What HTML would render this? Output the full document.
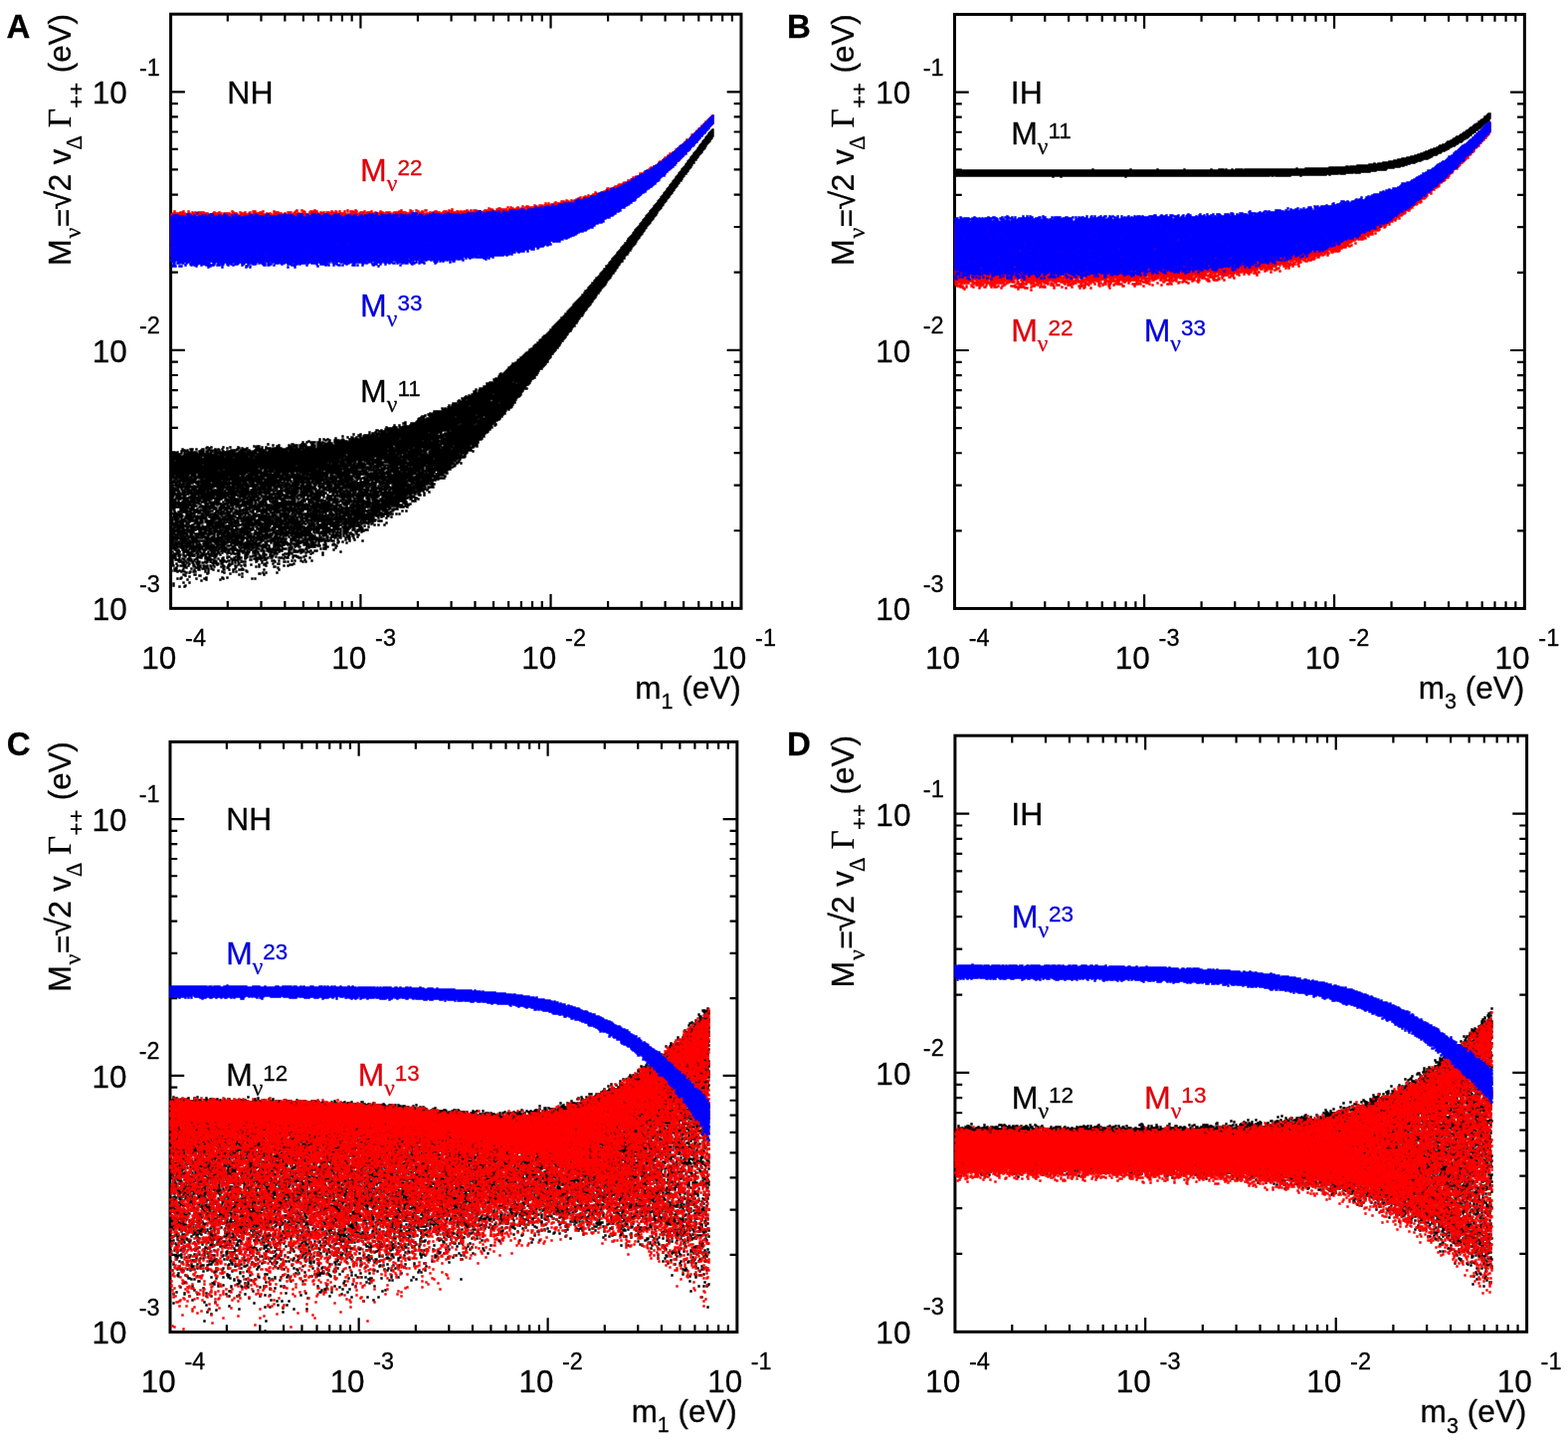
<!DOCTYPE html>
<html lang="en"><head><meta charset="utf-8"><title>Neutrino mass matrix elements versus lightest neutrino mass</title>
<style>html,body{margin:0;padding:0;background:#fff}svg{display:block}text{font-family:"Liberation Sans",sans-serif}.s{font-family:"Liberation Serif",serif}</style></head>
<body><svg width="1576" height="1449" viewBox="0 0 1576 1449">
<rect width="1576" height="1449" fill="#fff"/>
<g id="panel-A">
<rect x="171.6" y="14.2" width="573.35" height="597.15" fill="none" stroke="#000" stroke-width="3"/>
<path d="M228.83 611.35v-7.3M228.83 14.2v7.3M262.49 611.35v-7.3M262.49 14.2v7.3M286.36 611.35v-7.3M286.36 14.2v7.3M304.88 611.35v-7.3M304.88 14.2v7.3M320.02 611.35v-7.3M320.02 14.2v7.3M332.81 611.35v-7.3M332.81 14.2v7.3M343.9 611.35v-7.3M343.9 14.2v7.3M353.67 611.35v-7.3M353.67 14.2v7.3M362.42 611.35v-14.31M362.42 14.2v14.31M419.95 611.35v-7.3M419.95 14.2v7.3M453.6 611.35v-7.3M453.6 14.2v7.3M477.48 611.35v-7.3M477.48 14.2v7.3M496 611.35v-7.3M496 14.2v7.3M511.13 611.35v-7.3M511.13 14.2v7.3M523.93 611.35v-7.3M523.93 14.2v7.3M535.01 611.35v-7.3M535.01 14.2v7.3M544.79 611.35v-7.3M544.79 14.2v7.3M553.53 611.35v-14.31M553.53 14.2v14.31M611.07 611.35v-7.3M611.07 14.2v7.3M644.72 611.35v-7.3M644.72 14.2v7.3M668.6 611.35v-7.3M668.6 14.2v7.3M687.12 611.35v-7.3M687.12 14.2v7.3M702.25 611.35v-7.3M702.25 14.2v7.3M715.05 611.35v-7.3M715.05 14.2v7.3M726.13 611.35v-7.3M726.13 14.2v7.3M735.9 611.35v-7.3M735.9 14.2v7.3M171.6 533.23h7.3M744.95 533.23h-7.3M171.6 487.53h7.3M744.95 487.53h-7.3M171.6 455.11h7.3M744.95 455.11h-7.3M171.6 429.96h7.3M744.95 429.96h-7.3M171.6 409.41h7.3M744.95 409.41h-7.3M171.6 392.04h7.3M744.95 392.04h-7.3M171.6 376.99h7.3M744.95 376.99h-7.3M171.6 363.71h7.3M744.95 363.71h-7.3M171.6 351.84h14.31M744.95 351.84h-14.31M171.6 273.71h7.3M744.95 273.71h-7.3M171.6 228.02h7.3M744.95 228.02h-7.3M171.6 195.59h7.3M744.95 195.59h-7.3M171.6 170.44h7.3M744.95 170.44h-7.3M171.6 149.89h7.3M744.95 149.89h-7.3M171.6 132.52h7.3M744.95 132.52h-7.3M171.6 117.47h7.3M744.95 117.47h-7.3M171.6 104.2h7.3M744.95 104.2h-7.3M171.6 92.32h14.31M744.95 92.32h-14.31" fill="none" stroke="#000" stroke-width="2.2"/>
<g transform="translate(1 1)" fill="none" stroke-width="1.4" stroke-linecap="square">
<path stroke="#000" d="M715 129h1m-2 1h2m-3 1h3m-4 1h4m-5 1h5m-5 1h5m-6 1h6m-7 1h7m-8 1h7m-7 1h7m-8 1h7m-8 1h7m-8 1h8m-8 1h7m-8 1h7m-8 1h7m-8 1h7m-7 1h7m-8 1h7m-8 1h8m-8 1h7m-8 1h7m-8 1h7m-8 1h8m-9 1h8m-8 1h7m-8 1h7m-8 1h7m-8 1h8m-8 1h7m-8 1h7m-8 1h8m-9 1h7m-7 1h7m-8 1h8m-9 1h7m-7 1h7m-8 1h7m-8 1h8m-9 1h8m-9 1h8m-8 1h7m-8 1h8m-9 1h8m-9 1h8m-8 1h8m-9 1h7m-8 1h8m-9 1h8m-8 1h7m-8 1h8m-9 1h8m-9 1h9m-9 1h7m-8 1h8m-9 1h8m-9 1h8m-8 1h8m-9 1h8m-9 1h8m-9 1h8m-8 1h8m-9 1h8m-9 1h8m-9 1h9m-9 1h8m-9 1h8m-9 1h8m-9 1h9m-9 1h8m-9 1h8m-9 1h8m-9 1h9m-9 1h8m-9 1h8m-9 1h8m-9 1h9m-10 1h9m-9 1h8m-9 1h9m-10 1h9m-10 1h9m-10 1h9m-9 1h8m-9 1h9m-10 1h9m-10 1h10m-11 1h10m-10 1h9m-10 1h9m-10 1h10m-11 1h10m-10 1h9m-10 1h9m-10 1h10m-11 1h10m-10 1h9m-10 1h9m-10 1h9m-10 1h10m-11 1h10m-11 1h10m-10 1h10m-11 1h10m-11 1h10m-10 1h10m-11 1h10m-11 1h10m-11 1h10m-11 1h11m-12 1h11m-11 1h10m-11 1h10m-10 1h10m-12 1h11m-11 1h11m-12 1h11m-12 1h11m-12 1h11m-12 1h11m-11 1h11m-12 1h11m-12 1h12m-13 1h11m-12 1h12m-12 1h11m-12 1h12m-13 1h11m-12 1h11m-12 1h12m-13 1h13m-13 1h11m-12 1h12m-13 1h13m-14 1h12m-12 1h11m-12 1h12m-14 1h13m-13 1h12m-12 1h12m-14 1h13m-13 1h12m-13 1h13m-14 1h13m-14 1h13m-14 1h14m-14 1h12m-13 1h13m-14 1h13m-15 1h15m-15 1h14m-15 1h14m-15 1h14m-14 1h13m-15 1h15m-15 1h14m-15 1h15m-16 1h15m-16 1h15m-16 1h15m-15 1h14m-15 1h14m-16 1h16m-16 1h15m-16 1h15m-15 1h15m-17 1h15m-15 1h15m-16 1h15m-16 1h16m-17 1h16m-17 1h16m-17 1h16m-17 1h17m-18 1h17m-18 1h17m-18 1h18m-18 1h17m-18 1h17m-18 1h17m-18 1h17m-18 1h18m-19 1h18m-19 1h18m-18 1h17m-19 1h19m-19 1h18m-19 1h19m-20 1h19m-21 1h19m-19 1h19m-20 1h19m-20 1h19m-20 1h20m-21 1h20m-21 1h21m-22 1h20m-21 1h21m-22 1h22m-23 1h21m-21 1h20m-22 1h22m-22 1h21m-22 1h22m-23 1h21m-22 1h21m-22 1h22m-24 1h23m-24 1h23m-24 1h24m-24 1h23m-25 1h24m-25 1h24m-24 1h24m-26 1h24m-24 1h24m-26 1h25m-26 1h26m-27 1h26m-26 1h25m-27 1h27m-29 1h27m-27 1h27m-28 1h27m-29 1h28m-29 1h28m-29 1h29m-30 1h28m-29 1h29m-31 1h31m-31 1h30m-32 1h31m-32 1h31m-31 1h31m-33 1h33m-36 1h34m-34 1h34m-35 1h34m-35 1h34m-36 1h35m-35 1h34m-35 1h35m-36 1h33m-34 1h34m-35 1h34m-38 1h1m2 0h35m-39 1h38m-38 1h38m-39 1h37m-37 1h37m-40 1h40m-42 1h40m-40 1h38m-37 1h37m-42 1h23m2 0h16m-44 1h29m2 0h13m-44 1h43m-43 1h42m-45 1h43m-43 1h42m-46 1h48m-52 1h1m3 0h48m-52 1h1m2 0h45m-50 1h3m2 0h45m-50 1h3m2 0h44m-49 1h48m-50 1h21m2 0h27m-53 1h1m2 0h50m-56 1h1m2 0h52m-56 1h55m-58 1h56m-56 1h55m-58 1h1m3 0h3m2 0h23m2 0h24m-59 1h33m2 0h23m-58 1h58m-63 1h4m2 0h40m2 0h15m-63 1h61m-65 1h1m2 0h62m-65 1h1m2 0h17m2 0h42m-65 1h65m-71 1h1m2 0h1m2 0h64m-70 1h68m-67 1h64m2 0h1m-76 1h73m-73 1h72m-76 1h1m2 0h73m-78 1h78m-81 1h1m2 0h48m2 0h26m-82 1h4m3 0h74m-82 1h4m5 0h25m2 0h26m3 0h17m-84 1h5m3 0h74m-83 1h60m2 0h21m-83 1h82m-83 1h81m-93 1h1m10 0h80m-93 1h3m5 0h85m-93 1h3m5 0h49m2 0h14m2 0h16m2 0h1m-103 1h1m4 0h1m5 0h1m4 0h48m2 0h14m2 0h17m2 0h2m-103 1h1m4 0h1m3 0h89m3 0h1m-110 1h1m6 0h4m2 0h94m-107 1h11m3 0h93m-108 1h106m-115 1h2m3 0h1m3 0h106m-115 1h74m2 0h37m-120 1h1m5 0h1m3 0h7m2 0h54m6 0h41m-120 1h1m2 0h7m2 0h47m2 0h12m3 0h43m-135 1h1m6 0h1m8 0h1m2 0h2m2 0h62m3 0h1m2 0h42m-133 1h1m4 0h3m3 0h5m2 0h67m2 0h45m-143 1h1m15 0h3m2 0h15m2 0h105m-143 1h1m4 0h1m3 0h2m3 0h1m2 0h2m2 0h81m2 0h36m2 0h1m-150 1h1m11 0h1m3 0h2m2 0h2m3 0h123m-164 1h1m3 0h1m3 0h1m7 0h1m6 0h1m6 0h50m2 0h38m2 0h42m-164 1h1m3 0h7m4 0h5m2 0h3m5 0h90m2 0h41m-174 1h1m10 0h1m5 0h1m3 0h1m4 0h13m2 0h73m2 0h7m2 0h46m-177 1h1m3 0h9m2 0h3m2 0h1m5 0h2m4 0h145m-177 1h1m3 0h1m3 0h5m2 0h8m2 0h5m2 0h105m2 0h38m-212 1h1m23 0h2m8 0h4m6 0h2m4 0h5m2 0h8m3 0h143m-211 1h1m4 0h1m5 0h1m9 0h1m2 0h6m2 0h7m5 0h4m2 0h125m2 0h34m-225 1h1m2 0h3m13 0h1m3 0h3m9 0h3m2 0h4m2 0h7m5 0h4m2 0h76m2 0h46m3 0h9m2 0h15m3 0h5m-272 1h1m3 0h1m11 0h1m6 0h1m7 0h1m15 0h6m2 0h1m3 0h1m10 0h3m9 0h9m2 0h16m2 0h76m2 0h80m2 0h1m-273 1h6m11 0h1m3 0h1m2 0h1m7 0h2m2 0h1m4 0h1m8 0h4m2 0h1m3 0h5m2 0h9m5 0h7m2 0h2m2 0h4m2 0h10m2 0h77m2 0h17m2 0h25m2 0h32m-293 1h1m7 0h3m3 0h1m5 0h2m2 0h1m2 0h1m5 0h1m2 0h1m3 0h1m4 0h1m9 0h3m2 0h6m8 0h7m3 0h122m2 0h32m3 0h27m2 0h19m-291 1h3m2 0h1m2 0h3m3 0h1m4 0h3m4 0h4m2 0h6m2 0h1m8 0h7m3 0h6m2 0h1m5 0h12m2 0h32m2 0h106m2 0h19m2 0h41m-292 1h7m3 0h1m7 0h5m2 0h11m2 0h1m3 0h1m3 0h10m2 0h12m2 0h13m3 0h19m2 0h138m3 0h44m-303 1h3m2 0h1m3 0h1m2 0h13m2 0h5m2 0h2m3 0h2m2 0h20m4 0h6m2 0h10m2 0h168m3 0h39m5 0h1m-303 1h3m2 0h1m3 0h1m2 0h1m2 0h10m2 0h5m2 0h6m2 0h43m2 0h129m2 0h6m2 0h9m2 0h14m2 0h3m2 0h39m-297 1h10m2 0h28m2 0h214m2 0h30m2 0h6m-295 1h7m4 0h34m2 0h35m2 0h89m3 0h53m3 0h58m3 0h1m-296 1h228m2 0h66m-296 1h31m2 0h20m2 0h22m2 0h169m2 0h46m-295 1h30m2 0h29m2 0h18m2 0h89m2 0h29m3 0h88m-295 1h204m2 0h25m2 0h30m2 0h26m-291 1h169m2 0h41m2 0h22m2 0h50m2 0h1m-291 1h3m2 0h181m2 0h23m4 0h22m2 0h47m3 0h1m-290 1h174m2 0h10m2 0h3m4 0h5m2 0h35m2 0h44m2 0h5m-290 1h157m2 0h16m2 0h5m2 0h2m2 0h6m3 0h87m3 0h2m2 0h1m-291 1h159m2 0h6m2 0h11m2 0h2m2 0h17m2 0h7m6 0h69m3 0h1m-291 1h30m2 0h163m2 0h6m2 0h12m2 0h15m2 0h19m2 0h25m2 0h1m-285 1h124m2 0h68m5 0h2m2 0h24m2 0h51m3 0h2m-286 1h178m2 0h31m3 0h1m3 0h10m2 0h8m2 0h1m2 0h11m2 0h7m2 0h20m-285 1h171m2 0h5m2 0h29m2 0h43m2 0h27m-283 1h87m3 0h56m2 0h46m2 0h5m2 0h1m2 0h3m2 0h8m2 0h33m2 0h25m-281 1h52m2 0h37m3 0h2m2 0h89m5 0h23m3 0h10m3 0h23m2 0h25m-281 1h47m2 0h42m2 0h10m2 0h48m2 0h16m3 0h22m3 0h15m3 0h33m2 0h26m-278 1h91m2 0h60m2 0h43m6 0h3m2 0h5m2 0h15m2 0h3m2 0h27m3 0h9m-277 1h77m2 0h18m2 0h2m2 0h15m2 0h3m3 0h1m2 0h9m2 0h51m2 0h5m2 0h21m2 0h23m2 0h6m2 0h1m2 0h6m3 0h10m-278 1h25m2 0h48m2 0h24m2 0h6m3 0h6m2 0h4m2 0h3m2 0h27m2 0h20m2 0h39m3 0h40m2 0h8m2 0h2m-278 1h18m2 0h5m2 0h48m2 0h10m3 0h29m2 0h9m2 0h26m2 0h2m4 0h13m4 0h25m2 0h5m2 0h27m2 0h18m2 0h8m-274 1h3m2 0h13m2 0h5m2 0h41m3 0h2m3 0h58m2 0h21m3 0h5m2 0h17m2 0h4m6 0h19m2 0h25m4 0h30m-276 1h17m2 0h38m2 0h23m2 0h29m2 0h22m2 0h19m2 0h30m4 0h1m2 0h72m6 0h1m-276 1h21m2 0h70m4 0h56m2 0h17m2 0h8m3 0h5m2 0h70m2 0h11m-275 1h2m2 0h2m2 0h18m2 0h4m2 0h72m3 0h11m3 0h34m2 0h8m2 0h14m2 0h13m2 0h16m2 0h44m2 0h11m-272 1h4m2 0h16m5 0h90m3 0h43m3 0h14m4 0h1m2 0h1m3 0h15m2 0h25m2 0h12m2 0h17m-268 1h3m2 0h19m2 0h23m2 0h7m2 0h30m3 0h17m2 0h8m2 0h11m2 0h3m3 0h12m2 0h3m2 0h21m2 0h3m3 0h1m3 0h9m2 0h5m2 0h54m-265 1h55m2 0h1m2 0h15m2 0h33m2 0h1m3 0h1m2 0h1m2 0h20m2 0h6m2 0h26m2 0h6m3 0h9m3 0h1m2 0h9m2 0h28m2 0h17m-262 1h8m3 0h2m2 0h23m3 0h28m2 0h4m2 0h5m3 0h32m2 0h31m2 0h13m2 0h31m2 0h6m2 0h28m4 0h18m2 0h2m-262 1h1m2 0h2m2 0h14m3 0h3m2 0h47m2 0h5m2 0h23m2 0h1m2 0h5m3 0h7m2 0h3m2 0h5m2 0h18m2 0h11m2 0h30m3 0h30m2 0h24m-260 1h8m2 0h4m7 0h33m2 0h17m2 0h25m2 0h22m2 0h2m3 0h5m2 0h3m2 0h2m2 0h2m2 0h6m2 0h42m4 0h3m2 0h4m4 0h20m2 0h13m2 0h5m-260 1h15m2 0h2m2 0h28m2 0h3m2 0h26m3 0h38m2 0h11m3 0h2m2 0h6m3 0h5m2 0h6m2 0h25m2 0h7m2 0h3m2 0h6m3 0h19m2 0h12m7 0h1m-263 1h2m3 0h59m2 0h7m2 0h26m2 0h8m2 0h4m2 0h9m2 0h15m3 0h6m2 0h6m2 0h6m2 0h28m2 0h4m2 0h1m2 0h9m2 0h34m2 0h6m-264 1h4m2 0h37m3 0h32m4 0h3m2 0h8m2 0h4m2 0h4m2 0h12m2 0h22m4 0h12m2 0h30m3 0h3m2 0h11m2 0h21m2 0h16m2 0h1m2 0h6m-264 1h7m3 0h1m3 0h4m3 0h4m3 0h13m6 0h6m2 0h23m4 0h19m2 0h4m3 0h2m3 0h31m3 0h1m2 0h4m2 0h18m2 0h15m2 0h4m2 0h17m2 0h36m2 0h1m-259 1h8m2 0h43m2 0h9m2 0h2m2 0h8m2 0h23m2 0h1m4 0h1m2 0h6m2 0h7m2 0h1m2 0h8m2 0h3m2 0h2m3 0h13m3 0h3m4 0h1m3 0h19m2 0h6m2 0h36m2 0h11m-258 1h8m3 0h3m2 0h22m2 0h12m2 0h1m2 0h21m2 0h11m2 0h35m2 0h12m3 0h4m2 0h3m2 0h30m2 0h4m2 0h13m2 0h3m2 0h2m3 0h1m3 0h31m3 0h1m-258 1h4m2 0h3m2 0h10m2 0h11m2 0h19m2 0h29m2 0h12m2 0h2m2 0h6m2 0h14m2 0h13m2 0h9m5 0h12m2 0h13m3 0h9m2 0h12m2 0h37m2 0h1m5 0h1m-260 1h4m3 0h2m2 0h88m4 0h1m2 0h6m3 0h13m2 0h13m2 0h11m3 0h1m2 0h13m2 0h3m3 0h3m2 0h10m2 0h1m2 0h44m2 0h1m4 0h1m4 0h1m-260 1h14m2 0h50m2 0h23m2 0h19m4 0h11m3 0h7m3 0h11m2 0h3m6 0h2m2 0h1m3 0h15m2 0h21m3 0h35m2 0h2m4 0h1m-254 1h17m2 0h47m2 0h17m2 0h3m4 0h1m2 0h20m2 0h6m2 0h26m3 0h1m4 0h2m2 0h75m4 0h1m2 0h3m3 0h1m-254 1h2m2 0h5m2 0h3m5 0h5m2 0h1m2 0h28m2 0h16m2 0h1m2 0h7m2 0h6m2 0h4m2 0h1m2 0h11m2 0h5m2 0h15m2 0h10m3 0h53m2 0h11m2 0h12m3 0h4m5 0h2m3 0h1m-254 1h2m2 0h5m2 0h2m4 0h7m2 0h16m3 0h18m3 0h8m2 0h11m3 0h11m2 0h7m2 0h15m2 0h4m3 0h13m3 0h1m3 0h5m2 0h20m2 0h8m2 0h13m3 0h24m2 0h7m-244 1h1m3 0h50m3 0h6m5 0h1m2 0h18m2 0h19m2 0h11m2 0h1m3 0h4m3 0h1m3 0h9m3 0h1m2 0h5m3 0h1m5 0h11m2 0h1m2 0h7m3 0h3m2 0h7m4 0h35m-246 1h1m2 0h48m2 0h3m2 0h11m2 0h5m2 0h5m3 0h3m2 0h33m2 0h2m4 0h1m2 0h2m2 0h9m7 0h12m4 0h2m3 0h4m2 0h10m3 0h4m2 0h4m4 0h3m2 0h23m2 0h2m3 0h4m-249 1h5m2 0h3m2 0h5m3 0h10m2 0h9m3 0h7m3 0h14m2 0h4m2 0h13m3 0h11m2 0h2m2 0h5m7 0h4m2 0h2m2 0h22m3 0h12m2 0h6m2 0h3m3 0h1m2 0h6m4 0h3m2 0h6m2 0h26m4 0h2m3 0h1m2 0h1m-249 1h5m2 0h1m4 0h12m2 0h4m2 0h7m5 0h5m5 0h20m2 0h12m3 0h5m3 0h1m2 0h5m4 0h5m2 0h1m2 0h4m6 0h4m3 0h4m2 0h11m3 0h10m2 0h1m2 0h22m2 0h3m2 0h34m6 0h4m-246 1h5m2 0h1m3 0h25m2 0h3m2 0h5m4 0h1m2 0h27m2 0h1m3 0h7m4 0h8m4 0h14m2 0h8m3 0h5m3 0h6m2 0h5m4 0h10m2 0h25m3 0h34m5 0h4m-245 1h27m3 0h5m2 0h11m3 0h1m2 0h14m3 0h10m2 0h2m2 0h8m4 0h25m2 0h6m5 0h10m3 0h9m2 0h7m3 0h9m2 0h26m3 0h17m4 0h4m-237 1h20m2 0h8m4 0h17m2 0h15m3 0h11m2 0h2m2 0h5m2 0h1m6 0h31m2 0h1m2 0h22m2 0h1m2 0h2m5 0h7m3 0h2m2 0h3m2 0h38m4 0h5m2 0h1m-241 1h24m4 0h2m4 0h3m3 0h17m3 0h22m2 0h1m2 0h14m2 0h36m3 0h20m4 0h5m2 0h5m2 0h52m3 0h6m-241 1h5m2 0h19m4 0h2m2 0h9m3 0h1m3 0h4m2 0h7m2 0h11m2 0h93m3 0h3m3 0h14m2 0h4m2 0h31m2 0h4m-239 1h18m2 0h6m2 0h16m5 0h5m2 0h3m2 0h1m3 0h6m2 0h3m2 0h14m2 0h22m3 0h2m3 0h43m2 0h3m4 0h1m3 0h40m2 0h16m-238 1h18m2 0h3m5 0h18m2 0h11m2 0h2m2 0h1m2 0h2m5 0h15m2 0h1m3 0h29m2 0h2m2 0h7m2 0h21m2 0h4m2 0h52m6 0h1m2 0h4m3 0h1m-238 1h4m5 0h14m3 0h1m5 0h14m2 0h15m5 0h1m4 0h8m2 0h6m3 0h17m3 0h35m2 0h20m2 0h13m2 0h9m6 0h15m3 0h2m2 0h5m-226 1h1m6 0h7m3 0h8m2 0h7m2 0h1m4 0h3m2 0h3m2 0h4m2 0h3m2 0h2m3 0h10m3 0h26m2 0h31m2 0h36m2 0h14m3 0h22m2 0h6m-226 1h2m5 0h29m2 0h2m3 0h6m2 0h4m3 0h2m2 0h13m2 0h4m3 0h15m2 0h24m2 0h4m4 0h13m2 0h21m2 0h35m2 0h6m4 0h2m8 0h1m3 0h1m-234 1h1m3 0h13m3 0h7m2 0h10m3 0h3m2 0h3m3 0h5m3 0h9m2 0h2m2 0h4m3 0h10m3 0h2m2 0h7m2 0h3m2 0h16m4 0h3m2 0h16m2 0h1m3 0h35m2 0h9m3 0h5m2 0h3m9 0h1m3 0h1m-237 1h1m2 0h2m2 0h2m2 0h6m2 0h11m2 0h7m5 0h16m2 0h8m2 0h6m2 0h3m3 0h1m3 0h7m3 0h10m2 0h4m2 0h1m3 0h2m2 0h5m6 0h1m2 0h16m3 0h3m3 0h2m2 0h10m2 0h13m3 0h15m3 0h6m-221 1h11m4 0h9m3 0h5m2 0h4m2 0h5m2 0h12m3 0h16m4 0h3m6 0h2m2 0h4m2 0h3m2 0h1m2 0h10m2 0h26m2 0h1m2 0h1m2 0h1m3 0h4m2 0h30m2 0h10m2 0h14m3 0h1m2 0h1m-228 1h9m4 0h9m7 0h16m2 0h5m2 0h4m2 0h1m2 0h7m2 0h1m2 0h3m2 0h11m2 0h4m2 0h4m4 0h9m3 0h1m2 0h2m2 0h25m2 0h1m2 0h12m3 0h45m2 0h3m3 0h1m2 0h1m-228 1h10m3 0h6m2 0h1m2 0h1m2 0h4m2 0h5m2 0h6m2 0h1m4 0h9m4 0h4m2 0h1m3 0h2m2 0h14m2 0h1m2 0h6m2 0h11m2 0h4m2 0h1m2 0h33m2 0h1m2 0h45m3 0h2m-217 1h10m2 0h22m2 0h10m2 0h15m3 0h2m3 0h1m2 0h2m2 0h27m2 0h17m2 0h4m3 0h24m2 0h14m2 0h4m3 0h20m2 0h3m2 0h3m3 0h2m2 0h1m-222 1h7m2 0h2m3 0h21m3 0h11m3 0h3m2 0h5m2 0h21m3 0h15m2 0h6m2 0h5m2 0h42m2 0h11m3 0h26m4 0h1m2 0h1m4 0h1m4 0h1m-222 1h1m2 0h5m2 0h1m2 0h9m3 0h11m4 0h23m3 0h18m4 0h12m2 0h9m2 0h11m2 0h1m3 0h7m4 0h63m4 0h1m7 0h1m-216 1h7m2 0h4m2 0h11m2 0h3m2 0h2m4 0h24m2 0h2m2 0h15m2 0h15m2 0h7m2 0h15m2 0h3m2 0h54m2 0h15m-206 1h2m2 0h3m2 0h6m2 0h10m2 0h3m2 0h10m4 0h13m2 0h5m2 0h46m2 0h10m2 0h3m2 0h28m2 0h23m2 0h6m2 0h8m2 0h4m-212 1h2m2 0h12m2 0h9m2 0h3m2 0h9m2 0h6m2 0h1m2 0h1m2 0h9m2 0h11m3 0h5m4 0h10m2 0h33m2 0h2m2 0h1m2 0h16m2 0h7m2 0h14m2 0h1m2 0h3m2 0h7m3 0h4m-211 1h1m2 0h9m2 0h4m5 0h8m2 0h34m4 0h1m2 0h16m3 0h19m2 0h15m2 0h2m3 0h2m2 0h3m2 0h2m4 0h3m2 0h43m2 0h1m13 0h1m-217 1h7m2 0h3m3 0h3m5 0h9m4 0h19m3 0h10m3 0h36m2 0h27m2 0h6m2 0h2m3 0h18m3 0h17m2 0h8m2 0h2m13 0h1m-217 1h13m2 0h3m3 0h3m2 0h3m7 0h6m2 0h9m5 0h4m2 0h1m2 0h52m2 0h11m2 0h2m2 0h7m2 0h38m2 0h5m6 0h1m2 0h1m2 0h1m3 0h1m5 0h1m-215 1h16m2 0h4m4 0h3m2 0h1m4 0h49m2 0h5m2 0h6m3 0h8m3 0h4m2 0h1m2 0h9m6 0h7m2 0h10m3 0h11m3 0h2m3 0h11m4 0h1m9 0h1m3 0h1m5 0h1m-215 1h1m2 0h26m2 0h37m5 0h6m2 0h2m2 0h2m2 0h11m3 0h31m3 0h7m2 0h11m3 0h9m3 0h20m2 0h1m3 0h1m-197 1h11m2 0h24m2 0h18m2 0h1m3 0h1m5 0h8m2 0h2m2 0h2m2 0h10m3 0h39m2 0h16m4 0h5m4 0h12m5 0h3m6 0h1m-199 1h4m2 0h7m3 0h1m3 0h4m2 0h10m2 0h12m2 0h10m3 0h3m2 0h13m3 0h13m2 0h4m3 0h52m3 0h8m2 0h7m3 0h2m4 0h4m-193 1h3m2 0h4m2 0h30m2 0h3m3 0h3m2 0h29m3 0h19m3 0h8m2 0h13m2 0h16m3 0h19m2 0h6m3 0h3m2 0h6m2 0h3m-196 1h23m3 0h3m2 0h7m2 0h16m2 0h7m2 0h8m2 0h3m2 0h1m3 0h16m2 0h10m2 0h6m2 0h15m2 0h6m4 0h12m2 0h1m2 0h1m2 0h5m4 0h3m2 0h11m-196 1h12m2 0h7m5 0h3m2 0h18m2 0h5m2 0h6m2 0h12m4 0h2m2 0h12m2 0h11m2 0h4m2 0h7m2 0h10m3 0h1m2 0h3m2 0h14m2 0h1m2 0h1m2 0h5m7 0h4m2 0h3m-194 1h4m2 0h17m5 0h7m3 0h3m2 0h16m2 0h3m2 0h13m5 0h13m5 0h5m2 0h31m3 0h17m2 0h9m2 0h5m2 0h1m4 0h2m4 0h1m-192 1h4m2 0h10m3 0h25m3 0h20m2 0h12m2 0h8m4 0h2m2 0h42m3 0h1m2 0h10m2 0h1m2 0h1m3 0h1m2 0h2m2 0h4m2 0h3m4 0h1m-187 1h17m2 0h2m3 0h20m2 0h8m2 0h15m2 0h5m2 0h1m2 0h19m3 0h13m2 0h22m7 0h1m2 0h4m3 0h1m2 0h6m2 0h1m2 0h1m2 0h1m2 0h5m2 0h3m-189 1h2m2 0h9m2 0h2m2 0h3m2 0h9m4 0h2m4 0h1m2 0h2m3 0h23m2 0h5m2 0h1m2 0h3m2 0h11m2 0h3m2 0h2m2 0h5m2 0h2m2 0h21m4 0h1m2 0h5m4 0h10m2 0h1m2 0h3m3 0h2m4 0h1m-189 1h7m2 0h14m2 0h3m2 0h8m3 0h3m3 0h1m2 0h23m3 0h8m2 0h15m3 0h3m2 0h1m2 0h4m2 0h1m2 0h11m2 0h2m2 0h7m4 0h1m2 0h2m2 0h2m3 0h10m2 0h1m3 0h3m2 0h1m4 0h1m-188 1h15m2 0h21m2 0h4m2 0h29m2 0h24m2 0h7m2 0h1m5 0h1m3 0h10m2 0h2m3 0h8m2 0h2m5 0h2m2 0h6m3 0h2m4 0h5m3 0h1m3 0h1m-188 1h18m2 0h12m2 0h18m2 0h8m2 0h28m2 0h5m2 0h15m4 0h6m2 0h1m2 0h1m2 0h1m2 0h17m2 0h2m2 0h1m3 0h1m2 0h1m2 0h1m4 0h1m2 0h2m3 0h1m-184 1h7m2 0h9m2 0h6m8 0h34m2 0h3m3 0h1m3 0h1m2 0h1m2 0h10m4 0h16m4 0h6m2 0h1m4 0h22m2 0h1m2 0h1m6 0h1m7 0h1m2 0h2m4 0h1m-184 1h2m2 0h1m3 0h7m2 0h1m2 0h12m2 0h19m2 0h3m2 0h7m2 0h3m3 0h17m4 0h8m2 0h1m2 0h2m2 0h1m5 0h9m2 0h12m2 0h19m3 0h1m7 0h1m3 0h1m4 0h1m7 0h1m-193 1h5m2 0h1m2 0h62m4 0h7m2 0h1m4 0h2m2 0h22m4 0h2m2 0h9m2 0h2m3 0h3m2 0h1m2 0h4m2 0h5m2 0h3m4 0h1m3 0h1m6 0h1m12 0h1m-193 1h2m2 0h24m5 0h8m2 0h29m2 0h6m2 0h4m2 0h3m3 0h3m3 0h1m2 0h14m3 0h1m5 0h12m2 0h6m2 0h1m5 0h1m12 0h2m3 0h1m3 0h1m-177 1h23m2 0h1m2 0h1m3 0h8m4 0h4m2 0h7m3 0h30m5 0h1m4 0h1m2 0h6m2 0h8m2 0h10m2 0h5m2 0h4m4 0h1m6 0h1m7 0h1m3 0h1m8 0h1m-177 1h12m2 0h6m2 0h1m2 0h5m2 0h6m2 0h2m2 0h11m5 0h1m2 0h26m3 0h5m6 0h7m2 0h17m4 0h6m2 0h5m2 0h1m4 0h3m6 0h3m-164 1h6m2 0h14m2 0h5m2 0h11m3 0h8m2 0h5m2 0h4m2 0h30m4 0h11m3 0h3m4 0h4m5 0h17m3 0h3m6 0h5m-165 1h46m2 0h4m2 0h3m2 0h3m4 0h3m2 0h10m2 0h11m2 0h1m4 0h9m8 0h2m2 0h6m6 0h9m2 0h3m5 0h3m8 0h1m-166 1h16m2 0h13m2 0h21m6 0h4m3 0h1m2 0h16m4 0h5m2 0h1m4 0h2m2 0h2m2 0h1m6 0h4m2 0h1m3 0h2m6 0h9m8 0h5m7 0h1m-165 1h5m4 0h3m2 0h1m2 0h14m2 0h12m2 0h9m2 0h6m4 0h10m2 0h3m2 0h3m2 0h2m2 0h5m2 0h1m2 0h4m3 0h4m2 0h4m13 0h1m2 0h1m11 0h1m2 0h3m9 0h1m-164 1h3m2 0h1m3 0h5m2 0h7m2 0h22m2 0h16m2 0h1m4 0h1m2 0h5m3 0h4m2 0h1m4 0h20m2 0h3m2 0h1m5 0h4m2 0h2m13 0h1m2 0h3m7 0h1m-160 1h4m3 0h7m3 0h8m3 0h3m4 0h9m2 0h9m2 0h13m2 0h1m2 0h2m2 0h3m4 0h4m2 0h16m6 0h3m2 0h3m2 0h6m2 0h1m3 0h1m3 0h3m16 0h1m-163 1h1m3 0h4m3 0h6m2 0h4m2 0h4m3 0h1m3 0h1m2 0h8m2 0h5m2 0h2m2 0h2m3 0h8m2 0h3m3 0h6m2 0h4m2 0h6m2 0h2m2 0h4m6 0h1m4 0h11m3 0h4m3 0h3m23 0h1m-170 1h1m4 0h3m3 0h11m2 0h2m2 0h1m2 0h2m3 0h1m2 0h4m3 0h2m2 0h1m2 0h5m3 0h1m4 0h2m2 0h8m3 0h6m5 0h1m4 0h8m2 0h1m9 0h3m2 0h5m2 0h3m2 0h4m3 0h1m9 0h1m17 0h1m-168 1h5m4 0h1m3 0h5m4 0h3m2 0h4m2 0h2m2 0h9m2 0h1m4 0h13m3 0h1m2 0h3m4 0h3m2 0h1m4 0h2m6 0h1m2 0h4m7 0h8m8 0h1m4 0h1m4 0h3m9 0h1m-153 1h10m2 0h1m3 0h8m2 0h2m2 0h11m2 0h4m2 0h1m6 0h1m3 0h1m2 0h6m5 0h4m6 0h2m2 0h1m3 0h4m3 0h2m2 0h4m5 0h7m2 0h1m18 0h1m11 0h1m-153 1h5m2 0h3m2 0h12m2 0h1m2 0h6m3 0h8m3 0h1m17 0h2m5 0h3m5 0h4m2 0h2m2 0h4m3 0h4m9 0h1m5 0h1m4 0h3m9 0h1m16 0h1m-153 1h5m2 0h2m3 0h3m3 0h6m2 0h6m2 0h2m2 0h8m10 0h3m6 0h4m5 0h3m2 0h6m4 0h2m2 0h1m5 0h4m2 0h1m8 0h1m2 0h1m4 0h6m5 0h3m-135 1h4m3 0h1m5 0h1m3 0h1m7 0h5m3 0h5m4 0h2m7 0h1m3 0h3m4 0h8m3 0h3m2 0h2m4 0h10m2 0h1m2 0h2m3 0h1m2 0h4m2 0h4m4 0h1m3 0h5m2 0h1m5 0h1m-139 1h4m3 0h1m2 0h2m4 0h3m5 0h2m2 0h2m3 0h6m4 0h1m2 0h1m3 0h2m3 0h1m3 0h1m2 0h1m3 0h4m3 0h2m7 0h9m2 0h4m2 0h2m6 0h6m2 0h2m4 0h1m5 0h3m8 0h1m-139 1h1m2 0h5m2 0h3m2 0h5m2 0h4m7 0h9m4 0h1m3 0h2m7 0h9m5 0h1m4 0h2m2 0h8m2 0h3m17 0h1m20 0h1m-134 1h1m2 0h6m3 0h1m2 0h5m2 0h1m2 0h1m9 0h9m4 0h5m3 0h2m2 0h7m2 0h1m8 0h2m4 0h2m3 0h1m2 0h3m5 0h3m4 0h1m12 0h1m2 0h1m5 0h1m3 0h1m6 0h1m-142 1h2m5 0h5m2 0h1m3 0h6m2 0h3m5 0h3m2 0h1m3 0h3m3 0h10m2 0h1m2 0h1m2 0h1m2 0h5m10 0h2m4 0h1m9 0h4m3 0h1m4 0h2m2 0h1m3 0h1m2 0h1m5 0h3m2 0h1m5 0h1m-142 1h2m6 0h9m4 0h1m3 0h4m2 0h6m2 0h7m4 0h3m2 0h1m5 0h1m2 0h1m2 0h1m2 0h5m10 0h1m5 0h1m4 0h1m7 0h1m8 0h2m2 0h1m14 0h1m2 0h1m-135 1h1m3 0h1m5 0h2m3 0h3m2 0h2m2 0h4m2 0h2m2 0h1m5 0h7m2 0h2m6 0h1m2 0h1m2 0h1m3 0h1m22 0h1m2 0h3m5 0h1m4 0h2m14 0h1m-124 1h2m3 0h1m6 0h3m3 0h1m3 0h1m3 0h2m14 0h1m2 0h3m2 0h2m6 0h4m5 0h2m4 0h2m5 0h1m7 0h1m4 0h2m7 0h1m4 0h2m10 0h5m-124 1h3m3 0h1m2 0h6m2 0h1m4 0h2m2 0h4m2 0h2m2 0h1m2 0h1m2 0h1m3 0h1m5 0h1m4 0h3m4 0h1m2 0h1m2 0h1m2 0h2m5 0h1m7 0h1m4 0h3m17 0h1m3 0h5m-120 1h1m3 0h1m2 0h6m2 0h1m4 0h2m3 0h3m2 0h5m2 0h2m2 0h1m6 0h4m3 0h2m5 0h2m4 0h1m3 0h1m10 0h1m2 0h1m6 0h1m7 0h2m8 0h1m3 0h1m-113 1h1m7 0h3m7 0h7m3 0h4m3 0h1m2 0h1m6 0h1m2 0h1m2 0h2m7 0h1m19 0h1m2 0h1m14 0h2m2 0h1m-105 1h3m6 0h1m2 0h1m4 0h1m4 0h4m2 0h2m2 0h3m2 0h1m11 0h1m3 0h2m6 0h1m6 0h1m35 0h1m-105 1h3m6 0h1m7 0h1m2 0h1m3 0h2m2 0h4m2 0h1m2 0h3m9 0h2m4 0h1m3 0h3m3 0h5m20 0h1m14 0h1m-109 1h1m2 0h3m2 0h1m2 0h1m11 0h1m3 0h2m5 0h1m2 0h1m4 0h1m4 0h1m5 0h1m4 0h1m3 0h1m5 0h5m2 0h1m17 0h1m14 0h1m-109 1h1m2 0h11m5 0h1m2 0h3m9 0h1m2 0h1m9 0h1m3 0h1m10 0h1m2 0h1m9 0h2m-71 1h1m3 0h1m2 0h3m2 0h2m2 0h3m9 0h1m2 0h1m13 0h3m8 0h1m2 0h1m10 0h1m15 0h1m2 0h1m10 0h1m-92 1h1m2 0h1m17 0h2m15 0h1m5 0h1m11 0h1m16 0h2m2 0h1m2 0h1m10 0h1m-95 1h2m9 0h2m11 0h1m22 0h1m8 0h1m2 0h1m16 0h2m3 0h1m-82 1h3m8 0h2m3 0h2m38 0h1m24 0h1m-80 1h1m3 0h1m9 0h2m41 0h1m-62 1h1m7 0h1m16 0h1m15 0h1m4 0h1m14 0h1m-66 1h1m2 0h2m14 0h1m7 0h3m15 0h2m3 0h1m24 0h1m2 0h1m-79 1h1m2 0h1m6 0h1m8 0h1m7 0h3m13 0h1m2 0h1m28 0h1m2 0h1m-69 1h1m13 0h1m4 0h1m13 0h1m-20 1h1m-19 1h1m5 0h1m-17 1h1m9 0h1m5 0h1m-17 1h1m-1 1h1m11 0h1m-13 1h1m5 0h1m4 0h2m-7 1h1m4 0h1"/>
<path stroke="#ff0000" d="M715 115h1m-2 1h2m-3 1h3m-4 1h4m-5 1h5m-6 1h6m-8 1h8m-8 1h8m-9 1h9m-10 1h9m-11 1h10m-10 1h9m-10 1h9m-11 1h10m-10 1h9m-11 1h10m-10 1h9m-10 1h10m-11 1h9m-12 1h12m-12 1h11m-11 1h10m-11 1h10m-10 1h9m-13 1h12m-12 1h11m-12 1h12m-13 1h12m-13 1h12m-13 1h12m-13 1h11m-13 1h12m-13 1h13m-14 1h13m-15 1h14m-14 1h13m-14 1h13m-14 1h13m-17 1h15m-15 1h15m-17 1h17m-17 1h16m-19 1h17m-17 1h16m-17 1h16m-17 1h17m-20 1h19m-20 1h18m-18 1h18m-19 1h17m-18 1h18m-21 1h19m-22 1h21m-22 1h22m-23 1h21m-22 1h21m-23 1h22m-24 1h22m-26 1h26m-26 1h25m-25 1h25m-29 1h26m-29 1h28m-28 1h27m-29 1h28m-31 1h30m-30 1h30m-34 1h31m-32 1h31m-35 1h35m-36 1h33m-36 1h36m-37 1h37m-44 1h2m2 0h37m-41 1h40m-41 1h1m2 0h37m-42 1h42m-51 1h1m5 0h43m-49 1h2m3 0h41m-48 1h48m-53 1h1m3 0h49m-56 1h1m2 0h50m-58 1h1m2 0h53m-58 1h3m2 0h53m-60 1h58m-68 1h1m4 0h1m2 0h59m-72 1h3m2 0h3m2 0h62m-78 1h1m5 0h68m-84 1h1m2 0h1m5 0h75m-84 1h1m2 0h1m2 0h75m-92 1h1m4 0h3m2 0h81m-103 1h1m3 0h2m6 0h3m2 0h84m-116 1h1m2 0h1m6 0h1m4 0h1m2 0h98m-135 1h1m9 0h2m7 0h1m2 0h3m3 0h3m2 0h1m2 0h98m-171 1h1m36 0h4m4 0h10m3 0h1m2 0h13m2 0h93m-325 1h1m4 0h1m12 0h1m32 0h1m7 0h1m45 0h1m8 0h1m5 0h1m8 0h2m22 0h1m2 0h1m14 0h1m3 0h1m2 0h3m8 0h3m2 0h4m3 0h123m-447 1h1m8 0h1m4 0h1m43 0h1m20 0h3m7 0h1m10 0h1m21 0h2m4 0h3m6 0h7m14 0h1m3 0h1m3 0h1m4 0h1m2 0h1m2 0h3m2 0h2m7 0h1m6 0h1m8 0h1m18 0h3m8 0h3m3 0h3m3 0h1m2 0h2m8 0h2m7 0h3m2 0h4m4 0h2m2 0h1m2 0h5m2 0h1m2 0h7m3 0h133m-444 1h1m5 0h4m4 0h1m3 0h1m2 0h1m2 0h6m10 0h1m4 0h1m12 0h2m6 0h1m4 0h1m4 0h1m2 0h3m4 0h4m10 0h5m9 0h4m3 0h3m6 0h2m4 0h8m3 0h1m2 0h1m2 0h3m2 0h2m2 0h2m2 0h1m4 0h1m2 0h1m2 0h7m3 0h5m2 0h5m3 0h1m4 0h3m3 0h4m4 0h12m4 0h3m5 0h1m2 0h3m6 0h1m2 0h7m3 0h173m-444 1h12m3 0h2m2 0h16m5 0h9m2 0h6m3 0h4m3 0h6m3 0h2m2 0h10m4 0h1m2 0h1m3 0h8m3 0h1m2 0h4m2 0h2m3 0h1m2 0h4m4 0h9m2 0h4m2 0h11m2 0h6m5 0h7m2 0h5m2 0h5m2 0h18m2 0h20m3 0h1m2 0h5m2 0h189m-445 1h16m2 0h30m2 0h1m2 0h14m3 0h9m3 0h19m2 0h12m2 0h18m5 0h21m2 0h279m2 0h1m-445 1h442m-442 1h149m2 0h291m-442 1h437m2 0h1m-440 1h437m-437 1h435m-435 1h432m-432 1h431m-430 1h428m-429 1h428m-428 1h426m-426 1h420m4 0h1m-425 1h420m-420 1h419m-419 1h384m2 0h31m-417 1h415m-415 1h415m-415 1h411m-411 1h404m2 0h2m-408 1h404m2 0h2m-408 1h400m-400 1h296m2 0h101m3 0h1m-403 1h399m3 0h1m-403 1h396m-396 1h394m-394 1h181m2 0h206m-389 1h388m-388 1h217m2 0h158m3 0h2m2 0h1m-385 1h378m6 0h1m-385 1h378m-378 1h369m3 0h2m-373 1h161m2 0h201m2 0h2m-368 1h357m3 0h4m-365 1h31m2 0h323m6 0h2m-364 1h260m2 0h87m2 0h4m-355 1h8m2 0h13m2 0h306m2 0h7m3 0h6m2 0h1m-352 1h8m2 0h29m2 0h301m3 0h1m-346 1h52m2 0h288m-342 1h51m2 0h272m2 0h5m3 0h2m-337 1h321m6 0h4m5 0h1m-337 1h303m2 0h12m3 0h1m-321 1h138m2 0h88m2 0h5m2 0h35m2 0h23m2 0h2m4 0h2m5 0h1m2 0h3m-318 1h209m2 0h17m2 0h42m2 0h10m8 0h5m8 0h2m10 0h1m-316 1h6m3 0h27m2 0h170m2 0h43m3 0h8m5 0h1m2 0h1m3 0h1m3 0h1m12 0h1m-294 1h40m2 0h28m2 0h47m2 0h64m3 0h3m2 0h9m4 0h2m3 0h11m3 0h6m2 0h3m2 0h8m9 0h3m4 0h2m4 0h1m-269 1h16m2 0h1m2 0h19m2 0h18m2 0h2m3 0h44m2 0h6m2 0h8m2 0h18m2 0h5m4 0h16m4 0h16m2 0h3m4 0h3m2 0h1m5 0h3m5 0h4m2 0h1m8 0h7m9 0h1m7 0h1m4 0h1m-271 1h1m2 0h1m2 0h20m2 0h7m3 0h6m2 0h5m2 0h6m3 0h1m2 0h19m2 0h4m2 0h1m2 0h4m4 0h9m8 0h1m4 0h5m3 0h11m2 0h1m4 0h8m6 0h8m2 0h3m2 0h1m4 0h16m5 0h4m2 0h2m6 0h1m5 0h1m5 0h1m14 0h1m17 0h1m-266 1h3m4 0h15m5 0h4m4 0h1m2 0h6m2 0h1m3 0h1m4 0h4m3 0h11m4 0h5m3 0h4m3 0h1m2 0h1m2 0h1m4 0h1m5 0h3m4 0h1m3 0h2m3 0h5m8 0h1m4 0h1m2 0h2m3 0h8m3 0h1m4 0h1m7 0h2m3 0h1m4 0h1m4 0h2m2 0h1m4 0h2m5 0h3m4 0h1m6 0h1m-219 1h1m12 0h1m5 0h1m5 0h1m2 0h1m4 0h1m20 0h2m6 0h1m2 0h3m15 0h3m2 0h1m12 0h1m12 0h1m2 0h3m5 0h1m10 0h1m7 0h2m6 0h1m7 0h1m28 0h1m8 0h1m-180 1h1m6 0h1m6 0h1m11 0h1m9 0h1m6 0h1m25 0h1m25 0h1m2 0h1m-92 1h1m18 0h1m9 0h1"/>
<path stroke="#0000ff" d="M715 115h1m-2 1h2m-3 1h3m-4 1h4m-5 1h5m-6 1h6m-6 1h6m-8 1h8m-9 1h9m-10 1h9m-9 1h8m-10 1h9m-9 1h8m-10 1h10m-11 1h10m-10 1h9m-11 1h10m-11 1h10m-11 1h11m-12 1h10m-11 1h10m-11 1h11m-12 1h10m-11 1h11m-11 1h10m-13 1h12m-12 1h11m-13 1h13m-13 1h11m-13 1h12m-14 1h14m-15 1h14m-14 1h12m-14 1h13m-14 1h14m-14 1h13m-15 1h14m-16 1h14m-14 1h14m-15 1h15m-17 1h14m-16 1h16m-16 1h15m-16 1h15m-18 1h17m-18 1h17m-17 1h16m-19 1h17m-18 1h18m-19 1h18m-20 1h20m-22 1h20m-20 1h20m-22 1h20m-21 1h20m-24 1h1m2 0h20m-25 1h23m-23 1h23m-23 1h21m-24 1h24m-26 1h25m-27 1h27m-29 1h26m-26 1h25m-29 1h28m-28 1h28m-29 1h28m-31 1h29m-31 1h30m-32 1h32m-33 1h31m-33 1h32m-34 1h33m-39 1h1m3 0h33m-39 1h38m-42 1h1m3 0h36m-40 1h1m2 0h36m-44 1h1m2 0h41m-47 1h45m-47 1h45m-45 1h44m-50 1h49m-49 1h48m-55 1h1m2 0h50m-59 1h1m5 0h1m2 0h49m-59 1h59m-61 1h60m-60 1h57m-68 1h2m2 0h1m2 0h61m-73 1h71m-78 1h1m5 0h71m-82 1h1m4 0h1m2 0h72m-92 1h1m5 0h1m2 0h81m-90 1h7m2 0h81m-104 1h2m5 0h1m2 0h9m2 0h79m-111 1h5m3 0h1m2 0h3m3 0h94m-143 1h2m12 0h1m5 0h1m4 0h1m5 0h112m-145 1h5m5 0h4m2 0h4m2 0h1m4 0h3m2 0h111m-424 1h1m179 0h1m35 0h5m16 0h1m14 0h1m19 0h2m2 0h3m2 0h5m2 0h1m2 0h14m2 0h114m-431 1h2m8 0h1m13 0h2m11 0h1m10 0h1m14 0h1m5 0h1m11 0h1m16 0h1m12 0h1m2 0h2m4 0h2m4 0h3m2 0h1m6 0h3m8 0h1m2 0h1m30 0h4m3 0h1m4 0h1m7 0h1m6 0h1m3 0h1m11 0h5m3 0h1m9 0h1m2 0h7m5 0h1m2 0h4m2 0h1m2 0h2m4 0h19m2 0h5m2 0h10m2 0h114m-445 1h5m9 0h4m3 0h1m7 0h1m2 0h1m3 0h4m6 0h1m4 0h3m5 0h1m2 0h2m13 0h3m2 0h3m8 0h3m10 0h1m2 0h1m2 0h8m5 0h1m2 0h2m4 0h2m3 0h4m2 0h3m3 0h6m4 0h3m2 0h1m8 0h3m4 0h2m4 0h2m3 0h12m4 0h10m2 0h5m2 0h6m2 0h8m3 0h4m3 0h1m2 0h43m2 0h141m-444 1h13m3 0h7m4 0h4m2 0h5m3 0h3m2 0h10m4 0h1m2 0h2m2 0h1m5 0h8m2 0h9m2 0h1m3 0h25m3 0h5m7 0h8m2 0h22m4 0h11m3 0h20m2 0h17m2 0h6m2 0h15m2 0h14m2 0h79m2 0h92m-444 1h4m2 0h10m2 0h22m2 0h17m3 0h35m2 0h18m2 0h48m2 0h29m2 0h28m3 0h210m-441 1h4m2 0h45m2 0h192m2 0h194m-441 1h163m2 0h272m-437 1h435m-435 1h435m-435 1h348m2 0h85m-435 1h433m-433 1h429m-429 1h426m-426 1h426m-426 1h424m-424 1h424m-424 1h420m-420 1h418m-418 1h417m-417 1h182m2 0h230m-414 1h410m-410 1h408m-408 1h407m-407 1h405m-405 1h402m-402 1h400m-400 1h394m2 0h2m-398 1h394m-394 1h391m-391 1h381m3 0h7m-391 1h259m2 0h120m-381 1h167m2 0h8m2 0h203m-382 1h382m-382 1h375m3 0h1m-379 1h3m2 0h369m-374 1h365m3 0h2m-370 1h365m3 0h1m-369 1h359m3 0h3m-365 1h345m2 0h8m3 0h1m-359 1h293m2 0h51m2 0h7m3 0h1m-359 1h94m2 0h245m2 0h3m3 0h1m-350 1h343m-343 1h340m2 0h1m-343 1h95m2 0h39m2 0h170m2 0h24m3 0h1m-338 1h35m2 0h41m2 0h42m2 0h118m2 0h1m2 0h71m2 0h4m-324 1h36m2 0h179m2 0h40m2 0h32m3 0h1m2 0h5m2 0h14m3 0h1m-324 1h23m2 0h119m2 0h45m2 0h45m2 0h54m2 0h1m3 0h1m13 0h3m2 0h1m-320 1h167m2 0h41m2 0h37m2 0h35m2 0h2m2 0h2m22 0h1m-317 1h69m2 0h173m2 0h1m2 0h4m2 0h2m4 0h1m2 0h4m2 0h5m2 0h1m2 0h1m2 0h2m8 0h1m-294 1h4m3 0h29m2 0h56m2 0h31m2 0h31m2 0h34m2 0h4m2 0h18m4 0h15m2 0h1m2 0h1m2 0h5m10 0h4m2 0h1m2 0h1m6 0h1m2 0h2m-283 1h2m2 0h7m2 0h3m2 0h19m3 0h3m2 0h16m2 0h21m2 0h7m2 0h2m2 0h56m2 0h1m2 0h1m2 0h2m3 0h29m2 0h1m2 0h8m2 0h11m2 0h11m2 0h7m2 0h6m10 0h2m13 0h1m-279 1h2m2 0h3m2 0h2m2 0h1m3 0h20m3 0h2m3 0h1m2 0h3m3 0h5m3 0h4m3 0h3m3 0h9m2 0h1m2 0h4m2 0h4m4 0h3m2 0h4m3 0h5m2 0h11m2 0h1m3 0h6m3 0h8m5 0h4m7 0h5m4 0h2m7 0h2m2 0h1m5 0h5m3 0h1m4 0h1m3 0h1m3 0h2m2 0h1m4 0h1m2 0h3m3 0h4m4 0h1m4 0h1m10 0h1m-264 1h2m10 0h1m4 0h8m3 0h14m2 0h7m3 0h2m2 0h7m4 0h2m4 0h1m4 0h3m7 0h3m2 0h4m2 0h1m7 0h1m5 0h10m2 0h1m6 0h1m9 0h1m3 0h9m4 0h1m2 0h4m2 0h1m3 0h1m5 0h3m2 0h1m4 0h1m9 0h5m3 0h1m4 0h1m14 0h1m11 0h1m-242 1h4m3 0h3m3 0h1m5 0h1m2 0h3m4 0h1m4 0h8m3 0h3m2 0h1m5 0h1m4 0h1m8 0h1m3 0h2m2 0h1m13 0h2m2 0h2m4 0h1m17 0h4m11 0h1m10 0h1m7 0h1m2 0h1m4 0h1m4 0h2m2 0h1m9 0h3m2 0h1m4 0h1m10 0h1m4 0h1m21 0h1m-230 1h4m3 0h3m14 0h1m11 0h3m11 0h1m23 0h2m2 0h1m37 0h1m6 0h1m22 0h1m60 0h1m-172 1h1m13 0h1m23 0h1m3 0h1m37 0h1m6 0h1"/>
</g>
<g stroke="#000" stroke-width="0.3" stroke-linejoin="round">
<text x="142.28" y="672.24" font-size="31.52">10<tspan x="186.07" y="648.52" font-size="23.51">-4</tspan></text>
<text x="333.28" y="672.24" font-size="31.52">10<tspan x="377.07" y="648.52" font-size="23.51">-3</tspan></text>
<text x="524.28" y="672.24" font-size="31.52">10<tspan x="568.07" y="648.52" font-size="23.51">-2</tspan></text>
<text x="715.28" y="672.24" font-size="31.52">10<tspan x="759.07" y="648.52" font-size="23.51">-1</tspan></text>
<text x="92.65" y="623.21" font-size="31.52">10<tspan x="140.05" y="594.59" font-size="23.51">-3</tspan></text>
<text x="92.65" y="363.71" font-size="31.52">10<tspan x="140.05" y="335.1" font-size="23.51">-2</tspan></text>
<text x="92.65" y="104.22" font-size="31.52">10<tspan x="140.05" y="75.6" font-size="23.51">-1</tspan></text>
<text x="744.85" y="702.36" font-size="31.52" text-anchor="end">m<tspan font-size="21.51" dy="10.01">1</tspan><tspan dy="-10.01"> (eV)</tspan></text>
<text transform="translate(70.74 266.95) rotate(-90) scale(1.0006)" font-size="32"><tspan x="0" y="0" font-size="32">M</tspan><tspan x="27.4" y="10.4" font-size="24" class="s">ν</tspan><tspan x="38.6" y="2.8" font-size="32">=</tspan><tspan x="56.29" y="0.6" font-size="34.5">√</tspan><tspan x="74.46" y="0" font-size="32">2 </tspan><tspan x="101.6" y="0" font-size="31">v</tspan><tspan x="116.3" y="10.8" font-size="22.5" class="s">Δ </tspan><tspan x="138.6" y="0" font-size="33.5" class="s">Γ</tspan><tspan x="158.2" y="13" font-size="22">++ </tspan><tspan x="193.6" y="0" font-size="31.3">(eV)</tspan></text>
<text x="228.37" y="103.5" font-size="32.02">NH</text>
<text x="362.07" y="181.8" font-size="32.02" fill="#e0000c" stroke="#e0000c">M<tspan class="s" font-size="23.51" dy="10.01">ν</tspan><tspan font-size="22.51" dy="-15.61">22</tspan></text>
<text x="362.07" y="318" font-size="32.02" fill="#0000de" stroke="#0000de">M<tspan class="s" font-size="23.51" dy="10.01">ν</tspan><tspan font-size="22.51" dy="-15.61">33</tspan></text>
<text x="362.07" y="403.6" font-size="32.02">M<tspan class="s" font-size="23.51" dy="10.01">ν</tspan><tspan font-size="22.51" dy="-15.61">11</tspan></text>
<text x="6.58" y="37.7" font-size="33" font-weight="bold">A</text>
</g>
</g>
<g id="panel-B">
<rect x="959.45" y="14.45" width="572.9" height="597" fill="none" stroke="#000" stroke-width="3"/>
<path d="M1016.64 611.45v-7.3M1016.64 14.45v7.3M1050.26 611.45v-7.3M1050.26 14.45v7.3M1074.12 611.45v-7.3M1074.12 14.45v7.3M1092.63 611.45v-7.3M1092.63 14.45v7.3M1107.75 611.45v-7.3M1107.75 14.45v7.3M1120.54 611.45v-7.3M1120.54 14.45v7.3M1131.61 611.45v-7.3M1131.61 14.45v7.3M1141.38 611.45v-7.3M1141.38 14.45v7.3M1150.12 611.45v-14.3M1150.12 14.45v14.3M1207.6 611.45v-7.3M1207.6 14.45v7.3M1241.23 611.45v-7.3M1241.23 14.45v7.3M1265.09 611.45v-7.3M1265.09 14.45v7.3M1283.6 611.45v-7.3M1283.6 14.45v7.3M1298.72 611.45v-7.3M1298.72 14.45v7.3M1311.5 611.45v-7.3M1311.5 14.45v7.3M1322.58 611.45v-7.3M1322.58 14.45v7.3M1332.35 611.45v-7.3M1332.35 14.45v7.3M1341.08 611.45v-14.3M1341.08 14.45v14.3M1398.57 611.45v-7.3M1398.57 14.45v7.3M1432.2 611.45v-7.3M1432.2 14.45v7.3M1456.06 611.45v-7.3M1456.06 14.45v7.3M1474.56 611.45v-7.3M1474.56 14.45v7.3M1489.68 611.45v-7.3M1489.68 14.45v7.3M1502.47 611.45v-7.3M1502.47 14.45v7.3M1513.54 611.45v-7.3M1513.54 14.45v7.3M1523.31 611.45v-7.3M1523.31 14.45v7.3M959.45 533.35h7.3M1532.35 533.35h-7.3M959.45 487.66h7.3M1532.35 487.66h-7.3M959.45 455.25h7.3M1532.35 455.25h-7.3M959.45 430.1h7.3M1532.35 430.1h-7.3M959.45 409.56h7.3M1532.35 409.56h-7.3M959.45 392.19h7.3M1532.35 392.19h-7.3M959.45 377.14h7.3M1532.35 377.14h-7.3M959.45 363.87h7.3M1532.35 363.87h-7.3M959.45 352h14.3M1532.35 352h-14.3M959.45 273.9h7.3M1532.35 273.9h-7.3M959.45 228.21h7.3M1532.35 228.21h-7.3M959.45 195.8h7.3M1532.35 195.8h-7.3M959.45 170.65h7.3M1532.35 170.65h-7.3M959.45 150.11h7.3M1532.35 150.11h-7.3M959.45 132.74h7.3M1532.35 132.74h-7.3M959.45 117.7h7.3M1532.35 117.7h-7.3M959.45 104.42h7.3M1532.35 104.42h-7.3M959.45 92.55h14.3M1532.35 92.55h-14.3" fill="none" stroke="#000" stroke-width="2.2"/>
<g transform="translate(1 1)" fill="none" stroke-width="1.4" stroke-linecap="square">
<path stroke="#000" d="M1495 113h2m-3 1h3m-4 1h4m-6 1h6m-6 1h6m-7 1h7m-9 1h8m-9 1h9m-11 1h11m-11 1h9m-11 1h10m-12 1h10m-11 1h10m-11 1h10m-12 1h11m-12 1h11m-12 1h10m-12 1h11m-12 1h10m-12 1h12m-13 1h11m-13 1h11m-12 1h12m-15 1h13m-14 1h13m-15 1h14m-15 1h13m-15 1h13m-16 1h15m-16 1h15m-16 1h13m-16 1h15m-18 1h16m-17 1h16m-18 1h15m-18 1h16m-19 1h18m-20 1h18m-21 1h19m-21 1h18m-21 1h20m-23 1h20m-23 1h22m-26 1h22m-26 1h25m-30 1h28m-32 1h30m-34 1h29m-34 1h32m-38 1h34m-43 1h1m3 0h37m-46 1h41m-53 1h50m-61 1h2m2 0h54m-75 1h71m-104 1h1m8 0h89m-303 1h1m37 0h1m26 0h1m26 0h1m26 0h1m7 0h5m2 0h1m5 0h1m3 0h7m2 0h143m-434 1h433m-433 1h423m-423 1h417m-417 1h400m2 0h5m-407 1h385m2 0h5m-392 1h373m3 0h1m-377 1h316m2 0h2m2 0h15m10 0h1m-250 1h1m7 0h1m64 0h1"/>
<path stroke="#ff0000" d="M1495 123h2m-3 1h3m-4 1h4m-6 1h6m-7 1h7m-7 1h7m-8 1h8m-9 1h9m-10 1h10m-12 1h12m-13 1h12m-12 1h12m-14 1h13m-13 1h12m-13 1h12m-14 1h14m-14 1h12m-14 1h14m-15 1h13m-14 1h13m-13 1h13m-15 1h13m-15 1h15m-15 1h15m-17 1h15m-16 1h15m-16 1h14m-16 1h16m-16 1h16m-18 1h17m-18 1h16m-18 1h18m-18 1h17m-18 1h16m-19 1h19m-19 1h19m-21 1h19m-20 1h19m-20 1h19m-21 1h20m-22 1h21m-21 1h19m-20 1h20m-22 1h21m-22 1h21m-23 1h22m-24 1h24m-26 1h22m-23 1h23m-26 1h1m2 0h22m-25 1h25m-25 1h23m-25 1h24m-27 1h27m-29 1h28m-28 1h28m-31 1h28m-29 1h29m-32 1h31m-32 1h30m-30 1h29m-34 1h32m-34 1h34m-37 1h37m-40 1h1m2 0h36m-39 1h37m-39 1h37m-41 1h41m-43 1h40m-43 1h4m2 0h37m-43 1h43m-47 1h1m2 0h40m3 0h1m-49 1h3m2 0h40m-48 1h48m-53 1h3m2 0h47m-58 1h1m2 0h54m-57 1h56m-57 1h53m-60 1h1m3 0h1m2 0h54m-64 1h64m-66 1h62m2 0h1m-72 1h1m6 0h62m-71 1h3m2 0h2m2 0h61m-76 1h1m3 0h69m-81 1h1m6 0h2m2 0h69m-85 1h1m3 0h3m5 0h73m-85 1h8m2 0h73m-93 1h6m2 0h84m-99 1h4m3 0h88m2 0h2m-111 1h1m3 0h1m7 0h5m2 0h88m-112 1h1m4 0h1m3 0h5m3 0h95m-122 1h1m3 0h9m4 0h1m3 0h27m2 0h71m-126 1h1m4 0h2m2 0h115m-140 1h1m3 0h3m2 0h5m2 0h1m2 0h11m2 0h107m-161 1h1m9 0h1m4 0h1m6 0h1m3 0h28m2 0h102m-174 1h1m12 0h1m2 0h1m3 0h4m2 0h14m3 0h129m2 0h1m-188 1h1m12 0h1m6 0h7m2 0h156m2 0h1m-231 1h1m15 0h1m2 0h2m13 0h3m4 0h4m2 0h2m4 0h1m3 0h2m4 0h15m2 0h147m-345 1h1m7 0h1m46 0h1m8 0h1m23 0h1m2 0h2m11 0h5m6 0h1m2 0h3m3 0h1m2 0h1m4 0h3m2 0h4m3 0h28m2 0h168m2 0h1m-438 1h2m2 0h1m5 0h2m57 0h1m6 0h1m6 0h2m4 0h1m3 0h1m4 0h1m2 0h1m8 0h1m4 0h1m15 0h1m3 0h1m3 0h1m4 0h1m3 0h1m6 0h3m6 0h2m4 0h8m2 0h2m2 0h3m3 0h1m4 0h7m3 0h1m2 0h6m3 0h5m2 0h2m2 0h3m2 0h2m2 0h198m-435 1h2m2 0h1m3 0h5m3 0h1m2 0h1m6 0h1m2 0h2m3 0h2m5 0h1m6 0h1m4 0h6m8 0h5m2 0h3m4 0h4m3 0h2m3 0h2m3 0h1m2 0h2m2 0h1m3 0h4m2 0h10m6 0h5m3 0h1m2 0h9m4 0h3m2 0h6m3 0h9m2 0h3m3 0h246m-436 1h6m5 0h6m3 0h4m2 0h1m2 0h11m2 0h26m3 0h68m4 0h14m2 0h11m2 0h21m2 0h238m2 0h1m-437 1h15m2 0h92m2 0h2m2 0h1m3 0h74m3 0h238m2 0h1m-437 1h2m2 0h11m2 0h34m2 0h2m2 0h376m-433 1h10m2 0h2m2 0h413m2 0h2m-433 1h10m2 0h415m4 0h1m-432 1h427m-427 1h427m-427 1h81m2 0h343m-426 1h252m2 0h166m-420 1h420m2 0h1m-423 1h420m2 0h1m-423 1h420m-420 1h412m2 0h2m-416 1h412m3 0h1m-416 1h1m3 0h409m-413 1h168m2 0h243m-413 1h112m2 0h289m2 0h5m-410 1h260m3 0h139m-402 1h35m2 0h170m2 0h190m-399 1h28m2 0h158m2 0h35m4 0h169m4 0h1m-403 1h396m6 0h1m-403 1h14m2 0h142m2 0h228m2 0h5m3 0h1m-399 1h200m2 0h125m2 0h70m-399 1h47m2 0h83m2 0h105m2 0h86m2 0h64m3 0h1m-397 1h252m2 0h139m-393 1h208m3 0h7m2 0h42m2 0h125m-389 1h118m3 0h87m2 0h177m-387 1h375m2 0h10m-387 1h9m2 0h32m2 0h61m2 0h267m3 0h8m-386 1h43m3 0h269m2 0h59m2 0h2m-380 1h101m2 0h266m2 0h1m2 0h2m-376 1h158m2 0h212m2 0h1m-375 1h58m2 0h307m2 0h1m4 0h1m-375 1h167m2 0h91m2 0h96m2 0h2m2 0h2m-366 1h86m2 0h79m2 0h186m2 0h5m2 0h2m-366 1h54m2 0h255m2 0h24m2 0h10m2 0h5m2 0h4m-362 1h148m2 0h30m2 0h170m3 0h6m-361 1h258m2 0h80m2 0h5m3 0h8m-358 1h60m2 0h186m2 0h75m2 0h7m3 0h3m2 0h6m4 0h2m-354 1h24m2 0h14m2 0h17m2 0h140m2 0h29m2 0h103m3 0h2m3 0h3m-347 1h116m2 0h58m2 0h32m2 0h3m3 0h123m2 0h2m-346 1h177m2 0h32m2 0h4m2 0h108m2 0h4m2 0h7m2 0h1m-345 1h45m2 0h54m2 0h2m2 0h205m2 0h9m3 0h1m3 0h7m2 0h1m5 0h1m-346 1h25m2 0h74m2 0h36m2 0h182m7 0h1m2 0h3m3 0h1m5 0h1m-345 1h26m2 0h9m2 0h58m2 0h33m2 0h25m2 0h2m2 0h153m3 0h1m2 0h1m6 0h1m2 0h1m-336 1h31m2 0h236m2 0h33m2 0h3m2 0h8m4 0h3m6 0h1m2 0h1m-336 1h36m2 0h17m2 0h85m2 0h71m2 0h30m2 0h36m2 0h17m3 0h2m2 0h3m2 0h3m2 0h3m-324 1h36m2 0h93m2 0h33m2 0h40m2 0h94m7 0h3m7 0h1m4 0h1m-327 1h7m2 0h27m2 0h93m2 0h165m3 0h1m3 0h1m5 0h1m5 0h1m8 0h1m-327 1h76m2 0h176m2 0h32m2 0h8m2 0h6m11 0h1m-318 1h12m2 0h29m2 0h30m2 0h50m2 0h123m4 0h6m3 0h16m2 0h2m5 0h1m3 0h2m4 0h4m-304 1h121m2 0h42m2 0h86m2 0h3m3 0h1m2 0h11m2 0h3m3 0h3m4 0h1m4 0h1m7 0h1m-304 1h107m2 0h38m2 0h90m2 0h24m3 0h6m3 0h3m5 0h1m17 0h1m-304 1h21m2 0h59m2 0h23m2 0h41m2 0h39m4 0h10m2 0h32m2 0h2m2 0h6m3 0h10m4 0h2m5 0h2m2 0h1m-280 1h14m3 0h65m2 0h29m2 0h9m2 0h3m2 0h64m2 0h16m2 0h23m2 0h2m2 0h7m5 0h5m4 0h1m2 0h1m6 0h2m3 0h1m-281 1h15m2 0h33m2 0h12m2 0h47m2 0h4m2 0h3m4 0h1m2 0h22m2 0h5m2 0h15m2 0h6m2 0h17m2 0h6m3 0h3m3 0h2m3 0h15m3 0h1m3 0h7m4 0h2m3 0h2m2 0h1m11 0h1m-281 1h25m2 0h33m2 0h1m3 0h39m2 0h2m2 0h7m3 0h3m3 0h25m3 0h5m2 0h23m2 0h1m2 0h3m2 0h1m2 0h4m4 0h2m2 0h13m6 0h3m2 0h7m3 0h2m6 0h3m4 0h7m4 0h1m-271 1h1m2 0h15m3 0h2m2 0h8m3 0h15m2 0h6m3 0h1m3 0h64m2 0h15m3 0h16m2 0h20m3 0h5m2 0h2m6 0h2m2 0h13m6 0h2m7 0h3m2 0h3m7 0h3m4 0h4m6 0h1m-271 1h19m2 0h39m3 0h1m3 0h2m2 0h23m4 0h34m2 0h6m2 0h3m5 0h15m3 0h4m2 0h2m6 0h2m2 0h10m13 0h2m4 0h1m2 0h1m3 0h1m2 0h1m2 0h5m5 0h1m4 0h2m9 0h2m-256 1h14m3 0h10m2 0h20m3 0h3m2 0h3m2 0h2m3 0h2m2 0h8m3 0h5m2 0h5m2 0h1m3 0h2m4 0h10m2 0h4m2 0h8m2 0h3m2 0h1m4 0h3m3 0h2m2 0h3m5 0h3m5 0h1m3 0h1m7 0h1m2 0h1m3 0h5m9 0h1m5 0h1m6 0h1m7 0h2m2 0h1m3 0h3m9 0h1m-245 1h3m2 0h9m4 0h11m2 0h22m9 0h10m4 0h4m2 0h5m2 0h5m2 0h3m2 0h1m7 0h2m2 0h9m4 0h1m4 0h3m2 0h1m3 0h1m3 0h3m2 0h3m2 0h3m3 0h8m6 0h1m3 0h9m5 0h4m7 0h1m9 0h5m6 0h1m9 0h1m-235 1h3m2 0h1m10 0h3m2 0h8m2 0h1m3 0h6m8 0h2m9 0h1m2 0h9m4 0h1m2 0h5m2 0h1m6 0h1m2 0h3m3 0h3m5 0h1m2 0h6m7 0h9m5 0h1m3 0h1m3 0h4m2 0h2m3 0h2m2 0h5m10 0h6m2 0h1m8 0h1m2 0h1m8 0h1m5 0h2m2 0h1m-217 1h7m3 0h1m4 0h1m4 0h2m2 0h3m3 0h1m3 0h5m3 0h1m3 0h3m6 0h5m4 0h3m10 0h3m2 0h1m2 0h1m2 0h1m6 0h4m2 0h3m8 0h4m7 0h7m3 0h1m9 0h2m2 0h1m5 0h2m3 0h1m8 0h2m10 0h1m8 0h1m8 0h1m8 0h1m-206 1h6m3 0h1m4 0h3m5 0h2m3 0h2m5 0h1m2 0h5m3 0h1m8 0h14m6 0h4m5 0h6m8 0h1m7 0h1m9 0h1m6 0h4m2 0h1m14 0h1m8 0h1m13 0h2m10 0h1m8 0h1m-185 1h4m2 0h1m6 0h1m5 0h1m4 0h2m5 0h1m2 0h3m4 0h1m13 0h13m3 0h1m8 0h1m2 0h3m8 0h1m7 0h1m3 0h1m5 0h1m7 0h1m3 0h2m5 0h1m18 0h1m-148 1h2m14 0h1m21 0h1m16 0h1m6 0h3m26 0h1m11 0h1m13 0h1m3 0h1m6 0h1m18 0h1m-147 1h1m53 0h1m12 0h1m-1 1h1"/>
<path stroke="#0000ff" d="M1495 122h2m-3 1h3m-5 1h5m-6 1h6m-6 1h6m-7 1h7m-8 1h8m-9 1h9m-10 1h10m-12 1h12m-12 1h11m-13 1h12m-12 1h12m-14 1h12m-12 1h12m-14 1h12m-12 1h12m-14 1h13m-14 1h13m-14 1h14m-15 1h13m-14 1h14m-16 1h14m-16 1h16m-17 1h16m-17 1h16m-17 1h15m-16 1h16m-17 1h15m-17 1h17m-18 1h18m-19 1h17m-17 1h16m-18 1h17m-20 1h18m-18 1h17m-18 1h17m-18 1h18m-19 1h19m-22 1h21m-22 1h19m-21 1h21m-23 1h21m-22 1h22m-23 1h22m-23 1h23m-25 1h24m-25 1h23m-27 1h25m-25 1h25m-27 1h27m-30 1h28m-28 1h26m-28 1h27m-29 1h29m-31 1h30m-31 1h29m-31 1h30m-32 1h32m-33 1h32m-36 1h34m-39 1h37m-37 1h36m-37 1h37m-38 1h37m-39 1h37m-42 1h40m-44 1h1m3 0h40m-47 1h46m-49 1h1m2 0h44m-50 1h50m-50 1h47m-53 1h52m-54 1h54m-58 1h1m2 0h52m2 0h1m-65 1h1m4 0h56m-61 1h1m4 0h56m-66 1h1m2 0h3m3 0h56m-66 1h64m-78 1h3m3 0h1m4 0h65m-76 1h8m2 0h65m-83 1h1m6 0h1m2 0h72m-83 1h2m3 0h78m-89 1h1m5 0h82m-100 1h1m2 0h1m3 0h90m-103 1h3m3 0h4m2 0h91m-124 1h1m9 0h1m5 0h1m4 0h3m4 0h94m-122 1h1m2 0h1m4 0h3m2 0h1m2 0h1m2 0h6m2 0h94m-133 1h5m5 0h1m4 0h8m2 0h12m2 0h1m2 0h86m2 0h1m-157 1h1m14 0h2m2 0h1m6 0h8m2 0h118m-155 1h2m9 0h1m3 0h140m-173 1h2m7 0h3m6 0h7m2 0h7m2 0h133m-212 1h1m11 0h1m6 0h1m5 0h1m3 0h3m5 0h4m2 0h3m3 0h1m2 0h7m3 0h150m-246 1h2m5 0h1m4 0h1m3 0h3m5 0h1m4 0h1m3 0h4m8 0h2m3 0h1m2 0h1m3 0h3m3 0h4m4 0h5m2 0h2m3 0h16m2 0h143m-392 1h1m15 0h1m3 0h1m2 0h1m12 0h1m43 0h1m4 0h1m2 0h1m5 0h1m3 0h2m3 0h1m2 0h1m4 0h1m3 0h1m6 0h1m5 0h1m2 0h3m2 0h1m6 0h7m4 0h7m3 0h9m3 0h2m2 0h5m5 0h1m2 0h6m2 0h5m2 0h2m2 0h180m-439 1h1m13 0h1m13 0h1m4 0h2m7 0h1m2 0h4m3 0h1m2 0h1m7 0h1m3 0h1m2 0h3m6 0h2m2 0h3m6 0h1m2 0h6m5 0h2m5 0h1m2 0h1m2 0h1m2 0h2m3 0h1m3 0h2m2 0h1m3 0h3m2 0h3m3 0h6m2 0h1m3 0h1m2 0h1m2 0h2m2 0h1m2 0h38m2 0h5m2 0h3m2 0h209m-441 1h3m2 0h2m2 0h5m3 0h5m2 0h1m2 0h1m2 0h12m3 0h3m2 0h8m2 0h1m3 0h14m3 0h5m2 0h3m6 0h9m2 0h11m2 0h1m2 0h9m3 0h14m4 0h3m3 0h4m3 0h28m2 0h21m3 0h219m-440 1h3m2 0h33m2 0h3m2 0h4m3 0h1m2 0h6m2 0h23m2 0h5m2 0h2m2 0h18m4 0h37m2 0h279m-439 1h36m3 0h4m3 0h8m3 0h61m3 0h318m-439 1h14m3 0h27m2 0h72m2 0h317m-437 1h435m-435 1h435m-435 1h427m2 0h2m-431 1h426m-426 1h206m2 0h215m4 0h1m-428 1h422m5 0h1m-428 1h423m-423 1h419m2 0h2m-423 1h138m2 0h277m-417 1h33m2 0h379m2 0h1m-417 1h413m-413 1h409m2 0h1m-412 1h407m-407 1h407m-407 1h134m2 0h100m2 0h166m2 0h1m-407 1h401m2 0h2m-405 1h51m2 0h347m4 0h1m-405 1h7m2 0h25m2 0h129m2 0h206m2 0h19m2 0h4m-400 1h127m2 0h94m3 0h168m-394 1h390m-390 1h349m2 0h31m2 0h2m2 0h1m-389 1h382m2 0h3m-387 1h69m2 0h147m2 0h158m3 0h1m2 0h3m-387 1h369m2 0h11m3 0h1m-386 1h273m2 0h107m-382 1h376m2 0h1m-379 1h355m2 0h18m-375 1h123m2 0h39m2 0h34m2 0h172m-374 1h200m2 0h170m-372 1h64m3 0h8m2 0h57m2 0h222m3 0h1m4 0h1m2 0h1m-370 1h103m2 0h253m3 0h1m4 0h1m-367 1h349m2 0h5m-356 1h106m2 0h241m2 0h4m-355 1h340m2 0h5m5 0h1m-353 1h144m2 0h193m3 0h3m4 0h1m3 0h1m-354 1h43m2 0h121m2 0h151m2 0h9m2 0h5m5 0h1m4 0h3m3 0h1m-354 1h261m2 0h13m2 0h39m2 0h6m4 0h1m3 0h1m2 0h2m9 0h1m-348 1h113m2 0h95m2 0h24m3 0h22m2 0h13m2 0h30m2 0h11m2 0h3m6 0h3m2 0h1m-338 1h329m2 0h4m-335 1h18m2 0h296m2 0h4m4 0h3m2 0h1m-332 1h13m2 0h207m2 0h78m4 0h10m2 0h2m-320 1h207m2 0h79m3 0h2m2 0h4m2 0h2m3 0h9m4 0h3m-322 1h144m2 0h53m2 0h86m2 0h11m2 0h1m3 0h1m7 0h1m6 0h1m-322 1h254m2 0h16m2 0h6m2 0h5m2 0h11m5 0h1m-306 1h81m2 0h1m2 0h6m2 0h24m2 0h72m2 0h33m2 0h25m2 0h11m2 0h7m2 0h2m2 0h5m6 0h4m5 0h1m2 0h1m-306 1h58m3 0h70m2 0h90m2 0h3m4 0h4m2 0h3m2 0h11m2 0h7m2 0h11m2 0h7m6 0h1m3 0h2m5 0h1m-303 1h25m2 0h32m2 0h160m2 0h12m2 0h1m2 0h15m2 0h7m2 0h3m9 0h1m2 0h4m6 0h1m3 0h2m-297 1h25m2 0h12m2 0h76m2 0h74m3 0h12m2 0h38m2 0h5m3 0h6m14 0h1m2 0h1m-282 1h108m2 0h41m2 0h40m4 0h4m2 0h5m2 0h1m2 0h26m2 0h1m2 0h5m4 0h1m4 0h5m15 0h4m-281 1h1m2 0h161m2 0h9m2 0h2m2 0h11m2 0h6m2 0h1m2 0h2m2 0h1m2 0h1m2 0h10m2 0h4m3 0h1m3 0h1m7 0h2m11 0h3m7 0h1m8 0h1m-276 1h22m2 0h9m2 0h27m2 0h13m2 0h41m2 0h5m2 0h43m3 0h1m2 0h6m2 0h3m2 0h1m2 0h4m5 0h5m5 0h1m2 0h5m3 0h3m2 0h3m3 0h1m4 0h1m25 0h1m-270 1h3m5 0h16m2 0h7m2 0h23m2 0h5m2 0h26m2 0h16m2 0h15m2 0h24m2 0h6m2 0h1m2 0h18m4 0h3m5 0h1m2 0h3m5 0h3m8 0h2m2 0h1m6 0h3m10 0h1m-244 1h4m2 0h21m2 0h4m2 0h23m2 0h1m3 0h1m3 0h2m2 0h13m3 0h4m3 0h13m5 0h4m2 0h6m2 0h1m2 0h12m4 0h1m2 0h4m2 0h10m2 0h18m4 0h1m7 0h1m4 0h1m7 0h1m19 0h1m-231 1h4m2 0h7m3 0h5m2 0h4m4 0h2m3 0h9m6 0h2m2 0h3m2 0h3m3 0h4m2 0h4m3 0h2m2 0h2m3 0h2m5 0h2m5 0h6m2 0h1m5 0h3m3 0h12m6 0h1m8 0h1m5 0h3m2 0h3m5 0h4m2 0h5m3 0h4m3 0h2m-191 1h1m5 0h7m10 0h1m12 0h3m5 0h1m2 0h1m3 0h1m3 0h1m4 0h3m3 0h1m6 0h1m6 0h4m4 0h1m6 0h1m2 0h1m3 0h1m7 0h1m7 0h2m5 0h6m8 0h1m2 0h1m6 0h2m5 0h1m12 0h1m6 0h3m6 0h1m4 0h1m-192 1h1m3 0h1m2 0h1m5 0h1m3 0h2m2 0h1m6 0h1m8 0h1m7 0h1m2 0h1m3 0h1m2 0h2m4 0h4m2 0h3m4 0h1m7 0h2m10 0h7m2 0h1m8 0h2m6 0h2m5 0h1m3 0h1m8 0h1m2 0h1m6 0h2m25 0h1m-178 1h1m3 0h1m2 0h1m4 0h1m4 0h2m2 0h1m2 0h1m3 0h1m3 0h1m12 0h1m6 0h5m6 0h2m2 0h3m12 0h1m3 0h1m2 0h1m4 0h2m2 0h3m11 0h2m2 0h1m4 0h1m4 0h2m22 0h1m-151 1h2m10 0h3m9 0h1m7 0h1m3 0h1m15 0h2m2 0h1m6 0h1m5 0h1m16 0h1m2 0h1m26 0h1m9 0h1m-126 1h1m12 0h1m21 0h1m19 0h1m12 0h1"/>
</g>
<g stroke="#000" stroke-width="0.3" stroke-linejoin="round">
<text x="929.96" y="672.29" font-size="31.49">10<tspan x="973.71" y="648.59" font-size="23.5">-4</tspan></text>
<text x="1120.84" y="672.29" font-size="31.49">10<tspan x="1164.6" y="648.59" font-size="23.5">-3</tspan></text>
<text x="1311.72" y="672.29" font-size="31.49">10<tspan x="1355.48" y="648.59" font-size="23.5">-2</tspan></text>
<text x="1502.61" y="672.29" font-size="31.49">10<tspan x="1546.36" y="648.59" font-size="23.5">-1</tspan></text>
<text x="880.36" y="623.3" font-size="31.49">10<tspan x="927.72" y="594.7" font-size="23.5">-3</tspan></text>
<text x="880.36" y="363.85" font-size="31.49">10<tspan x="927.72" y="335.25" font-size="23.5">-2</tspan></text>
<text x="880.36" y="104.4" font-size="31.49">10<tspan x="927.72" y="75.8" font-size="23.5">-1</tspan></text>
<text x="1532.15" y="702.38" font-size="31.49" text-anchor="end">m<tspan font-size="21.5" dy="10">3</tspan><tspan dy="-10"> (eV)</tspan></text>
<text transform="translate(858.47 266.96) rotate(-90) scale(0.9998)" font-size="32"><tspan x="0" y="0" font-size="32">M</tspan><tspan x="27.4" y="10.4" font-size="24" class="s">ν</tspan><tspan x="38.6" y="2.8" font-size="32">=</tspan><tspan x="56.29" y="0.6" font-size="34.5">√</tspan><tspan x="74.46" y="0" font-size="32">2 </tspan><tspan x="101.6" y="0" font-size="31">v</tspan><tspan x="116.3" y="10.8" font-size="22.5" class="s">Δ </tspan><tspan x="138.6" y="0" font-size="33.5" class="s">Γ</tspan><tspan x="158.2" y="13" font-size="22">++ </tspan><tspan x="193.6" y="0" font-size="31.3">(eV)</tspan></text>
<text x="1015.86" y="103.9" font-size="31.99">IH</text>
<text x="1016.18" y="144.5" font-size="31.99">M<tspan class="s" font-size="23.5" dy="10">ν</tspan><tspan font-size="22.5" dy="-15.6">11</tspan></text>
<text x="1016.18" y="342.8" font-size="31.99" fill="#e0000c" stroke="#e0000c">M<tspan class="s" font-size="23.5" dy="10">ν</tspan><tspan font-size="22.5" dy="-15.6">22</tspan></text>
<text x="1149.68" y="342.8" font-size="31.99" fill="#0000de" stroke="#0000de">M<tspan class="s" font-size="23.5" dy="10">ν</tspan><tspan font-size="22.5" dy="-15.6">33</tspan></text>
<text x="791.09" y="37.7" font-size="33" font-weight="bold">B</text>
</g>
</g>
<g id="panel-C">
<rect x="171" y="745.5" width="569.85" height="593" fill="none" stroke="#000" stroke-width="3"/>
<path d="M227.88 1338.5v-7.26M227.88 745.5v7.26M261.33 1338.5v-7.26M261.33 745.5v7.26M285.06 1338.5v-7.26M285.06 745.5v7.26M303.47 1338.5v-7.26M303.47 745.5v7.26M318.51 1338.5v-7.26M318.51 745.5v7.26M331.23 1338.5v-7.26M331.23 745.5v7.26M342.24 1338.5v-7.26M342.24 745.5v7.26M351.96 1338.5v-7.26M351.96 745.5v7.26M360.65 1338.5v-14.22M360.65 745.5v14.22M417.83 1338.5v-7.26M417.83 745.5v7.26M451.28 1338.5v-7.26M451.28 745.5v7.26M475.01 1338.5v-7.26M475.01 745.5v7.26M493.42 1338.5v-7.26M493.42 745.5v7.26M508.46 1338.5v-7.26M508.46 745.5v7.26M521.18 1338.5v-7.26M521.18 745.5v7.26M532.19 1338.5v-7.26M532.19 745.5v7.26M541.91 1338.5v-7.26M541.91 745.5v7.26M550.6 1338.5v-14.22M550.6 745.5v14.22M607.78 1338.5v-7.26M607.78 745.5v7.26M641.23 1338.5v-7.26M641.23 745.5v7.26M664.96 1338.5v-7.26M664.96 745.5v7.26M683.37 1338.5v-7.26M683.37 745.5v7.26M698.41 1338.5v-7.26M698.41 745.5v7.26M711.13 1338.5v-7.26M711.13 745.5v7.26M722.14 1338.5v-7.26M722.14 745.5v7.26M731.86 1338.5v-7.26M731.86 745.5v7.26M171 1260.92h7.26M740.85 1260.92h-7.26M171 1215.54h7.26M740.85 1215.54h-7.26M171 1183.34h7.26M740.85 1183.34h-7.26M171 1158.37h7.26M740.85 1158.37h-7.26M171 1137.96h7.26M740.85 1137.96h-7.26M171 1120.71h7.26M740.85 1120.71h-7.26M171 1105.76h7.26M740.85 1105.76h-7.26M171 1092.58h7.26M740.85 1092.58h-7.26M171 1080.79h14.22M740.85 1080.79h-14.22M171 1003.21h7.26M740.85 1003.21h-7.26M171 957.83h7.26M740.85 957.83h-7.26M171 925.63h7.26M740.85 925.63h-7.26M171 900.66h7.26M740.85 900.66h-7.26M171 880.25h7.26M740.85 880.25h-7.26M171 863h7.26M740.85 863h-7.26M171 848.05h7.26M740.85 848.05h-7.26M171 834.87h7.26M740.85 834.87h-7.26M171 823.08h14.22M740.85 823.08h-14.22" fill="none" stroke="#000" stroke-width="2.2"/>
<g transform="translate(1 1)" fill="none" stroke-width="1.4" stroke-linecap="square">
<path stroke="#000" d="M710 1012h1m-1 1h1m-6 1h3m2 0h1m-6 1h7m-6 1h6m-5 1h1m2 0h2m-11 1h1m5 0h5m-11 1h1m5 0h4m-9 1h2m3 0h4m-9 1h2m3 0h4m-9 1h1m2 0h6m-9 1h10m-14 1h1m4 0h1m3 0h5m-14 1h1m2 0h11m-18 1h1m3 0h1m2 0h1m2 0h8m-20 1h4m2 0h2m2 0h9m-19 1h1m2 0h15m-19 1h1m5 0h13m-19 1h1m5 0h13m-14 1h16m-19 1h1m2 0h16m-20 1h20m-25 1h1m3 0h16m2 0h1m-23 1h1m3 0h21m-25 1h25m-23 1h8m2 0h13m-23 1h22m-25 1h2m3 0h21m-26 1h26m-32 1h1m4 0h26m-31 1h1m4 0h3m3 0h20m-31 1h1m5 0h12m2 0h10m-30 1h1m2 0h27m-27 1h10m3 0h16m-27 1h16m2 0h9m-39 1h1m5 0h4m3 0h6m2 0h14m2 0h1m-38 1h2m3 0h30m2 0h1m-38 1h2m3 0h30m2 0h2m-44 1h1m3 0h5m3 0h28m2 0h2m-44 1h1m3 0h5m3 0h23m3 0h2m-37 1h32m2 0h4m-38 1h41m-41 1h25m3 0h13m-42 1h32m2 0h5m-39 1h41m-50 1h1m6 0h32m2 0h3m3 0h3m-50 1h1m5 0h44m-45 1h27m2 0h7m2 0h7m-52 1h8m2 0h34m2 0h1m2 0h3m-54 1h9m2 0h2m2 0h2m2 0h30m-52 1h1m2 0h1m2 0h1m4 0h9m2 0h31m2 0h1m-56 1h1m3 0h3m4 0h34m2 0h2m2 0h6m-60 1h1m5 0h2m2 0h1m3 0h26m2 0h1m3 0h6m3 0h5m-60 1h2m3 0h56m-61 1h2m2 0h30m2 0h19m2 0h4m-61 1h9m2 0h1m2 0h2m2 0h27m2 0h7m2 0h3m-57 1h6m3 0h2m2 0h46m-64 1h2m4 0h6m2 0h47m2 0h1m-69 1h1m4 0h61m2 0h1m-69 1h5m3 0h2m2 0h49m5 0h3m-68 1h50m2 0h11m2 0h2m-67 1h2m3 0h3m2 0h28m2 0h4m2 0h18m2 0h1m-71 1h2m2 0h44m2 0h6m2 0h5m4 0h4m-71 1h2m4 0h41m2 0h7m2 0h4m3 0h1m2 0h4m-72 1h1m4 0h3m2 0h56m2 0h4m-70 1h1m2 0h2m4 0h9m2 0h39m2 0h4m2 0h3m-73 1h1m2 0h7m2 0h43m4 0h14m-80 1h1m2 0h1m3 0h7m2 0h33m3 0h1m2 0h17m2 0h6m-80 1h1m2 0h1m3 0h8m2 0h41m2 0h15m2 0h2m-80 1h11m4 0h22m2 0h20m3 0h14m2 0h3m-81 1h56m2 0h12m4 0h1m3 0h3m-87 1h1m2 0h1m2 0h56m2 0h6m2 0h3m3 0h5m-83 1h1m2 0h1m2 0h50m2 0h1m2 0h3m3 0h16m-86 1h1m8 0h49m3 0h6m3 0h5m3 0h3m2 0h1m2 0h3m-89 1h1m6 0h1m6 0h8m3 0h32m3 0h3m4 0h5m4 0h5m2 0h6m-89 1h2m5 0h1m3 0h8m2 0h1m2 0h1m2 0h16m2 0h8m2 0h2m3 0h4m3 0h4m5 0h5m2 0h6m-98 1h1m8 0h3m3 0h16m2 0h35m2 0h3m3 0h3m4 0h12m-95 1h1m4 0h1m3 0h13m2 0h33m2 0h14m3 0h13m2 0h3m4 0h1m-102 1h1m2 0h1m4 0h1m3 0h8m2 0h22m2 0h28m2 0h10m3 0h3m4 0h3m2 0h1m-102 1h1m9 0h31m2 0h31m2 0h7m4 0h3m4 0h7m-96 1h1m4 0h14m2 0h50m2 0h5m4 0h3m3 0h8m-105 1h1m4 0h23m2 0h36m2 0h13m3 0h1m3 0h2m5 0h10m-105 1h1m4 0h3m2 0h3m5 0h10m2 0h55m3 0h5m2 0h4m3 0h3m-106 1h2m2 0h8m2 0h15m2 0h49m2 0h2m5 0h8m2 0h1m2 0h2m-106 1h78m2 0h2m2 0h2m5 0h15m-106 1h2m2 0h1m3 0h75m2 0h5m3 0h13m-118 1h3m4 0h7m5 0h43m3 0h3m2 0h4m2 0h9m2 0h8m2 0h12m2 0h7m-118 1h3m4 0h9m3 0h53m2 0h1m2 0h6m3 0h13m3 0h16m-112 1h1m3 0h10m2 0h1m2 0h57m3 0h14m3 0h5m2 0h7m-534 1h1m23 0h1m50 0h1m334 0h1m4 0h1m2 0h1m4 0h2m3 0h11m4 0h52m2 0h4m2 0h4m9 0h1m4 0h4m2 0h7m-534 1h1m2 0h1m11 0h1m5 0h1m2 0h1m8 0h1m41 0h1m9 0h1m321 0h1m2 0h1m4 0h1m2 0h7m3 0h33m2 0h32m2 0h16m3 0h1m2 0h6m2 0h1m2 0h6m-536 1h4m4 0h3m3 0h2m5 0h1m11 0h1m3 0h3m4 0h1m6 0h1m3 0h2m25 0h1m2 0h1m10 0h1m3 0h1m305 0h2m3 0h1m4 0h97m3 0h1m2 0h6m2 0h1m2 0h3m2 0h2m-538 1h17m6 0h6m3 0h4m2 0h3m2 0h3m2 0h1m3 0h1m3 0h2m5 0h1m2 0h4m2 0h2m8 0h2m2 0h1m5 0h1m4 0h1m3 0h1m11 0h1m11 0h1m281 0h1m3 0h4m2 0h4m2 0h44m3 0h15m2 0h5m3 0h3m2 0h2m2 0h6m2 0h1m2 0h1m4 0h3m5 0h1m2 0h3m3 0h1m-539 1h9m3 0h18m3 0h4m2 0h11m2 0h13m2 0h9m6 0h8m3 0h1m5 0h4m2 0h1m2 0h2m4 0h7m5 0h4m3 0h2m6 0h4m2 0h1m16 0h1m237 0h1m9 0h4m3 0h6m5 0h34m2 0h4m2 0h19m2 0h5m3 0h1m3 0h8m3 0h1m2 0h1m2 0h1m3 0h10m-536 1h9m2 0h39m2 0h13m2 0h24m3 0h8m3 0h34m2 0h8m3 0h1m8 0h1m2 0h1m9 0h1m6 0h1m9 0h2m209 0h1m11 0h1m3 0h6m2 0h41m2 0h28m2 0h9m2 0h5m4 0h1m2 0h1m3 0h10m-536 1h28m2 0h10m2 0h56m2 0h4m2 0h11m4 0h32m3 0h1m4 0h1m2 0h3m5 0h3m2 0h5m9 0h2m10 0h1m187 0h1m6 0h1m3 0h4m2 0h1m2 0h3m3 0h6m2 0h51m2 0h19m2 0h16m2 0h1m4 0h1m2 0h5m2 0h1m3 0h1m3 0h1m-541 1h86m2 0h71m2 0h12m2 0h5m3 0h3m2 0h1m5 0h1m3 0h1m4 0h1m9 0h1m177 0h1m6 0h16m2 0h57m2 0h2m2 0h23m3 0h7m2 0h4m4 0h16m2 0h1m-542 1h135m2 0h43m4 0h17m2 0h13m4 0h3m3 0h1m2 0h1m17 0h1m147 0h1m3 0h4m4 0h7m2 0h56m5 0h1m2 0h19m2 0h1m2 0h3m3 0h3m2 0h5m2 0h4m4 0h2m2 0h5m-539 1h165m2 0h50m2 0h8m2 0h3m2 0h2m8 0h1m2 0h1m123 0h1m21 0h3m5 0h2m4 0h67m2 0h3m2 0h3m3 0h12m3 0h3m4 0h4m6 0h1m2 0h8m3 0h1m2 0h3m2 0h1m-542 1h104m2 0h121m2 0h11m4 0h1m6 0h1m2 0h1m116 0h1m21 0h6m2 0h78m2 0h17m4 0h1m6 0h4m5 0h1m5 0h10m2 0h6m-542 1h230m2 0h2m3 0h3m2 0h5m3 0h6m10 0h1m109 0h2m2 0h1m9 0h9m4 0h9m5 0h8m2 0h48m3 0h1m2 0h7m2 0h1m2 0h5m4 0h8m2 0h2m4 0h1m3 0h1m5 0h5m4 0h5m-542 1h115m2 0h120m2 0h8m3 0h8m6 0h3m104 0h1m4 0h2m2 0h7m3 0h9m4 0h1m2 0h1m2 0h4m3 0h69m2 0h4m5 0h3m3 0h12m2 0h1m4 0h2m5 0h5m5 0h2m-540 1h247m2 0h3m2 0h4m5 0h3m9 0h2m8 0h2m2 0h1m63 0h1m13 0h2m2 0h1m4 0h2m4 0h101m2 0h42m2 0h2m7 0h1m-539 1h258m2 0h6m2 0h10m5 0h4m2 0h2m13 0h1m3 0h1m5 0h1m38 0h1m4 0h1m3 0h1m3 0h5m3 0h5m5 0h88m2 0h24m2 0h2m3 0h4m5 0h6m2 0h8m2 0h3m-535 1h266m2 0h10m2 0h5m3 0h8m2 0h1m5 0h5m5 0h1m21 0h1m8 0h1m4 0h2m6 0h10m2 0h1m3 0h93m2 0h5m2 0h15m3 0h1m2 0h12m2 0h7m2 0h1m6 0h10m-537 1h277m2 0h10m3 0h7m3 0h5m10 0h3m2 0h1m8 0h1m2 0h3m2 0h4m2 0h7m4 0h1m3 0h2m2 0h8m2 0h49m2 0h24m3 0h8m2 0h5m2 0h11m2 0h9m3 0h3m2 0h1m2 0h7m2 0h4m4 0h2m2 0h1m3 0h5m4 0h1m-537 1h284m2 0h2m4 0h1m2 0h4m3 0h6m3 0h15m5 0h1m2 0h1m4 0h4m4 0h10m4 0h1m2 0h1m2 0h5m2 0h24m3 0h30m2 0h16m3 0h25m2 0h6m4 0h1m3 0h4m2 0h10m4 0h8m2 0h1m2 0h1m2 0h6m-534 1h63m2 0h243m2 0h8m2 0h7m3 0h1m2 0h1m3 0h3m2 0h1m4 0h9m4 0h20m2 0h1m3 0h59m2 0h15m3 0h5m3 0h17m2 0h1m4 0h6m2 0h3m4 0h8m3 0h4m2 0h10m-540 1h63m3 0h235m2 0h7m3 0h19m2 0h1m3 0h43m2 0h1m3 0h65m3 0h38m3 0h8m3 0h3m3 0h1m2 0h4m2 0h6m2 0h10m-540 1h37m2 0h24m2 0h272m2 0h8m2 0h1m2 0h28m3 0h1m2 0h96m2 0h10m2 0h8m5 0h2m3 0h13m3 0h5m2 0h1m2 0h1m-540 1h59m2 0h50m2 0h39m2 0h171m2 0h9m2 0h117m2 0h1m2 0h7m4 0h22m3 0h9m2 0h3m3 0h2m2 0h3m3 0h4m6 0h1m5 0h2m-540 1h6m2 0h157m2 0h287m2 0h13m2 0h25m2 0h11m4 0h5m2 0h6m13 0h1m-541 1h166m2 0h277m2 0h7m3 0h17m2 0h1m3 0h2m5 0h3m3 0h26m2 0h2m4 0h1m2 0h5m2 0h3m-540 1h47m2 0h15m2 0h5m2 0h360m2 0h14m2 0h4m2 0h1m3 0h12m3 0h7m2 0h8m2 0h8m2 0h1m3 0h8m7 0h1m2 0h13m-540 1h23m2 0h22m2 0h89m2 0h11m4 0h300m2 0h22m2 0h22m2 0h1m3 0h2m3 0h3m3 0h1m3 0h8m3 0h4m-539 1h87m2 0h14m2 0h5m2 0h2m2 0h37m2 0h19m2 0h314m2 0h9m9 0h1m3 0h3m3 0h2m2 0h2m2 0h6m4 0h1m-539 1h67m2 0h79m2 0h55m2 0h223m2 0h7m2 0h20m4 0h1m2 0h7m3 0h13m2 0h1m3 0h5m12 0h8m3 0h4m4 0h1m4 0h1m-540 1h27m2 0h38m3 0h38m3 0h2m2 0h44m2 0h15m3 0h38m2 0h167m2 0h43m2 0h1m2 0h4m3 0h13m2 0h8m2 0h5m2 0h1m3 0h13m2 0h1m7 0h3m3 0h4m3 0h6m5 0h4m2 0h1m-533 1h50m2 0h28m2 0h1m4 0h27m2 0h17m2 0h15m2 0h66m2 0h217m5 0h10m4 0h16m2 0h2m3 0h8m3 0h6m3 0h13m3 0h1m5 0h1m6 0h5m6 0h2m-541 1h48m4 0h32m3 0h10m2 0h16m2 0h3m2 0h11m2 0h14m2 0h29m2 0h18m2 0h16m2 0h216m2 0h16m2 0h20m6 0h4m5 0h6m2 0h10m5 0h3m3 0h7m2 0h4m2 0h1m3 0h3m-540 1h46m3 0h10m2 0h9m6 0h60m2 0h57m2 0h23m2 0h212m2 0h7m2 0h2m3 0h4m3 0h12m2 0h3m2 0h1m3 0h6m5 0h4m5 0h7m3 0h15m2 0h1m5 0h4m2 0h1m-541 1h25m2 0h12m2 0h3m2 0h16m2 0h18m2 0h3m2 0h9m2 0h1m2 0h5m2 0h1m2 0h45m2 0h9m2 0h27m2 0h58m2 0h175m2 0h15m2 0h2m2 0h9m3 0h8m2 0h1m2 0h4m4 0h6m4 0h2m2 0h14m9 0h1m6 0h3m-539 1h11m2 0h5m2 0h1m2 0h18m2 0h37m2 0h16m3 0h9m3 0h2m3 0h2m2 0h6m2 0h3m2 0h6m2 0h1m2 0h10m2 0h1m2 0h50m2 0h22m3 0h198m3 0h14m2 0h2m2 0h3m3 0h3m2 0h9m2 0h6m5 0h9m2 0h1m2 0h10m3 0h3m6 0h2m4 0h1m-535 1h5m2 0h15m2 0h5m2 0h10m2 0h3m2 0h7m2 0h20m2 0h18m5 0h12m4 0h15m2 0h4m2 0h3m2 0h49m3 0h22m2 0h26m2 0h3m2 0h21m2 0h164m2 0h9m3 0h25m2 0h3m6 0h9m3 0h12m5 0h1m2 0h1m3 0h7m4 0h1m-540 1h5m2 0h7m2 0h24m4 0h11m2 0h20m2 0h8m2 0h3m4 0h1m2 0h4m2 0h25m4 0h5m2 0h41m2 0h37m2 0h2m2 0h1m2 0h1m3 0h64m2 0h143m2 0h4m2 0h1m4 0h20m4 0h1m2 0h4m2 0h1m2 0h9m3 0h9m4 0h1m3 0h4m2 0h7m5 0h2m-541 1h14m3 0h9m2 0h13m2 0h11m3 0h15m2 0h20m2 0h22m2 0h12m2 0h16m2 0h4m3 0h27m3 0h2m3 0h23m2 0h12m5 0h14m2 0h18m2 0h26m2 0h129m4 0h23m2 0h7m2 0h8m3 0h1m2 0h6m2 0h9m2 0h1m3 0h3m5 0h1m2 0h6m2 0h1m3 0h1m5 0h2m5 0h2m-542 1h16m2 0h16m2 0h16m5 0h37m2 0h5m2 0h8m2 0h6m3 0h1m3 0h17m2 0h10m2 0h17m2 0h11m3 0h2m3 0h3m3 0h31m3 0h6m2 0h6m6 0h7m3 0h12m2 0h137m2 0h12m2 0h33m2 0h15m2 0h2m2 0h14m4 0h1m2 0h1m5 0h6m4 0h1m8 0h1m3 0h1m2 0h1m-542 1h34m2 0h8m3 0h2m2 0h1m3 0h3m2 0h17m2 0h15m2 0h27m2 0h2m2 0h18m2 0h49m4 0h7m2 0h16m2 0h12m2 0h9m2 0h9m2 0h12m2 0h122m2 0h14m3 0h33m2 0h3m3 0h6m4 0h15m2 0h8m2 0h6m5 0h1m3 0h5m3 0h1m2 0h2m4 0h1m3 0h2m2 0h2m-540 1h9m2 0h23m2 0h2m2 0h1m2 0h22m3 0h10m2 0h13m5 0h19m3 0h3m2 0h1m3 0h1m2 0h68m2 0h22m5 0h38m2 0h150m2 0h23m3 0h9m3 0h10m2 0h3m2 0h1m4 0h10m4 0h1m2 0h3m2 0h1m9 0h2m6 0h1m2 0h1m5 0h1m4 0h5m-540 1h4m3 0h8m2 0h5m2 0h3m2 0h9m2 0h25m2 0h1m4 0h2m2 0h3m2 0h3m3 0h6m4 0h20m4 0h4m2 0h9m2 0h13m2 0h2m2 0h19m2 0h5m2 0h18m3 0h25m2 0h3m2 0h4m3 0h5m2 0h16m2 0h174m4 0h1m3 0h5m2 0h10m2 0h4m2 0h2m4 0h6m7 0h5m7 0h1m5 0h1m6 0h1m3 0h6m5 0h3m-539 1h4m3 0h1m2 0h12m2 0h3m2 0h4m2 0h1m4 0h25m2 0h2m2 0h12m3 0h4m2 0h3m2 0h17m2 0h1m4 0h4m2 0h6m2 0h1m2 0h7m2 0h7m3 0h8m3 0h4m3 0h1m2 0h11m2 0h12m2 0h4m2 0h30m2 0h7m3 0h6m2 0h15m5 0h7m2 0h16m2 0h123m2 0h5m2 0h4m4 0h9m3 0h7m4 0h10m2 0h3m4 0h1m5 0h5m3 0h1m3 0h1m8 0h1m3 0h12m3 0h1m3 0h1m-541 1h5m2 0h2m2 0h7m2 0h5m3 0h2m2 0h3m3 0h3m2 0h2m2 0h5m2 0h1m2 0h1m2 0h9m2 0h19m3 0h2m2 0h17m6 0h16m3 0h17m2 0h11m4 0h14m4 0h10m2 0h6m2 0h17m2 0h22m2 0h33m2 0h5m2 0h114m3 0h1m2 0h45m2 0h18m2 0h3m2 0h5m4 0h8m2 0h2m2 0h1m2 0h5m3 0h5m3 0h3m3 0h1m3 0h1m-539 1h7m2 0h5m6 0h14m2 0h1m2 0h1m3 0h7m2 0h10m2 0h8m2 0h2m2 0h1m2 0h7m3 0h2m3 0h1m4 0h9m2 0h23m2 0h18m2 0h1m2 0h1m2 0h5m3 0h1m2 0h10m2 0h12m3 0h6m2 0h41m2 0h1m2 0h6m2 0h1m2 0h15m3 0h8m2 0h5m2 0h14m3 0h3m2 0h91m2 0h17m2 0h18m2 0h22m2 0h2m5 0h7m2 0h6m4 0h2m2 0h1m2 0h5m6 0h3m8 0h3m-539 1h39m2 0h1m3 0h7m4 0h4m2 0h16m6 0h1m2 0h3m3 0h2m5 0h1m2 0h1m3 0h38m2 0h16m2 0h5m2 0h2m2 0h1m2 0h12m4 0h6m2 0h6m2 0h1m2 0h44m2 0h1m3 0h14m2 0h11m2 0h7m3 0h6m2 0h6m2 0h4m2 0h3m2 0h68m2 0h49m3 0h1m2 0h5m2 0h1m2 0h12m4 0h3m5 0h3m2 0h1m3 0h3m6 0h4m2 0h1m7 0h3m3 0h1m9 0h2m-539 1h4m2 0h16m6 0h1m3 0h12m2 0h8m2 0h4m2 0h1m2 0h3m5 0h2m2 0h1m4 0h1m4 0h9m4 0h1m2 0h2m4 0h12m4 0h7m2 0h1m2 0h5m2 0h20m2 0h8m4 0h3m2 0h6m2 0h3m2 0h5m2 0h6m2 0h47m2 0h8m2 0h8m2 0h8m3 0h1m2 0h4m2 0h1m2 0h5m2 0h6m2 0h5m2 0h3m2 0h92m3 0h18m2 0h6m3 0h6m5 0h13m3 0h3m6 0h1m7 0h4m2 0h1m2 0h7m7 0h3m3 0h2m6 0h1m-533 1h1m4 0h1m2 0h5m3 0h3m2 0h3m5 0h13m3 0h8m2 0h1m3 0h1m4 0h1m4 0h2m3 0h1m2 0h5m2 0h9m6 0h3m2 0h5m2 0h1m3 0h14m5 0h11m3 0h3m2 0h17m5 0h3m2 0h1m5 0h5m2 0h5m2 0h6m2 0h10m2 0h22m2 0h6m4 0h2m2 0h13m2 0h3m2 0h11m2 0h3m2 0h9m2 0h6m2 0h2m2 0h1m2 0h119m2 0h17m2 0h1m4 0h8m3 0h4m2 0h1m2 0h5m3 0h14m2 0h1m4 0h2m6 0h2m6 0h1m4 0h1m-538 1h13m4 0h2m2 0h4m3 0h1m2 0h11m3 0h3m2 0h6m2 0h1m3 0h9m3 0h19m3 0h11m2 0h1m4 0h1m3 0h9m3 0h10m2 0h14m2 0h1m2 0h3m3 0h3m2 0h1m2 0h2m3 0h3m3 0h1m2 0h29m2 0h13m3 0h2m2 0h2m2 0h3m2 0h1m2 0h11m2 0h2m2 0h2m4 0h31m2 0h1m2 0h2m2 0h5m2 0h15m2 0h3m2 0h70m2 0h38m2 0h9m2 0h1m2 0h15m4 0h3m2 0h3m3 0h4m3 0h1m2 0h2m4 0h3m5 0h1m4 0h1m3 0h1m3 0h1m-539 1h17m4 0h1m3 0h5m2 0h2m3 0h6m3 0h3m2 0h5m3 0h1m2 0h3m2 0h5m3 0h2m3 0h15m2 0h15m3 0h13m3 0h18m2 0h7m4 0h4m2 0h6m2 0h3m2 0h3m3 0h27m2 0h18m3 0h5m2 0h3m6 0h2m2 0h15m4 0h3m2 0h5m4 0h19m3 0h7m2 0h95m4 0h25m2 0h3m2 0h2m3 0h2m2 0h13m3 0h8m5 0h1m2 0h5m8 0h7m2 0h1m3 0h1m5 0h1m2 0h3m3 0h1m3 0h1m-540 1h20m2 0h3m3 0h5m2 0h1m3 0h4m2 0h5m2 0h1m2 0h11m2 0h4m11 0h9m2 0h7m4 0h24m2 0h17m4 0h4m2 0h3m5 0h1m2 0h5m2 0h10m2 0h3m3 0h7m2 0h10m4 0h2m2 0h22m2 0h1m6 0h4m2 0h2m4 0h2m3 0h17m6 0h7m2 0h10m3 0h103m4 0h1m3 0h6m2 0h32m2 0h8m5 0h5m6 0h1m2 0h2m9 0h12m5 0h1m2 0h2m2 0h1m6 0h1m2 0h1m-540 1h1m2 0h4m2 0h2m2 0h12m2 0h6m2 0h1m4 0h2m3 0h4m3 0h1m2 0h7m2 0h2m2 0h8m3 0h16m2 0h2m5 0h16m3 0h15m3 0h7m5 0h10m4 0h1m2 0h16m2 0h3m2 0h3m2 0h2m2 0h18m3 0h10m3 0h25m3 0h2m2 0h27m2 0h2m2 0h10m7 0h109m3 0h1m3 0h43m3 0h1m2 0h4m3 0h2m2 0h1m4 0h4m2 0h12m3 0h7m2 0h1m6 0h1m-535 1h5m3 0h1m2 0h2m2 0h7m3 0h2m3 0h4m4 0h2m5 0h6m2 0h7m4 0h10m3 0h6m3 0h11m5 0h3m2 0h4m2 0h6m2 0h11m3 0h1m3 0h4m2 0h4m3 0h17m4 0h2m2 0h8m2 0h7m2 0h6m3 0h13m3 0h8m5 0h16m2 0h20m3 0h3m2 0h1m2 0h14m4 0h12m3 0h5m2 0h5m2 0h17m2 0h26m2 0h48m2 0h12m2 0h13m2 0h19m3 0h7m3 0h2m2 0h9m2 0h19m5 0h1m6 0h2m-537 1h5m3 0h17m2 0h1m4 0h2m4 0h3m5 0h7m7 0h1m2 0h12m3 0h6m3 0h16m2 0h1m2 0h15m2 0h18m2 0h1m2 0h2m2 0h1m2 0h5m2 0h8m4 0h1m2 0h5m2 0h2m2 0h10m2 0h2m4 0h18m2 0h3m6 0h6m4 0h3m5 0h16m3 0h3m2 0h13m3 0h26m3 0h8m3 0h2m2 0h20m2 0h10m2 0h69m2 0h25m2 0h1m2 0h5m2 0h3m3 0h6m3 0h3m3 0h1m5 0h1m2 0h2m2 0h1m3 0h1m4 0h3m10 0h2m2 0h1m-540 1h6m2 0h17m2 0h4m2 0h1m2 0h4m6 0h9m5 0h5m2 0h15m5 0h9m3 0h7m3 0h2m2 0h19m2 0h12m6 0h1m2 0h1m3 0h11m2 0h3m2 0h7m3 0h6m2 0h6m2 0h1m2 0h2m2 0h4m2 0h2m2 0h12m2 0h8m2 0h6m2 0h12m4 0h7m2 0h1m2 0h8m5 0h1m2 0h23m2 0h2m2 0h32m2 0h72m2 0h10m4 0h12m2 0h3m2 0h6m3 0h2m4 0h2m4 0h3m4 0h7m2 0h1m2 0h5m2 0h1m8 0h3m2 0h1m11 0h1m-540 1h1m2 0h19m2 0h1m3 0h6m2 0h1m2 0h2m4 0h13m2 0h2m3 0h5m3 0h5m9 0h6m3 0h1m3 0h12m2 0h1m2 0h1m3 0h6m2 0h5m2 0h12m4 0h14m2 0h7m2 0h7m3 0h1m3 0h2m3 0h5m2 0h1m2 0h1m3 0h3m3 0h2m2 0h6m2 0h4m2 0h1m4 0h3m2 0h3m2 0h26m3 0h1m3 0h3m2 0h1m3 0h1m2 0h21m2 0h1m3 0h8m2 0h3m2 0h14m5 0h58m2 0h3m2 0h11m2 0h2m2 0h13m2 0h12m2 0h2m2 0h2m2 0h3m5 0h1m2 0h5m5 0h6m2 0h1m3 0h1m2 0h1m2 0h1m13 0h1m4 0h3m-535 1h3m2 0h8m5 0h6m2 0h12m2 0h2m3 0h1m2 0h11m2 0h5m6 0h13m2 0h2m2 0h1m3 0h2m3 0h3m2 0h3m3 0h1m5 0h1m2 0h8m2 0h4m2 0h1m4 0h7m4 0h23m2 0h3m2 0h1m5 0h19m3 0h2m4 0h2m2 0h4m2 0h6m4 0h1m2 0h8m4 0h1m2 0h3m2 0h8m2 0h6m3 0h2m3 0h3m3 0h3m2 0h4m2 0h28m3 0h7m4 0h1m4 0h6m2 0h11m2 0h20m2 0h23m5 0h5m2 0h7m3 0h12m2 0h18m3 0h7m3 0h1m4 0h6m2 0h8m6 0h3m3 0h2m8 0h5m2 0h5m-535 1h3m2 0h8m2 0h9m2 0h5m2 0h6m2 0h1m5 0h19m3 0h6m2 0h8m2 0h13m2 0h4m4 0h1m4 0h9m2 0h2m2 0h4m2 0h3m2 0h2m3 0h2m4 0h1m2 0h3m2 0h14m6 0h1m3 0h8m2 0h5m2 0h7m2 0h7m4 0h3m2 0h1m2 0h3m2 0h3m4 0h5m5 0h2m2 0h2m2 0h5m2 0h2m3 0h4m3 0h2m2 0h4m2 0h19m5 0h8m2 0h6m2 0h9m8 0h12m2 0h54m3 0h4m3 0h3m2 0h2m2 0h4m3 0h1m3 0h1m2 0h6m3 0h3m3 0h13m4 0h1m4 0h11m3 0h2m8 0h2m3 0h2m7 0h5m2 0h1m2 0h1m-534 1h3m2 0h3m3 0h2m2 0h9m3 0h7m2 0h3m2 0h1m4 0h2m2 0h13m2 0h1m3 0h3m4 0h2m2 0h2m5 0h13m4 0h3m2 0h2m2 0h11m2 0h13m2 0h1m4 0h7m2 0h2m4 0h15m3 0h2m3 0h8m2 0h23m5 0h4m4 0h2m2 0h3m3 0h1m2 0h1m6 0h4m2 0h1m2 0h3m3 0h3m4 0h7m3 0h26m4 0h6m4 0h6m2 0h1m3 0h5m2 0h1m5 0h1m3 0h8m2 0h9m2 0h56m2 0h9m2 0h10m3 0h10m3 0h2m6 0h5m2 0h1m2 0h1m4 0h5m13 0h3m2 0h3m9 0h1m11 0h1m-538 1h2m5 0h5m7 0h5m3 0h5m6 0h1m2 0h3m2 0h2m2 0h4m4 0h2m3 0h1m5 0h1m3 0h9m3 0h7m3 0h1m2 0h2m5 0h5m2 0h4m2 0h3m2 0h13m8 0h7m4 0h2m5 0h2m3 0h2m2 0h5m3 0h3m2 0h1m6 0h1m2 0h1m3 0h3m3 0h1m2 0h3m2 0h6m2 0h1m2 0h3m3 0h2m4 0h8m4 0h7m2 0h14m2 0h2m2 0h4m3 0h10m3 0h7m4 0h1m4 0h17m5 0h5m2 0h2m3 0h1m4 0h1m2 0h4m2 0h2m2 0h7m3 0h4m3 0h47m2 0h21m3 0h10m3 0h1m2 0h14m6 0h2m2 0h1m3 0h1m9 0h3m2 0h1m2 0h1m5 0h2m13 0h3m-539 1h1m3 0h1m2 0h6m4 0h4m3 0h4m5 0h3m2 0h10m2 0h2m5 0h12m3 0h3m2 0h19m2 0h1m3 0h7m2 0h5m3 0h1m4 0h4m2 0h8m3 0h11m2 0h2m4 0h1m2 0h1m2 0h1m4 0h2m4 0h1m2 0h1m2 0h1m6 0h4m9 0h11m2 0h6m5 0h4m2 0h5m2 0h4m2 0h2m2 0h10m2 0h9m4 0h1m2 0h13m2 0h1m2 0h6m4 0h23m3 0h4m2 0h8m5 0h3m2 0h4m2 0h1m3 0h5m4 0h2m4 0h44m2 0h3m2 0h7m3 0h6m2 0h1m3 0h3m2 0h1m2 0h11m2 0h8m2 0h5m3 0h1m3 0h1m3 0h1m2 0h1m8 0h5m3 0h2m3 0h1m4 0h1m6 0h1m-538 1h1m2 0h1m2 0h7m3 0h1m5 0h6m4 0h15m2 0h3m4 0h1m2 0h11m7 0h8m2 0h8m2 0h7m2 0h4m4 0h4m3 0h6m2 0h3m3 0h6m3 0h3m2 0h11m2 0h1m4 0h1m2 0h2m2 0h3m2 0h3m7 0h6m2 0h15m3 0h2m2 0h2m3 0h6m2 0h5m2 0h9m4 0h15m2 0h1m4 0h13m2 0h6m3 0h27m2 0h1m3 0h3m3 0h1m3 0h7m2 0h8m3 0h1m3 0h6m2 0h23m2 0h30m3 0h7m4 0h13m2 0h2m2 0h9m3 0h7m4 0h6m4 0h1m5 0h4m8 0h5m8 0h1m4 0h2m5 0h1m-542 1h1m3 0h1m7 0h1m2 0h4m7 0h7m4 0h11m2 0h1m2 0h4m3 0h7m4 0h3m2 0h13m2 0h1m2 0h4m3 0h15m2 0h10m3 0h5m4 0h3m5 0h1m4 0h12m3 0h4m2 0h1m3 0h1m4 0h3m2 0h1m2 0h2m2 0h12m4 0h1m3 0h1m4 0h3m5 0h1m4 0h3m2 0h3m4 0h9m2 0h3m2 0h3m3 0h4m2 0h1m3 0h3m5 0h45m5 0h3m3 0h1m5 0h8m2 0h5m4 0h4m2 0h3m2 0h21m2 0h33m2 0h8m2 0h4m2 0h5m2 0h8m4 0h10m2 0h3m3 0h3m2 0h2m3 0h1m2 0h3m2 0h1m6 0h1m3 0h2m7 0h3m4 0h3m5 0h1m-542 1h1m3 0h1m6 0h8m6 0h5m2 0h2m3 0h20m2 0h1m2 0h1m3 0h2m3 0h3m2 0h8m3 0h1m3 0h1m2 0h1m6 0h1m5 0h14m2 0h3m5 0h1m2 0h4m2 0h1m4 0h4m6 0h6m3 0h2m2 0h6m2 0h3m5 0h1m3 0h7m4 0h2m2 0h1m2 0h3m2 0h6m3 0h8m5 0h3m2 0h4m3 0h1m2 0h7m2 0h8m3 0h6m3 0h6m2 0h12m3 0h1m2 0h6m2 0h9m2 0h8m2 0h4m5 0h1m5 0h8m11 0h6m2 0h9m3 0h12m2 0h33m2 0h8m2 0h5m2 0h9m2 0h3m4 0h10m4 0h1m2 0h1m5 0h2m6 0h3m9 0h1m3 0h2m2 0h3m2 0h3m4 0h2m-535 1h8m3 0h3m11 0h1m2 0h1m2 0h11m3 0h1m2 0h6m2 0h1m2 0h1m6 0h9m3 0h4m4 0h1m2 0h1m9 0h6m2 0h3m3 0h4m3 0h1m2 0h5m4 0h1m3 0h2m2 0h1m2 0h6m9 0h5m2 0h1m2 0h2m3 0h6m5 0h3m2 0h11m3 0h1m3 0h10m2 0h10m2 0h1m2 0h5m2 0h7m2 0h1m2 0h3m3 0h1m2 0h3m3 0h7m2 0h1m2 0h6m2 0h1m2 0h6m3 0h1m2 0h3m4 0h5m4 0h2m3 0h2m3 0h1m2 0h4m5 0h1m4 0h1m2 0h7m4 0h5m3 0h15m3 0h3m2 0h1m2 0h4m4 0h25m2 0h4m2 0h11m3 0h1m2 0h6m2 0h1m5 0h1m3 0h4m3 0h5m2 0h5m4 0h1m7 0h3m12 0h3m2 0h6m2 0h1m3 0h1m5 0h1m-539 1h7m6 0h3m4 0h1m3 0h4m2 0h6m2 0h6m3 0h6m2 0h1m3 0h1m4 0h7m2 0h1m3 0h4m4 0h5m8 0h6m4 0h1m3 0h1m3 0h2m3 0h8m2 0h3m3 0h6m6 0h3m5 0h1m3 0h1m5 0h1m2 0h1m2 0h5m5 0h3m2 0h1m2 0h12m3 0h1m2 0h5m4 0h1m2 0h7m2 0h1m4 0h3m2 0h7m2 0h13m3 0h1m2 0h3m2 0h12m2 0h9m3 0h1m2 0h1m6 0h4m2 0h1m3 0h2m2 0h6m2 0h1m2 0h7m3 0h2m2 0h7m3 0h6m2 0h12m2 0h8m2 0h8m3 0h1m2 0h17m2 0h8m4 0h10m4 0h8m2 0h1m5 0h1m4 0h3m4 0h1m2 0h8m14 0h2m4 0h1m3 0h1m2 0h2m3 0h1m3 0h1m3 0h2m2 0h1m5 0h2m-540 1h1m5 0h1m2 0h2m2 0h3m2 0h9m4 0h5m2 0h1m2 0h12m2 0h1m3 0h1m3 0h2m3 0h5m5 0h4m5 0h6m3 0h1m2 0h3m3 0h1m2 0h1m2 0h2m3 0h3m2 0h1m2 0h6m3 0h11m5 0h14m3 0h5m2 0h5m4 0h4m2 0h1m3 0h15m5 0h1m5 0h9m3 0h1m6 0h4m3 0h2m5 0h2m2 0h6m3 0h2m2 0h3m2 0h17m3 0h2m3 0h8m3 0h1m5 0h1m2 0h6m2 0h2m3 0h3m2 0h3m5 0h5m2 0h13m2 0h5m3 0h4m3 0h7m4 0h6m3 0h30m4 0h10m4 0h2m5 0h1m4 0h1m2 0h2m3 0h3m5 0h2m2 0h6m7 0h3m5 0h2m4 0h1m3 0h1m3 0h1m3 0h1m8 0h3m2 0h1m4 0h2m-541 1h3m2 0h2m2 0h3m6 0h2m2 0h5m3 0h4m2 0h3m5 0h5m12 0h6m5 0h1m4 0h6m5 0h9m3 0h2m2 0h15m5 0h1m3 0h4m3 0h3m2 0h7m2 0h2m2 0h4m2 0h5m2 0h4m2 0h7m3 0h3m2 0h20m4 0h2m6 0h12m4 0h11m5 0h2m2 0h4m2 0h1m2 0h1m10 0h14m4 0h15m6 0h12m4 0h1m2 0h3m2 0h4m2 0h5m2 0h2m2 0h9m3 0h1m2 0h8m2 0h7m2 0h10m3 0h1m2 0h31m2 0h6m2 0h5m5 0h2m2 0h2m2 0h7m6 0h6m11 0h3m7 0h1m2 0h1m5 0h9m3 0h10m5 0h1m-539 1h4m2 0h1m2 0h1m2 0h18m2 0h9m3 0h3m4 0h1m2 0h1m4 0h6m10 0h6m8 0h6m3 0h16m5 0h1m2 0h1m3 0h4m3 0h3m5 0h4m3 0h7m3 0h4m2 0h4m2 0h2m3 0h2m3 0h3m2 0h1m2 0h23m6 0h4m3 0h5m2 0h16m2 0h8m2 0h3m2 0h2m2 0h3m3 0h1m2 0h1m2 0h12m2 0h12m2 0h8m2 0h1m4 0h1m2 0h3m2 0h10m5 0h1m3 0h1m2 0h1m2 0h6m5 0h1m2 0h1m2 0h3m2 0h1m3 0h2m3 0h20m2 0h3m3 0h27m2 0h4m2 0h1m3 0h9m2 0h1m2 0h1m6 0h8m4 0h8m7 0h1m2 0h2m4 0h10m2 0h5m3 0h2m4 0h2m-541 1h9m5 0h15m5 0h1m2 0h10m6 0h4m2 0h3m2 0h1m2 0h5m4 0h8m4 0h1m2 0h3m2 0h1m4 0h12m3 0h1m3 0h2m3 0h1m3 0h5m2 0h1m6 0h2m5 0h5m6 0h1m8 0h4m2 0h2m6 0h3m3 0h5m2 0h1m3 0h12m2 0h2m2 0h8m2 0h5m3 0h5m3 0h4m2 0h8m3 0h17m2 0h4m2 0h1m2 0h4m2 0h1m2 0h4m4 0h9m4 0h1m4 0h5m2 0h1m2 0h5m2 0h1m2 0h1m2 0h1m2 0h12m4 0h9m3 0h2m4 0h3m2 0h19m4 0h31m2 0h7m4 0h6m2 0h1m3 0h3m5 0h2m5 0h1m2 0h8m11 0h3m6 0h5m2 0h1m3 0h2m6 0h3m2 0h1m-540 1h2m3 0h11m12 0h4m3 0h12m6 0h3m2 0h4m3 0h7m4 0h1m2 0h5m4 0h1m4 0h4m2 0h1m2 0h15m3 0h2m3 0h3m3 0h3m2 0h4m3 0h3m4 0h2m5 0h1m4 0h3m4 0h8m3 0h1m5 0h5m2 0h9m3 0h12m2 0h6m5 0h3m3 0h5m7 0h1m2 0h1m3 0h3m4 0h10m2 0h13m6 0h3m3 0h1m4 0h12m3 0h3m2 0h9m2 0h7m3 0h1m2 0h10m2 0h3m4 0h1m2 0h6m3 0h2m6 0h2m4 0h18m3 0h21m3 0h13m3 0h1m2 0h9m3 0h3m2 0h3m8 0h3m2 0h2m2 0h1m4 0h2m2 0h6m10 0h1m7 0h2m3 0h1m3 0h2m-539 1h3m3 0h1m2 0h6m5 0h1m2 0h10m2 0h8m3 0h3m2 0h6m2 0h4m3 0h1m10 0h9m2 0h2m2 0h6m2 0h1m4 0h13m3 0h2m2 0h4m8 0h4m2 0h4m3 0h5m3 0h1m2 0h5m4 0h8m3 0h9m4 0h3m3 0h6m2 0h2m2 0h1m2 0h2m3 0h1m7 0h1m2 0h3m3 0h2m3 0h2m2 0h6m4 0h5m2 0h3m3 0h5m2 0h1m2 0h9m2 0h11m4 0h4m4 0h4m3 0h13m3 0h7m3 0h1m3 0h14m5 0h7m3 0h2m6 0h9m2 0h1m2 0h1m3 0h4m2 0h1m3 0h2m3 0h16m2 0h10m2 0h10m3 0h3m2 0h3m3 0h4m3 0h1m3 0h4m4 0h3m4 0h10m11 0h1m2 0h1m4 0h1m3 0h1m4 0h1m-539 1h1m3 0h1m2 0h1m4 0h3m2 0h1m2 0h9m2 0h1m2 0h9m2 0h4m2 0h4m3 0h2m2 0h1m2 0h1m8 0h7m3 0h10m3 0h2m4 0h2m4 0h2m2 0h2m8 0h3m4 0h4m3 0h1m2 0h1m2 0h1m2 0h1m2 0h7m2 0h6m7 0h3m2 0h2m3 0h9m3 0h1m7 0h5m3 0h4m2 0h2m8 0h1m2 0h1m2 0h7m4 0h10m3 0h11m2 0h2m2 0h5m2 0h1m3 0h2m5 0h5m2 0h2m2 0h2m3 0h3m4 0h16m4 0h3m3 0h3m3 0h2m2 0h4m4 0h8m2 0h13m2 0h1m4 0h6m2 0h1m2 0h10m3 0h1m2 0h2m3 0h8m4 0h4m3 0h10m4 0h2m3 0h3m3 0h14m2 0h4m2 0h4m4 0h2m4 0h12m3 0h1m6 0h1m2 0h1m9 0h1m-533 1h3m2 0h8m2 0h1m3 0h3m3 0h2m5 0h1m2 0h18m3 0h1m3 0h5m3 0h1m2 0h6m2 0h6m3 0h5m2 0h2m2 0h10m2 0h4m5 0h4m4 0h6m3 0h4m3 0h1m2 0h15m6 0h1m2 0h3m4 0h2m2 0h1m4 0h5m2 0h2m2 0h2m2 0h9m2 0h3m5 0h3m3 0h9m3 0h1m2 0h22m2 0h8m3 0h1m2 0h1m3 0h1m3 0h6m4 0h3m2 0h6m2 0h1m2 0h10m2 0h1m2 0h5m2 0h12m3 0h1m3 0h11m3 0h15m2 0h1m4 0h1m4 0h11m2 0h24m2 0h1m2 0h8m2 0h4m5 0h1m2 0h7m2 0h3m2 0h1m2 0h4m2 0h4m5 0h1m2 0h6m2 0h1m4 0h1m2 0h2m15 0h2m2 0h1m6 0h1m-540 1h13m8 0h10m5 0h7m3 0h7m3 0h1m2 0h6m3 0h1m2 0h6m2 0h2m7 0h8m3 0h3m2 0h4m3 0h4m3 0h3m10 0h3m2 0h10m2 0h1m4 0h2m2 0h7m2 0h14m7 0h4m3 0h2m2 0h3m3 0h7m4 0h4m2 0h1m5 0h10m2 0h1m2 0h1m3 0h2m2 0h13m4 0h2m2 0h7m2 0h1m2 0h2m2 0h2m2 0h3m4 0h3m2 0h1m2 0h3m2 0h1m2 0h5m3 0h2m2 0h1m2 0h2m2 0h4m3 0h2m3 0h1m2 0h1m2 0h1m3 0h1m4 0h1m2 0h1m2 0h1m4 0h1m4 0h11m4 0h3m2 0h2m3 0h1m2 0h3m3 0h8m3 0h7m2 0h7m2 0h7m2 0h3m4 0h7m4 0h1m2 0h6m3 0h3m4 0h1m2 0h5m2 0h1m5 0h1m9 0h2m6 0h2m7 0h2m5 0h1m3 0h1m-541 1h12m7 0h1m3 0h9m5 0h8m4 0h5m2 0h9m4 0h1m2 0h4m4 0h1m2 0h1m4 0h2m2 0h1m2 0h3m2 0h3m2 0h2m5 0h3m3 0h4m11 0h14m2 0h1m3 0h3m3 0h2m2 0h2m2 0h6m2 0h7m5 0h1m2 0h5m5 0h2m3 0h1m2 0h1m3 0h1m5 0h3m4 0h13m5 0h3m2 0h1m2 0h1m2 0h9m6 0h4m2 0h4m4 0h3m2 0h3m3 0h3m2 0h7m2 0h2m2 0h1m2 0h5m3 0h5m3 0h1m4 0h1m2 0h6m4 0h3m5 0h5m2 0h1m2 0h1m2 0h1m7 0h3m2 0h1m2 0h1m4 0h4m2 0h1m2 0h3m2 0h9m2 0h3m2 0h17m2 0h7m4 0h1m2 0h11m2 0h1m2 0h1m3 0h3m2 0h1m2 0h1m3 0h7m9 0h1m10 0h3m4 0h2m9 0h1m4 0h1m-537 1h3m2 0h6m8 0h1m4 0h1m2 0h2m2 0h1m5 0h8m2 0h7m2 0h1m2 0h6m5 0h6m3 0h2m2 0h2m2 0h3m2 0h1m2 0h3m3 0h2m3 0h9m3 0h7m4 0h2m2 0h9m4 0h8m2 0h6m5 0h5m5 0h1m2 0h8m2 0h5m2 0h3m5 0h2m5 0h2m4 0h4m3 0h3m2 0h3m2 0h1m2 0h1m2 0h5m9 0h4m2 0h2m6 0h10m2 0h5m2 0h3m4 0h2m3 0h3m2 0h1m2 0h2m2 0h2m2 0h4m4 0h3m3 0h2m7 0h21m2 0h9m4 0h4m4 0h1m2 0h1m2 0h5m5 0h2m2 0h1m2 0h12m2 0h31m3 0h7m2 0h4m5 0h6m4 0h3m3 0h5m3 0h1m3 0h3m2 0h1m3 0h7m4 0h1m10 0h3m3 0h2m-538 1h2m2 0h2m3 0h1m2 0h6m2 0h1m2 0h1m3 0h4m2 0h1m2 0h6m2 0h7m3 0h3m3 0h1m2 0h1m5 0h2m2 0h3m2 0h9m4 0h1m6 0h4m4 0h4m9 0h11m2 0h7m6 0h13m2 0h3m3 0h1m3 0h1m4 0h1m3 0h9m4 0h2m2 0h3m3 0h1m2 0h10m2 0h13m2 0h3m2 0h5m5 0h1m4 0h3m2 0h1m4 0h2m7 0h11m2 0h1m2 0h1m6 0h4m4 0h3m3 0h5m2 0h1m2 0h1m2 0h6m2 0h2m7 0h3m3 0h4m4 0h10m3 0h4m5 0h4m4 0h1m2 0h5m7 0h20m2 0h7m2 0h23m2 0h7m2 0h4m5 0h3m2 0h1m4 0h3m5 0h3m3 0h1m3 0h7m2 0h5m6 0h3m4 0h1m4 0h2m3 0h2m-538 1h1m4 0h13m2 0h1m2 0h7m3 0h1m7 0h8m4 0h8m2 0h2m4 0h2m2 0h3m3 0h3m2 0h1m3 0h4m4 0h7m2 0h2m2 0h3m7 0h8m4 0h6m2 0h2m5 0h3m2 0h4m2 0h1m2 0h3m3 0h2m5 0h9m4 0h7m3 0h2m3 0h2m4 0h3m2 0h11m5 0h1m3 0h3m2 0h5m3 0h12m3 0h4m7 0h3m2 0h6m8 0h5m2 0h9m2 0h5m2 0h4m2 0h6m3 0h2m3 0h1m2 0h10m5 0h13m4 0h1m4 0h2m4 0h1m4 0h6m5 0h1m2 0h1m3 0h7m3 0h1m5 0h3m2 0h3m2 0h30m3 0h2m6 0h6m3 0h3m2 0h1m3 0h3m7 0h4m2 0h3m8 0h1m4 0h2m3 0h1m10 0h1m-538 1h2m2 0h4m2 0h1m2 0h4m3 0h1m2 0h7m6 0h3m2 0h3m2 0h3m4 0h8m2 0h3m4 0h2m2 0h7m3 0h1m3 0h18m3 0h6m2 0h3m3 0h1m5 0h7m3 0h2m5 0h3m2 0h5m3 0h2m2 0h7m3 0h11m3 0h5m4 0h2m2 0h6m4 0h7m2 0h2m4 0h2m5 0h3m2 0h1m2 0h1m3 0h3m2 0h2m2 0h5m2 0h5m6 0h6m2 0h1m7 0h9m2 0h4m2 0h2m2 0h5m2 0h8m2 0h4m2 0h1m2 0h10m2 0h7m2 0h1m2 0h8m4 0h1m4 0h18m4 0h7m3 0h5m2 0h3m2 0h1m7 0h1m2 0h3m2 0h4m2 0h4m2 0h2m2 0h2m4 0h8m6 0h16m2 0h1m3 0h1m4 0h5m4 0h1m2 0h1m5 0h1m5 0h1m2 0h1m-527 1h3m2 0h3m2 0h3m3 0h2m6 0h1m3 0h1m3 0h3m2 0h13m2 0h5m3 0h3m3 0h1m3 0h16m3 0h2m2 0h13m8 0h2m2 0h5m7 0h8m3 0h1m6 0h1m3 0h1m3 0h1m3 0h1m3 0h7m2 0h1m3 0h1m2 0h13m5 0h5m2 0h2m3 0h4m4 0h5m3 0h2m3 0h2m2 0h1m5 0h2m2 0h7m3 0h12m3 0h9m4 0h2m3 0h4m3 0h4m7 0h1m3 0h29m2 0h3m3 0h7m3 0h11m3 0h3m2 0h6m2 0h5m4 0h12m4 0h12m2 0h1m2 0h8m2 0h10m2 0h8m5 0h3m3 0h2m3 0h2m2 0h12m3 0h1m2 0h2m3 0h1m2 0h4m5 0h1m11 0h4m12 0h1m-540 1h2m3 0h3m2 0h5m4 0h2m2 0h1m4 0h1m2 0h4m6 0h2m3 0h4m2 0h5m4 0h3m6 0h1m2 0h1m3 0h1m2 0h1m2 0h3m3 0h7m7 0h1m8 0h3m3 0h5m2 0h1m4 0h2m5 0h2m2 0h3m5 0h2m2 0h1m2 0h1m7 0h1m2 0h1m3 0h3m4 0h5m2 0h2m3 0h1m7 0h10m2 0h1m2 0h1m4 0h5m4 0h8m6 0h2m2 0h5m3 0h11m2 0h2m2 0h3m3 0h4m3 0h8m7 0h1m3 0h2m2 0h23m2 0h3m2 0h1m3 0h14m3 0h3m2 0h8m2 0h7m2 0h1m2 0h18m7 0h1m2 0h5m2 0h2m2 0h4m2 0h5m2 0h11m2 0h3m2 0h15m3 0h6m2 0h6m2 0h4m3 0h1m3 0h1m2 0h1m2 0h1m5 0h1m2 0h1m5 0h1m3 0h5m10 0h1m-540 1h1m3 0h5m2 0h1m2 0h2m3 0h5m2 0h1m2 0h3m4 0h6m2 0h1m4 0h2m3 0h1m3 0h1m2 0h7m3 0h3m2 0h1m3 0h2m7 0h11m4 0h1m7 0h7m3 0h1m2 0h2m9 0h4m3 0h8m2 0h2m3 0h1m2 0h1m5 0h1m3 0h2m2 0h7m2 0h1m3 0h2m3 0h12m2 0h9m3 0h3m3 0h12m4 0h5m2 0h7m2 0h7m2 0h2m2 0h1m6 0h14m2 0h2m5 0h12m5 0h11m2 0h1m5 0h1m3 0h7m2 0h5m3 0h13m2 0h15m2 0h6m3 0h1m6 0h1m2 0h2m6 0h1m2 0h9m4 0h1m4 0h2m2 0h1m3 0h3m2 0h13m2 0h3m5 0h2m2 0h1m2 0h1m2 0h3m2 0h5m6 0h1m7 0h1m6 0h1m5 0h1m5 0h3m5 0h2m2 0h1m-539 1h1m2 0h2m2 0h2m6 0h3m4 0h1m3 0h6m4 0h15m3 0h1m3 0h1m2 0h7m3 0h3m2 0h6m2 0h3m2 0h12m3 0h2m3 0h8m2 0h1m2 0h9m2 0h7m4 0h7m3 0h5m2 0h1m5 0h3m2 0h1m2 0h3m3 0h1m2 0h1m2 0h3m2 0h8m2 0h3m3 0h8m5 0h1m3 0h1m3 0h24m2 0h8m3 0h2m2 0h4m2 0h3m2 0h9m2 0h11m2 0h2m2 0h3m5 0h14m2 0h3m4 0h6m7 0h9m4 0h3m4 0h10m3 0h1m2 0h6m2 0h3m2 0h1m2 0h4m5 0h3m2 0h1m2 0h1m2 0h8m4 0h3m3 0h15m4 0h1m2 0h5m3 0h5m4 0h4m5 0h2m13 0h7m4 0h1m16 0h5m-537 1h2m2 0h4m3 0h1m3 0h3m4 0h1m2 0h3m4 0h3m2 0h10m2 0h1m3 0h1m2 0h1m4 0h4m4 0h11m2 0h3m4 0h1m2 0h12m3 0h3m2 0h6m3 0h8m2 0h2m9 0h5m2 0h2m2 0h4m4 0h1m3 0h4m4 0h3m4 0h1m2 0h11m3 0h1m5 0h1m2 0h1m6 0h2m3 0h3m2 0h1m4 0h20m5 0h7m4 0h19m2 0h3m2 0h12m2 0h1m3 0h1m2 0h5m2 0h9m3 0h11m2 0h1m3 0h1m5 0h1m5 0h1m3 0h3m2 0h1m2 0h4m4 0h3m7 0h4m2 0h3m2 0h2m2 0h3m2 0h1m2 0h3m2 0h3m3 0h8m4 0h8m2 0h6m2 0h3m3 0h9m5 0h1m6 0h7m2 0h2m2 0h1m3 0h3m4 0h1m2 0h4m2 0h3m4 0h1m3 0h1m9 0h4m-538 1h2m2 0h4m3 0h1m3 0h5m2 0h1m2 0h10m2 0h3m2 0h2m2 0h1m2 0h1m3 0h4m4 0h1m2 0h3m3 0h8m4 0h3m2 0h1m4 0h9m2 0h1m3 0h1m3 0h2m2 0h1m3 0h2m2 0h7m4 0h2m4 0h1m6 0h7m2 0h6m4 0h7m4 0h4m2 0h1m4 0h4m3 0h3m2 0h4m3 0h1m5 0h2m2 0h4m3 0h1m3 0h8m4 0h2m2 0h3m3 0h6m9 0h11m2 0h1m2 0h1m4 0h1m3 0h4m3 0h12m2 0h5m3 0h13m2 0h11m2 0h1m3 0h2m5 0h2m3 0h3m2 0h2m3 0h11m2 0h6m4 0h2m2 0h13m4 0h15m2 0h12m2 0h3m2 0h3m2 0h10m3 0h1m2 0h5m2 0h1m3 0h6m2 0h1m3 0h3m13 0h1m6 0h1m3 0h1m7 0h1m2 0h3m-538 1h2m4 0h3m4 0h1m2 0h7m2 0h10m7 0h2m2 0h1m7 0h3m3 0h12m2 0h1m3 0h10m2 0h1m2 0h1m3 0h5m4 0h2m3 0h2m4 0h13m3 0h5m2 0h8m2 0h4m2 0h6m2 0h1m2 0h1m2 0h12m3 0h5m4 0h10m3 0h2m4 0h1m2 0h2m4 0h6m7 0h1m5 0h2m3 0h1m3 0h3m2 0h4m6 0h6m2 0h1m4 0h1m2 0h14m3 0h12m3 0h8m2 0h9m2 0h11m4 0h4m5 0h1m4 0h1m2 0h4m3 0h5m4 0h10m4 0h8m2 0h5m3 0h8m2 0h13m2 0h25m2 0h1m4 0h1m2 0h5m7 0h4m3 0h1m6 0h5m12 0h2m5 0h1m7 0h1m5 0h1m-539 1h3m5 0h1m4 0h2m2 0h4m4 0h10m2 0h1m4 0h1m3 0h1m2 0h2m3 0h4m2 0h12m2 0h2m2 0h3m3 0h8m2 0h1m3 0h10m3 0h3m2 0h2m3 0h3m5 0h1m2 0h2m2 0h4m2 0h5m3 0h2m4 0h3m2 0h1m2 0h4m5 0h9m3 0h5m2 0h5m2 0h2m2 0h1m2 0h3m4 0h1m2 0h4m2 0h6m2 0h2m2 0h2m2 0h1m3 0h1m4 0h2m7 0h7m2 0h3m2 0h20m3 0h2m3 0h1m2 0h9m3 0h10m2 0h2m2 0h3m4 0h5m2 0h1m4 0h5m2 0h1m5 0h3m2 0h4m2 0h4m2 0h4m2 0h2m2 0h1m2 0h9m2 0h2m3 0h3m4 0h2m2 0h13m2 0h1m2 0h21m2 0h3m4 0h1m2 0h5m3 0h2m4 0h1m2 0h1m2 0h1m3 0h4m2 0h6m12 0h2m3 0h5m5 0h1m2 0h4m-539 1h3m3 0h2m3 0h9m4 0h2m2 0h7m2 0h1m2 0h3m3 0h1m2 0h4m3 0h2m2 0h2m2 0h8m3 0h1m2 0h4m2 0h11m3 0h1m2 0h5m5 0h3m2 0h1m12 0h5m2 0h4m7 0h6m3 0h3m4 0h4m4 0h1m4 0h7m3 0h1m5 0h4m2 0h9m2 0h14m3 0h6m2 0h5m3 0h1m2 0h6m8 0h8m2 0h15m2 0h5m2 0h2m7 0h16m4 0h2m5 0h3m5 0h8m3 0h3m3 0h11m3 0h1m2 0h18m2 0h7m4 0h2m4 0h4m3 0h3m3 0h3m2 0h2m2 0h1m4 0h16m5 0h1m2 0h4m3 0h1m2 0h9m3 0h3m2 0h1m2 0h1m5 0h2m2 0h1m2 0h2m3 0h1m2 0h1m5 0h3m3 0h5m2 0h1m5 0h3m-538 1h1m2 0h1m2 0h3m2 0h2m2 0h2m6 0h3m2 0h1m2 0h4m5 0h3m3 0h1m4 0h2m8 0h2m3 0h1m4 0h4m3 0h4m3 0h8m3 0h3m4 0h1m2 0h2m2 0h4m3 0h1m5 0h1m3 0h11m2 0h4m3 0h6m9 0h5m2 0h3m4 0h1m2 0h4m10 0h3m2 0h4m2 0h1m4 0h3m3 0h4m2 0h2m3 0h5m5 0h5m2 0h3m4 0h3m2 0h12m2 0h1m2 0h3m3 0h13m2 0h6m4 0h21m6 0h3m4 0h3m2 0h4m2 0h12m2 0h4m2 0h9m2 0h1m2 0h6m2 0h10m2 0h1m2 0h4m2 0h1m2 0h5m2 0h3m2 0h1m3 0h2m2 0h9m2 0h4m2 0h13m2 0h11m4 0h1m4 0h1m4 0h2m9 0h6m2 0h1m5 0h3m3 0h4m3 0h2m2 0h3m2 0h1m-538 1h3m4 0h5m3 0h3m4 0h8m2 0h3m9 0h1m3 0h1m12 0h3m7 0h3m4 0h1m5 0h1m2 0h1m3 0h2m2 0h3m4 0h1m2 0h2m2 0h4m2 0h2m2 0h1m2 0h8m4 0h9m8 0h2m5 0h7m3 0h3m2 0h3m2 0h2m2 0h5m5 0h3m2 0h4m2 0h1m3 0h3m2 0h7m7 0h1m3 0h3m4 0h9m5 0h7m4 0h7m3 0h2m5 0h1m3 0h4m7 0h6m2 0h5m2 0h3m3 0h1m2 0h14m4 0h3m5 0h3m2 0h6m4 0h3m2 0h1m4 0h6m7 0h1m3 0h1m2 0h3m4 0h3m5 0h2m4 0h1m2 0h5m2 0h2m3 0h1m4 0h6m2 0h9m3 0h4m2 0h3m2 0h8m3 0h3m11 0h1m3 0h2m5 0h1m3 0h5m2 0h2m6 0h2m4 0h1m2 0h1m3 0h1m2 0h3m2 0h1m-540 1h5m5 0h15m2 0h1m3 0h6m3 0h1m5 0h2m2 0h1m5 0h5m2 0h3m6 0h1m5 0h3m5 0h1m2 0h2m2 0h7m2 0h1m4 0h3m4 0h1m2 0h1m3 0h1m4 0h3m2 0h1m2 0h2m3 0h6m5 0h5m5 0h3m3 0h2m7 0h2m3 0h2m2 0h6m3 0h4m2 0h4m6 0h6m5 0h4m4 0h7m4 0h1m2 0h3m2 0h2m6 0h6m4 0h4m2 0h1m3 0h3m2 0h2m3 0h3m2 0h1m5 0h1m2 0h19m2 0h2m2 0h8m3 0h5m7 0h2m5 0h5m2 0h3m4 0h6m2 0h1m4 0h4m2 0h2m7 0h1m3 0h10m6 0h1m8 0h1m2 0h1m2 0h4m2 0h1m2 0h2m3 0h5m2 0h3m4 0h2m3 0h6m4 0h3m8 0h1m2 0h5m6 0h1m7 0h5m6 0h2m7 0h1m6 0h3m-537 1h4m4 0h1m3 0h11m2 0h1m6 0h1m7 0h1m5 0h2m6 0h7m2 0h4m5 0h7m5 0h3m2 0h2m4 0h3m2 0h4m5 0h1m2 0h6m3 0h1m4 0h3m2 0h5m4 0h1m3 0h9m2 0h1m2 0h1m2 0h2m3 0h4m4 0h3m2 0h11m3 0h1m2 0h1m2 0h4m6 0h5m2 0h2m2 0h4m4 0h6m2 0h1m2 0h1m8 0h4m3 0h12m3 0h13m2 0h8m6 0h8m2 0h2m3 0h3m3 0h1m3 0h5m2 0h12m2 0h20m3 0h6m7 0h3m3 0h3m6 0h2m2 0h12m2 0h5m3 0h1m2 0h1m2 0h7m2 0h5m4 0h4m3 0h2m2 0h5m2 0h8m6 0h1m6 0h7m5 0h1m2 0h2m3 0h7m6 0h1m2 0h1m2 0h1m12 0h2m-540 1h6m3 0h1m2 0h8m2 0h1m2 0h2m2 0h3m2 0h1m6 0h4m2 0h1m4 0h1m2 0h7m2 0h6m3 0h8m4 0h3m2 0h1m4 0h2m3 0h2m2 0h2m2 0h9m5 0h1m3 0h8m2 0h1m4 0h1m3 0h5m2 0h1m3 0h8m4 0h4m3 0h3m2 0h1m2 0h1m2 0h1m7 0h1m2 0h8m4 0h5m3 0h2m2 0h4m8 0h12m2 0h1m3 0h3m3 0h3m2 0h6m3 0h1m2 0h6m3 0h1m2 0h5m2 0h1m6 0h3m8 0h1m2 0h4m3 0h1m2 0h4m2 0h1m2 0h2m2 0h29m5 0h5m2 0h1m2 0h1m6 0h4m5 0h2m2 0h7m2 0h10m3 0h1m4 0h1m2 0h5m2 0h7m4 0h1m4 0h9m2 0h4m3 0h3m4 0h1m3 0h3m2 0h1m2 0h4m3 0h9m5 0h3m7 0h1m2 0h1m4 0h1m7 0h2m-540 1h3m2 0h4m3 0h5m2 0h4m2 0h1m2 0h7m3 0h1m3 0h5m2 0h1m2 0h1m3 0h6m4 0h4m3 0h2m3 0h3m2 0h3m3 0h2m4 0h2m2 0h2m2 0h3m2 0h6m2 0h1m7 0h10m2 0h1m4 0h1m3 0h5m3 0h2m2 0h11m3 0h4m2 0h1m3 0h2m2 0h2m2 0h1m4 0h1m2 0h5m2 0h1m2 0h7m7 0h3m4 0h1m3 0h16m5 0h10m2 0h2m4 0h1m2 0h5m3 0h1m3 0h1m3 0h1m2 0h1m2 0h3m2 0h3m4 0h4m2 0h1m2 0h1m3 0h10m2 0h1m4 0h3m2 0h2m2 0h4m3 0h10m5 0h7m2 0h1m2 0h3m2 0h1m2 0h3m2 0h1m2 0h1m3 0h7m2 0h6m8 0h1m3 0h1m2 0h1m3 0h10m2 0h3m3 0h5m2 0h3m3 0h3m5 0h1m3 0h8m2 0h9m2 0h8m3 0h5m15 0h1m7 0h1m-539 1h1m5 0h3m3 0h6m2 0h3m2 0h1m2 0h8m2 0h1m3 0h8m2 0h2m3 0h6m3 0h1m2 0h1m4 0h1m3 0h1m4 0h3m3 0h2m5 0h4m3 0h3m7 0h1m2 0h1m6 0h12m8 0h1m2 0h4m3 0h4m3 0h1m2 0h13m3 0h4m2 0h2m2 0h1m4 0h4m3 0h1m4 0h3m2 0h4m6 0h2m5 0h2m2 0h4m2 0h6m2 0h1m4 0h2m2 0h8m2 0h2m2 0h3m3 0h3m4 0h1m3 0h1m3 0h9m2 0h5m2 0h3m3 0h1m2 0h3m2 0h9m3 0h1m2 0h7m4 0h7m2 0h7m5 0h3m2 0h6m3 0h1m2 0h1m2 0h3m2 0h3m5 0h3m2 0h9m3 0h1m4 0h1m2 0h1m3 0h1m4 0h6m2 0h5m4 0h10m2 0h5m3 0h10m2 0h1m2 0h6m2 0h6m4 0h1m3 0h1m13 0h1m13 0h1m-539 1h2m4 0h3m2 0h12m2 0h1m2 0h3m4 0h1m3 0h1m4 0h7m2 0h1m3 0h1m3 0h2m3 0h1m2 0h1m4 0h1m3 0h1m2 0h1m3 0h1m5 0h8m4 0h1m9 0h3m7 0h7m3 0h2m2 0h1m4 0h2m2 0h4m4 0h3m3 0h3m2 0h5m2 0h1m2 0h1m3 0h3m3 0h1m4 0h1m4 0h7m2 0h3m4 0h6m4 0h2m2 0h1m3 0h6m3 0h3m2 0h4m4 0h2m2 0h5m6 0h8m2 0h2m3 0h1m8 0h16m4 0h4m4 0h2m2 0h2m2 0h14m2 0h4m2 0h6m3 0h1m4 0h1m2 0h2m3 0h17m2 0h2m5 0h3m4 0h6m4 0h4m2 0h1m3 0h1m3 0h5m3 0h11m2 0h2m3 0h1m4 0h12m3 0h4m3 0h5m3 0h6m3 0h4m11 0h3m4 0h1m4 0h6m-531 1h4m4 0h7m2 0h4m2 0h1m5 0h3m2 0h7m4 0h7m12 0h1m2 0h6m2 0h5m2 0h1m3 0h1m4 0h8m4 0h5m3 0h1m2 0h6m7 0h1m2 0h3m5 0h10m4 0h1m2 0h4m2 0h3m3 0h2m2 0h3m3 0h5m2 0h3m3 0h5m2 0h6m2 0h8m2 0h3m4 0h14m2 0h2m3 0h3m3 0h3m3 0h8m2 0h1m2 0h2m2 0h3m2 0h6m4 0h1m2 0h2m5 0h1m3 0h7m2 0h5m4 0h7m4 0h4m3 0h1m2 0h13m3 0h3m3 0h2m2 0h10m2 0h10m2 0h3m3 0h4m2 0h3m2 0h2m3 0h3m2 0h3m4 0h1m4 0h5m2 0h11m3 0h18m8 0h1m3 0h1m3 0h4m2 0h1m4 0h1m4 0h1m10 0h7m2 0h1m5 0h5m-531 1h1m2 0h2m3 0h3m2 0h7m4 0h1m2 0h4m3 0h11m2 0h5m4 0h1m4 0h1m2 0h9m2 0h3m4 0h1m3 0h2m3 0h9m3 0h5m3 0h3m2 0h8m3 0h9m2 0h11m3 0h1m3 0h3m4 0h2m2 0h15m2 0h4m2 0h5m2 0h3m2 0h1m2 0h8m2 0h2m3 0h19m2 0h3m3 0h5m3 0h4m3 0h7m5 0h1m2 0h5m3 0h3m2 0h1m2 0h1m2 0h2m4 0h1m3 0h2m2 0h5m2 0h1m2 0h8m2 0h5m2 0h6m2 0h3m3 0h8m3 0h1m3 0h1m2 0h2m2 0h3m2 0h1m2 0h1m2 0h3m3 0h10m2 0h3m2 0h2m3 0h4m2 0h3m4 0h1m3 0h7m5 0h5m2 0h2m2 0h11m2 0h3m2 0h1m4 0h6m3 0h7m4 0h1m2 0h5m8 0h1m5 0h1m2 0h1m6 0h3m-526 1h1m3 0h2m3 0h6m3 0h3m2 0h6m2 0h2m5 0h3m4 0h1m6 0h6m3 0h4m2 0h1m5 0h2m2 0h2m4 0h1m3 0h15m3 0h1m3 0h11m3 0h9m2 0h1m2 0h1m2 0h11m5 0h5m3 0h15m2 0h3m3 0h4m2 0h3m2 0h5m3 0h1m7 0h6m3 0h10m4 0h7m3 0h1m4 0h3m5 0h1m2 0h6m6 0h4m2 0h3m2 0h14m2 0h2m2 0h1m3 0h1m2 0h1m4 0h6m6 0h1m2 0h7m3 0h11m4 0h5m2 0h1m3 0h2m2 0h4m5 0h12m5 0h1m4 0h4m2 0h2m2 0h5m2 0h1m3 0h3m3 0h15m2 0h11m2 0h6m4 0h1m2 0h1m2 0h10m4 0h1m2 0h7m7 0h1m4 0h1m2 0h3m2 0h6m5 0h3m2 0h1m-534 1h2m3 0h5m3 0h2m5 0h1m2 0h5m2 0h3m3 0h1m5 0h1m6 0h5m4 0h1m5 0h1m4 0h8m2 0h5m6 0h26m4 0h4m3 0h1m2 0h1m4 0h1m2 0h1m3 0h7m3 0h5m3 0h10m2 0h17m2 0h1m3 0h1m7 0h4m3 0h1m2 0h2m4 0h10m6 0h5m3 0h8m5 0h9m2 0h8m2 0h1m5 0h2m2 0h9m2 0h6m2 0h1m6 0h5m2 0h1m2 0h4m2 0h1m4 0h2m5 0h1m4 0h12m3 0h6m2 0h7m3 0h12m4 0h1m6 0h2m2 0h9m4 0h1m2 0h1m2 0h1m2 0h4m4 0h3m2 0h1m2 0h3m3 0h1m2 0h2m4 0h2m2 0h1m2 0h3m2 0h5m2 0h4m5 0h1m7 0h2m7 0h1m7 0h6m4 0h1m5 0h3m2 0h1m-538 1h1m3 0h1m2 0h6m2 0h3m6 0h6m4 0h3m2 0h2m5 0h1m4 0h8m3 0h2m4 0h5m3 0h6m2 0h2m3 0h3m4 0h4m3 0h7m4 0h1m2 0h3m4 0h3m10 0h7m2 0h3m3 0h5m2 0h2m3 0h3m4 0h2m5 0h3m3 0h3m2 0h4m2 0h1m3 0h1m7 0h4m6 0h11m3 0h5m3 0h7m3 0h7m4 0h19m7 0h1m6 0h6m3 0h10m3 0h7m2 0h1m2 0h4m6 0h1m4 0h1m5 0h9m3 0h3m2 0h7m2 0h6m3 0h8m2 0h2m3 0h3m2 0h1m9 0h3m5 0h3m2 0h8m5 0h1m5 0h1m2 0h3m3 0h1m2 0h1m3 0h1m2 0h4m2 0h10m2 0h10m6 0h5m17 0h1m5 0h1m-529 1h5m2 0h4m3 0h1m2 0h1m2 0h1m5 0h5m2 0h1m7 0h2m10 0h10m2 0h1m6 0h3m3 0h11m2 0h5m4 0h2m10 0h2m2 0h8m2 0h1m6 0h1m2 0h1m2 0h13m4 0h7m3 0h2m6 0h3m3 0h1m3 0h3m3 0h4m3 0h1m2 0h2m3 0h1m2 0h1m2 0h1m2 0h2m3 0h1m2 0h8m2 0h1m2 0h3m2 0h8m2 0h10m3 0h5m3 0h2m2 0h10m2 0h5m2 0h2m2 0h1m5 0h10m3 0h9m3 0h1m2 0h1m2 0h1m3 0h1m4 0h2m4 0h2m3 0h7m2 0h1m2 0h7m5 0h2m2 0h1m3 0h6m2 0h8m2 0h4m3 0h1m5 0h1m4 0h1m2 0h10m4 0h2m5 0h1m3 0h4m4 0h1m3 0h1m2 0h3m6 0h4m2 0h13m5 0h6m6 0h1m2 0h1m3 0h1m3 0h1m14 0h2m-539 1h1m3 0h1m2 0h1m5 0h1m2 0h2m2 0h1m2 0h4m2 0h2m2 0h1m3 0h1m2 0h1m5 0h1m3 0h3m4 0h7m5 0h5m3 0h4m3 0h1m3 0h1m3 0h1m2 0h1m5 0h2m2 0h1m6 0h2m2 0h3m2 0h6m5 0h2m2 0h1m4 0h1m2 0h5m2 0h1m5 0h1m2 0h3m4 0h4m3 0h3m3 0h1m2 0h5m2 0h1m2 0h2m2 0h4m2 0h6m2 0h5m8 0h1m4 0h1m2 0h4m2 0h8m4 0h1m3 0h6m3 0h3m5 0h24m2 0h1m7 0h7m7 0h8m5 0h6m4 0h1m2 0h1m2 0h4m2 0h3m2 0h3m4 0h4m13 0h1m5 0h3m4 0h7m2 0h4m3 0h3m3 0h1m2 0h1m4 0h1m4 0h10m3 0h4m2 0h6m5 0h1m4 0h1m10 0h9m2 0h2m4 0h1m4 0h1m3 0h1m7 0h5m2 0h1m4 0h3m7 0h1m3 0h2m-540 1h4m4 0h3m3 0h1m2 0h3m2 0h4m4 0h2m2 0h8m5 0h2m2 0h3m2 0h19m3 0h8m6 0h5m2 0h1m3 0h4m4 0h3m8 0h1m2 0h4m4 0h3m3 0h2m8 0h1m2 0h8m3 0h1m4 0h14m2 0h5m3 0h1m2 0h1m2 0h3m2 0h7m2 0h5m2 0h1m8 0h3m2 0h4m2 0h14m3 0h11m7 0h2m2 0h1m2 0h18m3 0h1m2 0h8m7 0h9m2 0h8m4 0h1m4 0h4m3 0h8m2 0h5m12 0h3m7 0h1m4 0h1m2 0h1m2 0h1m4 0h8m2 0h8m6 0h9m4 0h3m2 0h2m2 0h3m2 0h6m4 0h3m2 0h1m3 0h7m4 0h2m4 0h2m13 0h1m3 0h3m2 0h2m3 0h3m7 0h3m2 0h1m-540 1h5m4 0h4m3 0h4m2 0h2m7 0h1m3 0h7m2 0h1m3 0h1m2 0h3m2 0h1m4 0h8m3 0h3m4 0h7m2 0h7m4 0h3m2 0h1m2 0h1m3 0h1m2 0h1m2 0h2m3 0h7m4 0h3m3 0h3m4 0h1m2 0h1m2 0h8m3 0h1m4 0h2m2 0h2m2 0h4m5 0h8m2 0h1m2 0h1m2 0h3m2 0h3m5 0h3m2 0h6m3 0h17m2 0h6m2 0h2m4 0h11m2 0h3m4 0h1m2 0h10m2 0h4m2 0h1m2 0h10m5 0h3m3 0h3m2 0h5m2 0h1m9 0h2m6 0h5m3 0h2m2 0h1m2 0h3m4 0h5m3 0h2m4 0h2m3 0h4m7 0h6m4 0h10m2 0h5m3 0h1m4 0h1m6 0h2m3 0h1m3 0h6m4 0h7m2 0h7m2 0h5m2 0h3m13 0h1m2 0h1m5 0h3m8 0h1m5 0h1m-535 1h3m4 0h4m3 0h8m10 0h2m5 0h6m4 0h3m3 0h1m6 0h11m4 0h6m3 0h5m4 0h5m4 0h4m4 0h5m3 0h8m5 0h2m2 0h3m4 0h1m5 0h4m4 0h6m3 0h8m3 0h1m4 0h6m2 0h16m4 0h1m2 0h3m2 0h4m2 0h3m2 0h3m2 0h7m5 0h2m4 0h1m2 0h6m2 0h7m3 0h1m4 0h3m4 0h1m2 0h3m2 0h5m4 0h10m3 0h5m3 0h2m2 0h1m2 0h2m3 0h1m4 0h3m3 0h1m6 0h3m5 0h1m3 0h6m3 0h5m2 0h4m2 0h1m2 0h3m3 0h6m3 0h6m3 0h5m3 0h3m2 0h1m3 0h2m7 0h1m7 0h1m3 0h1m6 0h3m5 0h1m2 0h3m4 0h1m3 0h1m2 0h2m2 0h4m4 0h1m9 0h5m4 0h1m2 0h3m5 0h2m2 0h1m4 0h1m-536 1h1m3 0h4m7 0h5m11 0h2m5 0h2m3 0h1m5 0h1m2 0h4m5 0h4m2 0h8m2 0h1m2 0h2m2 0h8m2 0h4m5 0h7m2 0h1m2 0h1m3 0h8m3 0h1m2 0h1m2 0h8m5 0h6m2 0h2m3 0h3m3 0h4m5 0h1m2 0h5m2 0h20m3 0h1m3 0h2m4 0h2m2 0h5m5 0h2m4 0h3m4 0h1m6 0h6m5 0h8m7 0h1m3 0h2m5 0h3m2 0h3m2 0h2m5 0h1m5 0h3m2 0h1m2 0h3m2 0h1m2 0h6m4 0h3m8 0h1m3 0h1m5 0h1m3 0h3m6 0h4m3 0h4m2 0h1m4 0h2m2 0h6m4 0h3m5 0h2m8 0h1m7 0h1m3 0h2m2 0h3m5 0h2m2 0h3m6 0h1m5 0h5m6 0h1m3 0h4m2 0h3m5 0h5m4 0h6m4 0h3m2 0h1m5 0h1m3 0h1m4 0h1m-537 1h2m3 0h2m9 0h1m2 0h1m2 0h1m2 0h2m3 0h1m6 0h6m6 0h1m3 0h5m3 0h4m4 0h2m2 0h4m2 0h4m2 0h2m2 0h9m7 0h6m2 0h1m3 0h1m2 0h1m2 0h5m3 0h1m4 0h7m4 0h1m7 0h1m8 0h2m3 0h2m4 0h4m2 0h5m2 0h5m2 0h1m2 0h11m2 0h1m3 0h2m4 0h2m2 0h1m2 0h2m2 0h8m3 0h3m2 0h3m3 0h3m8 0h4m2 0h3m4 0h1m4 0h5m3 0h4m3 0h2m2 0h2m2 0h1m6 0h5m2 0h4m10 0h3m6 0h1m6 0h4m2 0h1m9 0h1m4 0h1m4 0h3m2 0h5m2 0h1m3 0h6m3 0h1m7 0h2m4 0h2m8 0h2m10 0h14m2 0h7m5 0h1m3 0h3m2 0h1m4 0h1m3 0h1m5 0h4m6 0h3m4 0h1m4 0h1m4 0h3m5 0h1m8 0h1m-534 1h1m6 0h2m2 0h1m4 0h1m2 0h4m2 0h2m2 0h2m2 0h1m3 0h6m2 0h1m3 0h1m2 0h1m2 0h3m3 0h3m5 0h5m2 0h1m2 0h4m2 0h1m6 0h5m6 0h5m2 0h5m2 0h1m3 0h1m3 0h2m3 0h10m4 0h1m2 0h3m2 0h1m9 0h4m2 0h3m4 0h4m2 0h2m2 0h1m3 0h10m9 0h1m2 0h6m3 0h1m2 0h4m5 0h9m3 0h2m2 0h3m3 0h3m4 0h1m3 0h5m6 0h3m4 0h9m5 0h1m2 0h3m3 0h1m3 0h1m2 0h1m6 0h5m6 0h1m2 0h1m7 0h1m2 0h2m2 0h5m6 0h1m5 0h3m2 0h1m4 0h1m3 0h4m2 0h1m5 0h6m3 0h2m7 0h1m4 0h3m7 0h8m3 0h1m2 0h4m2 0h3m4 0h1m2 0h13m6 0h1m7 0h1m9 0h1m3 0h1m2 0h1m7 0h1m2 0h1m2 0h1m2 0h3m3 0h3m5 0h1m2 0h1m-536 1h1m2 0h4m2 0h7m2 0h1m3 0h1m4 0h2m2 0h7m3 0h1m4 0h2m2 0h1m3 0h6m4 0h3m2 0h1m3 0h3m2 0h1m3 0h1m10 0h6m2 0h5m4 0h7m2 0h1m3 0h1m7 0h13m2 0h6m2 0h1m4 0h3m2 0h8m3 0h3m2 0h1m2 0h6m2 0h9m3 0h4m3 0h1m2 0h3m2 0h1m3 0h1m2 0h6m3 0h5m2 0h2m3 0h2m2 0h4m2 0h1m2 0h1m3 0h1m4 0h5m5 0h1m2 0h7m3 0h5m3 0h6m2 0h2m3 0h2m11 0h2m3 0h1m2 0h2m6 0h4m2 0h2m2 0h1m2 0h1m3 0h2m2 0h1m4 0h1m2 0h3m2 0h1m6 0h1m2 0h1m2 0h2m4 0h4m5 0h2m3 0h5m3 0h4m2 0h13m3 0h5m11 0h7m2 0h9m2 0h3m2 0h2m3 0h6m4 0h5m2 0h9m2 0h1m2 0h1m2 0h3m3 0h1m7 0h1m5 0h1m-539 1h1m2 0h6m3 0h6m4 0h1m5 0h11m7 0h5m2 0h1m2 0h4m3 0h4m2 0h3m3 0h1m2 0h4m2 0h1m5 0h5m2 0h1m3 0h4m5 0h2m3 0h3m3 0h2m5 0h9m2 0h1m2 0h3m3 0h4m2 0h2m2 0h8m2 0h4m3 0h2m2 0h1m3 0h6m2 0h1m3 0h3m5 0h5m2 0h7m11 0h3m3 0h1m3 0h1m5 0h10m2 0h1m2 0h2m9 0h3m5 0h1m2 0h7m3 0h2m2 0h1m5 0h7m5 0h2m3 0h1m7 0h1m2 0h6m6 0h8m3 0h2m4 0h5m4 0h1m2 0h3m2 0h3m2 0h1m4 0h1m2 0h2m7 0h1m8 0h7m3 0h3m3 0h7m4 0h1m6 0h1m7 0h2m5 0h1m2 0h18m3 0h2m4 0h6m4 0h2m3 0h10m2 0h2m4 0h2m6 0h3m9 0h1m-538 1h1m5 0h2m7 0h2m4 0h1m6 0h3m3 0h5m6 0h5m2 0h1m2 0h8m2 0h1m3 0h2m6 0h7m4 0h4m3 0h17m2 0h3m2 0h3m5 0h12m2 0h3m3 0h1m2 0h1m2 0h2m2 0h2m3 0h4m3 0h2m4 0h1m2 0h1m8 0h1m3 0h1m3 0h2m4 0h2m2 0h2m2 0h3m2 0h2m6 0h2m3 0h3m3 0h1m3 0h1m3 0h3m4 0h2m2 0h4m3 0h1m9 0h3m3 0h2m7 0h3m2 0h3m2 0h1m2 0h1m2 0h8m4 0h2m3 0h1m10 0h9m6 0h5m3 0h3m5 0h1m9 0h1m5 0h5m5 0h4m2 0h1m2 0h3m7 0h4m2 0h1m7 0h1m7 0h2m3 0h2m6 0h1m7 0h2m2 0h1m7 0h3m3 0h8m4 0h1m4 0h4m2 0h4m2 0h10m2 0h8m4 0h1m6 0h5m3 0h2m-537 1h5m18 0h5m4 0h1m4 0h7m7 0h8m2 0h3m2 0h1m4 0h1m4 0h10m2 0h3m5 0h18m7 0h1m11 0h2m2 0h2m4 0h3m5 0h9m2 0h1m2 0h4m2 0h3m3 0h1m2 0h3m3 0h1m4 0h3m3 0h1m5 0h6m4 0h1m2 0h3m4 0h3m3 0h2m3 0h3m2 0h13m2 0h3m3 0h1m3 0h4m4 0h7m7 0h3m2 0h2m2 0h1m3 0h1m2 0h3m2 0h4m3 0h1m3 0h4m7 0h3m2 0h5m3 0h8m5 0h1m5 0h3m4 0h1m7 0h5m6 0h1m2 0h1m2 0h6m4 0h1m2 0h4m3 0h1m6 0h2m3 0h1m2 0h2m3 0h1m5 0h1m2 0h1m3 0h3m4 0h1m7 0h2m4 0h1m8 0h1m2 0h3m2 0h1m2 0h4m2 0h12m7 0h1m2 0h1m4 0h1m2 0h1m6 0h2m3 0h2m-537 1h2m2 0h1m5 0h1m3 0h1m3 0h1m2 0h1m3 0h3m4 0h2m3 0h7m3 0h1m2 0h12m3 0h3m3 0h1m3 0h5m3 0h3m2 0h6m2 0h1m6 0h6m6 0h1m4 0h5m7 0h3m2 0h1m2 0h1m2 0h4m4 0h12m2 0h18m3 0h1m4 0h1m2 0h5m5 0h3m3 0h1m2 0h1m4 0h1m3 0h2m5 0h2m3 0h3m3 0h11m4 0h1m4 0h10m3 0h5m5 0h3m2 0h1m3 0h6m6 0h3m3 0h1m7 0h1m2 0h2m6 0h1m5 0h2m4 0h8m2 0h3m9 0h1m3 0h2m2 0h1m3 0h2m2 0h2m5 0h9m3 0h6m4 0h1m4 0h1m5 0h3m3 0h1m2 0h2m2 0h2m5 0h1m2 0h1m2 0h4m4 0h1m2 0h1m4 0h3m3 0h1m8 0h2m3 0h1m5 0h4m2 0h4m4 0h1m3 0h1m9 0h1m3 0h5m7 0h1m2 0h2m5 0h1m-541 1h1m2 0h1m2 0h4m3 0h1m3 0h1m2 0h1m5 0h1m5 0h1m3 0h3m6 0h2m2 0h1m2 0h3m3 0h3m3 0h11m2 0h2m3 0h3m5 0h3m3 0h1m3 0h1m3 0h5m5 0h1m3 0h6m2 0h1m4 0h1m2 0h7m3 0h2m4 0h7m2 0h3m2 0h6m4 0h7m4 0h3m5 0h5m11 0h4m2 0h1m5 0h1m3 0h5m3 0h1m10 0h5m5 0h8m2 0h2m2 0h1m3 0h2m4 0h2m2 0h3m2 0h2m4 0h6m2 0h5m3 0h1m4 0h2m4 0h2m2 0h1m9 0h1m5 0h3m2 0h3m2 0h3m8 0h6m3 0h1m2 0h2m7 0h1m2 0h9m2 0h1m2 0h4m3 0h2m6 0h1m2 0h4m3 0h4m3 0h2m11 0h1m5 0h7m3 0h3m11 0h3m2 0h1m4 0h3m5 0h2m6 0h1m3 0h1m4 0h1m5 0h1m2 0h4m3 0h1m2 0h3m2 0h4m3 0h1m-541 1h8m4 0h1m3 0h1m3 0h1m12 0h2m4 0h1m2 0h4m2 0h1m3 0h2m9 0h10m3 0h9m11 0h1m3 0h1m3 0h1m3 0h1m5 0h2m2 0h1m2 0h1m4 0h1m6 0h8m9 0h7m3 0h2m5 0h3m2 0h1m2 0h2m2 0h2m2 0h2m2 0h2m10 0h3m7 0h4m2 0h1m4 0h2m3 0h2m2 0h1m7 0h1m8 0h1m5 0h9m3 0h2m2 0h1m6 0h1m2 0h5m2 0h1m2 0h1m2 0h1m5 0h2m2 0h4m2 0h3m4 0h2m5 0h1m2 0h1m2 0h1m13 0h1m5 0h1m4 0h14m7 0h1m2 0h3m2 0h2m2 0h4m4 0h8m4 0h3m6 0h1m2 0h1m2 0h1m4 0h2m18 0h1m2 0h3m2 0h5m9 0h2m2 0h4m2 0h9m3 0h1m2 0h2m2 0h7m4 0h3m5 0h1m3 0h1m2 0h1m2 0h1m2 0h1m4 0h1m2 0h2m-537 1h9m2 0h2m2 0h1m7 0h2m7 0h2m3 0h2m2 0h3m3 0h1m4 0h7m3 0h5m2 0h3m3 0h9m2 0h3m8 0h3m2 0h1m3 0h3m4 0h2m6 0h6m5 0h7m7 0h6m7 0h2m6 0h5m2 0h2m2 0h1m2 0h3m3 0h1m8 0h5m8 0h8m2 0h2m4 0h1m2 0h3m3 0h3m2 0h1m3 0h5m3 0h7m5 0h1m2 0h1m3 0h1m2 0h2m2 0h5m2 0h3m3 0h3m8 0h1m4 0h2m5 0h1m8 0h2m2 0h1m3 0h1m9 0h2m4 0h1m4 0h8m3 0h3m10 0h3m2 0h1m3 0h14m4 0h4m9 0h1m4 0h3m3 0h1m2 0h1m2 0h1m11 0h4m4 0h2m2 0h2m8 0h2m2 0h3m3 0h2m2 0h5m3 0h5m2 0h7m4 0h3m12 0h1m5 0h6m2 0h2m-535 1h7m2 0h2m2 0h3m4 0h8m5 0h3m2 0h1m7 0h1m4 0h9m14 0h4m4 0h9m4 0h3m2 0h1m3 0h3m9 0h1m2 0h6m2 0h1m3 0h6m4 0h1m2 0h10m3 0h1m6 0h4m5 0h1m5 0h8m7 0h1m4 0h1m2 0h1m2 0h11m2 0h3m2 0h3m2 0h1m3 0h3m2 0h2m2 0h5m3 0h1m2 0h1m2 0h1m5 0h1m2 0h2m2 0h1m2 0h3m10 0h4m2 0h3m7 0h1m2 0h4m8 0h1m4 0h1m7 0h2m8 0h7m3 0h9m3 0h3m18 0h13m3 0h1m2 0h1m7 0h1m4 0h1m4 0h3m2 0h5m2 0h2m10 0h5m3 0h2m3 0h1m3 0h1m4 0h2m2 0h3m2 0h3m2 0h1m3 0h7m11 0h1m4 0h2m10 0h1m5 0h7m-529 1h10m2 0h3m4 0h8m5 0h3m2 0h1m2 0h1m4 0h4m3 0h1m3 0h5m5 0h2m4 0h1m8 0h4m2 0h3m3 0h2m2 0h1m5 0h1m11 0h1m5 0h1m2 0h3m3 0h1m2 0h1m4 0h5m3 0h1m2 0h4m7 0h1m2 0h1m2 0h1m2 0h1m2 0h1m5 0h11m5 0h1m2 0h2m2 0h1m2 0h4m6 0h6m3 0h2m3 0h1m2 0h9m7 0h1m6 0h1m8 0h3m3 0h1m2 0h1m2 0h1m8 0h5m2 0h1m3 0h1m2 0h2m2 0h1m2 0h1m7 0h2m7 0h1m4 0h2m2 0h1m6 0h6m2 0h10m3 0h1m3 0h3m2 0h1m11 0h2m2 0h1m3 0h3m3 0h3m9 0h2m8 0h4m2 0h3m5 0h1m13 0h3m2 0h2m7 0h1m8 0h1m4 0h1m8 0h6m4 0h3m3 0h3m2 0h3m8 0h1m2 0h1m5 0h1m3 0h1m6 0h1m-538 1h1m8 0h2m2 0h3m9 0h7m3 0h1m5 0h1m2 0h14m2 0h5m5 0h4m2 0h1m2 0h5m2 0h2m9 0h2m2 0h1m6 0h1m5 0h4m2 0h1m7 0h1m5 0h1m7 0h1m3 0h4m3 0h1m6 0h1m3 0h3m4 0h5m3 0h1m2 0h6m2 0h3m5 0h1m2 0h1m4 0h1m4 0h1m6 0h2m4 0h5m3 0h1m2 0h6m2 0h3m5 0h4m3 0h1m4 0h4m2 0h2m2 0h2m3 0h2m5 0h1m3 0h5m2 0h1m2 0h1m2 0h1m4 0h1m4 0h1m4 0h1m6 0h3m4 0h2m2 0h1m2 0h2m2 0h5m3 0h9m8 0h3m2 0h1m7 0h2m10 0h1m5 0h1m8 0h1m2 0h3m2 0h1m4 0h4m6 0h1m3 0h1m7 0h1m5 0h3m2 0h4m8 0h3m4 0h1m4 0h1m3 0h1m3 0h6m4 0h3m3 0h2m3 0h1m9 0h2m2 0h1m5 0h1m3 0h1m6 0h1m-538 1h2m7 0h3m3 0h1m11 0h1m3 0h1m3 0h3m3 0h1m4 0h4m2 0h6m2 0h5m4 0h7m3 0h11m9 0h1m5 0h1m2 0h1m5 0h9m3 0h1m3 0h1m3 0h2m7 0h1m2 0h4m6 0h1m3 0h2m2 0h3m4 0h5m2 0h3m4 0h2m2 0h3m6 0h1m3 0h1m3 0h4m5 0h1m3 0h1m4 0h5m3 0h1m2 0h2m5 0h5m6 0h3m2 0h1m4 0h8m3 0h1m3 0h1m4 0h4m3 0h4m2 0h1m9 0h2m4 0h1m4 0h1m6 0h1m2 0h2m2 0h1m2 0h1m3 0h2m4 0h3m3 0h4m18 0h1m4 0h6m9 0h1m14 0h1m4 0h1m2 0h1m3 0h1m4 0h1m5 0h1m3 0h1m7 0h1m6 0h1m2 0h1m3 0h1m5 0h1m2 0h3m4 0h3m2 0h1m3 0h1m4 0h2m2 0h1m5 0h1m10 0h2m7 0h1m3 0h1m5 0h1m7 0h1m-535 1h3m6 0h6m8 0h1m4 0h4m4 0h2m9 0h2m2 0h6m5 0h4m3 0h1m2 0h4m2 0h1m2 0h1m2 0h2m2 0h2m4 0h3m2 0h1m5 0h1m5 0h1m2 0h9m3 0h1m3 0h1m4 0h2m6 0h1m5 0h1m6 0h1m4 0h4m2 0h2m4 0h8m2 0h4m2 0h1m4 0h1m2 0h7m2 0h4m4 0h4m5 0h5m2 0h3m2 0h2m5 0h1m3 0h1m6 0h3m2 0h1m3 0h2m4 0h5m8 0h6m5 0h1m6 0h5m2 0h1m4 0h1m5 0h3m5 0h4m2 0h1m2 0h1m4 0h1m11 0h1m13 0h1m6 0h1m4 0h2m3 0h1m7 0h3m2 0h3m6 0h3m2 0h5m2 0h4m4 0h1m5 0h1m3 0h1m7 0h1m9 0h2m5 0h1m2 0h5m3 0h1m3 0h1m10 0h1m4 0h7m5 0h1m2 0h4m5 0h1m7 0h1m3 0h1m7 0h1m-535 1h11m2 0h3m6 0h2m2 0h5m5 0h2m3 0h5m5 0h1m2 0h1m5 0h1m4 0h1m6 0h4m2 0h7m5 0h1m3 0h3m3 0h6m5 0h1m2 0h8m7 0h1m2 0h1m3 0h1m2 0h2m2 0h1m5 0h3m4 0h2m3 0h4m2 0h2m2 0h1m3 0h3m2 0h4m2 0h1m2 0h1m4 0h1m2 0h7m10 0h4m5 0h5m2 0h1m4 0h5m2 0h2m2 0h1m3 0h5m2 0h2m3 0h1m5 0h2m2 0h1m4 0h1m3 0h2m2 0h1m5 0h1m2 0h1m4 0h5m5 0h3m2 0h3m2 0h3m2 0h2m5 0h1m2 0h1m2 0h1m5 0h1m7 0h3m4 0h1m3 0h4m6 0h1m2 0h1m8 0h1m5 0h1m3 0h4m6 0h3m2 0h5m2 0h3m7 0h1m15 0h1m5 0h1m4 0h1m3 0h3m2 0h3m5 0h1m4 0h3m7 0h1m4 0h7m4 0h2m2 0h4m2 0h1m2 0h1m6 0h2m3 0h3m8 0h3m-540 1h10m2 0h1m2 0h1m5 0h2m3 0h1m2 0h1m6 0h3m2 0h5m4 0h2m2 0h3m3 0h1m3 0h1m7 0h1m2 0h1m4 0h3m2 0h1m4 0h1m3 0h1m3 0h6m4 0h4m5 0h5m4 0h1m2 0h1m2 0h3m4 0h2m10 0h1m4 0h2m3 0h11m5 0h1m2 0h2m4 0h1m2 0h1m4 0h1m3 0h1m2 0h3m4 0h2m6 0h2m5 0h1m3 0h1m8 0h8m6 0h3m4 0h5m3 0h1m2 0h2m7 0h1m3 0h2m2 0h1m5 0h1m2 0h1m4 0h4m3 0h1m2 0h8m2 0h3m2 0h1m5 0h9m4 0h1m8 0h7m3 0h2m11 0h4m5 0h1m2 0h1m6 0h1m10 0h1m5 0h1m5 0h1m8 0h2m2 0h1m11 0h1m4 0h2m6 0h10m10 0h12m5 0h5m2 0h4m2 0h1m4 0h5m2 0h1m3 0h2m3 0h3m4 0h1m3 0h3m-540 1h7m3 0h3m2 0h1m2 0h1m2 0h1m5 0h3m8 0h1m3 0h1m2 0h1m2 0h3m4 0h2m2 0h1m4 0h1m4 0h1m3 0h1m4 0h5m2 0h1m8 0h10m4 0h3m8 0h3m4 0h1m3 0h1m2 0h2m5 0h1m3 0h1m5 0h1m3 0h2m9 0h5m4 0h1m8 0h1m2 0h1m2 0h1m3 0h3m2 0h1m3 0h2m4 0h2m2 0h1m3 0h4m2 0h5m6 0h4m4 0h1m3 0h4m2 0h4m2 0h6m2 0h3m7 0h2m3 0h1m7 0h1m3 0h3m4 0h3m3 0h2m2 0h7m3 0h2m3 0h1m5 0h9m5 0h1m10 0h4m4 0h1m12 0h3m8 0h1m6 0h1m9 0h3m10 0h1m9 0h1m2 0h1m7 0h1m3 0h1m4 0h4m4 0h1m2 0h4m17 0h9m2 0h1m2 0h4m2 0h1m4 0h3m3 0h5m2 0h1m4 0h1m10 0h1m3 0h1m-538 1h2m4 0h1m3 0h3m5 0h1m2 0h2m2 0h7m7 0h4m2 0h4m6 0h1m3 0h2m3 0h1m4 0h1m2 0h2m4 0h5m8 0h1m2 0h12m4 0h1m3 0h1m3 0h1m2 0h5m3 0h7m2 0h4m2 0h1m5 0h6m5 0h2m2 0h6m3 0h1m3 0h1m4 0h3m7 0h3m6 0h1m4 0h1m3 0h2m4 0h3m2 0h9m2 0h4m8 0h5m2 0h3m2 0h1m4 0h3m2 0h1m7 0h2m3 0h1m7 0h1m3 0h5m8 0h1m3 0h1m10 0h1m12 0h1m4 0h1m5 0h1m5 0h1m8 0h1m7 0h1m3 0h2m16 0h1m11 0h6m3 0h1m2 0h1m4 0h1m10 0h1m8 0h1m4 0h1m6 0h6m2 0h1m13 0h1m4 0h1m9 0h4m6 0h5m2 0h3m4 0h5m6 0h1m3 0h1m9 0h1m-537 1h2m5 0h5m6 0h5m2 0h2m2 0h3m7 0h5m2 0h5m3 0h9m2 0h1m3 0h7m2 0h5m6 0h3m2 0h7m2 0h4m4 0h1m2 0h1m2 0h4m2 0h16m2 0h2m9 0h3m3 0h1m2 0h3m6 0h1m2 0h3m2 0h1m3 0h4m7 0h1m5 0h1m5 0h3m3 0h4m8 0h1m2 0h5m11 0h8m2 0h1m7 0h1m3 0h1m11 0h1m5 0h3m2 0h12m4 0h3m10 0h1m14 0h1m6 0h1m11 0h1m3 0h1m4 0h1m7 0h1m3 0h2m16 0h1m4 0h1m6 0h7m2 0h1m2 0h1m4 0h3m7 0h6m9 0h2m5 0h4m3 0h1m14 0h1m3 0h2m8 0h1m2 0h1m2 0h1m4 0h2m2 0h1m3 0h2m3 0h6m4 0h3m3 0h2m8 0h2m-534 1h1m2 0h6m7 0h2m4 0h1m2 0h1m2 0h1m2 0h1m7 0h1m6 0h10m2 0h1m2 0h3m3 0h1m3 0h10m2 0h5m2 0h3m2 0h2m2 0h1m2 0h1m3 0h3m4 0h1m2 0h4m3 0h2m7 0h1m2 0h4m11 0h1m3 0h6m5 0h2m2 0h4m5 0h5m6 0h4m2 0h1m5 0h1m2 0h1m2 0h4m6 0h5m2 0h3m9 0h6m6 0h1m4 0h1m2 0h2m4 0h1m9 0h1m5 0h3m2 0h8m2 0h2m4 0h3m10 0h1m9 0h1m3 0h2m4 0h3m5 0h1m5 0h5m17 0h1m18 0h1m2 0h1m12 0h1m12 0h2m5 0h2m2 0h3m6 0h1m2 0h2m3 0h1m7 0h2m6 0h1m11 0h1m9 0h1m5 0h1m4 0h4m4 0h6m7 0h3m6 0h1m3 0h1m4 0h4m-536 1h6m2 0h3m4 0h4m5 0h1m3 0h4m5 0h8m2 0h2m3 0h2m4 0h1m2 0h3m2 0h2m4 0h1m5 0h3m2 0h1m3 0h1m2 0h4m8 0h1m3 0h3m2 0h1m6 0h2m6 0h1m4 0h7m9 0h1m2 0h3m3 0h4m2 0h1m2 0h1m6 0h3m2 0h6m8 0h2m5 0h1m4 0h2m4 0h1m3 0h1m3 0h5m3 0h2m5 0h1m2 0h3m6 0h1m8 0h1m2 0h9m5 0h1m7 0h1m5 0h2m2 0h10m10 0h1m7 0h1m4 0h2m3 0h1m5 0h3m5 0h1m7 0h1m2 0h1m2 0h1m4 0h1m8 0h1m3 0h1m13 0h2m5 0h1m7 0h1m5 0h1m6 0h1m2 0h1m5 0h5m6 0h3m2 0h2m3 0h2m6 0h3m5 0h1m16 0h2m9 0h1m4 0h6m3 0h4m2 0h1m5 0h3m6 0h1m3 0h3m3 0h3m-539 1h3m2 0h10m2 0h2m2 0h1m2 0h1m2 0h1m3 0h2m7 0h1m2 0h5m6 0h5m4 0h2m4 0h5m2 0h2m3 0h6m3 0h1m3 0h3m7 0h2m2 0h3m3 0h6m5 0h1m3 0h1m4 0h3m2 0h1m10 0h1m2 0h3m2 0h1m3 0h4m11 0h4m2 0h3m14 0h2m4 0h1m5 0h1m3 0h1m4 0h1m2 0h2m2 0h3m4 0h1m2 0h3m2 0h1m3 0h3m6 0h1m2 0h1m2 0h2m3 0h1m4 0h3m11 0h2m6 0h7m6 0h9m3 0h1m4 0h1m17 0h2m5 0h1m4 0h1m2 0h1m4 0h1m12 0h1m13 0h1m6 0h1m7 0h1m5 0h1m6 0h1m10 0h3m6 0h1m10 0h1m2 0h2m2 0h3m10 0h1m11 0h2m8 0h2m5 0h1m2 0h2m3 0h1m5 0h3m3 0h4m4 0h2m4 0h2m3 0h1m-538 1h5m5 0h2m2 0h6m5 0h3m4 0h1m8 0h3m11 0h5m4 0h1m2 0h3m2 0h3m2 0h2m3 0h1m2 0h4m4 0h4m7 0h2m3 0h1m4 0h7m4 0h2m6 0h1m10 0h1m2 0h1m4 0h1m6 0h2m3 0h8m6 0h5m3 0h1m9 0h1m4 0h3m8 0h1m3 0h1m4 0h2m2 0h3m2 0h2m7 0h1m4 0h1m3 0h10m6 0h1m3 0h1m2 0h5m11 0h2m7 0h1m2 0h2m2 0h1m4 0h3m3 0h3m6 0h1m17 0h4m5 0h1m14 0h1m30 0h3m26 0h3m6 0h1m17 0h5m5 0h2m5 0h1m11 0h2m8 0h1m14 0h1m7 0h2m2 0h5m3 0h1m5 0h2m3 0h1m-538 1h2m2 0h1m3 0h4m2 0h1m2 0h3m2 0h1m2 0h3m12 0h1m2 0h1m6 0h1m6 0h3m6 0h6m4 0h7m2 0h1m2 0h1m2 0h6m4 0h1m2 0h1m4 0h1m4 0h3m5 0h1m2 0h1m6 0h2m3 0h1m6 0h1m2 0h1m3 0h2m7 0h1m5 0h6m2 0h1m5 0h4m3 0h3m6 0h1m6 0h1m8 0h1m3 0h1m3 0h3m3 0h2m2 0h2m5 0h1m3 0h3m2 0h3m2 0h5m4 0h1m3 0h2m2 0h4m16 0h1m7 0h4m3 0h1m11 0h2m2 0h1m3 0h1m8 0h1m4 0h1m3 0h3m12 0h1m8 0h3m28 0h3m13 0h2m11 0h3m6 0h1m8 0h1m10 0h1m7 0h2m7 0h2m3 0h1m4 0h2m4 0h2m25 0h2m3 0h1m2 0h1m3 0h1m3 0h4m-533 1h1m2 0h1m3 0h1m5 0h1m2 0h1m4 0h1m2 0h1m3 0h3m7 0h2m2 0h1m6 0h1m3 0h1m2 0h3m4 0h3m2 0h5m2 0h1m3 0h2m2 0h3m4 0h1m4 0h3m2 0h1m7 0h1m4 0h5m3 0h1m2 0h1m6 0h1m4 0h1m4 0h1m7 0h2m6 0h1m2 0h1m12 0h1m5 0h10m7 0h1m6 0h2m14 0h3m2 0h2m3 0h1m3 0h1m2 0h1m3 0h3m2 0h3m11 0h1m4 0h1m2 0h3m2 0h1m9 0h1m13 0h1m13 0h1m3 0h1m3 0h1m2 0h3m7 0h1m4 0h1m5 0h3m7 0h1m2 0h1m10 0h1m10 0h1m28 0h1m3 0h3m9 0h1m17 0h3m8 0h1m9 0h1m8 0h2m3 0h4m2 0h1m4 0h2m22 0h2m6 0h1m2 0h1m3 0h1m3 0h4m5 0h1m-538 1h1m5 0h1m3 0h3m4 0h1m9 0h5m2 0h1m2 0h1m3 0h1m10 0h1m2 0h3m4 0h1m4 0h6m6 0h6m8 0h1m2 0h1m3 0h1m6 0h1m4 0h1m3 0h1m5 0h2m11 0h1m4 0h1m2 0h1m4 0h3m5 0h1m2 0h1m7 0h1m2 0h4m5 0h1m2 0h4m8 0h2m6 0h3m2 0h1m14 0h2m8 0h1m4 0h5m4 0h1m7 0h1m3 0h1m5 0h3m4 0h4m2 0h1m3 0h1m8 0h1m10 0h3m5 0h1m3 0h1m6 0h3m20 0h1m7 0h1m21 0h1m2 0h1m19 0h1m8 0h5m8 0h1m2 0h1m17 0h3m8 0h1m2 0h1m3 0h1m10 0h1m6 0h3m6 0h1m9 0h1m6 0h1m2 0h1m2 0h4m2 0h1m3 0h1m4 0h3m4 0h2m3 0h1m2 0h1m-541 1h1m2 0h1m5 0h1m3 0h3m3 0h2m3 0h1m2 0h5m2 0h1m2 0h1m6 0h1m20 0h1m7 0h3m5 0h1m2 0h1m11 0h1m6 0h1m21 0h2m3 0h1m2 0h1m12 0h1m5 0h2m5 0h3m7 0h8m5 0h2m2 0h1m9 0h2m6 0h1m2 0h1m2 0h1m9 0h2m3 0h1m4 0h3m7 0h6m3 0h9m2 0h1m6 0h1m2 0h1m4 0h3m2 0h1m8 0h1m3 0h1m10 0h3m16 0h1m10 0h1m38 0h1m2 0h1m20 0h3m10 0h1m3 0h1m6 0h1m5 0h1m23 0h1m3 0h3m2 0h1m7 0h1m2 0h4m3 0h1m8 0h1m9 0h1m2 0h2m2 0h1m2 0h4m2 0h4m2 0h1m2 0h1m2 0h1m6 0h2m3 0h1m2 0h2m-542 1h1m10 0h1m3 0h1m3 0h1m3 0h12m2 0h1m3 0h1m2 0h1m3 0h1m6 0h1m2 0h1m6 0h1m7 0h1m7 0h1m2 0h1m5 0h2m21 0h1m3 0h3m2 0h9m2 0h1m3 0h3m5 0h1m10 0h1m2 0h3m7 0h6m7 0h2m2 0h1m8 0h2m6 0h2m9 0h1m3 0h4m7 0h4m4 0h4m4 0h1m5 0h5m4 0h1m3 0h3m3 0h1m6 0h2m10 0h1m19 0h1m22 0h3m14 0h1m19 0h2m2 0h1m6 0h2m15 0h1m12 0h1m3 0h1m12 0h1m8 0h1m14 0h1m3 0h3m10 0h1m3 0h3m21 0h6m2 0h1m2 0h3m3 0h4m2 0h1m2 0h1m3 0h1m4 0h2m2 0h1m2 0h1m2 0h1m-536 1h1m4 0h1m6 0h2m3 0h6m2 0h2m2 0h1m3 0h3m6 0h1m6 0h1m2 0h2m6 0h2m2 0h2m2 0h1m8 0h1m2 0h1m3 0h2m13 0h1m7 0h2m2 0h3m2 0h3m3 0h1m3 0h1m4 0h3m2 0h6m6 0h3m3 0h3m2 0h1m4 0h5m9 0h5m4 0h3m2 0h1m4 0h1m3 0h2m5 0h1m2 0h4m8 0h4m4 0h4m11 0h1m11 0h3m2 0h1m7 0h2m4 0h1m5 0h1m14 0h1m4 0h1m22 0h2m15 0h1m19 0h2m9 0h2m4 0h1m10 0h1m38 0h1m16 0h1m18 0h1m11 0h1m9 0h9m3 0h1m2 0h1m2 0h1m3 0h2m8 0h1m4 0h2m2 0h4m-533 1h1m11 0h1m5 0h3m2 0h1m5 0h1m3 0h3m6 0h1m6 0h2m2 0h1m2 0h1m3 0h2m2 0h7m2 0h1m3 0h1m2 0h3m6 0h1m3 0h1m5 0h1m8 0h2m2 0h2m7 0h2m3 0h1m6 0h1m2 0h2m3 0h3m4 0h4m2 0h3m2 0h1m2 0h1m3 0h2m10 0h1m2 0h4m2 0h1m4 0h1m4 0h2m2 0h4m6 0h1m3 0h1m3 0h1m4 0h1m3 0h1m17 0h1m16 0h1m4 0h1m2 0h3m3 0h3m3 0h1m6 0h1m3 0h5m3 0h3m3 0h1m17 0h2m51 0h2m4 0h1m61 0h2m8 0h1m6 0h1m13 0h1m9 0h1m5 0h3m3 0h8m2 0h2m18 0h1m-531 1h1m5 0h3m8 0h2m2 0h5m8 0h2m3 0h1m9 0h5m2 0h2m3 0h1m4 0h1m2 0h2m2 0h1m5 0h1m2 0h1m6 0h1m3 0h1m4 0h2m5 0h1m3 0h4m8 0h2m8 0h1m3 0h1m4 0h1m2 0h1m5 0h3m2 0h1m3 0h1m3 0h3m2 0h3m3 0h1m3 0h1m6 0h6m7 0h2m2 0h1m2 0h1m4 0h3m2 0h2m3 0h1m4 0h2m2 0h1m3 0h1m5 0h1m7 0h1m3 0h2m10 0h1m5 0h2m2 0h2m3 0h3m2 0h1m7 0h1m2 0h4m5 0h3m3 0h1m14 0h1m3 0h1m11 0h1m8 0h1m30 0h1m5 0h1m23 0h1m30 0h1m6 0h2m8 0h1m6 0h1m17 0h1m7 0h1m4 0h1m6 0h6m2 0h1m2 0h1m2 0h1m2 0h1m10 0h1m-532 1h4m3 0h3m8 0h1m2 0h2m3 0h1m8 0h6m11 0h2m4 0h1m3 0h1m4 0h1m8 0h5m4 0h1m6 0h4m3 0h2m5 0h2m3 0h4m2 0h1m5 0h1m2 0h1m2 0h1m2 0h1m3 0h2m3 0h2m2 0h1m4 0h3m6 0h1m3 0h8m3 0h1m2 0h2m7 0h7m2 0h1m3 0h1m5 0h1m4 0h6m10 0h2m5 0h3m3 0h1m3 0h1m5 0h5m9 0h1m6 0h1m2 0h1m9 0h1m3 0h1m6 0h2m7 0h1m13 0h1m6 0h1m3 0h1m11 0h1m7 0h2m11 0h1m48 0h1m21 0h1m6 0h3m5 0h2m9 0h1m4 0h1m2 0h1m16 0h1m7 0h1m2 0h3m2 0h1m4 0h2m2 0h3m3 0h1m2 0h1m2 0h1m3 0h6m3 0h1m-538 1h5m2 0h1m12 0h1m4 0h2m12 0h6m8 0h5m5 0h1m4 0h1m3 0h1m7 0h3m3 0h1m2 0h1m2 0h8m2 0h1m6 0h3m5 0h2m2 0h1m5 0h1m2 0h1m2 0h3m4 0h2m4 0h1m2 0h1m9 0h2m8 0h2m2 0h4m3 0h2m2 0h1m2 0h1m4 0h5m2 0h1m3 0h1m4 0h4m3 0h4m5 0h1m4 0h3m7 0h2m2 0h1m3 0h1m4 0h2m3 0h1m19 0h4m7 0h1m2 0h1m7 0h1m7 0h1m5 0h1m7 0h1m30 0h1m12 0h1m30 0h1m39 0h1m3 0h1m2 0h1m7 0h1m3 0h3m4 0h1m4 0h1m2 0h1m12 0h1m14 0h2m3 0h1m4 0h2m2 0h3m7 0h1m5 0h6m3 0h1m2 0h1m-541 1h3m3 0h1m13 0h1m4 0h2m11 0h1m3 0h3m3 0h2m3 0h3m3 0h6m3 0h1m2 0h2m9 0h1m3 0h1m5 0h3m2 0h2m3 0h1m5 0h4m3 0h1m4 0h1m5 0h1m3 0h3m2 0h1m4 0h1m13 0h1m4 0h2m8 0h2m2 0h1m2 0h1m3 0h1m3 0h1m2 0h1m2 0h5m5 0h1m3 0h1m3 0h4m8 0h1m2 0h3m3 0h1m3 0h3m4 0h1m2 0h1m7 0h2m21 0h1m3 0h3m7 0h2m3 0h2m18 0h1m82 0h1m37 0h1m5 0h1m14 0h3m4 0h1m9 0h1m10 0h1m6 0h1m8 0h1m8 0h1m10 0h1m2 0h1m3 0h3m11 0h1m-541 1h1m5 0h1m3 0h2m3 0h1m9 0h1m2 0h1m9 0h2m2 0h2m3 0h4m8 0h3m2 0h1m6 0h2m5 0h1m6 0h2m6 0h3m2 0h1m9 0h1m2 0h5m4 0h1m5 0h2m4 0h2m13 0h1m6 0h3m13 0h1m7 0h1m11 0h4m2 0h5m3 0h1m6 0h1m8 0h1m2 0h3m7 0h3m2 0h1m12 0h1m16 0h1m5 0h1m11 0h4m2 0h3m7 0h1m4 0h1m93 0h1m32 0h1m27 0h1m9 0h1m5 0h2m5 0h1m4 0h1m3 0h1m4 0h1m3 0h1m4 0h1m3 0h1m6 0h2m3 0h4m9 0h1m-532 1h1m3 0h3m2 0h2m11 0h1m10 0h5m2 0h5m12 0h3m6 0h1m4 0h2m6 0h2m4 0h1m2 0h2m5 0h3m7 0h3m6 0h1m6 0h1m5 0h3m2 0h1m8 0h1m4 0h1m3 0h1m6 0h1m2 0h8m4 0h1m2 0h1m13 0h4m12 0h1m12 0h2m12 0h1m11 0h1m17 0h1m2 0h1m4 0h1m4 0h1m4 0h2m4 0h1m9 0h1m4 0h1m55 0h1m37 0h1m76 0h2m5 0h1m2 0h1m5 0h1m8 0h1m8 0h1m6 0h2m2 0h2m2 0h1m8 0h2m-536 1h1m3 0h1m3 0h3m2 0h5m6 0h1m8 0h1m3 0h5m2 0h2m10 0h1m4 0h3m2 0h2m7 0h1m5 0h6m2 0h1m2 0h1m2 0h1m3 0h3m5 0h3m8 0h1m14 0h1m2 0h1m13 0h1m10 0h1m2 0h8m4 0h5m5 0h1m6 0h1m20 0h1m13 0h1m19 0h1m4 0h1m13 0h3m4 0h1m4 0h1m30 0h1m16 0h1m20 0h1m12 0h1m6 0h1m105 0h3m9 0h1m9 0h3m7 0h1m5 0h1m4 0h1m3 0h1m12 0h3m-539 1h3m5 0h2m2 0h1m4 0h3m6 0h1m6 0h3m5 0h1m6 0h1m3 0h3m3 0h2m7 0h4m12 0h3m2 0h1m8 0h1m11 0h1m22 0h4m8 0h1m4 0h1m5 0h1m6 0h1m7 0h4m5 0h1m2 0h1m4 0h2m3 0h1m10 0h2m3 0h1m7 0h1m13 0h1m8 0h1m2 0h1m7 0h6m13 0h1m3 0h1m17 0h1m20 0h1m16 0h2m19 0h1m19 0h1m98 0h1m6 0h1m21 0h3m2 0h1m4 0h1m5 0h3m2 0h1m18 0h1m-539 1h1m7 0h2m2 0h2m4 0h1m4 0h1m3 0h1m3 0h3m2 0h2m3 0h1m4 0h3m2 0h4m4 0h1m7 0h1m2 0h1m7 0h1m5 0h2m5 0h3m4 0h1m9 0h1m23 0h3m4 0h2m3 0h1m3 0h2m3 0h3m6 0h1m8 0h3m4 0h1m2 0h1m2 0h1m2 0h1m4 0h1m10 0h2m3 0h3m10 0h1m17 0h1m2 0h4m4 0h5m3 0h1m14 0h2m7 0h1m8 0h1m38 0h1m31 0h1m106 0h1m11 0h1m4 0h1m2 0h1m10 0h1m2 0h1m12 0h1m-517 1h2m2 0h1m5 0h1m2 0h1m4 0h1m4 0h1m3 0h1m3 0h1m4 0h2m3 0h1m4 0h3m2 0h1m2 0h1m4 0h1m6 0h1m3 0h1m7 0h1m12 0h3m4 0h1m7 0h4m3 0h1m17 0h1m3 0h1m3 0h2m7 0h2m3 0h1m2 0h1m9 0h1m2 0h1m5 0h1m2 0h1m2 0h1m2 0h1m14 0h1m10 0h1m10 0h1m6 0h1m15 0h2m12 0h1m15 0h1m7 0h4m3 0h1m2 0h1m7 0h1m61 0h1m118 0h1m4 0h1m2 0h1m10 0h1m14 0h1m15 0h4m4 0h1m-539 1h1m2 0h1m5 0h1m13 0h1m6 0h1m8 0h2m4 0h3m8 0h3m6 0h1m3 0h1m27 0h1m5 0h3m2 0h1m3 0h1m16 0h2m3 0h3m18 0h1m7 0h3m2 0h2m4 0h1m19 0h1m3 0h2m5 0h1m4 0h2m10 0h1m4 0h3m4 0h1m2 0h1m7 0h1m3 0h1m33 0h2m3 0h1m2 0h1m7 0h1m170 0h1m9 0h1m8 0h1m24 0h2m14 0h4m4 0h1m-535 1h3m9 0h1m6 0h1m6 0h1m7 0h2m2 0h1m2 0h1m2 0h1m5 0h5m5 0h3m25 0h1m2 0h4m4 0h3m11 0h1m3 0h1m7 0h1m4 0h3m4 0h1m2 0h1m4 0h1m3 0h1m4 0h1m4 0h1m5 0h1m6 0h1m17 0h1m4 0h1m5 0h1m2 0h4m4 0h1m3 0h3m6 0h1m3 0h2m2 0h1m7 0h1m3 0h1m13 0h1m56 0h1m130 0h1m6 0h1m11 0h3m9 0h1m6 0h1m3 0h1m21 0h1m15 0h2m-529 1h3m6 0h1m2 0h2m20 0h5m5 0h7m5 0h1m3 0h3m11 0h2m12 0h4m2 0h1m5 0h2m8 0h1m2 0h1m3 0h1m5 0h3m4 0h1m6 0h1m2 0h1m4 0h5m4 0h2m11 0h3m2 0h1m18 0h2m3 0h1m6 0h5m3 0h2m3 0h1m3 0h1m5 0h1m2 0h1m7 0h3m4 0h1m14 0h1m13 0h1m8 0h1m10 0h1m22 0h1m130 0h1m6 0h1m13 0h1m9 0h1m10 0h1m21 0h2m9 0h3m2 0h3m-523 1h3m2 0h2m9 0h1m5 0h1m6 0h1m7 0h6m6 0h1m16 0h3m2 0h1m10 0h2m4 0h1m3 0h2m9 0h1m4 0h1m7 0h1m9 0h1m2 0h1m10 0h1m7 0h1m11 0h3m4 0h1m16 0h6m6 0h1m2 0h2m3 0h1m5 0h4m2 0h1m2 0h1m3 0h2m5 0h3m4 0h1m28 0h1m8 0h1m10 0h1m3 0h1m193 0h1m20 0h1m7 0h7m2 0h1m-530 1h1m6 0h1m6 0h1m6 0h3m5 0h5m15 0h1m8 0h1m4 0h1m9 0h1m2 0h5m7 0h3m4 0h1m3 0h1m15 0h1m7 0h1m3 0h1m5 0h1m2 0h1m6 0h1m15 0h1m2 0h1m8 0h1m2 0h4m5 0h3m8 0h2m7 0h2m9 0h1m2 0h3m3 0h1m3 0h1m2 0h2m5 0h1m53 0h1m5 0h1m10 0h1m168 0h1m6 0h1m6 0h1m15 0h1m11 0h8m-527 1h1m4 0h1m2 0h1m5 0h1m3 0h1m2 0h1m6 0h1m2 0h3m24 0h1m4 0h1m7 0h2m3 0h1m2 0h2m3 0h1m3 0h1m3 0h1m8 0h3m11 0h3m9 0h3m13 0h2m8 0h1m5 0h1m2 0h2m4 0h4m3 0h3m5 0h3m9 0h1m8 0h1m9 0h1m2 0h1m9 0h2m23 0h1m5 0h1m12 0h1m2 0h1m16 0h1m3 0h1m12 0h1m168 0h1m6 0h1m6 0h2m14 0h1m11 0h3m12 0h1m-541 1h1m3 0h1m2 0h1m2 0h2m2 0h1m9 0h2m8 0h1m9 0h1m20 0h5m7 0h2m8 0h1m2 0h1m7 0h2m7 0h3m11 0h3m11 0h1m3 0h1m10 0h1m4 0h1m3 0h1m8 0h2m4 0h3m13 0h1m6 0h1m3 0h1m7 0h1m11 0h3m4 0h1m5 0h1m11 0h1m5 0h1m2 0h1m2 0h1m5 0h1m4 0h1m7 0h1m2 0h1m20 0h1m13 0h1m182 0h1m12 0h1m11 0h1m13 0h1m2 0h1m-541 1h1m3 0h1m2 0h1m2 0h1m2 0h1m11 0h1m8 0h1m5 0h1m3 0h1m12 0h1m7 0h3m2 0h1m10 0h1m5 0h1m8 0h4m5 0h1m5 0h1m12 0h1m6 0h1m7 0h2m13 0h2m2 0h2m6 0h3m8 0h1m19 0h1m3 0h1m5 0h3m7 0h1m3 0h1m6 0h1m10 0h1m6 0h1m5 0h1m2 0h1m2 0h1m10 0h1m45 0h1m189 0h1m5 0h1m4 0h1m6 0h2m3 0h1m8 0h1m-531 1h1m5 0h1m20 0h1m5 0h1m10 0h1m4 0h2m2 0h5m5 0h1m4 0h1m4 0h2m14 0h3m3 0h4m5 0h1m8 0h1m3 0h1m6 0h1m4 0h1m3 0h1m7 0h2m4 0h1m3 0h3m5 0h3m8 0h1m2 0h1m20 0h1m3 0h3m9 0h1m18 0h1m2 0h2m2 0h1m25 0h3m223 0h1m8 0h5m2 0h1m4 0h1m6 0h2m3 0h1m2 0h3m2 0h3m2 0h1m-535 1h1m26 0h1m2 0h2m12 0h1m4 0h2m2 0h5m5 0h1m4 0h1m4 0h1m6 0h2m13 0h2m7 0h1m8 0h1m12 0h6m9 0h4m5 0h1m2 0h1m7 0h1m4 0h1m6 0h1m9 0h1m14 0h1m30 0h1m3 0h1m2 0h1m7 0h1m17 0h3m3 0h1m14 0h1m13 0h1m14 0h1m175 0h1m8 0h5m2 0h1m14 0h1m4 0h3m2 0h3m2 0h1m-541 1h1m9 0h1m12 0h1m4 0h1m4 0h1m2 0h2m18 0h1m12 0h1m16 0h2m17 0h1m4 0h1m21 0h3m2 0h1m2 0h1m6 0h1m2 0h1m5 0h1m7 0h1m5 0h3m2 0h1m3 0h1m9 0h1m26 0h1m4 0h2m27 0h1m2 0h1m15 0h1m4 0h1m14 0h1m13 0h1m14 0h1m184 0h1m3 0h1m3 0h1m7 0h1m5 0h1m2 0h1m8 0h1m-538 1h1m6 0h4m8 0h1m3 0h1m4 0h1m4 0h1m7 0h3m8 0h1m2 0h1m5 0h1m3 0h1m16 0h1m11 0h1m10 0h1m4 0h1m3 0h1m17 0h1m7 0h1m6 0h3m6 0h1m6 0h4m3 0h2m3 0h2m4 0h1m11 0h1m4 0h1m10 0h1m6 0h1m4 0h2m11 0h1m15 0h6m9 0h1m20 0h1m4 0h1m2 0h1m194 0h1m7 0h1m9 0h1m3 0h2m6 0h1m8 0h1m8 0h1m-534 1h6m9 0h1m5 0h1m7 0h1m3 0h1m3 0h3m7 0h2m2 0h1m5 0h1m3 0h1m16 0h1m6 0h3m2 0h1m8 0h3m4 0h1m3 0h1m12 0h3m2 0h1m2 0h1m7 0h1m4 0h2m13 0h1m2 0h1m4 0h1m4 0h1m4 0h1m11 0h1m4 0h3m8 0h1m2 0h1m8 0h2m11 0h1m16 0h1m3 0h1m9 0h3m18 0h1m4 0h1m2 0h1m194 0h1m7 0h2m9 0h1m3 0h1m22 0h1m2 0h1m-535 1h3m3 0h1m4 0h1m2 0h1m6 0h1m11 0h1m13 0h1m5 0h1m15 0h1m6 0h1m4 0h1m3 0h3m11 0h3m2 0h1m8 0h1m9 0h5m3 0h1m3 0h1m3 0h1m15 0h1m10 0h1m8 0h1m16 0h1m3 0h1m8 0h1m2 0h1m4 0h1m5 0h1m6 0h1m20 0h1m13 0h3m10 0h1m4 0h1m214 0h1m9 0h1m15 0h1m10 0h4m-533 1h1m3 0h1m4 0h1m2 0h1m6 0h1m3 0h1m2 0h1m4 0h1m2 0h1m16 0h1m6 0h3m6 0h1m6 0h1m4 0h1m9 0h1m3 0h3m5 0h2m8 0h1m5 0h1m4 0h1m2 0h1m2 0h1m4 0h1m19 0h1m10 0h1m5 0h1m2 0h1m7 0h4m5 0h3m2 0h1m14 0h3m4 0h1m4 0h3m7 0h1m12 0h1m13 0h1m12 0h1m4 0h1m205 0h1m6 0h1m27 0h1m10 0h2m-532 1h1m19 0h1m3 0h1m2 0h1m7 0h1m2 0h3m7 0h1m2 0h1m7 0h3m11 0h1m6 0h3m7 0h1m3 0h3m5 0h1m2 0h1m12 0h1m4 0h1m5 0h1m4 0h1m7 0h1m9 0h1m9 0h1m2 0h1m5 0h1m4 0h1m5 0h4m7 0h1m2 0h1m3 0h2m9 0h5m7 0h1m9 0h2m38 0h1m12 0h2m196 0h1m6 0h1m10 0h1m9 0h1m8 0h1m4 0h2m-528 1h1m15 0h3m4 0h1m10 0h1m3 0h3m7 0h1m2 0h1m2 0h4m10 0h3m2 0h1m6 0h3m22 0h1m11 0h1m4 0h1m11 0h1m7 0h1m9 0h1m9 0h1m13 0h1m5 0h1m2 0h1m6 0h3m5 0h2m13 0h1m7 0h1m10 0h1m51 0h2m209 0h1m4 0h1m9 0h1m5 0h4m4 0h2m4 0h1m-539 1h1m8 0h1m7 0h1m4 0h4m3 0h1m9 0h8m13 0h4m10 0h3m23 0h1m4 0h1m10 0h1m2 0h1m3 0h1m4 0h1m7 0h1m3 0h2m2 0h1m22 0h2m22 0h1m6 0h3m6 0h1m2 0h1m18 0h1m33 0h1m231 0h1m7 0h1m9 0h1m7 0h1m2 0h3m4 0h1m5 0h2m-539 1h1m8 0h1m2 0h1m4 0h1m6 0h2m13 0h1m2 0h2m2 0h1m14 0h1m20 0h1m11 0h1m5 0h1m4 0h3m8 0h1m2 0h1m8 0h1m7 0h1m3 0h2m2 0h1m20 0h3m9 0h1m27 0h1m4 0h1m52 0h1m16 0h1m214 0h1m17 0h1m6 0h2m3 0h1m5 0h1m5 0h2m-527 1h1m29 0h1m4 0h1m13 0h2m19 0h2m8 0h3m7 0h1m3 0h2m5 0h1m26 0h2m2 0h1m3 0h2m15 0h1m11 0h1m27 0h1m39 0h1m9 0h2m23 0h1m219 0h1m11 0h1m7 0h1m4 0h1m2 0h1m-526 1h1m13 0h1m3 0h1m5 0h1m11 0h3m5 0h1m11 0h1m2 0h1m2 0h1m5 0h1m10 0h4m6 0h1m9 0h1m3 0h1m6 0h1m27 0h1m6 0h2m10 0h1m5 0h1m2 0h2m13 0h1m7 0h1m25 0h1m17 0h1m8 0h1m9 0h2m243 0h1m6 0h1m4 0h1m15 0h1m-526 1h1m13 0h2m2 0h1m5 0h1m3 0h3m3 0h5m16 0h2m2 0h1m2 0h7m5 0h1m4 0h1m2 0h1m27 0h1m8 0h1m26 0h1m10 0h1m5 0h1m2 0h2m13 0h1m6 0h2m18 0h1m2 0h1m3 0h1m5 0h1m5 0h1m5 0h1m8 0h1m261 0h1m5 0h1m-505 1h1m8 0h1m2 0h3m6 0h4m3 0h1m20 0h1m6 0h5m4 0h4m7 0h1m3 0h1m15 0h1m4 0h1m11 0h1m10 0h1m15 0h1m34 0h1m6 0h1m18 0h2m2 0h1m9 0h1m5 0h1m26 0h1m255 0h1m14 0h1m5 0h1m-526 1h1m11 0h3m6 0h1m34 0h1m8 0h2m12 0h2m15 0h1m4 0h1m22 0h1m19 0h1m26 0h1m15 0h1m13 0h1m18 0h1m5 0h1m21 0h1m270 0h1m5 0h1m-513 1h1m4 0h1m2 0h1m5 0h1m9 0h1m6 0h1m4 0h1m12 0h1m16 0h1m19 0h1m15 0h1m18 0h1m8 0h2m14 0h1m11 0h1m15 0h1m22 0h1m6 0h1m2 0h1m5 0h1m282 0h1m11 0h1m5 0h1m2 0h1m-533 1h1m2 0h2m5 0h1m3 0h1m2 0h1m2 0h1m2 0h1m5 0h3m7 0h2m5 0h1m4 0h1m12 0h1m15 0h1m20 0h1m5 0h1m9 0h1m2 0h1m15 0h1m4 0h1m3 0h1m4 0h1m7 0h1m2 0h1m46 0h1m3 0h1m6 0h1m288 0h1m2 0h1m11 0h1m3 0h3m2 0h1m-538 1h1m4 0h1m2 0h4m3 0h1m2 0h2m2 0h1m12 0h2m8 0h1m4 0h1m34 0h1m26 0h1m12 0h2m19 0h1m8 0h3m5 0h1m38 0h2m9 0h1m2 0h1m3 0h1m27 0h1m5 0h1m258 0h5m14 0h2m3 0h1m-538 1h1m9 0h2m6 0h1m12 0h1m3 0h1m7 0h2m5 0h1m9 0h1m14 0h1m50 0h1m24 0h1m5 0h1m4 0h3m6 0h1m30 0h2m2 0h1m9 0h1m3 0h1m27 0h1m5 0h1m260 0h3m12 0h1m6 0h1m-528 1h1m20 0h1m10 0h3m15 0h1m7 0h1m6 0h1m57 0h1m13 0h1m3 0h1m10 0h3m6 0h1m8 0h1m25 0h1m40 0h1m2 0h1m279 0h1m-525 1h1m35 0h1m7 0h1m17 0h1m55 0h1m2 0h1m5 0h1m12 0h7m3 0h1m23 0h1m8 0h1m8 0h1m31 0h1m16 0h1m2 0h1m-245 1h1m43 0h1m4 0h1m12 0h1m24 0h3m28 0h1m2 0h1m15 0h10m3 0h2m10 0h1m20 0h1m8 0h1m31 0h1m282 0h1m11 0h1m8 0h1m-530 1h1m7 0h1m41 0h3m20 0h1m14 0h3m15 0h1m4 0h1m26 0h2m2 0h2m8 0h2m9 0h1m11 0h1m3 0h1m35 0h1m281 0h1m10 0h1m11 0h2m3 0h2m2 0h1m-530 1h2m6 0h3m9 0h1m3 0h1m25 0h3m13 0h1m6 0h1m7 0h1m24 0h1m4 0h1m16 0h1m6 0h1m4 0h4m9 0h2m20 0h1m3 0h1m35 0h1m281 0h1m17 0h1m5 0h1m3 0h2m-526 1h1m8 0h1m9 0h1m3 0h1m9 0h1m11 0h1m4 0h1m14 0h1m14 0h2m15 0h1m5 0h1m5 0h1m2 0h1m14 0h1m6 0h1m4 0h1m13 0h1m26 0h1m3 0h1m3 0h1m25 0h1m6 0h1m14 0h1m277 0h1m5 0h1m-511 1h2m21 0h1m4 0h1m6 0h1m4 0h3m28 0h1m9 0h1m5 0h1m5 0h1m5 0h1m2 0h1m58 0h1m8 0h1m3 0h1m3 0h1m4 0h2m9 0h1m9 0h1m6 0h1m14 0h1m283 0h1m-511 1h4m2 0h1m21 0h1m13 0h1m3 0h1m11 0h1m8 0h1m13 0h1m2 0h1m2 0h1m73 0h1m19 0h4m9 0h1m34 0h1m44 0h1m-272 1h1m2 0h1m39 0h1m3 0h1m7 0h1m4 0h1m3 0h1m16 0h1m7 0h1m88 0h3m18 0h1m2 0h1m18 0h1m4 0h1m44 0h1m-265 1h2m34 0h1m3 0h3m10 0h1m28 0h1m10 0h1m11 0h1m41 0h1m25 0h1m18 0h1m2 0h1m18 0h1m279 0h1m-508 1h1m12 0h2m14 0h1m24 0h2m7 0h1m17 0h1m24 0h1m11 0h1m41 0h1m21 0h1m324 0h1m14 0h1m-525 1h3m26 0h3m24 0h1m5 0h1m2 0h1m17 0h1m77 0h1m22 0h1m2 0h1m336 0h1m-525 1h1m28 0h3m22 0h3m5 0h1m2 0h1m21 0h1m73 0h1m8 0h1m16 0h1m340 0h1m-498 1h1m3 0h1m4 0h1m13 0h1m10 0h1m21 0h1m56 0h1m18 0h1m6 0h1m356 0h2m-520 1h1m25 0h1m4 0h1m7 0h1m9 0h1m4 0h1m17 0h3m14 0h1m2 0h1m33 0h1m8 0h1m7 0h1m10 0h1m9 0h1m18 0h1m325 0h1m4 0h1m2 0h2m-531 1h1m11 0h1m25 0h1m12 0h1m9 0h2m2 0h4m11 0h1m3 0h3m14 0h1m2 0h1m33 0h1m16 0h1m4 0h1m15 0h1m18 0h1m325 0h1m4 0h1m2 0h1m-530 1h1m11 0h1m10 0h1m27 0h1m10 0h1m2 0h1m2 0h1m11 0h1m3 0h1m10 0h1m8 0h1m42 0h1m12 0h1m-149 1h1m10 0h1m66 0h1m4 0h1m49 0h3m4 0h1m10 0h1m6 0h1m-157 1h1m75 0h1m51 0h1m2 0h2m5 0h1m10 0h1m6 0h1m35 0h1m-193 1h1m34 0h2m22 0h1m68 0h1m2 0h1m57 0h1m2 0h1m306 0h1m-518 1h1m52 0h2m22 0h1m66 0h2m10 0h1m15 0h1m34 0h1m309 0h1m-518 1h1m7 0h1m21 0h1m79 0h1m19 0h1m13 0h2m10 0h1m15 0h1m-176 1h1m10 0h1m12 0h1m8 0h1m19 0h1m18 0h1m40 0h1m19 0h1m35 0h1m-170 1h1m10 0h1m12 0h1m28 0h1m12 0h1m5 0h1m19 0h1m4 0h1m30 0h1m40 0h1m-154 1h1m16 0h1m4 0h1m17 0h1m7 0h3m20 0h1m4 0h1m4 0h1m30 0h1m28 0h1m-142 1h1m16 0h1m4 0h1m17 0h1m7 0h1m22 0h1m69 0h1m21 0h1m15 0h1m10 0h1m324 0h1m-456 1h1m58 0h1m43 0h1m15 0h1m10 0h1m324 0h1m-456 1h1m58 0h1m-117 1h1m78 0h1m102 0h1m-183 1h1m78 0h1m5 0h1m4 0h1m6 0h1m74 0h1m9 0h1m-171 1h1m10 0h1m61 0h1m4 0h1m6 0h1m74 0h1m-192 1h1m30 0h1m10 0h1m38 0h1m-82 1h1m80 0h1m-49 1h1m71 0h1m8 0h1m-82 1h1m22 0h1m48 0h1m8 0h1m-59 1h1m35 0h1m4 0h1m439 0h1m-446 1h1m4 0h1m12 0h1m426 0h1m-502 1h1m29 0h1m43 0h1m10 0h1m12 0h1m-99 1h1m6 0h1m22 0h1m54 0h1m12 0h1m-92 1h1m-10 1h1m75 0h1m-77 1h1m75 0h1m-73 1h1m-1 1h1m-8 6h1m61 0h1m-63 1h1m61 0h1m-2 9h1m-1 1h1"/>
<path stroke="#ff0000" d="M711 1013h1m-1 1h1m-1 1h1m-1 1h1m-3 1h1m-2 1h2m-4 1h6m-6 1h6m-5 1h2m2 0h1m-12 1h1m10 0h1m-12 1h1m4 0h1m4 0h1m-6 1h7m-13 1h1m4 0h8m-14 1h2m3 0h6m2 0h1m-14 1h3m2 0h9m-17 1h1m4 0h12m-17 1h1m3 0h1m2 0h7m2 0h1m-19 1h2m3 0h14m-19 1h2m3 0h14m-21 1h3m2 0h15m-21 1h2m4 0h2m2 0h1m2 0h3m2 0h3m-21 1h3m3 0h1m2 0h12m-25 1h1m4 0h2m3 0h15m-25 1h2m3 0h1m3 0h16m-24 1h5m2 0h17m-25 1h26m-26 1h3m2 0h21m-26 1h2m3 0h1m3 0h17m-26 1h3m2 0h1m2 0h17m-25 1h5m2 0h18m-30 1h4m2 0h15m3 0h7m-34 1h1m2 0h4m2 0h5m2 0h18m-34 1h1m4 0h1m2 0h6m2 0h17m-34 1h2m2 0h13m2 0h15m-34 1h2m2 0h1m3 0h26m-36 1h1m6 0h1m3 0h25m-36 1h2m2 0h1m2 0h29m-35 1h1m2 0h1m2 0h28m-41 1h1m4 0h16m2 0h7m2 0h9m-41 1h2m3 0h37m-41 1h5m3 0h7m2 0h16m2 0h6m-41 1h40m-43 1h14m2 0h27m-43 1h4m2 0h6m3 0h22m2 0h6m-41 1h41m-49 1h2m3 0h40m-45 1h2m3 0h43m-47 1h4m4 0h1m2 0h9m2 0h16m2 0h7m-48 1h5m3 0h32m2 0h6m-51 1h4m3 0h44m-58 1h1m5 0h29m2 0h17m2 0h2m-58 1h1m5 0h1m3 0h4m3 0h2m2 0h32m3 0h2m-54 1h1m3 0h3m2 0h19m2 0h19m4 0h1m-61 1h1m6 0h1m3 0h25m2 0h22m-60 1h1m5 0h3m4 0h35m4 0h10m-56 1h4m2 0h5m3 0h19m2 0h9m2 0h10m-60 1h1m4 0h3m2 0h19m3 0h5m2 0h5m2 0h2m2 0h6m3 0h1m-61 1h2m3 0h8m2 0h23m2 0h8m3 0h4m2 0h1m-58 1h1m4 0h31m5 0h18m-65 1h2m3 0h1m3 0h1m2 0h47m2 0h1m2 0h2m-70 1h10m3 0h40m3 0h10m3 0h1m-70 1h3m2 0h4m2 0h18m2 0h19m2 0h14m-64 1h54m2 0h1m2 0h5m3 0h1m-67 1h7m4 0h56m-74 1h1m4 0h4m2 0h3m3 0h4m3 0h27m3 0h11m4 0h3m2 0h1m-75 1h1m4 0h9m3 0h30m3 0h15m4 0h1m2 0h3m-75 1h1m2 0h44m3 0h17m2 0h6m-76 1h2m2 0h45m3 0h3m2 0h2m4 0h13m-77 1h5m2 0h5m2 0h42m2 0h4m2 0h1m2 0h8m-80 1h2m3 0h5m2 0h21m2 0h25m3 0h17m-80 1h2m2 0h1m8 0h36m2 0h9m2 0h17m-84 1h1m2 0h2m2 0h5m6 0h36m2 0h6m2 0h12m2 0h6m2 0h1m-87 1h9m2 0h3m2 0h38m4 0h18m2 0h4m4 0h1m-86 1h1m2 0h2m2 0h1m2 0h8m2 0h14m3 0h16m4 0h5m2 0h3m2 0h2m3 0h1m3 0h2m-84 1h3m4 0h64m3 0h1m6 0h3m4 0h1m-94 1h1m4 0h6m2 0h10m2 0h34m2 0h15m2 0h13m2 0h1m-94 1h1m8 0h6m2 0h32m3 0h5m2 0h5m2 0h6m2 0h1m2 0h16m-97 1h1m8 0h1m3 0h7m2 0h20m2 0h11m2 0h2m2 0h4m2 0h1m2 0h7m4 0h3m2 0h1m2 0h3m3 0h2m-97 1h2m7 0h12m3 0h9m2 0h30m2 0h4m3 0h3m3 0h11m4 0h2m-96 1h2m7 0h43m2 0h10m2 0h5m2 0h1m5 0h10m5 0h2m-97 1h3m2 0h1m2 0h3m2 0h40m2 0h4m3 0h6m2 0h2m3 0h2m3 0h1m3 0h6m5 0h1m-103 1h1m6 0h2m2 0h43m2 0h3m2 0h3m2 0h1m4 0h4m3 0h2m2 0h12m3 0h9m-106 1h1m6 0h57m2 0h20m3 0h6m2 0h9m-106 1h62m2 0h6m2 0h7m2 0h5m4 0h14m-107 1h10m3 0h4m2 0h46m2 0h1m4 0h2m3 0h16m2 0h9m2 0h2m-111 1h1m2 0h7m2 0h1m3 0h53m3 0h9m5 0h12m2 0h11m-112 1h2m2 0h2m2 0h8m2 0h2m2 0h9m2 0h28m3 0h18m2 0h1m2 0h9m2 0h1m2 0h2m6 0h4m-120 1h1m6 0h6m4 0h63m3 0h4m4 0h1m5 0h1m2 0h3m2 0h1m2 0h4m5 0h3m-120 1h3m2 0h67m2 0h5m4 0h5m4 0h2m2 0h2m2 0h1m3 0h8m2 0h3m-535 1h1m7 0h1m12 0h1m5 0h1m21 0h1m46 0h1m319 0h1m3 0h7m2 0h61m2 0h3m6 0h1m3 0h1m4 0h6m2 0h1m3 0h8m2 0h4m-536 1h1m2 0h2m3 0h1m2 0h1m8 0h2m5 0h1m10 0h3m8 0h1m4 0h1m5 0h1m4 0h1m3 0h1m9 0h1m16 0h1m309 0h1m7 0h3m2 0h5m5 0h30m2 0h37m2 0h1m3 0h3m2 0h1m2 0h4m3 0h2m3 0h1m2 0h1m4 0h1m2 0h3m-537 1h4m2 0h1m3 0h4m5 0h1m2 0h1m5 0h1m5 0h1m2 0h3m8 0h1m3 0h2m5 0h1m4 0h1m3 0h1m9 0h1m8 0h1m2 0h2m2 0h1m14 0h3m31 0h1m4 0h1m14 0h1m241 0h1m4 0h6m2 0h7m2 0h48m3 0h22m2 0h13m2 0h10m3 0h4m2 0h1m-541 1h1m3 0h7m3 0h6m6 0h1m5 0h2m3 0h11m3 0h14m2 0h3m4 0h1m2 0h1m9 0h1m3 0h5m2 0h1m7 0h1m3 0h1m2 0h3m3 0h2m5 0h7m2 0h1m6 0h2m3 0h1m4 0h1m14 0h1m245 0h4m2 0h4m2 0h4m2 0h37m2 0h11m2 0h12m4 0h5m2 0h16m3 0h7m2 0h4m-539 1h4m2 0h5m2 0h12m2 0h8m2 0h13m2 0h14m2 0h17m2 0h3m2 0h16m3 0h5m2 0h7m2 0h14m2 0h2m4 0h1m5 0h3m13 0h1m242 0h3m4 0h9m2 0h23m2 0h14m2 0h3m3 0h19m2 0h4m3 0h16m3 0h1m3 0h4m-534 1h8m2 0h81m2 0h14m3 0h10m3 0h3m2 0h1m2 0h20m4 0h8m7 0h2m8 0h1m7 0h1m16 0h1m196 0h1m7 0h1m3 0h5m2 0h34m4 0h60m2 0h4m4 0h2m2 0h1m7 0h1m-542 1h121m3 0h2m2 0h6m2 0h7m2 0h3m2 0h5m2 0h20m3 0h1m2 0h2m3 0h4m9 0h1m3 0h1m193 0h1m2 0h1m7 0h1m4 0h4m2 0h5m2 0h35m2 0h9m2 0h5m2 0h12m4 0h10m4 0h12m3 0h2m2 0h6m3 0h1m-542 1h5m2 0h8m2 0h108m2 0h9m2 0h6m2 0h9m2 0h5m2 0h31m5 0h2m3 0h3m2 0h1m12 0h2m174 0h8m4 0h3m3 0h1m2 0h2m2 0h2m2 0h61m2 0h6m4 0h10m2 0h4m2 0h11m2 0h6m-537 1h124m2 0h28m2 0h44m3 0h9m7 0h1m2 0h2m165 0h1m9 0h9m2 0h3m2 0h1m2 0h63m2 0h19m3 0h5m2 0h1m2 0h13m5 0h3m-536 1h214m2 0h1m2 0h3m3 0h1m10 0h1m5 0h1m144 0h3m8 0h3m3 0h4m3 0h1m3 0h88m4 0h3m2 0h3m2 0h2m2 0h7m2 0h1m2 0h1m-535 1h194m2 0h19m2 0h6m3 0h7m4 0h8m3 0h8m132 0h1m10 0h5m3 0h1m4 0h45m2 0h34m2 0h5m2 0h3m2 0h4m2 0h5m4 0h12m-534 1h214m3 0h16m2 0h2m2 0h6m3 0h8m129 0h1m5 0h3m7 0h66m2 0h7m2 0h9m2 0h4m3 0h14m3 0h1m3 0h1m4 0h5m3 0h4m2 0h5m-541 1h117m2 0h119m2 0h5m4 0h4m4 0h2m3 0h3m3 0h1m101 0h1m12 0h3m5 0h3m5 0h1m2 0h51m2 0h12m2 0h2m2 0h4m2 0h11m3 0h2m3 0h5m3 0h4m2 0h3m2 0h1m5 0h1m2 0h8m2 0h5m-540 1h231m2 0h19m4 0h2m2 0h9m16 0h1m23 0h1m29 0h1m8 0h1m4 0h1m15 0h1m4 0h1m3 0h1m2 0h2m3 0h1m3 0h44m2 0h40m2 0h1m2 0h8m3 0h8m5 0h9m4 0h2m2 0h1m4 0h3m4 0h1m2 0h1m-538 1h251m2 0h16m5 0h1m6 0h1m2 0h2m2 0h3m5 0h1m12 0h1m29 0h1m8 0h1m4 0h1m19 0h2m2 0h2m2 0h2m3 0h2m2 0h31m2 0h15m2 0h4m2 0h43m2 0h9m4 0h19m4 0h1m6 0h7m-542 1h268m5 0h4m4 0h2m2 0h2m2 0h5m3 0h1m9 0h1m36 0h1m18 0h5m2 0h1m3 0h8m4 0h7m2 0h44m2 0h71m3 0h16m5 0h2m2 0h2m-542 1h5m2 0h261m2 0h8m3 0h6m2 0h2m2 0h2m2 0h5m5 0h1m10 0h1m2 0h1m7 0h1m7 0h1m4 0h5m9 0h1m6 0h8m2 0h10m2 0h80m3 0h4m3 0h1m2 0h4m2 0h12m2 0h11m2 0h1m3 0h1m3 0h2m2 0h8m6 0h1m-538 1h22m2 0h264m2 0h18m5 0h2m3 0h4m7 0h1m4 0h1m2 0h2m3 0h2m2 0h1m7 0h3m3 0h1m3 0h37m2 0h58m2 0h8m6 0h4m2 0h5m2 0h2m2 0h2m2 0h3m2 0h3m2 0h1m2 0h5m3 0h1m3 0h9m2 0h1m6 0h1m-542 1h297m2 0h9m2 0h1m2 0h3m2 0h3m4 0h3m6 0h1m2 0h6m5 0h1m2 0h1m2 0h11m2 0h1m3 0h93m2 0h3m5 0h14m4 0h4m2 0h3m2 0h13m2 0h3m2 0h12m5 0h2m-542 1h306m2 0h11m2 0h9m5 0h9m3 0h26m3 0h89m3 0h3m3 0h11m2 0h2m3 0h10m2 0h4m2 0h2m2 0h2m2 0h3m3 0h1m2 0h2m2 0h3m6 0h1m-540 1h304m2 0h24m4 0h9m3 0h32m2 0h38m2 0h21m2 0h24m2 0h9m2 0h14m2 0h1m2 0h3m2 0h3m2 0h6m8 0h9m-532 1h3m3 0h324m2 0h10m3 0h122m2 0h12m2 0h31m4 0h1m5 0h8m-532 1h346m2 0h64m2 0h53m2 0h11m3 0h1m3 0h14m2 0h5m2 0h1m2 0h6m7 0h4m2 0h4m-537 1h172m2 0h89m2 0h82m3 0h121m2 0h5m9 0h24m4 0h3m7 0h1m4 0h1m2 0h4m-537 1h15m2 0h8m2 0h27m2 0h19m2 0h22m2 0h49m2 0h49m2 0h159m2 0h114m2 0h5m2 0h6m2 0h3m2 0h11m4 0h3m3 0h13m4 0h1m-539 1h20m3 0h13m2 0h6m3 0h29m3 0h4m2 0h14m2 0h376m3 0h14m10 0h7m4 0h15m2 0h2m2 0h3m-539 1h21m2 0h4m2 0h6m4 0h44m2 0h19m2 0h109m2 0h216m2 0h43m3 0h15m8 0h4m3 0h1m7 0h1m2 0h1m6 0h1m3 0h6m-539 1h27m2 0h8m3 0h18m3 0h44m2 0h81m2 0h25m3 0h160m2 0h7m2 0h39m2 0h3m2 0h15m2 0h23m2 0h5m2 0h2m2 0h10m3 0h4m2 0h7m2 0h1m5 0h3m2 0h1m4 0h8m-540 1h14m2 0h7m2 0h20m2 0h11m2 0h13m3 0h15m2 0h16m3 0h6m3 0h2m2 0h18m3 0h24m2 0h264m2 0h23m2 0h9m5 0h5m3 0h1m2 0h5m3 0h2m3 0h9m3 0h4m3 0h5m2 0h1m4 0h1m3 0h1m2 0h1m-540 1h8m2 0h13m2 0h20m2 0h26m2 0h12m2 0h5m2 0h5m2 0h15m2 0h56m2 0h72m2 0h196m3 0h21m2 0h3m7 0h5m5 0h3m5 0h6m4 0h4m4 0h1m13 0h6m-539 1h6m3 0h28m2 0h6m3 0h35m4 0h41m2 0h6m3 0h15m2 0h43m3 0h21m2 0h8m2 0h5m2 0h164m2 0h28m3 0h8m3 0h14m2 0h11m2 0h2m2 0h6m3 0h3m4 0h14m3 0h1m2 0h1m2 0h1m7 0h1m2 0h7m-541 1h7m3 0h12m2 0h2m2 0h5m2 0h1m4 0h8m2 0h8m2 0h14m2 0h5m2 0h28m2 0h16m2 0h12m2 0h29m2 0h10m4 0h10m2 0h205m2 0h40m2 0h7m2 0h4m2 0h2m2 0h5m2 0h9m3 0h1m2 0h4m4 0h6m2 0h6m2 0h2m5 0h2m2 0h1m2 0h2m7 0h2m-541 1h4m2 0h2m3 0h14m3 0h10m2 0h4m2 0h2m2 0h2m3 0h3m2 0h9m3 0h4m3 0h14m4 0h4m2 0h57m2 0h24m3 0h5m2 0h36m2 0h10m2 0h161m2 0h24m3 0h5m2 0h18m3 0h3m3 0h9m3 0h6m4 0h4m2 0h1m3 0h3m3 0h2m5 0h3m6 0h1m2 0h4m8 0h1m-539 1h7m2 0h15m3 0h10m2 0h30m3 0h4m2 0h4m2 0h8m3 0h7m2 0h30m2 0h12m3 0h28m2 0h4m2 0h56m2 0h161m2 0h18m2 0h23m4 0h10m4 0h9m5 0h4m2 0h1m3 0h5m2 0h9m4 0h4m6 0h6m5 0h2m2 0h1m-538 1h4m3 0h2m2 0h22m2 0h29m3 0h3m3 0h46m2 0h50m4 0h41m3 0h32m2 0h197m2 0h1m3 0h7m5 0h3m2 0h1m4 0h8m2 0h1m4 0h15m4 0h2m6 0h1m2 0h2m2 0h1m5 0h2m2 0h1m-538 1h12m2 0h23m2 0h26m2 0h3m2 0h1m3 0h3m2 0h27m2 0h6m5 0h10m2 0h11m2 0h62m2 0h4m2 0h38m2 0h20m4 0h151m2 0h2m2 0h3m2 0h1m3 0h1m2 0h1m2 0h1m4 0h7m4 0h3m2 0h13m6 0h10m4 0h5m2 0h3m2 0h7m2 0h1m2 0h1m6 0h3m-541 1h9m2 0h30m2 0h24m2 0h1m3 0h7m3 0h1m2 0h7m2 0h13m3 0h7m2 0h4m2 0h6m2 0h24m2 0h3m3 0h3m2 0h38m2 0h2m2 0h5m3 0h213m2 0h3m3 0h1m2 0h26m2 0h3m3 0h10m2 0h4m3 0h2m5 0h5m4 0h4m2 0h2m3 0h1m3 0h1m3 0h6m-542 1h8m3 0h14m2 0h6m2 0h17m2 0h25m2 0h1m2 0h1m2 0h18m2 0h12m2 0h4m2 0h2m3 0h7m3 0h17m2 0h6m3 0h24m2 0h7m3 0h47m2 0h21m2 0h115m2 0h42m2 0h7m3 0h25m3 0h1m2 0h19m2 0h3m3 0h3m7 0h3m7 0h4m5 0h3m-539 1h1m2 0h12m2 0h9m2 0h5m2 0h13m3 0h1m2 0h13m2 0h6m5 0h4m2 0h5m2 0h6m2 0h18m2 0h7m2 0h9m3 0h3m2 0h2m2 0h4m4 0h14m2 0h6m2 0h8m2 0h1m2 0h81m2 0h128m2 0h29m4 0h14m2 0h17m2 0h1m2 0h6m3 0h15m3 0h7m3 0h1m5 0h8m5 0h3m-538 1h5m2 0h22m2 0h19m3 0h15m2 0h6m3 0h36m2 0h1m2 0h18m2 0h3m3 0h2m2 0h5m2 0h3m2 0h18m2 0h8m2 0h13m2 0h1m2 0h23m2 0h1m2 0h7m3 0h31m2 0h152m2 0h20m2 0h2m3 0h12m4 0h1m3 0h1m4 0h1m4 0h1m2 0h2m2 0h5m3 0h1m2 0h3m5 0h1m3 0h5m3 0h1m4 0h1m3 0h1m-540 1h5m2 0h6m2 0h3m3 0h8m2 0h26m2 0h9m2 0h6m2 0h1m2 0h11m3 0h16m2 0h3m5 0h1m3 0h8m2 0h1m2 0h5m3 0h9m2 0h8m3 0h1m2 0h16m3 0h27m2 0h8m2 0h10m2 0h3m2 0h7m3 0h11m2 0h10m3 0h163m2 0h4m2 0h2m2 0h1m2 0h5m2 0h1m2 0h9m2 0h2m3 0h2m4 0h1m2 0h9m3 0h5m4 0h10m3 0h2m2 0h1m2 0h1m2 0h1m-540 1h5m2 0h31m2 0h5m3 0h1m2 0h3m2 0h1m2 0h16m2 0h2m2 0h11m3 0h15m3 0h3m2 0h2m4 0h15m2 0h2m2 0h13m3 0h2m2 0h1m2 0h19m3 0h7m3 0h3m2 0h12m2 0h5m2 0h2m3 0h18m2 0h7m2 0h19m3 0h163m2 0h2m2 0h3m3 0h1m2 0h8m2 0h8m3 0h2m3 0h4m5 0h9m3 0h2m7 0h1m2 0h3m2 0h1m3 0h2m3 0h1m2 0h1m-537 1h4m3 0h15m2 0h15m3 0h2m3 0h6m3 0h4m4 0h7m2 0h23m2 0h12m2 0h4m2 0h2m4 0h15m2 0h36m2 0h8m2 0h6m5 0h17m2 0h1m4 0h4m3 0h18m2 0h13m2 0h2m2 0h19m3 0h153m2 0h9m3 0h15m2 0h1m3 0h3m3 0h1m2 0h1m7 0h7m3 0h5m3 0h1m4 0h1m7 0h1m7 0h1m-538 1h3m2 0h22m3 0h7m2 0h1m3 0h11m2 0h11m2 0h4m2 0h7m2 0h1m2 0h10m2 0h12m2 0h19m2 0h2m2 0h32m5 0h4m3 0h6m2 0h42m3 0h6m2 0h7m2 0h9m2 0h6m2 0h1m3 0h1m3 0h33m2 0h107m2 0h14m2 0h22m2 0h1m2 0h13m2 0h2m4 0h1m2 0h1m4 0h9m2 0h7m3 0h1m4 0h1m5 0h1m2 0h1m7 0h1m2 0h1m-542 1h3m2 0h9m2 0h16m3 0h2m3 0h2m2 0h10m2 0h10m3 0h4m2 0h1m2 0h7m2 0h4m2 0h38m3 0h2m3 0h3m2 0h13m2 0h8m2 0h1m2 0h14m2 0h3m3 0h14m3 0h21m3 0h15m2 0h2m2 0h5m3 0h9m2 0h2m2 0h33m2 0h142m2 0h11m2 0h8m2 0h1m3 0h1m2 0h5m2 0h2m2 0h5m2 0h4m3 0h1m2 0h1m4 0h1m5 0h1m2 0h1m4 0h1m2 0h1m2 0h1m-541 1h17m3 0h11m3 0h3m2 0h14m3 0h2m2 0h5m3 0h3m2 0h1m4 0h4m3 0h2m3 0h1m4 0h3m3 0h11m2 0h15m5 0h1m3 0h2m2 0h14m3 0h10m2 0h3m2 0h9m2 0h2m4 0h1m2 0h2m2 0h27m2 0h1m4 0h12m4 0h11m2 0h33m2 0h124m2 0h2m2 0h27m3 0h6m3 0h7m2 0h2m2 0h5m2 0h6m2 0h2m2 0h4m4 0h1m4 0h4m18 0h2m-536 1h6m2 0h18m2 0h4m3 0h3m2 0h7m2 0h5m2 0h2m2 0h4m6 0h1m2 0h3m3 0h7m4 0h13m2 0h5m4 0h13m2 0h1m6 0h3m3 0h23m2 0h1m4 0h2m2 0h4m3 0h2m2 0h6m3 0h31m2 0h17m2 0h7m3 0h3m3 0h15m3 0h8m3 0h12m2 0h87m2 0h5m2 0h22m2 0h3m3 0h8m3 0h11m3 0h2m4 0h10m2 0h1m4 0h3m2 0h4m2 0h5m2 0h4m2 0h1m2 0h1m4 0h3m8 0h1m4 0h1m4 0h2m2 0h3m-539 1h1m2 0h8m2 0h10m5 0h2m3 0h5m2 0h5m3 0h5m2 0h1m2 0h4m6 0h16m4 0h11m2 0h24m2 0h1m6 0h1m6 0h8m4 0h24m2 0h14m3 0h4m5 0h2m2 0h5m2 0h9m2 0h4m3 0h3m2 0h8m2 0h10m5 0h2m3 0h5m2 0h7m3 0h6m2 0h6m3 0h43m2 0h8m2 0h42m2 0h26m5 0h1m3 0h1m2 0h9m2 0h2m2 0h2m3 0h7m2 0h1m2 0h1m3 0h1m2 0h2m2 0h3m4 0h2m2 0h1m2 0h1m2 0h1m2 0h6m2 0h4m5 0h3m4 0h1m4 0h2m2 0h3m-540 1h8m2 0h6m2 0h7m2 0h5m2 0h13m2 0h7m3 0h5m7 0h3m2 0h6m7 0h11m2 0h1m2 0h14m2 0h5m2 0h2m2 0h1m6 0h11m2 0h3m2 0h1m2 0h1m2 0h27m3 0h1m2 0h13m2 0h1m2 0h1m2 0h3m2 0h5m3 0h9m2 0h5m4 0h2m2 0h9m2 0h36m2 0h19m3 0h5m2 0h87m3 0h8m5 0h10m2 0h4m2 0h1m2 0h1m3 0h8m2 0h1m2 0h5m3 0h12m2 0h1m2 0h1m6 0h11m5 0h6m6 0h2m4 0h1m-540 1h17m2 0h1m3 0h2m2 0h5m2 0h8m3 0h2m3 0h18m2 0h12m3 0h1m2 0h1m2 0h2m2 0h4m2 0h6m3 0h1m3 0h12m2 0h5m2 0h11m2 0h2m2 0h3m3 0h8m3 0h15m2 0h6m2 0h15m5 0h8m3 0h2m3 0h9m3 0h1m2 0h2m3 0h26m2 0h23m2 0h20m2 0h5m2 0h8m3 0h87m3 0h8m3 0h7m7 0h14m3 0h4m2 0h3m2 0h13m5 0h1m5 0h2m3 0h3m4 0h9m2 0h1m2 0h1m-539 1h2m2 0h20m4 0h17m4 0h1m2 0h10m2 0h16m2 0h6m2 0h1m2 0h3m2 0h14m10 0h2m3 0h7m3 0h3m2 0h4m4 0h6m2 0h6m7 0h15m2 0h11m2 0h24m2 0h2m4 0h1m2 0h3m2 0h1m4 0h4m2 0h3m2 0h3m2 0h9m2 0h29m4 0h6m2 0h18m2 0h10m2 0h6m2 0h46m3 0h6m2 0h21m3 0h21m4 0h1m2 0h12m5 0h1m2 0h3m3 0h7m2 0h1m7 0h1m5 0h1m5 0h2m5 0h3m2 0h3m2 0h1m2 0h1m-539 1h2m2 0h1m2 0h17m3 0h20m2 0h4m2 0h2m2 0h8m2 0h7m2 0h2m5 0h19m2 0h7m3 0h3m2 0h13m3 0h11m2 0h6m2 0h7m5 0h12m6 0h3m2 0h13m2 0h22m2 0h2m2 0h3m2 0h2m3 0h4m2 0h8m2 0h24m2 0h11m2 0h7m2 0h2m2 0h100m3 0h4m3 0h9m2 0h21m3 0h9m2 0h1m2 0h2m5 0h1m4 0h8m6 0h4m6 0h1m7 0h2m2 0h1m3 0h1m4 0h1m4 0h1m5 0h1m-541 1h1m2 0h1m5 0h2m3 0h7m5 0h13m2 0h15m4 0h6m5 0h1m2 0h4m3 0h4m3 0h6m2 0h7m2 0h21m2 0h19m3 0h1m2 0h2m2 0h1m2 0h21m2 0h2m2 0h3m2 0h4m2 0h7m3 0h5m2 0h10m3 0h14m2 0h4m3 0h1m2 0h4m2 0h6m2 0h9m3 0h5m3 0h18m3 0h3m2 0h9m6 0h47m2 0h41m3 0h22m3 0h5m6 0h4m2 0h4m2 0h5m5 0h1m4 0h7m4 0h8m4 0h10m2 0h1m3 0h1m7 0h3m3 0h3m-541 1h3m2 0h2m2 0h1m4 0h8m5 0h1m2 0h2m3 0h4m2 0h3m2 0h3m4 0h3m2 0h3m2 0h1m8 0h5m2 0h6m4 0h1m2 0h3m2 0h6m3 0h2m3 0h9m2 0h1m3 0h6m2 0h11m6 0h7m2 0h11m4 0h10m3 0h10m2 0h20m2 0h3m3 0h8m2 0h4m2 0h31m2 0h1m2 0h44m2 0h1m2 0h48m2 0h41m2 0h12m3 0h8m2 0h2m11 0h2m2 0h7m3 0h4m2 0h6m3 0h15m4 0h14m2 0h1m6 0h2m5 0h1m-539 1h12m2 0h1m3 0h4m6 0h1m2 0h1m3 0h5m2 0h1m3 0h1m2 0h1m2 0h7m4 0h1m7 0h2m2 0h1m3 0h2m2 0h2m3 0h1m3 0h15m4 0h2m2 0h13m2 0h2m2 0h4m2 0h13m2 0h3m2 0h1m4 0h2m3 0h17m2 0h5m3 0h2m2 0h19m2 0h2m3 0h10m4 0h1m2 0h20m3 0h21m4 0h27m4 0h4m2 0h8m3 0h80m4 0h4m3 0h10m2 0h7m8 0h3m3 0h1m4 0h2m2 0h5m2 0h8m3 0h4m2 0h3m6 0h3m5 0h10m2 0h1m2 0h5m-534 1h1m2 0h5m2 0h2m4 0h5m3 0h1m3 0h1m2 0h1m3 0h1m2 0h8m2 0h5m3 0h2m2 0h1m5 0h1m2 0h4m7 0h1m3 0h1m3 0h5m2 0h14m3 0h2m4 0h19m7 0h9m2 0h6m4 0h9m2 0h8m2 0h4m2 0h23m3 0h1m2 0h3m3 0h3m2 0h5m6 0h7m3 0h2m2 0h5m6 0h1m3 0h7m2 0h7m2 0h7m2 0h8m3 0h11m3 0h2m3 0h7m3 0h17m2 0h63m2 0h6m2 0h5m2 0h15m4 0h5m2 0h1m4 0h2m2 0h4m6 0h5m3 0h1m2 0h2m2 0h1m7 0h3m5 0h1m2 0h7m2 0h4m2 0h7m-539 1h1m3 0h3m3 0h1m4 0h5m3 0h2m3 0h4m3 0h1m2 0h8m2 0h4m4 0h2m2 0h1m5 0h1m2 0h6m3 0h3m2 0h4m3 0h1m4 0h4m2 0h1m2 0h5m4 0h25m2 0h11m2 0h18m2 0h1m2 0h3m3 0h15m2 0h12m2 0h3m2 0h7m2 0h7m3 0h3m3 0h2m2 0h3m3 0h1m4 0h4m2 0h5m3 0h3m2 0h2m3 0h3m2 0h1m2 0h7m2 0h8m2 0h1m2 0h11m2 0h11m3 0h5m2 0h2m3 0h15m3 0h10m4 0h70m2 0h4m2 0h1m2 0h1m2 0h3m4 0h1m2 0h1m3 0h4m4 0h3m2 0h2m2 0h1m2 0h1m5 0h2m5 0h4m2 0h3m5 0h1m2 0h8m-539 1h1m2 0h4m2 0h3m3 0h1m4 0h6m2 0h7m3 0h4m2 0h2m4 0h2m4 0h2m6 0h3m4 0h4m3 0h3m2 0h4m3 0h2m6 0h1m5 0h1m3 0h15m2 0h3m2 0h5m2 0h1m2 0h29m4 0h3m4 0h2m2 0h20m2 0h5m2 0h18m2 0h7m4 0h8m2 0h13m4 0h4m3 0h1m2 0h4m2 0h1m4 0h1m2 0h1m3 0h7m3 0h5m2 0h21m5 0h2m2 0h2m5 0h14m2 0h13m2 0h15m2 0h19m2 0h24m2 0h5m2 0h1m3 0h3m2 0h1m2 0h19m3 0h1m3 0h6m2 0h6m5 0h4m3 0h4m2 0h4m2 0h4m5 0h1m-542 1h1m3 0h4m2 0h5m3 0h9m2 0h1m3 0h3m2 0h9m3 0h9m3 0h1m2 0h5m2 0h3m3 0h5m2 0h2m2 0h4m3 0h4m2 0h1m6 0h6m2 0h1m3 0h15m3 0h17m3 0h1m2 0h17m2 0h2m3 0h5m2 0h22m2 0h13m4 0h3m3 0h1m4 0h4m3 0h13m2 0h1m4 0h3m2 0h3m2 0h4m2 0h1m4 0h6m2 0h1m2 0h1m6 0h2m2 0h34m5 0h2m2 0h1m2 0h7m2 0h6m2 0h43m2 0h6m2 0h23m2 0h1m3 0h6m2 0h14m3 0h7m2 0h6m3 0h5m5 0h1m3 0h5m4 0h2m7 0h1m2 0h1m2 0h1m-542 1h1m2 0h13m2 0h4m2 0h1m2 0h2m2 0h3m4 0h27m2 0h3m2 0h3m3 0h5m3 0h6m4 0h4m2 0h1m7 0h1m2 0h5m3 0h2m2 0h2m2 0h5m2 0h1m2 0h11m3 0h1m2 0h1m2 0h1m4 0h15m2 0h2m5 0h3m3 0h1m2 0h13m2 0h6m2 0h2m3 0h3m3 0h8m5 0h1m3 0h7m2 0h5m2 0h8m2 0h1m2 0h2m4 0h2m2 0h2m2 0h1m2 0h5m2 0h4m4 0h11m2 0h3m2 0h26m2 0h3m4 0h4m5 0h44m2 0h4m2 0h6m2 0h1m2 0h3m2 0h6m2 0h10m3 0h2m2 0h2m4 0h3m2 0h4m4 0h1m4 0h7m5 0h2m15 0h5m5 0h2m9 0h1m2 0h1m-542 1h1m2 0h18m4 0h4m2 0h2m3 0h8m3 0h6m2 0h10m2 0h2m3 0h1m6 0h5m2 0h3m2 0h1m2 0h2m2 0h2m2 0h2m6 0h9m2 0h1m3 0h2m6 0h6m3 0h3m2 0h1m2 0h1m2 0h1m2 0h1m2 0h9m2 0h4m2 0h3m4 0h3m2 0h7m2 0h2m3 0h2m2 0h4m2 0h1m2 0h3m2 0h1m3 0h4m2 0h31m2 0h11m6 0h5m2 0h2m2 0h1m2 0h5m4 0h2m3 0h11m3 0h3m4 0h32m3 0h3m4 0h10m2 0h32m2 0h4m3 0h5m5 0h14m4 0h5m2 0h3m3 0h1m4 0h11m2 0h3m6 0h4m4 0h2m5 0h1m2 0h1m6 0h2m2 0h1m5 0h4m6 0h1m3 0h1m-538 1h8m3 0h5m2 0h1m2 0h1m3 0h1m2 0h10m5 0h4m4 0h1m5 0h2m5 0h2m2 0h1m5 0h6m2 0h4m4 0h6m2 0h7m3 0h10m2 0h5m2 0h4m2 0h14m2 0h3m4 0h20m3 0h3m2 0h8m2 0h1m4 0h5m4 0h10m2 0h2m2 0h3m2 0h3m3 0h27m2 0h1m3 0h20m4 0h5m3 0h1m3 0h1m2 0h7m2 0h1m2 0h2m2 0h9m2 0h7m2 0h20m2 0h1m2 0h24m2 0h23m3 0h1m2 0h7m2 0h4m2 0h8m3 0h13m2 0h1m2 0h3m2 0h10m7 0h3m2 0h3m6 0h4m17 0h3m6 0h2m2 0h1m-541 1h10m4 0h1m2 0h5m4 0h13m8 0h1m2 0h5m9 0h5m4 0h1m3 0h5m3 0h4m5 0h7m2 0h5m5 0h3m2 0h3m2 0h1m2 0h2m2 0h1m5 0h1m2 0h10m3 0h4m2 0h2m2 0h4m2 0h17m2 0h2m2 0h4m2 0h1m2 0h8m3 0h10m2 0h11m4 0h1m6 0h23m3 0h11m2 0h7m4 0h5m3 0h1m3 0h1m2 0h6m3 0h1m2 0h2m2 0h3m3 0h7m2 0h13m2 0h9m3 0h1m2 0h17m2 0h49m2 0h2m4 0h5m3 0h10m2 0h1m4 0h1m2 0h1m4 0h3m5 0h1m3 0h1m3 0h3m9 0h3m6 0h1m10 0h1m8 0h1m2 0h1m-541 1h2m2 0h3m2 0h3m2 0h6m6 0h5m3 0h6m3 0h1m6 0h9m3 0h16m2 0h1m2 0h3m2 0h3m3 0h4m2 0h1m2 0h2m3 0h3m3 0h8m5 0h6m3 0h1m2 0h10m2 0h5m2 0h1m3 0h4m3 0h4m4 0h8m2 0h14m3 0h6m3 0h1m2 0h1m2 0h7m3 0h5m2 0h6m3 0h10m2 0h15m2 0h10m2 0h2m2 0h2m2 0h4m5 0h2m2 0h9m2 0h2m2 0h1m3 0h1m2 0h3m2 0h3m4 0h13m2 0h6m2 0h1m3 0h5m2 0h3m2 0h2m3 0h54m2 0h11m4 0h4m2 0h4m3 0h1m2 0h11m4 0h2m7 0h4m3 0h2m3 0h4m2 0h1m2 0h1m8 0h1m-527 1h2m2 0h9m3 0h5m2 0h2m2 0h8m4 0h1m2 0h7m2 0h9m2 0h16m2 0h11m3 0h1m2 0h1m2 0h1m3 0h1m3 0h3m3 0h11m2 0h6m4 0h15m4 0h1m4 0h3m2 0h8m3 0h2m2 0h4m2 0h3m2 0h9m2 0h3m2 0h17m2 0h7m2 0h7m3 0h1m2 0h7m2 0h13m3 0h4m3 0h3m2 0h2m2 0h7m6 0h2m2 0h13m2 0h1m6 0h4m3 0h3m2 0h6m4 0h1m6 0h1m2 0h1m2 0h10m2 0h6m2 0h1m2 0h7m2 0h4m3 0h28m2 0h2m2 0h12m2 0h2m5 0h1m3 0h4m3 0h15m3 0h5m5 0h3m3 0h2m6 0h1m2 0h1m11 0h1m-527 1h2m4 0h3m2 0h2m3 0h5m2 0h5m2 0h3m4 0h1m4 0h7m2 0h5m2 0h2m3 0h3m2 0h10m4 0h5m3 0h2m8 0h1m9 0h1m3 0h11m2 0h6m2 0h7m2 0h1m2 0h3m6 0h1m4 0h2m2 0h10m3 0h2m3 0h6m2 0h4m2 0h1m2 0h13m2 0h4m4 0h2m2 0h5m4 0h1m3 0h3m2 0h2m4 0h1m3 0h4m2 0h4m2 0h6m2 0h4m3 0h6m2 0h1m2 0h12m2 0h17m6 0h4m3 0h2m2 0h8m2 0h1m9 0h39m3 0h28m2 0h2m2 0h3m2 0h1m4 0h2m3 0h1m5 0h1m2 0h5m4 0h5m5 0h5m4 0h3m7 0h1m3 0h2m6 0h1m18 0h1m5 0h1m2 0h1m-539 1h2m3 0h2m2 0h1m5 0h5m2 0h11m3 0h1m2 0h4m2 0h10m2 0h2m5 0h1m2 0h10m5 0h4m4 0h9m2 0h4m3 0h5m3 0h6m2 0h6m2 0h8m4 0h1m7 0h4m4 0h5m4 0h5m3 0h2m2 0h13m6 0h3m2 0h7m2 0h6m2 0h1m3 0h5m4 0h1m2 0h8m2 0h2m5 0h3m2 0h12m2 0h1m2 0h1m2 0h7m2 0h1m3 0h1m2 0h29m2 0h6m5 0h11m11 0h4m2 0h1m5 0h6m2 0h3m2 0h22m2 0h29m2 0h1m2 0h5m2 0h6m4 0h4m5 0h5m5 0h1m2 0h2m3 0h4m2 0h1m12 0h1m2 0h1m17 0h3m5 0h4m-539 1h7m2 0h5m3 0h3m2 0h6m2 0h5m4 0h3m3 0h4m5 0h1m3 0h14m2 0h1m6 0h2m2 0h2m4 0h14m2 0h6m3 0h1m2 0h1m4 0h3m2 0h4m2 0h3m6 0h1m4 0h1m2 0h2m6 0h1m2 0h12m6 0h1m2 0h1m2 0h3m2 0h6m2 0h8m5 0h7m2 0h2m3 0h4m4 0h1m2 0h5m2 0h5m4 0h4m3 0h10m2 0h5m2 0h5m2 0h3m3 0h4m3 0h8m4 0h1m2 0h3m2 0h2m2 0h9m5 0h5m2 0h4m3 0h3m3 0h12m2 0h6m2 0h3m4 0h1m2 0h31m2 0h15m2 0h1m2 0h3m2 0h3m2 0h4m2 0h4m3 0h1m2 0h4m2 0h1m3 0h4m4 0h1m2 0h4m5 0h1m6 0h1m2 0h2m16 0h1m3 0h1m5 0h2m-541 1h1m2 0h5m5 0h3m4 0h4m2 0h3m3 0h5m4 0h2m2 0h8m8 0h8m2 0h2m3 0h3m4 0h6m2 0h1m2 0h20m8 0h1m5 0h1m3 0h5m4 0h3m2 0h1m4 0h7m3 0h1m3 0h8m3 0h4m2 0h13m2 0h3m2 0h1m2 0h13m2 0h1m2 0h5m3 0h6m2 0h4m5 0h4m2 0h4m4 0h3m2 0h16m2 0h2m2 0h8m6 0h1m4 0h2m9 0h1m3 0h12m2 0h7m4 0h2m2 0h11m3 0h6m3 0h2m2 0h5m5 0h6m2 0h9m2 0h35m2 0h1m2 0h4m4 0h9m3 0h7m2 0h1m4 0h3m2 0h3m3 0h1m2 0h1m3 0h2m2 0h4m4 0h1m2 0h3m3 0h1m4 0h1m6 0h1m6 0h2m-542 1h6m5 0h5m6 0h7m4 0h4m4 0h2m2 0h8m9 0h1m3 0h3m7 0h3m6 0h2m2 0h16m2 0h8m7 0h1m4 0h1m2 0h1m2 0h4m3 0h8m5 0h1m2 0h2m3 0h1m3 0h4m3 0h8m2 0h12m3 0h1m2 0h1m4 0h9m2 0h2m2 0h1m2 0h14m2 0h3m2 0h1m5 0h8m2 0h6m2 0h1m2 0h4m3 0h5m3 0h5m2 0h4m2 0h1m3 0h1m2 0h1m4 0h2m3 0h1m2 0h1m2 0h7m2 0h1m2 0h6m2 0h2m3 0h12m2 0h2m4 0h1m3 0h1m4 0h1m2 0h2m2 0h3m5 0h52m2 0h1m2 0h4m2 0h7m4 0h9m3 0h3m2 0h1m4 0h5m3 0h2m2 0h3m2 0h4m2 0h1m4 0h3m3 0h1m4 0h3m12 0h1m-542 1h6m2 0h1m2 0h3m4 0h1m3 0h6m12 0h2m5 0h5m2 0h1m7 0h9m2 0h5m4 0h1m6 0h13m5 0h8m12 0h4m2 0h5m2 0h8m4 0h4m3 0h4m2 0h15m7 0h3m2 0h1m4 0h11m3 0h1m4 0h1m2 0h11m3 0h3m5 0h5m3 0h8m3 0h6m2 0h7m2 0h6m5 0h2m2 0h5m2 0h5m2 0h1m2 0h4m3 0h7m3 0h5m5 0h8m3 0h1m2 0h5m2 0h8m10 0h5m3 0h6m3 0h30m2 0h3m5 0h16m2 0h1m2 0h10m2 0h4m2 0h4m2 0h5m3 0h1m2 0h1m2 0h1m2 0h2m3 0h1m5 0h6m4 0h1m5 0h1m6 0h1m5 0h1m3 0h1m-539 1h2m3 0h4m4 0h1m4 0h1m2 0h1m3 0h4m2 0h2m4 0h1m2 0h1m3 0h1m2 0h9m4 0h1m3 0h1m3 0h9m2 0h1m2 0h1m2 0h1m4 0h1m3 0h3m2 0h4m4 0h1m2 0h3m2 0h1m2 0h2m8 0h3m2 0h2m2 0h8m2 0h3m2 0h4m2 0h13m2 0h8m2 0h2m2 0h1m2 0h1m5 0h4m2 0h2m3 0h1m3 0h1m5 0h7m5 0h7m3 0h7m3 0h9m2 0h1m3 0h1m3 0h3m2 0h2m2 0h5m2 0h5m2 0h2m2 0h4m2 0h3m2 0h1m2 0h4m4 0h11m2 0h1m2 0h1m2 0h12m4 0h5m2 0h10m6 0h5m2 0h1m2 0h5m2 0h1m6 0h7m2 0h5m3 0h6m2 0h17m2 0h5m3 0h14m6 0h4m2 0h5m3 0h1m2 0h1m5 0h1m5 0h3m2 0h5m4 0h3m4 0h4m5 0h1m3 0h1m3 0h1m-537 1h9m4 0h1m4 0h2m2 0h5m2 0h7m2 0h1m2 0h2m2 0h1m4 0h4m4 0h1m6 0h2m2 0h2m3 0h1m2 0h1m2 0h4m4 0h2m3 0h2m2 0h6m4 0h1m2 0h4m2 0h3m6 0h14m3 0h1m2 0h3m2 0h1m5 0h2m4 0h2m2 0h3m4 0h6m2 0h2m3 0h3m2 0h5m4 0h3m5 0h2m5 0h9m3 0h11m3 0h2m3 0h7m2 0h1m2 0h7m2 0h6m2 0h24m8 0h4m2 0h13m2 0h1m2 0h8m2 0h5m4 0h5m2 0h2m2 0h8m8 0h11m2 0h3m2 0h4m3 0h2m3 0h22m2 0h4m3 0h9m2 0h1m2 0h1m3 0h7m3 0h3m2 0h1m4 0h5m4 0h1m4 0h1m7 0h3m2 0h2m2 0h2m3 0h4m4 0h3m5 0h1m-530 1h10m4 0h1m3 0h3m2 0h5m2 0h7m4 0h6m2 0h1m2 0h1m6 0h1m6 0h1m2 0h4m2 0h4m3 0h3m4 0h2m3 0h2m2 0h1m4 0h3m2 0h1m4 0h1m2 0h16m2 0h5m7 0h2m3 0h1m2 0h1m2 0h3m4 0h1m2 0h5m2 0h6m7 0h3m2 0h2m7 0h3m5 0h30m3 0h3m2 0h2m2 0h3m5 0h15m2 0h2m2 0h24m3 0h2m2 0h14m2 0h10m2 0h6m4 0h12m4 0h2m2 0h1m10 0h3m2 0h3m3 0h8m3 0h5m4 0h26m2 0h11m3 0h9m5 0h5m2 0h14m2 0h2m7 0h1m5 0h1m3 0h1m2 0h2m2 0h2m2 0h4m2 0h1m9 0h1m-537 1h9m5 0h1m3 0h2m6 0h1m4 0h8m2 0h9m2 0h3m4 0h1m8 0h10m5 0h4m2 0h3m2 0h5m6 0h5m3 0h5m3 0h4m2 0h3m2 0h3m2 0h2m2 0h1m4 0h1m2 0h3m2 0h6m5 0h1m2 0h1m2 0h9m3 0h1m3 0h3m3 0h1m3 0h5m2 0h1m3 0h1m2 0h17m3 0h7m4 0h3m3 0h1m2 0h3m4 0h9m4 0h1m5 0h13m4 0h1m2 0h18m2 0h8m2 0h6m2 0h3m3 0h5m3 0h1m4 0h3m2 0h3m3 0h4m2 0h1m6 0h7m2 0h5m2 0h2m2 0h1m2 0h8m2 0h2m4 0h3m2 0h10m2 0h3m5 0h4m2 0h13m2 0h3m2 0h4m2 0h4m3 0h10m9 0h2m3 0h4m3 0h1m4 0h1m2 0h4m2 0h1m7 0h5m-539 1h2m2 0h1m3 0h3m4 0h5m7 0h2m3 0h7m3 0h4m2 0h8m12 0h2m3 0h1m2 0h2m3 0h1m4 0h1m2 0h9m2 0h3m3 0h4m2 0h6m3 0h1m2 0h1m2 0h2m3 0h3m2 0h2m2 0h1m3 0h1m3 0h3m4 0h6m3 0h1m2 0h1m2 0h9m3 0h1m2 0h1m2 0h2m2 0h2m2 0h5m2 0h1m3 0h5m4 0h1m2 0h6m2 0h12m6 0h6m2 0h1m3 0h1m2 0h7m3 0h1m2 0h1m3 0h3m3 0h6m2 0h10m2 0h17m6 0h2m3 0h1m3 0h3m5 0h10m4 0h11m2 0h4m2 0h8m2 0h6m2 0h2m4 0h8m2 0h2m2 0h1m2 0h6m2 0h6m2 0h12m2 0h13m2 0h4m3 0h2m11 0h9m4 0h1m3 0h2m4 0h3m9 0h1m9 0h2m3 0h6m-537 1h3m2 0h4m4 0h4m7 0h12m3 0h3m2 0h7m2 0h1m5 0h9m6 0h2m3 0h2m2 0h4m2 0h3m3 0h1m2 0h3m3 0h3m3 0h6m3 0h3m4 0h7m2 0h5m2 0h3m2 0h3m2 0h8m6 0h1m2 0h1m2 0h3m4 0h3m2 0h1m3 0h1m2 0h4m3 0h1m3 0h3m2 0h4m3 0h3m9 0h3m2 0h3m3 0h4m3 0h1m2 0h3m2 0h2m2 0h1m2 0h8m2 0h4m3 0h11m2 0h16m3 0h13m3 0h8m2 0h5m2 0h6m2 0h5m2 0h10m3 0h4m2 0h1m3 0h6m2 0h4m3 0h3m2 0h12m2 0h9m2 0h7m3 0h8m3 0h27m3 0h1m3 0h3m3 0h6m3 0h1m4 0h1m6 0h1m3 0h1m5 0h1m9 0h2m2 0h4m-534 1h1m4 0h2m6 0h4m2 0h3m2 0h10m2 0h1m2 0h1m4 0h7m2 0h1m5 0h9m3 0h16m4 0h2m4 0h2m5 0h1m6 0h3m3 0h5m4 0h7m2 0h1m2 0h9m2 0h1m2 0h8m3 0h1m2 0h3m3 0h1m2 0h7m2 0h4m3 0h5m6 0h15m5 0h1m3 0h2m3 0h3m4 0h5m4 0h9m3 0h4m3 0h7m3 0h8m2 0h6m3 0h1m3 0h3m3 0h1m2 0h13m3 0h11m3 0h6m2 0h1m2 0h2m2 0h1m4 0h2m9 0h4m4 0h2m3 0h3m2 0h1m2 0h3m2 0h5m2 0h9m2 0h4m2 0h4m2 0h7m2 0h5m2 0h5m2 0h24m3 0h2m2 0h3m4 0h5m3 0h1m5 0h4m2 0h1m2 0h3m11 0h1m6 0h4m4 0h1m-535 1h3m2 0h7m3 0h9m8 0h3m5 0h2m2 0h1m2 0h3m2 0h1m3 0h2m2 0h1m4 0h4m3 0h3m2 0h7m3 0h2m2 0h6m4 0h3m3 0h7m4 0h10m3 0h1m4 0h3m2 0h2m2 0h1m2 0h7m4 0h1m2 0h7m2 0h6m2 0h5m2 0h6m6 0h1m2 0h1m3 0h9m4 0h2m5 0h1m3 0h1m6 0h3m4 0h2m2 0h5m2 0h15m3 0h8m2 0h3m2 0h1m2 0h7m2 0h10m3 0h1m2 0h1m4 0h4m3 0h5m3 0h8m2 0h2m7 0h1m6 0h1m5 0h2m4 0h3m2 0h3m2 0h6m2 0h7m3 0h1m2 0h2m7 0h6m2 0h12m2 0h10m2 0h10m3 0h3m2 0h1m4 0h3m4 0h9m4 0h1m4 0h7m3 0h5m2 0h1m3 0h1m2 0h1m7 0h3m3 0h2m-540 1h1m4 0h3m2 0h7m4 0h5m2 0h1m2 0h1m5 0h4m2 0h4m2 0h1m2 0h3m2 0h1m2 0h3m2 0h1m4 0h4m4 0h1m3 0h1m2 0h19m2 0h3m3 0h6m5 0h10m10 0h1m6 0h10m2 0h3m2 0h15m2 0h5m2 0h1m4 0h4m8 0h4m2 0h7m3 0h8m2 0h5m2 0h2m2 0h2m7 0h2m3 0h16m4 0h4m3 0h2m3 0h11m2 0h7m2 0h1m3 0h2m4 0h9m3 0h4m4 0h5m3 0h1m6 0h4m2 0h11m5 0h2m3 0h7m2 0h1m3 0h5m3 0h1m3 0h3m5 0h1m3 0h1m3 0h28m3 0h1m10 0h1m6 0h1m3 0h1m2 0h8m2 0h1m3 0h1m3 0h2m4 0h2m3 0h4m2 0h1m3 0h1m2 0h1m3 0h1m3 0h4m2 0h1m-539 1h1m2 0h5m3 0h8m3 0h1m5 0h4m5 0h1m2 0h1m2 0h3m3 0h3m2 0h3m3 0h1m2 0h3m4 0h4m2 0h3m5 0h3m2 0h2m2 0h5m4 0h5m2 0h1m2 0h6m4 0h3m5 0h3m2 0h1m11 0h2m2 0h9m2 0h3m3 0h14m2 0h9m3 0h6m6 0h4m3 0h32m3 0h1m4 0h1m3 0h11m3 0h4m2 0h1m3 0h1m2 0h11m4 0h2m3 0h1m2 0h1m4 0h1m2 0h4m2 0h9m2 0h11m3 0h3m7 0h4m2 0h7m3 0h1m3 0h1m2 0h1m5 0h1m2 0h6m3 0h2m2 0h4m2 0h1m2 0h2m6 0h2m4 0h22m3 0h3m2 0h1m2 0h3m6 0h1m4 0h1m3 0h13m2 0h1m3 0h1m2 0h4m2 0h4m2 0h1m6 0h1m2 0h1m2 0h5m6 0h1m-535 1h3m2 0h3m3 0h4m2 0h4m3 0h1m2 0h3m3 0h1m5 0h1m2 0h1m3 0h1m3 0h1m2 0h7m2 0h3m2 0h1m2 0h2m2 0h2m7 0h5m4 0h5m4 0h3m4 0h2m2 0h2m2 0h1m4 0h3m2 0h1m3 0h2m2 0h1m2 0h6m3 0h3m2 0h1m6 0h1m2 0h3m2 0h9m3 0h14m2 0h2m3 0h10m7 0h35m2 0h3m2 0h1m8 0h1m7 0h8m2 0h4m2 0h15m2 0h6m5 0h8m6 0h1m3 0h5m2 0h6m4 0h1m2 0h1m2 0h1m2 0h1m4 0h2m3 0h1m3 0h4m8 0h17m2 0h1m3 0h4m3 0h2m4 0h31m2 0h3m5 0h1m4 0h2m3 0h1m2 0h5m2 0h5m7 0h4m2 0h1m2 0h1m5 0h5m6 0h4m8 0h1m-537 1h1m5 0h2m4 0h10m2 0h10m2 0h3m2 0h10m2 0h1m2 0h9m2 0h1m2 0h7m2 0h19m2 0h1m6 0h4m8 0h5m2 0h4m3 0h1m3 0h7m2 0h3m2 0h1m6 0h1m2 0h1m2 0h11m7 0h2m2 0h5m2 0h3m6 0h4m2 0h1m3 0h12m2 0h1m6 0h3m9 0h13m2 0h1m4 0h3m5 0h8m2 0h3m2 0h1m2 0h15m3 0h4m6 0h7m3 0h2m2 0h1m4 0h13m2 0h2m2 0h1m2 0h1m7 0h2m3 0h2m2 0h5m3 0h2m2 0h4m2 0h7m7 0h1m4 0h2m3 0h1m4 0h11m3 0h16m8 0h6m3 0h4m2 0h7m4 0h5m6 0h2m4 0h4m4 0h3m2 0h3m2 0h1m2 0h1m9 0h1m-537 1h1m11 0h10m2 0h3m2 0h5m2 0h16m2 0h11m2 0h1m2 0h14m2 0h12m2 0h5m2 0h4m3 0h1m4 0h2m6 0h3m3 0h1m4 0h7m3 0h4m2 0h4m3 0h4m2 0h4m13 0h12m5 0h2m4 0h9m2 0h8m3 0h2m4 0h1m7 0h5m2 0h4m2 0h5m4 0h3m2 0h1m2 0h7m3 0h3m2 0h1m2 0h6m2 0h1m6 0h1m2 0h3m3 0h9m2 0h7m4 0h11m2 0h1m2 0h1m2 0h3m3 0h1m6 0h1m2 0h3m2 0h10m2 0h3m2 0h1m2 0h1m11 0h1m3 0h4m2 0h1m4 0h2m2 0h5m4 0h3m2 0h3m2 0h10m2 0h1m2 0h6m2 0h5m2 0h1m2 0h3m5 0h6m5 0h2m2 0h3m2 0h1m5 0h7m2 0h1m12 0h2m-538 1h1m11 0h4m2 0h2m10 0h2m7 0h5m5 0h3m2 0h16m2 0h3m2 0h2m7 0h5m2 0h3m4 0h5m3 0h1m3 0h5m2 0h2m12 0h2m5 0h12m2 0h4m3 0h3m3 0h1m2 0h1m5 0h4m2 0h3m7 0h1m3 0h1m4 0h10m2 0h1m4 0h13m7 0h2m3 0h12m3 0h1m3 0h3m2 0h1m2 0h5m2 0h2m2 0h16m5 0h1m3 0h5m2 0h8m4 0h8m4 0h5m5 0h2m2 0h1m4 0h3m2 0h7m4 0h1m4 0h7m5 0h9m11 0h1m3 0h4m4 0h23m4 0h15m2 0h3m2 0h5m3 0h1m4 0h1m3 0h7m4 0h2m3 0h1m4 0h1m7 0h2m12 0h1m5 0h2m-538 1h1m4 0h1m3 0h1m4 0h2m2 0h1m5 0h1m5 0h5m3 0h5m2 0h1m3 0h1m5 0h5m2 0h2m2 0h4m4 0h1m2 0h3m7 0h4m7 0h2m3 0h1m4 0h2m2 0h1m2 0h2m3 0h1m11 0h3m6 0h9m2 0h1m10 0h1m6 0h1m3 0h6m2 0h2m4 0h2m4 0h3m4 0h5m6 0h4m3 0h1m2 0h2m2 0h3m5 0h2m2 0h2m3 0h6m2 0h7m4 0h15m4 0h2m2 0h2m3 0h1m2 0h5m4 0h1m3 0h9m3 0h3m4 0h10m12 0h2m2 0h1m4 0h2m3 0h7m9 0h1m7 0h1m5 0h3m2 0h6m7 0h2m5 0h7m4 0h1m2 0h2m2 0h10m3 0h5m3 0h1m2 0h5m2 0h2m3 0h3m3 0h4m3 0h1m3 0h1m2 0h2m2 0h1m3 0h1m4 0h1m5 0h1m2 0h5m13 0h4m-535 1h1m5 0h1m2 0h2m2 0h1m2 0h1m3 0h6m2 0h3m2 0h3m3 0h8m2 0h5m2 0h5m2 0h2m3 0h3m4 0h1m2 0h4m3 0h1m4 0h2m2 0h3m2 0h2m3 0h1m2 0h4m5 0h1m2 0h6m3 0h2m3 0h3m3 0h15m3 0h1m2 0h5m7 0h4m2 0h1m4 0h8m3 0h2m3 0h5m7 0h6m2 0h2m2 0h7m4 0h3m3 0h5m2 0h6m4 0h4m4 0h3m2 0h1m5 0h16m2 0h5m8 0h11m3 0h1m3 0h11m3 0h7m4 0h1m2 0h9m2 0h5m2 0h3m4 0h2m3 0h5m6 0h1m2 0h6m2 0h7m2 0h9m2 0h4m2 0h5m2 0h7m3 0h2m2 0h12m2 0h3m2 0h1m5 0h7m4 0h1m2 0h1m3 0h1m2 0h2m4 0h3m3 0h1m2 0h5m14 0h3m-536 1h4m6 0h2m2 0h1m3 0h9m2 0h3m2 0h4m4 0h1m2 0h1m4 0h8m7 0h1m3 0h1m6 0h1m2 0h5m2 0h1m3 0h1m4 0h8m5 0h7m2 0h1m2 0h1m3 0h2m2 0h3m5 0h2m2 0h13m5 0h9m2 0h1m3 0h4m2 0h3m2 0h5m3 0h1m2 0h1m2 0h7m5 0h11m6 0h10m3 0h15m3 0h1m2 0h1m4 0h4m2 0h1m5 0h8m2 0h3m2 0h4m2 0h1m2 0h3m2 0h4m3 0h5m7 0h1m4 0h3m3 0h11m3 0h1m2 0h13m4 0h5m3 0h10m2 0h1m6 0h1m3 0h10m3 0h4m4 0h1m2 0h4m2 0h3m3 0h5m2 0h5m4 0h6m2 0h3m4 0h4m6 0h1m2 0h3m4 0h1m2 0h4m3 0h1m4 0h4m5 0h1m2 0h1m7 0h1m2 0h7m-534 1h4m2 0h1m3 0h2m2 0h1m3 0h5m2 0h1m3 0h1m2 0h1m2 0h11m5 0h7m6 0h6m5 0h2m2 0h1m3 0h1m5 0h2m4 0h9m5 0h6m11 0h3m6 0h3m3 0h5m2 0h1m2 0h4m4 0h2m4 0h5m9 0h3m3 0h1m6 0h3m3 0h4m8 0h16m3 0h5m2 0h6m3 0h2m4 0h4m3 0h1m6 0h5m2 0h1m2 0h6m5 0h3m4 0h4m2 0h1m2 0h6m2 0h8m2 0h1m6 0h1m3 0h8m2 0h2m2 0h7m3 0h3m5 0h1m2 0h3m2 0h2m2 0h2m5 0h2m7 0h1m3 0h4m3 0h14m2 0h1m7 0h4m2 0h3m3 0h2m3 0h1m3 0h12m2 0h4m3 0h8m5 0h1m7 0h1m2 0h4m4 0h5m6 0h3m2 0h1m7 0h8m4 0h2m-536 1h1m3 0h1m3 0h3m8 0h9m2 0h1m4 0h5m2 0h3m3 0h2m2 0h1m2 0h1m6 0h1m2 0h1m7 0h1m3 0h1m2 0h1m2 0h6m9 0h1m2 0h1m7 0h3m2 0h1m4 0h1m4 0h2m3 0h5m3 0h9m2 0h7m2 0h2m2 0h1m3 0h1m2 0h1m5 0h1m3 0h1m2 0h7m2 0h3m3 0h6m7 0h4m2 0h30m3 0h2m2 0h5m6 0h4m3 0h5m3 0h3m3 0h3m6 0h5m2 0h1m2 0h1m5 0h5m2 0h3m3 0h29m3 0h1m9 0h3m3 0h5m2 0h1m2 0h2m11 0h4m2 0h1m2 0h4m2 0h5m5 0h1m5 0h3m2 0h4m4 0h6m2 0h12m2 0h2m4 0h11m3 0h1m4 0h1m2 0h6m5 0h4m5 0h4m12 0h5m4 0h4m-538 1h1m2 0h1m3 0h6m3 0h3m2 0h9m7 0h10m3 0h1m6 0h1m3 0h1m12 0h1m7 0h1m2 0h8m6 0h5m6 0h4m2 0h1m4 0h1m5 0h2m2 0h5m3 0h1m7 0h10m2 0h2m2 0h1m2 0h1m3 0h1m2 0h17m2 0h1m6 0h5m3 0h3m2 0h1m5 0h5m2 0h6m3 0h17m2 0h4m7 0h1m4 0h7m2 0h6m4 0h2m5 0h4m2 0h6m6 0h2m3 0h3m3 0h2m3 0h1m2 0h3m2 0h17m5 0h2m2 0h1m2 0h6m2 0h1m4 0h2m2 0h3m9 0h4m2 0h7m2 0h5m2 0h1m2 0h1m2 0h2m6 0h3m6 0h5m3 0h2m2 0h2m2 0h7m3 0h4m5 0h8m3 0h2m2 0h2m3 0h1m4 0h2m7 0h1m2 0h5m3 0h1m4 0h3m6 0h2m-536 1h11m4 0h4m2 0h5m3 0h1m6 0h1m2 0h8m9 0h2m3 0h1m3 0h4m5 0h1m4 0h1m10 0h5m3 0h8m4 0h1m2 0h1m2 0h1m5 0h1m2 0h1m2 0h1m3 0h1m2 0h1m9 0h4m2 0h6m2 0h2m2 0h4m6 0h2m3 0h12m2 0h2m3 0h3m6 0h13m2 0h2m2 0h3m5 0h13m2 0h9m2 0h6m4 0h2m4 0h1m2 0h7m4 0h1m5 0h1m2 0h1m2 0h11m3 0h1m3 0h1m3 0h4m2 0h7m4 0h3m3 0h8m3 0h17m6 0h1m2 0h3m7 0h6m2 0h4m2 0h1m2 0h2m4 0h2m4 0h3m7 0h4m2 0h7m2 0h7m2 0h5m2 0h1m2 0h5m2 0h2m2 0h6m2 0h3m2 0h3m2 0h1m4 0h4m7 0h6m3 0h1m3 0h3m7 0h1m3 0h1m-539 1h6m2 0h3m4 0h2m3 0h4m5 0h1m2 0h1m3 0h1m3 0h1m4 0h1m8 0h3m4 0h10m2 0h3m3 0h1m2 0h3m6 0h1m2 0h1m3 0h11m4 0h3m2 0h1m3 0h4m2 0h2m4 0h2m4 0h8m3 0h7m4 0h4m2 0h2m4 0h1m3 0h2m2 0h2m2 0h8m3 0h1m3 0h1m4 0h2m3 0h16m6 0h3m2 0h9m3 0h16m4 0h2m3 0h1m5 0h1m2 0h1m4 0h1m2 0h4m5 0h1m2 0h2m2 0h12m3 0h1m2 0h2m2 0h3m2 0h1m2 0h1m2 0h5m3 0h1m4 0h4m2 0h16m4 0h1m2 0h4m6 0h9m2 0h1m2 0h1m2 0h3m2 0h8m3 0h4m5 0h10m2 0h13m2 0h9m2 0h2m4 0h7m2 0h5m2 0h1m7 0h2m5 0h7m7 0h2m4 0h1m3 0h1m3 0h1m-539 1h4m6 0h1m2 0h2m3 0h7m2 0h3m2 0h1m2 0h1m4 0h1m10 0h1m2 0h2m5 0h7m2 0h1m2 0h3m5 0h4m4 0h3m2 0h2m4 0h4m2 0h3m2 0h10m2 0h1m4 0h2m4 0h2m4 0h8m2 0h21m2 0h1m4 0h2m3 0h1m2 0h12m2 0h2m4 0h1m5 0h1m2 0h1m2 0h9m3 0h1m4 0h7m2 0h3m3 0h11m2 0h13m3 0h2m3 0h6m2 0h6m3 0h1m3 0h3m3 0h3m2 0h2m3 0h3m3 0h1m2 0h3m3 0h3m2 0h5m3 0h1m2 0h5m2 0h2m3 0h7m2 0h5m2 0h4m2 0h5m2 0h3m3 0h1m4 0h1m5 0h3m2 0h17m4 0h5m3 0h4m2 0h7m2 0h1m2 0h5m2 0h2m2 0h1m4 0h1m4 0h6m5 0h2m3 0h1m3 0h2m5 0h3m3 0h1m3 0h1m3 0h1m4 0h2m7 0h2m-540 1h5m8 0h2m2 0h2m5 0h1m2 0h3m5 0h4m5 0h1m6 0h2m7 0h9m4 0h1m5 0h3m7 0h1m2 0h4m4 0h1m5 0h2m2 0h11m4 0h2m8 0h1m2 0h1m2 0h2m7 0h4m5 0h4m3 0h5m2 0h1m5 0h2m5 0h1m3 0h1m3 0h4m2 0h1m3 0h5m3 0h1m2 0h10m5 0h1m4 0h5m6 0h4m2 0h9m3 0h12m2 0h3m3 0h6m2 0h1m4 0h1m3 0h1m3 0h4m5 0h2m2 0h1m2 0h5m4 0h2m4 0h2m4 0h3m2 0h3m2 0h2m3 0h5m4 0h5m2 0h6m2 0h3m2 0h11m2 0h10m3 0h1m4 0h1m2 0h6m3 0h3m5 0h4m4 0h10m2 0h3m2 0h1m7 0h1m3 0h1m3 0h3m2 0h5m3 0h1m2 0h1m4 0h1m10 0h3m2 0h1m3 0h2m3 0h1m3 0h2m5 0h1m2 0h3m-541 1h7m4 0h1m4 0h3m5 0h8m5 0h5m2 0h1m4 0h1m2 0h1m3 0h2m2 0h26m2 0h9m3 0h1m5 0h2m2 0h1m3 0h7m2 0h7m5 0h1m2 0h1m2 0h2m4 0h2m2 0h3m3 0h1m3 0h2m2 0h1m7 0h1m5 0h4m3 0h6m4 0h1m7 0h1m3 0h3m4 0h3m3 0h1m2 0h1m3 0h3m4 0h4m2 0h13m2 0h15m7 0h2m3 0h4m2 0h4m8 0h1m2 0h1m3 0h8m2 0h3m2 0h4m3 0h4m3 0h4m2 0h1m2 0h4m2 0h2m3 0h2m2 0h1m3 0h6m4 0h1m2 0h8m3 0h8m3 0h4m2 0h7m7 0h4m7 0h1m3 0h3m2 0h1m3 0h14m2 0h5m2 0h1m4 0h3m5 0h1m3 0h2m5 0h1m14 0h10m3 0h1m4 0h1m3 0h1m3 0h1m2 0h2m3 0h1m-541 1h1m2 0h1m2 0h1m4 0h1m4 0h3m6 0h7m4 0h1m2 0h7m3 0h1m4 0h4m3 0h2m3 0h14m3 0h3m2 0h3m2 0h4m2 0h1m6 0h1m3 0h1m3 0h3m2 0h2m2 0h3m2 0h2m2 0h1m2 0h1m5 0h2m4 0h2m2 0h1m3 0h3m2 0h2m3 0h2m4 0h2m4 0h3m2 0h2m2 0h6m5 0h1m3 0h1m3 0h1m2 0h3m3 0h3m3 0h1m3 0h1m2 0h4m3 0h1m3 0h1m2 0h5m4 0h2m4 0h1m3 0h11m2 0h2m3 0h8m5 0h2m8 0h4m3 0h6m2 0h1m3 0h1m2 0h4m4 0h3m4 0h3m3 0h3m2 0h1m3 0h9m3 0h8m4 0h6m2 0h7m6 0h1m2 0h2m3 0h9m7 0h2m4 0h2m2 0h1m2 0h3m2 0h5m2 0h1m2 0h1m5 0h2m2 0h8m4 0h2m4 0h4m2 0h2m5 0h1m10 0h1m3 0h3m5 0h1m4 0h2m2 0h1m8 0h1m3 0h1m-537 1h1m5 0h1m7 0h1m4 0h2m6 0h1m3 0h1m4 0h1m3 0h6m7 0h2m2 0h2m2 0h2m4 0h1m6 0h1m4 0h5m5 0h2m2 0h8m5 0h7m6 0h1m4 0h1m7 0h1m2 0h1m4 0h3m8 0h5m4 0h1m5 0h3m2 0h2m4 0h7m2 0h5m6 0h1m3 0h1m3 0h1m4 0h2m2 0h1m5 0h2m2 0h1m2 0h3m4 0h5m2 0h6m2 0h2m3 0h2m3 0h3m2 0h2m2 0h3m2 0h2m3 0h4m2 0h4m3 0h3m4 0h7m2 0h3m2 0h5m3 0h4m4 0h1m2 0h4m3 0h1m3 0h3m3 0h10m2 0h4m4 0h6m3 0h1m3 0h11m6 0h1m2 0h6m3 0h1m2 0h2m2 0h3m3 0h1m2 0h4m2 0h2m6 0h3m4 0h1m2 0h3m2 0h3m3 0h2m3 0h9m3 0h4m3 0h2m3 0h1m3 0h1m4 0h1m2 0h1m2 0h3m11 0h2m2 0h1m12 0h1m2 0h1m-533 1h3m4 0h1m4 0h2m10 0h1m4 0h2m3 0h4m8 0h2m2 0h2m2 0h1m2 0h4m5 0h11m5 0h2m2 0h1m3 0h1m2 0h2m5 0h7m5 0h3m2 0h1m6 0h1m2 0h2m3 0h6m2 0h1m3 0h4m2 0h1m3 0h2m3 0h6m5 0h4m2 0h1m2 0h7m2 0h3m2 0h1m2 0h2m5 0h3m6 0h3m5 0h4m5 0h2m2 0h4m2 0h5m3 0h6m3 0h2m2 0h8m5 0h1m2 0h5m2 0h5m3 0h7m2 0h18m3 0h3m2 0h3m3 0h1m2 0h11m2 0h5m2 0h2m4 0h1m3 0h4m3 0h1m3 0h7m6 0h3m3 0h13m2 0h6m3 0h3m4 0h1m2 0h1m3 0h1m6 0h3m2 0h1m2 0h3m3 0h2m2 0h18m3 0h1m2 0h2m3 0h3m2 0h1m2 0h7m10 0h1m5 0h1m10 0h4m-533 1h3m2 0h1m3 0h1m6 0h1m13 0h4m3 0h1m4 0h6m3 0h1m2 0h7m3 0h3m2 0h2m2 0h7m6 0h6m2 0h1m4 0h3m2 0h3m2 0h1m4 0h1m2 0h1m3 0h1m2 0h5m3 0h6m2 0h5m5 0h1m3 0h2m2 0h2m2 0h3m4 0h1m2 0h1m2 0h1m3 0h4m2 0h4m4 0h1m2 0h2m2 0h9m2 0h2m10 0h1m9 0h4m2 0h4m3 0h12m2 0h11m5 0h1m3 0h8m4 0h2m2 0h2m3 0h6m2 0h3m2 0h4m2 0h6m2 0h1m2 0h6m2 0h7m2 0h2m2 0h6m3 0h1m2 0h9m3 0h6m5 0h4m4 0h1m4 0h2m2 0h6m2 0h4m2 0h4m7 0h1m3 0h1m6 0h3m2 0h1m3 0h1m7 0h22m2 0h2m2 0h1m2 0h2m2 0h10m6 0h1m3 0h1m4 0h2m11 0h2m-527 1h1m3 0h1m2 0h1m3 0h3m4 0h2m6 0h7m4 0h6m4 0h9m3 0h1m6 0h1m3 0h8m2 0h7m7 0h3m2 0h1m4 0h1m3 0h2m6 0h2m2 0h10m2 0h1m4 0h2m6 0h1m3 0h1m3 0h2m2 0h1m6 0h2m3 0h2m4 0h3m2 0h8m3 0h1m3 0h3m2 0h4m2 0h1m2 0h5m4 0h1m7 0h1m2 0h4m4 0h1m2 0h6m2 0h5m2 0h1m2 0h12m5 0h2m2 0h3m3 0h4m3 0h1m2 0h2m3 0h5m6 0h2m2 0h6m2 0h1m2 0h1m2 0h4m4 0h4m4 0h1m2 0h5m6 0h3m2 0h3m4 0h5m2 0h2m2 0h1m2 0h1m9 0h2m2 0h12m2 0h1m2 0h1m3 0h1m6 0h3m4 0h1m8 0h7m2 0h4m3 0h15m2 0h2m2 0h1m6 0h11m2 0h1m2 0h1m3 0h1m4 0h1m12 0h2m-538 1h1m15 0h3m2 0h1m2 0h1m4 0h4m3 0h6m6 0h4m6 0h4m2 0h1m10 0h3m6 0h1m2 0h13m4 0h7m8 0h2m3 0h2m2 0h1m6 0h6m2 0h1m2 0h1m5 0h1m3 0h6m5 0h3m6 0h6m6 0h1m2 0h2m2 0h4m4 0h3m3 0h3m3 0h1m4 0h10m7 0h1m2 0h8m3 0h4m2 0h1m2 0h13m4 0h4m7 0h5m3 0h11m3 0h2m2 0h4m4 0h1m5 0h2m2 0h6m2 0h11m5 0h5m2 0h3m4 0h15m3 0h6m6 0h2m2 0h14m2 0h2m2 0h1m5 0h2m4 0h6m2 0h4m5 0h2m2 0h4m2 0h1m2 0h1m3 0h3m4 0h6m3 0h4m8 0h2m3 0h1m4 0h1m2 0h2m4 0h4m2 0h2m4 0h1m6 0h1m-539 1h3m14 0h3m3 0h3m3 0h7m2 0h2m4 0h2m5 0h3m6 0h3m2 0h2m3 0h1m3 0h1m2 0h10m3 0h4m2 0h2m2 0h2m4 0h6m9 0h2m2 0h3m5 0h5m7 0h7m2 0h1m4 0h2m2 0h1m5 0h6m2 0h9m3 0h3m2 0h1m2 0h1m2 0h1m4 0h3m3 0h1m2 0h1m2 0h1m3 0h1m2 0h2m2 0h5m2 0h1m3 0h1m3 0h1m2 0h4m4 0h1m4 0h1m2 0h8m2 0h5m2 0h1m2 0h2m4 0h7m3 0h2m3 0h12m2 0h3m2 0h3m4 0h11m2 0h1m2 0h4m2 0h3m5 0h4m2 0h4m3 0h23m2 0h1m4 0h6m2 0h5m2 0h7m3 0h2m3 0h2m2 0h14m5 0h1m3 0h7m8 0h1m2 0h3m8 0h7m5 0h2m2 0h1m9 0h2m3 0h1m2 0h1m2 0h2m4 0h1m6 0h1m-539 1h3m3 0h1m5 0h3m2 0h3m3 0h3m3 0h2m2 0h3m4 0h1m3 0h2m2 0h1m2 0h7m2 0h2m3 0h10m4 0h8m2 0h4m4 0h12m2 0h4m7 0h1m2 0h1m7 0h5m3 0h1m2 0h3m2 0h8m2 0h1m7 0h1m2 0h8m3 0h1m2 0h3m2 0h6m3 0h1m5 0h5m5 0h2m4 0h2m2 0h5m2 0h2m2 0h1m5 0h6m3 0h2m2 0h2m2 0h1m2 0h6m7 0h3m2 0h2m2 0h1m2 0h3m2 0h4m4 0h5m3 0h8m4 0h1m2 0h4m2 0h10m3 0h1m3 0h1m2 0h3m2 0h2m3 0h4m4 0h7m3 0h1m2 0h1m5 0h4m3 0h6m3 0h1m3 0h3m3 0h1m2 0h1m2 0h7m3 0h7m2 0h1m5 0h3m4 0h1m5 0h1m2 0h7m3 0h3m4 0h4m2 0h1m7 0h1m3 0h2m4 0h1m4 0h2m9 0h1m13 0h1m8 0h1m-535 1h3m3 0h5m3 0h1m4 0h3m4 0h6m4 0h3m2 0h4m6 0h4m2 0h1m3 0h1m2 0h1m2 0h4m2 0h5m4 0h1m2 0h1m2 0h1m4 0h12m3 0h3m3 0h5m6 0h1m3 0h6m2 0h1m2 0h6m3 0h4m2 0h3m5 0h1m4 0h2m2 0h1m3 0h3m2 0h2m2 0h6m3 0h1m5 0h2m2 0h1m2 0h6m3 0h1m6 0h2m2 0h2m2 0h1m2 0h9m3 0h3m2 0h7m3 0h7m2 0h1m2 0h12m2 0h4m6 0h3m3 0h3m4 0h4m4 0h17m2 0h4m4 0h2m3 0h1m2 0h2m5 0h3m3 0h3m2 0h2m4 0h1m4 0h3m3 0h6m3 0h7m3 0h1m2 0h6m2 0h2m4 0h5m4 0h4m2 0h1m2 0h3m4 0h6m3 0h11m2 0h7m7 0h2m2 0h3m3 0h1m4 0h2m2 0h1m2 0h1m2 0h1m5 0h1m4 0h6m4 0h1m-535 1h1m2 0h3m3 0h3m5 0h1m4 0h3m2 0h5m2 0h1m4 0h4m3 0h2m6 0h7m8 0h1m3 0h1m2 0h5m5 0h1m4 0h1m4 0h2m6 0h3m5 0h1m3 0h7m3 0h3m3 0h7m4 0h1m2 0h3m2 0h4m4 0h8m8 0h1m3 0h3m2 0h1m2 0h3m2 0h2m2 0h1m2 0h1m2 0h3m2 0h9m3 0h1m2 0h1m2 0h2m3 0h5m2 0h10m3 0h2m2 0h7m3 0h7m2 0h1m2 0h17m9 0h1m4 0h4m2 0h4m4 0h1m2 0h14m3 0h4m3 0h1m7 0h3m4 0h15m2 0h1m3 0h4m3 0h2m2 0h2m3 0h6m4 0h2m3 0h3m3 0h2m4 0h1m2 0h1m5 0h4m2 0h6m3 0h7m3 0h5m5 0h2m2 0h4m3 0h1m5 0h7m8 0h1m3 0h4m2 0h1m5 0h1m3 0h7m4 0h1m-535 1h6m5 0h5m6 0h10m8 0h4m3 0h1m6 0h2m2 0h6m4 0h4m4 0h2m8 0h1m2 0h3m3 0h3m2 0h1m3 0h3m5 0h2m2 0h1m3 0h16m2 0h1m2 0h1m4 0h14m2 0h5m2 0h2m4 0h3m2 0h1m3 0h1m2 0h3m4 0h6m2 0h2m4 0h1m2 0h1m3 0h8m2 0h3m2 0h5m4 0h5m2 0h1m2 0h1m2 0h1m5 0h2m2 0h3m2 0h3m3 0h2m2 0h10m2 0h1m5 0h1m7 0h2m2 0h6m10 0h1m2 0h2m2 0h1m3 0h8m2 0h1m4 0h1m6 0h3m4 0h1m2 0h14m3 0h4m4 0h1m3 0h1m4 0h1m4 0h1m4 0h2m2 0h1m2 0h2m8 0h1m2 0h2m5 0h1m2 0h1m2 0h1m3 0h1m2 0h2m2 0h3m4 0h1m7 0h8m3 0h3m2 0h13m5 0h3m3 0h1m13 0h1m4 0h1m5 0h1m4 0h1m-540 1h6m6 0h7m4 0h1m2 0h1m5 0h1m4 0h1m2 0h1m2 0h1m3 0h3m4 0h2m2 0h6m2 0h6m5 0h2m4 0h1m5 0h3m2 0h3m2 0h10m3 0h4m4 0h1m3 0h1m3 0h5m3 0h1m4 0h3m3 0h3m2 0h7m5 0h3m2 0h2m6 0h1m2 0h1m5 0h4m4 0h1m3 0h2m3 0h1m2 0h1m4 0h2m4 0h1m3 0h1m5 0h1m3 0h1m8 0h1m2 0h1m5 0h1m2 0h1m2 0h2m3 0h5m2 0h5m2 0h6m3 0h1m2 0h1m2 0h1m2 0h4m4 0h9m2 0h3m2 0h1m2 0h9m2 0h1m4 0h1m2 0h4m7 0h4m5 0h11m2 0h2m4 0h4m2 0h3m4 0h1m5 0h1m3 0h1m2 0h4m4 0h1m2 0h1m2 0h2m6 0h1m5 0h1m5 0h4m2 0h2m2 0h4m5 0h1m2 0h1m5 0h1m3 0h8m3 0h1m4 0h6m2 0h6m6 0h1m13 0h1m2 0h2m3 0h1m4 0h1m6 0h1m-541 1h3m2 0h3m7 0h6m2 0h2m8 0h1m4 0h1m2 0h3m3 0h4m4 0h2m4 0h1m5 0h4m2 0h1m3 0h3m4 0h2m5 0h5m2 0h3m2 0h3m3 0h2m2 0h4m2 0h1m3 0h4m2 0h1m3 0h5m5 0h2m6 0h6m2 0h1m6 0h1m2 0h4m8 0h3m3 0h2m3 0h2m6 0h3m4 0h1m3 0h13m2 0h1m5 0h1m5 0h4m2 0h5m4 0h16m2 0h2m3 0h5m2 0h1m5 0h1m3 0h2m3 0h1m2 0h9m2 0h6m2 0h3m2 0h1m2 0h1m6 0h2m2 0h1m2 0h5m4 0h3m7 0h6m2 0h5m3 0h5m2 0h4m2 0h4m3 0h4m2 0h5m12 0h1m2 0h1m2 0h3m9 0h14m5 0h1m2 0h1m4 0h2m18 0h3m2 0h2m2 0h7m19 0h1m2 0h2m3 0h1m4 0h1m-534 1h3m2 0h4m6 0h9m3 0h3m12 0h2m3 0h3m5 0h4m2 0h1m5 0h15m2 0h4m2 0h4m3 0h3m3 0h5m2 0h1m3 0h3m2 0h1m3 0h14m3 0h4m3 0h5m2 0h4m2 0h1m8 0h5m4 0h1m2 0h3m3 0h2m3 0h2m7 0h2m4 0h5m2 0h10m2 0h5m7 0h2m6 0h3m3 0h3m2 0h3m2 0h7m6 0h3m3 0h3m5 0h2m3 0h2m2 0h10m3 0h6m3 0h3m2 0h1m2 0h1m6 0h2m2 0h1m3 0h9m2 0h1m7 0h1m2 0h9m2 0h3m2 0h4m2 0h1m2 0h4m2 0h5m2 0h1m5 0h2m9 0h1m2 0h1m4 0h1m5 0h6m3 0h1m3 0h1m3 0h1m5 0h3m5 0h1m11 0h1m7 0h6m3 0h2m2 0h3m3 0h1m6 0h1m4 0h3m8 0h1m6 0h1m-529 1h5m2 0h1m3 0h1m3 0h2m3 0h4m4 0h1m6 0h4m2 0h5m2 0h1m3 0h4m5 0h1m2 0h2m3 0h2m2 0h3m2 0h8m5 0h3m3 0h5m4 0h1m3 0h2m5 0h11m2 0h2m2 0h3m4 0h5m2 0h1m2 0h1m2 0h4m9 0h6m2 0h2m4 0h4m2 0h1m7 0h1m5 0h4m2 0h2m4 0h1m5 0h6m2 0h1m3 0h3m8 0h8m2 0h1m2 0h1m2 0h2m5 0h1m3 0h9m6 0h1m2 0h4m2 0h4m3 0h6m2 0h5m2 0h5m2 0h1m2 0h3m4 0h1m5 0h8m2 0h3m4 0h2m2 0h6m5 0h3m2 0h4m5 0h3m2 0h3m4 0h2m5 0h3m2 0h3m2 0h6m2 0h5m2 0h6m4 0h2m8 0h6m5 0h1m2 0h3m2 0h5m2 0h3m2 0h5m2 0h4m2 0h3m3 0h1m6 0h1m4 0h3m2 0h1m5 0h1m2 0h2m2 0h1m4 0h1m-534 1h5m2 0h1m3 0h1m3 0h1m4 0h1m7 0h2m5 0h14m3 0h3m5 0h1m6 0h3m5 0h1m3 0h6m7 0h9m5 0h1m3 0h2m5 0h11m3 0h1m2 0h2m3 0h1m4 0h1m2 0h1m6 0h5m6 0h7m4 0h1m2 0h6m2 0h1m2 0h1m8 0h6m2 0h2m8 0h3m5 0h3m3 0h3m8 0h8m2 0h4m2 0h9m2 0h2m2 0h2m2 0h1m9 0h1m2 0h5m3 0h7m7 0h6m2 0h1m2 0h7m2 0h2m4 0h1m5 0h3m3 0h1m4 0h1m4 0h1m3 0h1m2 0h1m5 0h1m3 0h3m5 0h7m4 0h4m2 0h1m2 0h1m2 0h11m2 0h5m3 0h3m4 0h4m8 0h6m5 0h1m2 0h3m2 0h3m2 0h5m3 0h3m2 0h3m2 0h3m3 0h1m16 0h3m8 0h2m6 0h2m-538 1h1m4 0h3m2 0h2m5 0h7m2 0h1m6 0h3m3 0h9m2 0h3m3 0h3m3 0h5m4 0h1m3 0h1m7 0h2m2 0h2m4 0h1m2 0h7m2 0h5m2 0h1m6 0h4m5 0h4m2 0h1m4 0h8m3 0h2m4 0h8m5 0h2m4 0h5m3 0h6m5 0h1m7 0h5m5 0h1m5 0h6m5 0h1m5 0h1m6 0h1m3 0h4m2 0h1m5 0h1m3 0h9m2 0h2m5 0h1m4 0h1m3 0h1m5 0h1m2 0h1m2 0h8m5 0h4m2 0h1m3 0h1m2 0h2m4 0h1m3 0h1m6 0h7m9 0h3m8 0h1m3 0h3m2 0h6m3 0h6m5 0h4m2 0h1m2 0h2m2 0h3m5 0h3m2 0h2m5 0h1m4 0h6m3 0h1m3 0h1m3 0h1m4 0h4m2 0h1m4 0h1m3 0h6m3 0h1m4 0h3m2 0h3m2 0h5m13 0h1m2 0h1m5 0h1m9 0h1m2 0h1m-542 1h26m2 0h1m2 0h1m4 0h2m6 0h4m2 0h1m2 0h2m2 0h2m4 0h6m2 0h7m8 0h4m4 0h3m3 0h3m4 0h5m2 0h1m2 0h1m3 0h4m2 0h1m2 0h1m3 0h3m2 0h5m2 0h3m3 0h1m3 0h11m7 0h8m4 0h1m2 0h2m3 0h2m8 0h2m5 0h4m2 0h1m2 0h5m2 0h1m5 0h2m2 0h1m6 0h2m2 0h4m2 0h1m7 0h11m2 0h2m4 0h2m2 0h8m4 0h1m2 0h5m3 0h4m2 0h9m7 0h1m6 0h1m6 0h5m2 0h1m3 0h1m2 0h1m3 0h5m10 0h1m4 0h1m2 0h3m8 0h1m3 0h2m3 0h1m2 0h1m3 0h1m3 0h1m8 0h1m3 0h1m10 0h1m2 0h4m2 0h5m3 0h1m3 0h4m2 0h2m3 0h1m2 0h8m3 0h3m2 0h3m4 0h4m2 0h3m2 0h1m3 0h3m5 0h2m5 0h5m5 0h1m2 0h1m-542 1h7m2 0h12m2 0h3m5 0h1m5 0h1m7 0h1m4 0h9m4 0h1m2 0h2m2 0h9m7 0h3m5 0h3m3 0h3m11 0h4m2 0h1m2 0h2m2 0h1m2 0h1m3 0h3m2 0h5m9 0h1m2 0h1m3 0h2m2 0h4m5 0h6m2 0h1m4 0h5m3 0h7m3 0h2m5 0h3m2 0h2m2 0h1m3 0h1m2 0h1m5 0h2m4 0h1m2 0h1m2 0h1m2 0h4m2 0h1m2 0h1m2 0h3m2 0h2m2 0h9m3 0h13m3 0h2m3 0h4m3 0h3m2 0h10m8 0h1m3 0h2m6 0h1m2 0h1m7 0h1m2 0h1m3 0h1m3 0h3m8 0h3m2 0h1m2 0h1m11 0h1m2 0h2m12 0h1m8 0h1m5 0h1m4 0h1m5 0h8m2 0h2m5 0h2m2 0h1m2 0h1m2 0h1m4 0h1m2 0h2m9 0h5m2 0h1m5 0h1m2 0h1m3 0h1m2 0h8m4 0h2m6 0h5m4 0h1m-538 1h3m5 0h2m2 0h2m2 0h1m6 0h2m2 0h1m2 0h4m4 0h1m2 0h1m3 0h1m3 0h6m7 0h1m3 0h1m2 0h1m3 0h5m15 0h1m2 0h6m7 0h1m5 0h1m3 0h7m3 0h1m4 0h7m4 0h2m2 0h4m2 0h1m3 0h1m3 0h1m2 0h1m3 0h4m3 0h4m4 0h5m4 0h11m3 0h5m2 0h1m3 0h2m11 0h7m2 0h1m4 0h5m2 0h1m2 0h1m2 0h1m3 0h3m2 0h5m2 0h2m2 0h19m6 0h3m3 0h13m3 0h3m2 0h1m3 0h4m7 0h1m2 0h1m7 0h3m2 0h1m3 0h2m3 0h1m3 0h7m3 0h1m9 0h2m8 0h1m7 0h1m3 0h1m3 0h2m5 0h1m2 0h3m4 0h3m5 0h1m10 0h2m7 0h1m4 0h1m3 0h2m2 0h1m9 0h1m2 0h1m4 0h1m2 0h2m6 0h8m5 0h1m7 0h1m2 0h1m4 0h1m-534 1h1m4 0h1m6 0h1m6 0h2m2 0h1m2 0h5m3 0h4m2 0h2m6 0h1m2 0h3m4 0h1m6 0h1m2 0h1m3 0h3m2 0h4m3 0h1m3 0h1m3 0h6m3 0h5m7 0h5m3 0h1m3 0h3m4 0h1m3 0h3m2 0h2m2 0h8m2 0h5m2 0h9m2 0h2m11 0h3m2 0h1m2 0h15m5 0h11m3 0h10m4 0h1m9 0h1m2 0h1m3 0h1m4 0h1m2 0h1m5 0h3m2 0h4m4 0h1m2 0h6m4 0h1m2 0h1m2 0h3m7 0h2m5 0h3m2 0h1m6 0h1m10 0h1m2 0h2m5 0h4m4 0h1m3 0h1m3 0h2m2 0h3m3 0h1m2 0h1m3 0h1m2 0h1m9 0h1m7 0h1m3 0h1m2 0h2m3 0h4m2 0h3m4 0h1m2 0h1m13 0h1m2 0h3m3 0h3m4 0h1m4 0h4m5 0h5m2 0h1m4 0h1m2 0h1m2 0h1m4 0h7m20 0h3m-534 1h1m2 0h5m12 0h2m5 0h1m2 0h1m4 0h2m3 0h2m6 0h1m2 0h3m4 0h1m3 0h1m2 0h1m2 0h1m2 0h11m2 0h1m2 0h6m3 0h10m7 0h3m11 0h1m5 0h1m2 0h3m2 0h12m4 0h1m3 0h10m2 0h1m12 0h3m2 0h5m3 0h4m2 0h1m2 0h2m2 0h13m2 0h2m3 0h6m2 0h2m8 0h3m5 0h1m8 0h1m4 0h2m5 0h3m3 0h1m3 0h7m2 0h2m5 0h1m3 0h1m4 0h1m4 0h5m12 0h1m3 0h1m7 0h4m3 0h3m5 0h1m7 0h2m3 0h1m6 0h2m2 0h2m3 0h3m4 0h2m3 0h8m4 0h2m3 0h2m2 0h3m5 0h1m3 0h2m4 0h1m6 0h2m4 0h2m2 0h5m3 0h1m2 0h3m7 0h5m4 0h3m6 0h1m5 0h2m2 0h2m13 0h1m5 0h3m2 0h1m-541 1h3m2 0h1m2 0h1m3 0h1m5 0h1m3 0h7m3 0h1m5 0h1m3 0h5m8 0h3m5 0h1m3 0h1m7 0h2m3 0h7m2 0h8m2 0h6m2 0h4m2 0h1m4 0h6m2 0h3m9 0h1m2 0h2m3 0h5m9 0h1m2 0h1m2 0h1m2 0h6m3 0h1m4 0h1m2 0h3m4 0h1m2 0h5m3 0h1m3 0h2m3 0h2m2 0h4m4 0h2m5 0h1m3 0h1m4 0h2m2 0h2m8 0h2m2 0h1m3 0h6m2 0h2m2 0h5m3 0h1m6 0h1m3 0h4m2 0h1m2 0h2m2 0h1m2 0h1m3 0h3m2 0h1m3 0h6m6 0h1m5 0h1m3 0h1m10 0h1m3 0h2m4 0h3m7 0h1m4 0h1m6 0h1m2 0h4m2 0h3m2 0h4m2 0h6m2 0h1m5 0h1m6 0h4m5 0h1m2 0h3m4 0h3m4 0h1m6 0h1m6 0h2m2 0h1m2 0h1m4 0h1m8 0h1m4 0h5m3 0h1m11 0h1m4 0h3m2 0h5m2 0h4m4 0h1m-541 1h8m2 0h5m2 0h2m3 0h7m3 0h1m2 0h11m2 0h1m2 0h1m3 0h3m4 0h7m6 0h1m2 0h1m3 0h10m2 0h3m2 0h3m5 0h1m2 0h4m4 0h6m2 0h5m2 0h1m6 0h4m2 0h6m6 0h3m2 0h4m2 0h5m2 0h1m2 0h1m3 0h6m4 0h4m3 0h1m6 0h7m3 0h7m6 0h3m3 0h1m5 0h1m3 0h4m6 0h1m2 0h14m2 0h5m2 0h2m10 0h4m3 0h4m2 0h1m8 0h1m4 0h3m2 0h3m5 0h3m4 0h4m6 0h1m6 0h1m2 0h1m4 0h3m7 0h1m14 0h1m2 0h4m4 0h3m3 0h5m3 0h1m6 0h3m3 0h3m7 0h3m3 0h6m4 0h1m5 0h2m7 0h1m10 0h1m8 0h1m6 0h3m3 0h1m3 0h1m7 0h1m4 0h10m2 0h3m5 0h1m-539 1h2m2 0h2m2 0h9m4 0h1m2 0h1m2 0h1m5 0h3m2 0h1m2 0h1m4 0h1m2 0h1m3 0h3m4 0h7m5 0h1m3 0h1m4 0h3m2 0h4m2 0h5m2 0h3m6 0h3m3 0h1m5 0h1m6 0h2m2 0h1m6 0h4m2 0h1m2 0h5m2 0h5m3 0h16m2 0h6m6 0h1m2 0h1m3 0h1m5 0h9m5 0h4m5 0h5m4 0h1m6 0h4m5 0h2m2 0h5m5 0h4m9 0h11m6 0h5m17 0h1m4 0h2m6 0h11m6 0h1m6 0h5m3 0h2m9 0h1m18 0h1m2 0h1m4 0h2m10 0h1m6 0h3m5 0h1m4 0h4m5 0h7m3 0h2m4 0h2m5 0h1m2 0h1m4 0h2m3 0h3m13 0h1m2 0h1m3 0h1m2 0h4m4 0h1m4 0h4m3 0h3m5 0h1m2 0h1m-537 1h1m3 0h3m2 0h1m4 0h2m5 0h1m3 0h4m3 0h2m7 0h1m8 0h1m3 0h2m5 0h6m2 0h1m2 0h3m6 0h2m2 0h4m5 0h5m2 0h2m2 0h3m3 0h1m2 0h3m6 0h1m3 0h1m4 0h1m5 0h7m2 0h1m2 0h2m2 0h1m2 0h5m3 0h8m2 0h3m2 0h3m5 0h1m3 0h1m2 0h5m6 0h2m3 0h3m8 0h1m7 0h3m4 0h3m7 0h1m4 0h2m3 0h2m6 0h1m6 0h1m9 0h9m6 0h2m2 0h1m2 0h4m16 0h3m5 0h1m2 0h4m2 0h1m4 0h1m4 0h1m5 0h4m6 0h1m7 0h3m4 0h1m12 0h3m2 0h4m2 0h4m3 0h3m2 0h2m2 0h1m3 0h1m4 0h1m2 0h4m4 0h3m2 0h4m3 0h1m2 0h1m6 0h6m3 0h3m2 0h1m2 0h1m7 0h1m3 0h1m4 0h1m2 0h2m3 0h3m9 0h1m2 0h2m2 0h6m2 0h1m2 0h1m-537 1h3m3 0h1m4 0h1m3 0h1m3 0h2m4 0h4m3 0h4m3 0h3m3 0h6m2 0h3m5 0h2m2 0h2m2 0h1m2 0h6m4 0h6m3 0h1m3 0h13m2 0h2m4 0h4m2 0h4m6 0h1m5 0h7m4 0h2m6 0h5m4 0h3m3 0h1m4 0h1m2 0h3m3 0h7m2 0h5m5 0h2m4 0h3m10 0h4m3 0h1m3 0h1m3 0h4m2 0h3m4 0h4m7 0h3m6 0h2m8 0h1m3 0h1m3 0h1m3 0h1m3 0h3m3 0h4m18 0h3m6 0h1m2 0h1m2 0h1m4 0h1m2 0h3m5 0h1m9 0h2m8 0h1m4 0h1m3 0h1m5 0h1m2 0h1m4 0h4m2 0h4m3 0h3m2 0h9m4 0h1m4 0h3m3 0h4m2 0h3m5 0h6m2 0h1m3 0h1m3 0h2m4 0h5m4 0h3m3 0h2m2 0h1m3 0h2m5 0h1m9 0h1m2 0h2m6 0h4m3 0h3m-537 1h3m3 0h1m2 0h1m7 0h3m2 0h1m3 0h1m6 0h1m2 0h2m3 0h6m4 0h1m10 0h3m2 0h10m3 0h10m3 0h2m3 0h2m2 0h4m2 0h2m6 0h2m2 0h1m2 0h1m2 0h1m5 0h1m3 0h3m2 0h3m2 0h6m5 0h1m2 0h1m4 0h8m3 0h13m8 0h1m5 0h2m5 0h2m2 0h1m4 0h1m2 0h4m3 0h1m3 0h2m4 0h2m2 0h11m7 0h1m2 0h2m2 0h1m2 0h1m8 0h2m2 0h15m3 0h2m5 0h1m16 0h1m4 0h3m2 0h1m10 0h5m14 0h2m8 0h1m7 0h1m5 0h1m9 0h1m4 0h1m12 0h1m3 0h1m2 0h1m10 0h1m4 0h8m5 0h1m2 0h3m10 0h1m5 0h5m4 0h1m2 0h1m2 0h5m4 0h1m5 0h2m8 0h1m13 0h1m5 0h1m-537 1h3m3 0h2m3 0h1m3 0h5m2 0h2m2 0h2m8 0h1m2 0h5m2 0h1m4 0h1m10 0h10m2 0h3m3 0h9m2 0h4m4 0h1m4 0h1m12 0h1m5 0h1m2 0h3m3 0h1m2 0h1m2 0h9m2 0h9m2 0h1m3 0h13m2 0h4m2 0h4m9 0h2m10 0h5m4 0h4m11 0h3m8 0h5m3 0h1m4 0h1m5 0h5m4 0h2m5 0h2m4 0h2m2 0h1m2 0h3m3 0h5m5 0h6m4 0h1m7 0h1m3 0h4m15 0h3m4 0h5m2 0h4m8 0h1m13 0h1m9 0h1m4 0h1m7 0h1m5 0h1m5 0h1m9 0h15m4 0h1m2 0h1m3 0h2m2 0h1m4 0h3m3 0h3m9 0h7m3 0h3m5 0h4m3 0h1m3 0h2m10 0h2m-531 1h3m4 0h1m3 0h1m3 0h2m2 0h1m2 0h2m2 0h2m6 0h1m4 0h2m2 0h1m2 0h3m2 0h1m11 0h5m2 0h2m3 0h11m2 0h7m4 0h1m4 0h1m12 0h2m2 0h1m5 0h2m6 0h1m2 0h3m3 0h4m5 0h3m8 0h5m2 0h4m4 0h2m9 0h1m7 0h2m4 0h3m2 0h5m2 0h2m3 0h4m2 0h2m7 0h2m2 0h5m4 0h5m4 0h2m4 0h6m3 0h2m2 0h3m3 0h1m5 0h1m3 0h4m2 0h3m7 0h6m4 0h1m3 0h1m3 0h1m3 0h4m13 0h2m2 0h1m4 0h9m10 0h1m3 0h2m5 0h7m16 0h1m2 0h3m3 0h1m15 0h1m2 0h6m5 0h1m4 0h1m2 0h6m2 0h1m4 0h3m2 0h1m2 0h1m5 0h2m3 0h1m2 0h1m5 0h2m9 0h1m3 0h6m2 0h3m5 0h1m4 0h1m-537 1h4m14 0h1m2 0h1m6 0h1m7 0h4m2 0h1m2 0h1m2 0h4m5 0h1m3 0h1m3 0h1m6 0h1m4 0h10m4 0h3m6 0h1m6 0h3m3 0h1m6 0h4m5 0h2m7 0h3m3 0h1m2 0h3m5 0h2m2 0h2m3 0h1m4 0h1m2 0h3m2 0h1m4 0h1m9 0h2m3 0h5m3 0h9m4 0h2m3 0h8m8 0h10m2 0h5m5 0h1m5 0h1m2 0h4m4 0h5m2 0h1m2 0h1m2 0h1m5 0h2m2 0h1m6 0h1m6 0h2m8 0h1m6 0h1m2 0h2m3 0h3m5 0h5m5 0h7m2 0h1m8 0h1m4 0h3m5 0h2m2 0h3m15 0h3m3 0h4m20 0h1m9 0h1m9 0h1m7 0h1m5 0h3m4 0h2m2 0h2m14 0h1m2 0h1m4 0h3m4 0h2m4 0h3m3 0h1m6 0h1m-537 1h1m2 0h1m2 0h1m10 0h4m5 0h1m8 0h1m2 0h4m2 0h4m2 0h2m3 0h3m2 0h2m3 0h1m2 0h5m2 0h6m2 0h1m2 0h4m5 0h2m2 0h2m5 0h4m3 0h1m2 0h1m4 0h3m6 0h1m7 0h1m2 0h1m2 0h7m4 0h6m3 0h2m3 0h1m2 0h3m2 0h1m5 0h1m3 0h1m2 0h4m3 0h5m3 0h1m3 0h1m2 0h6m5 0h6m10 0h3m2 0h1m3 0h5m17 0h4m4 0h6m4 0h5m4 0h1m2 0h9m6 0h1m12 0h1m3 0h1m3 0h1m3 0h6m2 0h2m2 0h2m4 0h1m13 0h1m3 0h1m4 0h1m16 0h3m8 0h5m5 0h2m2 0h1m17 0h1m4 0h3m2 0h1m2 0h1m6 0h1m7 0h1m5 0h3m4 0h2m6 0h3m2 0h1m6 0h4m4 0h3m5 0h3m4 0h1m3 0h1m6 0h1m-537 1h1m2 0h7m6 0h2m2 0h1m3 0h3m3 0h1m4 0h1m5 0h7m7 0h1m4 0h13m2 0h1m2 0h3m7 0h9m2 0h1m6 0h2m6 0h3m9 0h1m3 0h1m10 0h1m3 0h2m3 0h2m3 0h6m2 0h3m3 0h5m9 0h1m3 0h1m2 0h3m6 0h3m2 0h1m4 0h1m2 0h8m4 0h4m16 0h1m3 0h5m4 0h1m11 0h3m3 0h1m7 0h1m5 0h4m7 0h1m2 0h4m5 0h1m7 0h1m7 0h1m12 0h1m2 0h4m5 0h1m4 0h1m12 0h3m21 0h1m2 0h3m7 0h3m8 0h1m3 0h1m22 0h3m5 0h1m6 0h1m15 0h1m4 0h1m2 0h1m4 0h3m2 0h1m7 0h1m2 0h1m3 0h2m6 0h8m-523 1h7m3 0h4m7 0h9m2 0h1m3 0h1m2 0h6m10 0h9m5 0h1m3 0h3m12 0h4m2 0h1m16 0h2m3 0h1m2 0h1m3 0h1m2 0h1m12 0h1m2 0h3m2 0h5m3 0h6m2 0h8m13 0h1m3 0h2m6 0h1m4 0h2m3 0h2m5 0h4m4 0h1m2 0h1m3 0h3m4 0h1m9 0h2m7 0h1m6 0h9m2 0h2m4 0h3m2 0h1m4 0h1m7 0h1m5 0h3m4 0h1m2 0h1m4 0h1m3 0h3m20 0h1m7 0h1m15 0h3m21 0h1m2 0h1m6 0h1m2 0h6m5 0h1m15 0h1m12 0h3m3 0h1m2 0h1m19 0h1m6 0h7m4 0h3m6 0h4m2 0h2m3 0h1m5 0h5m5 0h1m-530 1h1m2 0h6m2 0h2m4 0h1m3 0h3m2 0h1m2 0h2m6 0h1m15 0h1m2 0h7m11 0h1m2 0h1m7 0h1m2 0h3m4 0h1m4 0h1m10 0h7m2 0h1m3 0h1m2 0h6m7 0h2m3 0h3m2 0h7m3 0h1m3 0h8m10 0h1m2 0h1m3 0h2m2 0h1m2 0h2m4 0h2m3 0h4m4 0h1m8 0h2m3 0h3m2 0h3m3 0h1m20 0h5m3 0h6m4 0h2m3 0h1m7 0h1m4 0h1m3 0h1m3 0h1m4 0h1m2 0h1m7 0h4m8 0h1m3 0h1m15 0h1m25 0h1m3 0h2m3 0h1m7 0h1m6 0h1m6 0h2m4 0h1m11 0h1m4 0h2m5 0h1m4 0h4m6 0h3m6 0h3m4 0h2m9 0h1m2 0h4m2 0h5m5 0h5m2 0h1m4 0h1m2 0h1m3 0h1m4 0h1m3 0h1m-530 1h5m2 0h2m2 0h1m3 0h4m2 0h1m3 0h1m4 0h1m10 0h2m2 0h1m7 0h1m3 0h2m3 0h3m4 0h4m3 0h10m2 0h3m6 0h1m2 0h1m10 0h6m3 0h1m3 0h1m4 0h4m8 0h1m5 0h1m5 0h4m2 0h1m14 0h3m5 0h1m3 0h1m3 0h4m2 0h2m2 0h3m7 0h1m3 0h1m8 0h2m9 0h1m3 0h3m19 0h5m3 0h5m6 0h4m3 0h1m5 0h1m8 0h1m9 0h1m9 0h2m4 0h2m3 0h2m3 0h1m41 0h1m2 0h3m3 0h1m24 0h1m2 0h1m4 0h1m4 0h3m3 0h3m5 0h1m4 0h3m9 0h1m4 0h5m4 0h2m10 0h1m6 0h4m4 0h4m2 0h1m3 0h1m7 0h3m4 0h3m4 0h1m6 0h1m-542 1h1m4 0h2m4 0h5m3 0h4m6 0h1m4 0h1m10 0h5m4 0h1m2 0h3m7 0h3m3 0h5m2 0h8m3 0h11m5 0h1m2 0h1m4 0h5m2 0h7m5 0h2m3 0h1m10 0h1m6 0h3m3 0h3m3 0h1m2 0h2m4 0h4m6 0h3m3 0h6m4 0h2m12 0h6m3 0h1m7 0h1m6 0h3m19 0h5m3 0h5m4 0h3m2 0h1m3 0h1m5 0h1m2 0h1m9 0h4m2 0h1m6 0h1m3 0h1m2 0h4m3 0h1m4 0h1m31 0h1m12 0h2m19 0h1m7 0h3m7 0h1m4 0h1m5 0h1m14 0h1m14 0h3m6 0h2m4 0h1m2 0h1m2 0h1m3 0h1m2 0h1m2 0h1m2 0h5m7 0h1m2 0h1m3 0h4m4 0h1m6 0h3m2 0h3m-542 1h1m5 0h1m4 0h4m2 0h5m3 0h1m16 0h1m4 0h2m5 0h1m4 0h3m3 0h9m2 0h2m13 0h2m2 0h7m2 0h4m2 0h1m4 0h1m6 0h5m5 0h1m6 0h1m8 0h3m14 0h1m3 0h1m2 0h2m4 0h8m2 0h3m4 0h5m5 0h2m12 0h5m5 0h1m5 0h1m14 0h1m2 0h1m7 0h1m3 0h2m4 0h1m2 0h4m3 0h1m2 0h1m6 0h1m5 0h3m2 0h1m5 0h5m2 0h1m6 0h1m2 0h1m3 0h2m10 0h1m13 0h1m3 0h1m3 0h2m5 0h1m2 0h1m2 0h1m10 0h1m2 0h1m3 0h4m9 0h3m5 0h1m20 0h1m4 0h1m8 0h1m15 0h2m8 0h3m2 0h1m2 0h1m6 0h3m3 0h1m2 0h1m2 0h2m4 0h1m5 0h1m3 0h3m12 0h3m2 0h1m-536 1h1m6 0h1m2 0h1m2 0h5m3 0h1m7 0h2m6 0h4m3 0h1m9 0h14m4 0h2m9 0h2m6 0h1m5 0h1m2 0h3m2 0h1m5 0h1m8 0h1m4 0h1m2 0h1m2 0h1m7 0h1m3 0h4m5 0h1m22 0h7m4 0h1m4 0h3m8 0h3m3 0h2m5 0h1m2 0h5m2 0h1m12 0h1m3 0h1m3 0h1m2 0h1m5 0h3m2 0h2m3 0h3m2 0h4m2 0h1m3 0h1m4 0h3m4 0h4m2 0h1m5 0h1m6 0h1m6 0h1m2 0h1m4 0h1m10 0h1m13 0h1m3 0h1m3 0h2m5 0h1m5 0h1m13 0h1m3 0h4m9 0h3m26 0h1m2 0h3m3 0h1m4 0h4m16 0h3m2 0h1m2 0h2m8 0h1m4 0h1m3 0h1m3 0h1m4 0h4m4 0h2m12 0h4m-531 1h1m2 0h3m9 0h3m2 0h2m4 0h1m5 0h2m6 0h1m2 0h1m2 0h2m6 0h1m2 0h1m4 0h3m2 0h2m2 0h1m3 0h1m7 0h1m2 0h2m2 0h1m3 0h1m9 0h1m3 0h2m4 0h1m2 0h1m2 0h9m5 0h3m3 0h7m4 0h5m4 0h2m8 0h3m3 0h1m2 0h5m10 0h2m11 0h6m4 0h2m3 0h6m10 0h4m2 0h2m7 0h1m2 0h3m4 0h6m10 0h3m5 0h11m23 0h1m7 0h1m7 0h1m10 0h1m13 0h1m51 0h1m7 0h3m4 0h1m8 0h1m5 0h1m4 0h4m16 0h3m2 0h1m3 0h1m4 0h5m10 0h3m4 0h2m3 0h1m2 0h2m12 0h4m-531 1h1m2 0h5m7 0h1m4 0h2m4 0h1m10 0h1m5 0h1m2 0h2m6 0h1m9 0h3m4 0h1m3 0h1m2 0h1m4 0h1m6 0h1m6 0h1m4 0h2m3 0h5m3 0h13m5 0h1m2 0h1m3 0h5m2 0h1m3 0h4m5 0h2m3 0h1m4 0h3m3 0h1m3 0h3m12 0h1m7 0h1m4 0h2m2 0h1m2 0h6m6 0h1m2 0h2m2 0h12m7 0h1m2 0h6m4 0h1m8 0h2m3 0h2m5 0h1m2 0h6m8 0h1m3 0h2m2 0h2m7 0h1m7 0h1m2 0h1m2 0h3m3 0h1m6 0h1m4 0h1m8 0h1m2 0h1m48 0h4m4 0h3m4 0h1m12 0h5m36 0h3m8 0h1m3 0h4m4 0h1m3 0h1m7 0h3m-514 1h1m8 0h1m20 0h1m5 0h1m2 0h1m12 0h1m6 0h1m4 0h2m2 0h4m5 0h1m5 0h1m2 0h2m2 0h1m4 0h2m3 0h2m2 0h1m3 0h4m3 0h2m3 0h1m5 0h2m3 0h1m3 0h1m2 0h4m2 0h4m10 0h1m15 0h8m12 0h4m3 0h1m3 0h9m9 0h2m2 0h4m3 0h5m7 0h1m6 0h2m4 0h1m3 0h1m2 0h4m2 0h1m10 0h1m6 0h3m4 0h6m2 0h2m7 0h1m2 0h1m2 0h3m2 0h1m2 0h1m2 0h1m2 0h1m11 0h1m11 0h1m3 0h1m44 0h4m5 0h1m17 0h3m2 0h1m14 0h1m5 0h1m4 0h1m10 0h5m3 0h4m4 0h3m4 0h1m5 0h1m4 0h4m5 0h1m9 0h1m2 0h1m-537 1h1m3 0h1m6 0h3m41 0h2m4 0h1m2 0h1m2 0h3m3 0h1m2 0h1m4 0h1m8 0h2m6 0h1m5 0h2m5 0h6m2 0h2m7 0h8m2 0h15m3 0h1m5 0h1m18 0h5m3 0h3m2 0h1m3 0h4m4 0h5m3 0h3m10 0h1m2 0h2m11 0h1m5 0h2m6 0h1m9 0h1m2 0h2m4 0h1m2 0h1m7 0h2m5 0h3m5 0h6m2 0h3m5 0h1m2 0h6m2 0h1m5 0h1m30 0h1m27 0h1m43 0h3m2 0h1m7 0h1m6 0h1m4 0h2m4 0h1m14 0h1m3 0h4m4 0h2m2 0h1m2 0h1m5 0h1m2 0h4m7 0h1m7 0h3m2 0h1m-539 1h3m5 0h6m23 0h1m4 0h1m2 0h2m9 0h2m5 0h1m2 0h1m2 0h3m6 0h2m2 0h1m4 0h1m4 0h1m7 0h4m2 0h1m6 0h6m2 0h1m2 0h2m4 0h8m2 0h11m3 0h1m3 0h1m2 0h1m2 0h3m10 0h4m2 0h1m3 0h1m2 0h11m5 0h5m6 0h3m3 0h4m5 0h2m9 0h3m5 0h2m4 0h5m11 0h1m4 0h1m2 0h1m8 0h2m5 0h1m11 0h1m2 0h3m5 0h1m2 0h3m5 0h1m6 0h1m57 0h1m56 0h2m6 0h1m3 0h1m3 0h1m10 0h1m5 0h1m6 0h1m4 0h5m2 0h1m8 0h1m12 0h1m5 0h1m-535 1h2m7 0h5m11 0h1m6 0h1m2 0h1m2 0h1m4 0h6m2 0h1m5 0h2m11 0h3m7 0h1m2 0h1m3 0h2m5 0h1m3 0h1m4 0h6m2 0h1m6 0h1m3 0h1m2 0h2m2 0h2m4 0h1m2 0h1m2 0h2m2 0h7m9 0h2m3 0h2m10 0h4m2 0h1m3 0h8m3 0h4m4 0h4m2 0h1m5 0h2m3 0h6m14 0h1m8 0h1m4 0h2m2 0h1m19 0h3m3 0h1m2 0h2m5 0h1m4 0h2m19 0h1m9 0h1m4 0h1m37 0h1m73 0h1m3 0h1m6 0h1m7 0h1m2 0h1m7 0h1m5 0h1m10 0h6m3 0h3m10 0h2m6 0h1m3 0h1m-533 1h2m5 0h1m3 0h3m9 0h3m5 0h6m4 0h1m2 0h2m2 0h1m2 0h1m3 0h1m2 0h1m5 0h1m5 0h2m4 0h1m3 0h1m6 0h1m6 0h1m2 0h2m6 0h4m2 0h1m4 0h1m12 0h2m8 0h11m8 0h1m2 0h1m3 0h3m3 0h1m2 0h1m11 0h1m2 0h1m3 0h1m5 0h1m2 0h1m3 0h5m2 0h1m3 0h1m2 0h1m8 0h2m4 0h2m33 0h1m4 0h1m8 0h5m2 0h1m11 0h2m5 0h1m16 0h1m5 0h2m10 0h1m15 0h1m15 0h1m73 0h1m17 0h5m24 0h2m3 0h1m3 0h3m10 0h2m5 0h2m2 0h2m-526 1h1m5 0h1m4 0h1m4 0h1m4 0h1m2 0h8m2 0h1m2 0h3m8 0h1m5 0h4m7 0h1m3 0h1m3 0h1m4 0h1m8 0h1m2 0h1m9 0h2m3 0h1m3 0h1m10 0h3m3 0h3m3 0h1m3 0h5m4 0h1m4 0h4m2 0h5m3 0h1m2 0h2m5 0h6m9 0h4m6 0h7m2 0h3m4 0h1m6 0h4m2 0h3m3 0h1m25 0h1m2 0h1m4 0h2m4 0h1m4 0h1m4 0h1m13 0h1m4 0h1m6 0h1m7 0h3m4 0h2m11 0h1m15 0h1m9 0h1m19 0h1m44 0h1m20 0h1m11 0h3m14 0h1m24 0h1m4 0h1m3 0h2m5 0h1m3 0h1m4 0h1m-519 1h1m8 0h2m2 0h5m2 0h1m7 0h1m14 0h3m8 0h1m3 0h1m2 0h1m5 0h1m6 0h1m9 0h1m4 0h2m3 0h1m7 0h1m6 0h9m16 0h2m3 0h4m2 0h2m6 0h1m3 0h1m5 0h5m3 0h4m3 0h3m3 0h1m4 0h1m2 0h3m2 0h4m3 0h2m8 0h2m2 0h3m2 0h3m7 0h1m15 0h1m8 0h1m4 0h1m4 0h1m4 0h3m11 0h1m9 0h4m6 0h3m4 0h2m7 0h1m29 0h1m10 0h1m8 0h1m44 0h1m8 0h1m2 0h1m3 0h1m4 0h1m26 0h3m13 0h1m10 0h1m3 0h2m4 0h1m12 0h3m-528 1h3m15 0h1m5 0h1m2 0h3m2 0h1m7 0h3m4 0h1m20 0h3m6 0h1m5 0h1m2 0h1m6 0h3m9 0h1m5 0h1m2 0h1m2 0h3m2 0h1m6 0h2m7 0h1m5 0h1m4 0h1m4 0h4m9 0h3m4 0h1m4 0h5m9 0h3m2 0h1m5 0h1m3 0h2m4 0h3m5 0h3m2 0h4m3 0h1m7 0h1m7 0h1m3 0h1m22 0h1m5 0h2m21 0h1m2 0h1m14 0h1m7 0h1m7 0h1m25 0h1m6 0h1m60 0h3m2 0h1m3 0h1m5 0h3m5 0h1m17 0h1m15 0h1m14 0h2m4 0h1m9 0h4m2 0h1m-537 1h1m5 0h5m17 0h4m2 0h2m3 0h2m7 0h3m4 0h1m5 0h1m12 0h5m4 0h3m2 0h1m5 0h5m2 0h3m4 0h3m2 0h1m3 0h3m2 0h4m11 0h2m7 0h1m10 0h1m2 0h1m2 0h3m8 0h7m6 0h1m3 0h1m4 0h2m5 0h1m5 0h1m2 0h2m4 0h1m5 0h1m5 0h2m6 0h1m3 0h1m15 0h1m3 0h1m18 0h3m6 0h3m16 0h1m4 0h1m9 0h1m23 0h1m19 0h1m5 0h1m67 0h2m13 0h3m5 0h1m12 0h1m27 0h1m4 0h1m6 0h1m11 0h3m3 0h1m-538 1h2m5 0h1m13 0h4m2 0h6m2 0h1m4 0h1m6 0h4m3 0h5m3 0h2m6 0h2m3 0h1m2 0h2m4 0h3m2 0h2m6 0h3m2 0h1m3 0h1m2 0h3m6 0h8m2 0h1m10 0h2m3 0h1m7 0h1m2 0h1m2 0h1m2 0h1m6 0h3m4 0h2m3 0h2m11 0h1m3 0h2m2 0h1m8 0h1m3 0h1m4 0h1m5 0h1m8 0h1m5 0h1m4 0h1m12 0h1m21 0h5m6 0h3m16 0h1m14 0h1m5 0h1m17 0h1m9 0h1m9 0h1m4 0h1m58 0h1m23 0h1m21 0h1m4 0h1m15 0h1m6 0h2m3 0h1m6 0h1m18 0h3m-541 1h1m6 0h1m8 0h3m2 0h4m2 0h1m7 0h1m9 0h6m3 0h7m2 0h1m6 0h2m2 0h5m5 0h3m3 0h2m7 0h1m2 0h1m3 0h1m11 0h8m2 0h1m4 0h1m6 0h1m2 0h2m7 0h1m2 0h1m2 0h1m9 0h3m4 0h2m16 0h1m7 0h1m4 0h3m5 0h1m10 0h1m4 0h1m3 0h1m5 0h1m4 0h1m3 0h1m8 0h1m14 0h1m2 0h1m3 0h1m17 0h1m4 0h1m9 0h1m17 0h1m17 0h1m9 0h1m14 0h1m58 0h1m23 0h1m7 0h1m7 0h1m5 0h1m4 0h3m11 0h3m7 0h1m3 0h1m3 0h1m5 0h3m6 0h1m6 0h3m-541 1h1m6 0h1m4 0h1m2 0h4m5 0h2m9 0h1m9 0h1m3 0h1m3 0h1m6 0h1m12 0h4m2 0h2m3 0h1m5 0h2m7 0h1m3 0h1m2 0h1m2 0h1m8 0h2m3 0h1m7 0h3m6 0h1m2 0h1m2 0h1m11 0h1m4 0h1m10 0h2m17 0h1m10 0h5m2 0h4m3 0h3m9 0h5m6 0h1m7 0h1m4 0h1m16 0h3m2 0h1m3 0h1m12 0h1m4 0h1m4 0h1m9 0h1m10 0h2m21 0h1m4 0h1m5 0h1m98 0h1m4 0h1m2 0h1m7 0h1m4 0h1m7 0h1m6 0h1m2 0h3m12 0h2m3 0h1m3 0h5m6 0h1m3 0h1m-536 1h1m5 0h2m4 0h6m7 0h1m16 0h1m10 0h1m7 0h1m7 0h1m3 0h8m18 0h1m3 0h4m2 0h1m9 0h3m9 0h5m4 0h1m5 0h1m5 0h1m10 0h1m7 0h6m2 0h1m4 0h1m18 0h5m3 0h5m2 0h3m4 0h1m6 0h1m8 0h3m10 0h1m16 0h2m20 0h1m30 0h2m21 0h1m4 0h1m5 0h1m98 0h1m3 0h2m12 0h1m2 0h1m9 0h1m4 0h1m2 0h3m12 0h1m8 0h1m9 0h2m3 0h1m-532 1h4m2 0h1m2 0h1m3 0h3m4 0h1m2 0h1m9 0h3m2 0h1m8 0h1m3 0h1m2 0h1m2 0h1m7 0h1m6 0h2m27 0h1m15 0h1m3 0h1m6 0h4m4 0h1m5 0h1m3 0h4m7 0h3m6 0h4m2 0h4m4 0h1m3 0h1m14 0h1m2 0h3m6 0h1m9 0h1m3 0h1m13 0h1m15 0h1m12 0h1m2 0h3m4 0h1m12 0h1m10 0h1m9 0h1m140 0h1m3 0h1m13 0h1m2 0h1m9 0h1m4 0h1m12 0h4m7 0h1m5 0h1m5 0h3m-529 1h2m2 0h1m2 0h1m8 0h1m4 0h1m2 0h1m9 0h3m11 0h1m3 0h6m8 0h1m2 0h5m13 0h1m18 0h1m15 0h1m2 0h5m11 0h3m3 0h1m2 0h1m7 0h3m3 0h1m2 0h4m4 0h1m4 0h1m4 0h1m18 0h2m6 0h3m2 0h1m8 0h1m3 0h1m4 0h1m5 0h1m4 0h1m9 0h1m10 0h1m4 0h3m4 0h1m10 0h3m5 0h1m4 0h1m2 0h1m6 0h1m140 0h1m20 0h2m13 0h3m10 0h5m4 0h3m5 0h1m5 0h1m2 0h2m-531 1h3m7 0h1m3 0h1m4 0h1m9 0h1m5 0h1m8 0h1m3 0h1m5 0h1m2 0h1m7 0h2m2 0h3m3 0h3m3 0h1m5 0h1m16 0h3m3 0h1m6 0h1m7 0h3m2 0h4m4 0h6m6 0h3m7 0h1m3 0h1m6 0h1m8 0h3m6 0h1m6 0h1m10 0h2m4 0h2m2 0h1m5 0h1m6 0h1m4 0h1m5 0h2m3 0h1m6 0h1m11 0h3m15 0h1m6 0h1m7 0h1m7 0h1m10 0h1m158 0h1m9 0h3m3 0h1m10 0h1m2 0h3m3 0h1m8 0h3m5 0h2m-529 1h3m3 0h3m2 0h2m2 0h5m6 0h2m13 0h2m18 0h5m2 0h1m4 0h7m13 0h1m8 0h1m5 0h1m6 0h2m7 0h1m3 0h4m4 0h2m10 0h3m9 0h3m6 0h1m8 0h3m6 0h1m3 0h4m10 0h2m2 0h3m9 0h1m3 0h1m2 0h1m11 0h1m2 0h2m2 0h1m3 0h3m4 0h3m2 0h1m17 0h1m9 0h1m23 0h1m164 0h1m3 0h3m4 0h1m4 0h1m3 0h2m4 0h1m3 0h1m8 0h8m-532 1h1m4 0h3m3 0h2m3 0h1m3 0h1m3 0h1m2 0h1m3 0h1m3 0h1m4 0h1m3 0h3m4 0h1m14 0h5m4 0h1m3 0h4m15 0h1m3 0h1m8 0h1m9 0h1m10 0h1m3 0h1m16 0h1m3 0h1m3 0h1m3 0h3m6 0h1m5 0h1m5 0h1m9 0h2m5 0h1m5 0h1m4 0h1m14 0h2m11 0h2m4 0h2m2 0h1m3 0h3m4 0h3m10 0h3m17 0h1m14 0h1m12 0h1m155 0h1m4 0h1m10 0h1m4 0h1m3 0h3m10 0h1m6 0h8m-533 1h1m4 0h1m5 0h1m3 0h1m11 0h2m6 0h3m2 0h1m3 0h3m4 0h1m6 0h1m11 0h1m4 0h1m5 0h3m3 0h2m10 0h1m2 0h1m8 0h1m5 0h1m14 0h2m10 0h1m3 0h1m8 0h1m3 0h10m3 0h1m3 0h3m5 0h1m6 0h1m7 0h3m5 0h1m5 0h3m9 0h3m12 0h2m9 0h1m3 0h1m5 0h1m12 0h3m14 0h5m13 0h1m12 0h1m155 0h3m5 0h1m5 0h1m4 0h3m5 0h1m10 0h1m7 0h1m4 0h2m3 0h2m-523 1h1m11 0h2m3 0h1m4 0h1m8 0h1m11 0h3m2 0h1m4 0h1m5 0h1m5 0h4m3 0h2m4 0h3m3 0h1m2 0h1m7 0h1m6 0h1m13 0h3m3 0h3m3 0h2m2 0h2m13 0h3m3 0h3m7 0h1m5 0h1m8 0h1m7 0h1m7 0h1m5 0h5m6 0h3m8 0h1m5 0h1m9 0h1m3 0h1m9 0h1m7 0h3m15 0h5m14 0h1m29 0h1m139 0h1m5 0h1m5 0h1m4 0h1m26 0h1m4 0h3m2 0h2m-539 1h1m13 0h1m11 0h1m6 0h1m6 0h1m6 0h1m12 0h5m4 0h1m2 0h1m2 0h1m5 0h2m5 0h1m5 0h3m13 0h2m20 0h1m5 0h3m3 0h1m3 0h1m13 0h1m2 0h3m9 0h5m3 0h2m8 0h1m14 0h1m8 0h2m5 0h4m8 0h1m5 0h3m10 0h1m10 0h1m7 0h3m16 0h1m10 0h1m6 0h1m29 0h1m116 0h1m22 0h1m6 0h1m10 0h1m6 0h1m14 0h1m3 0h1m2 0h1m3 0h2m4 0h1m-541 1h1m13 0h1m3 0h1m7 0h2m3 0h3m6 0h2m5 0h1m3 0h1m8 0h1m2 0h1m8 0h3m2 0h3m3 0h1m6 0h1m4 0h2m11 0h4m14 0h1m3 0h1m6 0h1m2 0h1m6 0h1m2 0h1m11 0h1m2 0h3m9 0h5m4 0h1m8 0h1m17 0h1m5 0h1m6 0h3m2 0h1m14 0h1m10 0h1m15 0h1m11 0h1m9 0h1m6 0h1m3 0h1m24 0h1m128 0h1m21 0h1m3 0h1m3 0h1m10 0h1m6 0h1m7 0h1m6 0h1m6 0h1m4 0h1m4 0h1m-523 1h1m3 0h6m3 0h2m8 0h1m5 0h1m3 0h1m5 0h1m2 0h3m4 0h1m6 0h1m2 0h3m3 0h1m6 0h1m4 0h2m10 0h3m5 0h1m10 0h1m3 0h1m6 0h1m9 0h1m2 0h3m7 0h1m4 0h1m3 0h1m8 0h1m22 0h2m10 0h1m17 0h1m13 0h1m17 0h1m8 0h2m6 0h2m3 0h1m16 0h1m28 0h1m150 0h1m3 0h1m15 0h2m8 0h1m3 0h1m6 0h1m7 0h1m-518 1h1m7 0h4m9 0h1m3 0h1m4 0h1m12 0h1m3 0h2m4 0h1m28 0h3m8 0h1m7 0h1m14 0h2m10 0h1m9 0h1m4 0h1m2 0h1m7 0h2m2 0h1m4 0h2m4 0h1m11 0h1m5 0h2m31 0h1m5 0h1m4 0h1m17 0h1m5 0h1m2 0h2m6 0h2m15 0h1m19 0h1m184 0h2m8 0h1m10 0h1m4 0h1m2 0h1m5 0h1m-524 1h1m2 0h1m17 0h1m3 0h1m4 0h1m5 0h1m6 0h1m3 0h3m8 0h2m4 0h1m2 0h1m3 0h2m7 0h1m3 0h1m8 0h1m21 0h3m10 0h2m7 0h1m3 0h5m8 0h1m3 0h3m2 0h1m5 0h1m5 0h2m3 0h2m26 0h1m11 0h3m3 0h1m2 0h5m21 0h1m10 0h1m16 0h1m3 0h1m15 0h1m165 0h1m6 0h1m28 0h1m3 0h1m4 0h1m5 0h1m2 0h1m-533 1h1m8 0h1m2 0h1m11 0h1m9 0h3m8 0h1m6 0h1m5 0h1m8 0h2m3 0h2m2 0h1m3 0h2m7 0h1m3 0h2m5 0h3m5 0h1m7 0h1m7 0h1m7 0h1m3 0h3m3 0h1m3 0h1m3 0h1m3 0h1m6 0h1m5 0h3m14 0h2m3 0h1m2 0h1m17 0h1m6 0h1m11 0h3m6 0h5m15 0h1m5 0h1m7 0h1m2 0h1m11 0h1m8 0h1m181 0h1m6 0h1m15 0h3m7 0h4m6 0h1m7 0h1m6 0h1m-537 1h1m8 0h1m5 0h1m4 0h2m2 0h1m3 0h1m7 0h1m5 0h2m13 0h3m4 0h1m2 0h1m4 0h3m6 0h1m6 0h1m5 0h1m5 0h1m7 0h1m7 0h1m13 0h3m3 0h1m5 0h3m16 0h1m5 0h1m3 0h1m10 0h1m9 0h1m6 0h1m6 0h5m4 0h1m15 0h1m26 0h1m4 0h1m8 0h1m14 0h1m213 0h3m7 0h3m6 0h2m7 0h1m2 0h1m3 0h1m-526 1h5m3 0h3m6 0h1m3 0h1m8 0h6m10 0h4m3 0h3m7 0h1m6 0h1m3 0h1m2 0h1m20 0h1m11 0h1m8 0h3m11 0h1m7 0h1m17 0h2m6 0h1m3 0h1m16 0h1m3 0h1m2 0h3m6 0h1m11 0h1m3 0h1m28 0h1m2 0h1m222 0h1m6 0h3m15 0h1m8 0h1m5 0h4m2 0h5m-539 1h1m12 0h3m2 0h1m2 0h1m4 0h1m7 0h1m8 0h1m2 0h3m13 0h1m3 0h3m2 0h1m3 0h1m11 0h1m3 0h2m8 0h2m7 0h2m11 0h2m2 0h1m18 0h1m7 0h2m12 0h1m3 0h1m7 0h3m5 0h2m6 0h1m8 0h1m5 0h1m9 0h1m7 0h1m17 0h1m14 0h1m225 0h1m6 0h3m2 0h1m12 0h1m6 0h3m5 0h3m5 0h3m-539 1h1m7 0h1m4 0h1m4 0h1m7 0h2m19 0h2m17 0h1m4 0h1m3 0h1m4 0h1m4 0h1m5 0h2m2 0h1m5 0h2m7 0h1m13 0h1m2 0h2m16 0h1m2 0h1m6 0h1m12 0h1m6 0h1m6 0h3m3 0h2m2 0h1m3 0h1m7 0h1m6 0h1m9 0h3m23 0h1m5 0h1m16 0h1m35 0h1m193 0h1m19 0h3m15 0h1m-531 1h3m16 0h1m14 0h3m2 0h2m3 0h1m10 0h3m5 0h1m6 0h4m2 0h2m9 0h1m4 0h1m7 0h1m2 0h1m7 0h2m7 0h1m16 0h1m2 0h1m10 0h1m15 0h1m5 0h1m2 0h1m4 0h1m2 0h1m11 0h1m18 0h1m5 0h1m23 0h1m16 0h1m35 0h1m196 0h1m10 0h1m6 0h1m-520 1h1m7 0h1m2 0h3m26 0h3m7 0h1m10 0h4m11 0h1m2 0h1m2 0h1m15 0h1m7 0h4m7 0h2m11 0h1m26 0h1m21 0h1m2 0h1m9 0h1m6 0h1m23 0h1m3 0h1m17 0h1m247 0h1m7 0h1m5 0h1m4 0h1m6 0h1m2 0h1m8 0h1m-532 1h1m2 0h2m6 0h3m7 0h1m42 0h1m14 0h1m25 0h4m21 0h1m4 0h3m17 0h1m23 0h1m2 0h1m3 0h1m5 0h2m5 0h1m8 0h1m9 0h1m4 0h1m4 0h1m11 0h6m247 0h1m13 0h1m4 0h1m6 0h1m2 0h1m8 0h1m-533 1h1m3 0h2m16 0h3m8 0h1m20 0h1m21 0h1m3 0h1m15 0h1m5 0h1m3 0h2m4 0h1m23 0h3m12 0h1m3 0h2m5 0h1m17 0h1m6 0h1m6 0h1m14 0h1m9 0h1m4 0h2m2 0h4m9 0h4m11 0h1m241 0h1m14 0h1m7 0h3m10 0h1m-535 1h6m2 0h1m2 0h1m3 0h1m8 0h1m2 0h3m2 0h2m9 0h1m10 0h3m8 0h1m9 0h2m18 0h2m2 0h1m2 0h1m4 0h2m3 0h1m13 0h1m17 0h1m6 0h5m6 0h1m9 0h1m18 0h1m26 0h1m6 0h1m2 0h1m2 0h3m2 0h1m5 0h1m9 0h1m3 0h1m241 0h1m6 0h1m3 0h1m11 0h1m2 0h1m9 0h3m-536 1h5m2 0h1m2 0h1m3 0h5m7 0h3m2 0h1m3 0h1m5 0h3m2 0h1m7 0h2m8 0h1m8 0h2m11 0h2m3 0h1m2 0h1m3 0h1m7 0h2m5 0h1m11 0h1m17 0h1m7 0h2m8 0h1m7 0h3m18 0h1m5 0h1m2 0h1m17 0h1m6 0h1m7 0h1m2 0h1m5 0h1m7 0h3m7 0h1m244 0h1m3 0h1m14 0h1m7 0h5m-540 1h1m19 0h3m16 0h2m4 0h3m2 0h1m11 0h4m11 0h2m11 0h2m3 0h2m14 0h1m5 0h1m13 0h1m6 0h1m9 0h1m9 0h1m5 0h2m7 0h1m6 0h1m8 0h1m8 0h3m2 0h1m10 0h1m8 0h1m4 0h1m24 0h1m9 0h1m242 0h3m21 0h1m4 0h1m3 0h2m-541 1h1m9 0h3m27 0h2m20 0h4m12 0h1m17 0h4m17 0h1m13 0h1m6 0h1m5 0h1m3 0h1m4 0h1m4 0h1m5 0h1m15 0h1m8 0h1m5 0h1m2 0h1m15 0h1m8 0h1m6 0h1m275 0h3m10 0h1m10 0h1m9 0h1m-531 1h3m11 0h1m16 0h1m11 0h1m18 0h1m5 0h3m17 0h2m17 0h1m26 0h1m2 0h1m5 0h1m10 0h1m30 0h1m19 0h1m7 0h1m6 0h1m41 0h1m241 0h1m4 0h1m7 0h1m-526 1h1m8 0h1m12 0h1m24 0h5m18 0h1m5 0h3m18 0h1m47 0h1m16 0h1m38 0h1m11 0h1m9 0h1m34 0h1m11 0h1m241 0h1m12 0h1m10 0h1m-537 1h1m19 0h2m20 0h1m4 0h3m29 0h1m5 0h1m26 0h1m8 0h1m3 0h1m16 0h1m11 0h1m46 0h1m7 0h1m8 0h1m4 0h1m4 0h1m6 0h1m22 0h1m15 0h1m242 0h1m2 0h1m4 0h1m10 0h1m-538 1h1m13 0h1m6 0h2m7 0h1m12 0h1m36 0h1m5 0h1m24 0h3m8 0h1m3 0h1m7 0h1m8 0h1m11 0h1m20 0h1m33 0h1m3 0h1m4 0h1m5 0h1m3 0h1m6 0h1m38 0h2m241 0h1m2 0h1m4 0h1m2 0h1m2 0h1m-533 1h3m11 0h1m7 0h1m4 0h4m12 0h3m47 0h1m17 0h1m7 0h1m3 0h1m9 0h2m3 0h2m4 0h1m18 0h1m12 0h1m37 0h1m10 0h1m25 0h1m24 0h1m240 0h1m11 0h1m2 0h1m-531 1h1m5 0h1m15 0h1m2 0h2m16 0h1m19 0h1m27 0h1m25 0h1m3 0h1m9 0h1m3 0h3m4 0h1m18 0h1m10 0h1m13 0h1m36 0h1m25 0h1m265 0h2m19 0h1m-531 1h1m15 0h1m2 0h3m35 0h1m10 0h1m15 0h1m16 0h1m8 0h1m9 0h2m7 0h1m6 0h1m18 0h3m8 0h1m13 0h1m27 0h1m8 0h1m35 0h1m15 0h1m240 0h1m15 0h1m2 0h2m-510 1h1m42 0h1m3 0h1m7 0h1m7 0h2m15 0h1m8 0h1m9 0h2m33 0h3m16 0h1m33 0h1m44 0h3m13 0h1m233 0h1m22 0h1m2 0h1m-528 1h1m61 0h1m4 0h1m4 0h3m8 0h1m4 0h1m2 0h1m16 0h1m2 0h1m7 0h1m3 0h2m7 0h1m4 0h1m8 0h1m7 0h1m17 0h1m17 0h3m60 0h1m247 0h1m-513 1h1m10 0h2m20 0h1m10 0h1m33 0h1m3 0h2m15 0h1m2 0h1m13 0h1m2 0h1m2 0h1m11 0h2m6 0h2m4 0h1m8 0h1m19 0h1m5 0h1m17 0h3m48 0h1m-253 1h1m11 0h1m20 0h1m10 0h1m37 0h2m14 0h1m17 0h1m25 0h1m7 0h1m9 0h1m16 0h1m5 0h1m17 0h1m50 0h1m3 0h1m268 0h1m-515 1h1m3 0h1m31 0h1m35 0h1m14 0h1m51 0h1m4 0h1m4 0h1m25 0h1m3 0h1m10 0h1m54 0h1m11 0h1m256 0h1m-515 1h1m3 0h1m5 0h1m11 0h1m5 0h1m7 0h3m24 0h1m8 0h2m14 0h1m5 0h1m19 0h1m6 0h3m8 0h1m11 0h3m28 0h1m3 0h1m67 0h1m9 0h1m-269 1h1m20 0h1m11 0h1m5 0h1m9 0h1m14 0h1m9 0h1m5 0h1m3 0h1m14 0h1m5 0h1m19 0h1m6 0h3m8 0h1m13 0h1m16 0h1m19 0h1m22 0h1m40 0h1m279 0h1m-539 1h1m7 0h1m9 0h1m22 0h1m7 0h2m13 0h1m2 0h1m12 0h1m5 0h1m7 0h2m78 0h1m17 0h3m22 0h1m290 0h1m29 0h1m-539 1h1m7 0h1m7 0h3m21 0h2m7 0h2m16 0h1m6 0h1m11 0h1m7 0h2m17 0h2m10 0h1m35 0h1m23 0h1m6 0h1m44 0h1m14 0h1m255 0h1m-506 1h1m12 0h2m2 0h3m17 0h1m33 0h2m17 0h1m5 0h1m13 0h4m8 0h1m21 0h2m12 0h1m23 0h1m6 0h1m42 0h3m14 0h1m272 0h1m-523 1h1m10 0h1m2 0h1m2 0h3m10 0h1m21 0h1m5 0h1m9 0h1m3 0h1m5 0h1m11 0h1m5 0h2m15 0h1m5 0h1m24 0h2m8 0h1m3 0h1m4 0h1m37 0h1m12 0h1m17 0h1m34 0h1m254 0h1m-525 1h1m12 0h1m14 0h1m3 0h1m6 0h1m14 0h1m5 0h1m9 0h1m9 0h1m5 0h1m4 0h1m7 0h1m21 0h1m34 0h1m3 0h1m4 0h1m19 0h1m17 0h1m12 0h1m52 0h1m255 0h1m-526 1h1m14 0h1m12 0h1m2 0h1m7 0h1m6 0h1m4 0h1m34 0h1m4 0h1m10 0h1m30 0h1m51 0h1m41 0h1m297 0h1m8 0h1m-520 1h2m7 0h1m6 0h1m6 0h2m3 0h1m2 0h1m4 0h1m7 0h1m8 0h1m33 0h1m25 0h1m4 0h1m18 0h3m72 0h1m2 0h1m303 0h2m-535 1h1m14 0h1m7 0h3m4 0h1m6 0h2m3 0h1m7 0h1m7 0h1m8 0h1m17 0h1m22 0h1m18 0h1m23 0h3m75 0h1m304 0h1m-535 1h1m24 0h2m3 0h1m4 0h1m6 0h1m7 0h1m32 0h3m2 0h1m19 0h1m11 0h1m24 0h1m5 0h1m61 0h1m11 0h1m-200 1h1m3 0h1m4 0h3m4 0h1m4 0h1m2 0h1m32 0h1m3 0h2m31 0h1m24 0h1m5 0h1m15 0h1m4 0h1m11 0h1m28 0h1m11 0h1m-224 1h1m13 0h1m13 0h1m6 0h1m9 0h1m6 0h1m10 0h1m21 0h1m8 0h1m25 0h1m21 0h1m22 0h1m4 0h1m11 0h1m44 0h1m-230 1h3m13 0h1m17 0h1m19 0h1m10 0h1m10 0h1m19 0h1m25 0h1m21 0h1m44 0h1m39 0h1m300 0h1m-531 1h1m9 0h1m13 0h1m9 0h1m11 0h1m14 0h1m5 0h1m8 0h1m29 0h1m29 0h1m51 0h2m340 0h1m-521 1h2m9 0h1m2 0h1m17 0h1m2 0h2m14 0h1m5 0h1m38 0h1m29 0h1m37 0h1m13 0h1m346 0h1m-529 1h1m3 0h1m9 0h1m7 0h1m12 0h1m2 0h1m13 0h1m41 0h1m72 0h1m2 0h1m357 0h1m-530 1h2m6 0h1m14 0h1m29 0h1m5 0h1m35 0h1m75 0h1m13 0h1m341 0h1m-531 1h4m7 0h1m50 0h1m77 0h1m34 0h1m12 0h1m10 0h1m330 0h1m-531 1h2m37 0h1m100 0h1m18 0h1m15 0h1m23 0h1m-167 1h1m5 0h1m58 0h1m32 0h1m27 0h1m-127 1h1m7 0h1m50 0h1m5 0h1m9 0h1m22 0h1m-129 1h1m6 0h1m30 0h1m50 0h1m3 0h1m11 0h1m421 0h1m-528 1h1m6 0h1m7 0h1m73 0h1m3 0h1m10 0h1m67 0h1m354 0h1m-513 1h1m24 0h1m11 0h1m51 0h1m67 0h1m-160 1h1m26 0h1m11 0h1m28 0h1m-69 1h1m15 0h1m51 0h1m-69 1h1m8 0h1m6 0h1m98 0h1m-116 1h1m8 0h1m105 0h1m33 0h1m-145 1h1m100 0h1m42 0h1m-145 1h1m79 0h1m20 0h1m-117 1h1m28 0h1m65 0h1m35 0h1m-132 1h1m28 0h1m26 0h1m25 0h1m48 0h1m-76 1h1m25 0h1m-42 1h1m36 0h1m54 0h1m-93 1h1m36 0h1m54 0h1m52 2h1m-1 1h1m-157 1h1m-1 1h1m42 1h1m-84 1h1m82 0h1m-84 1h3m116 0h1m-118 1h1m116 0h1m-109 1h1m-1 1h1"/>
<path stroke="#0000ff" d="M227 989h1m-57 1h36m2 0h3m2 0h6m4 0h23m6 0h7m5 0h1m10 0h3m4 0h9m2 0h3m4 0h1m2 0h1m6 0h3m6 0h3m2 0h1m2 0h1m3 0h1m2 0h1m5 0h1m7 0h1m3 0h1m-184 1h187m2 0h17m2 0h1m2 0h1m2 0h8m4 0h2m3 0h1m5 0h2m2 0h1m9 0h1m-252 1h255m4 0h5m4 0h1m-269 1h286m-286 1h303m3 0h1m-307 1h312m2 0h1m-315 1h327m-327 1h337m-337 1h343m2 0h2m-347 1h354m-354 1h22m2 0h337m-361 1h4m2 0h10m2 0h1m2 0h1m3 0h50m4 0h1m2 0h1m2 0h3m2 0h4m7 0h10m3 0h14m2 0h35m2 0h1m3 0h3m2 0h13m2 0h175m2 0h1m-360 1h1m5 0h1m2 0h1m2 0h1m8 0h6m4 0h2m4 0h1m4 0h1m3 0h2m4 0h1m2 0h1m6 0h3m13 0h1m2 0h3m27 0h7m8 0h5m5 0h4m4 0h6m4 0h1m3 0h1m8 0h2m2 0h9m2 0h4m2 0h8m2 0h17m2 0h5m2 0h7m2 0h127m-337 1h1m38 0h3m18 0h1m60 0h1m13 0h1m14 0h1m3 0h1m4 0h1m6 0h1m12 0h6m3 0h3m5 0h1m8 0h2m5 0h1m2 0h129m-156 1h1m34 0h3m3 0h3m7 0h3m2 0h1m2 0h8m2 0h93m-106 1h1m9 0h1m2 0h5m2 0h88m2 0h1m-85 1h3m4 0h3m2 0h76m-71 1h71m2 0h1m-70 1h1m5 0h68m-56 1h2m2 0h52m3 0h1m-59 1h1m5 0h56m-54 1h1m5 0h51m-49 1h1m4 0h48m-45 1h46m-46 1h2m2 0h1m2 0h41m-39 1h44m-38 1h39m-36 1h39m-38 1h42m-36 1h2m2 0h32m-31 1h35m-35 1h2m3 0h32m-30 1h32m-32 1h2m2 0h29m-29 1h32m-27 1h30m-28 1h30m-27 1h28m-25 1h26m-26 1h28m-27 1h31m-26 1h27m-25 1h26m-24 1h27m-26 1h29m-28 1h28m-28 1h1m2 0h27m-23 1h23m-21 1h23m-22 1h24m-25 1h2m2 0h24m-28 1h1m3 0h24m-23 1h23m2 0h1m-23 1h23m-23 1h24m-20 1h21m-21 1h21m2 0h1m-24 1h25m-24 1h26m-24 1h25m-22 1h22m-21 1h23m-20 1h21m-21 1h23m-22 1h23m-22 1h24m-22 1h25m-24 1h24m-23 1h24m-23 1h24m-24 1h2m2 0h20m-19 1h21m-20 1h22m-23 1h23m-23 1h24m-21 1h21m-19 1h21m-22 1h24m-24 1h1m2 0h22m-22 1h23m-23 1h1m2 0h20m-19 1h20m-20 1h22m-22 1h22m-21 1h23m-21 1h22m-22 1h24m-22 1h22m-20 1h20m-22 1h25m-25 1h27m-22 1h22m-21 1h21m-20 1h20m-19 1h22m-21 1h22m-21 1h22m-22 1h22m-22 1h24m-23 1h24m-23 1h23m-22 1h22m-20 1h20m-20 1h1m2 0h21m-21 1h21m-22 1h24m-24 1h26m-26 1h26m-26 1h26m-24 1h26m-25 1h25m-25 1h27m-22 1h22m-22 1h21m-21 1h25m-25 1h25m-25 1h25m-25 1h25m-22 1h22m-22 1h23m-22 1h22m-22 1h22m-21 1h21m-19 1h19m-19 1h19m-19 1h19m-18 1h18m-18 1h18m-16 1h16m-17 1h17m-17 1h1m2 0h14m-15 1h15m-15 1h14m-13 1h14m-14 1h1m2 0h11m-11 1h11m-9 1h9m-9 1h9m-9 1h9m-9 1h8m-8 1h9m-6 1h6m-6 1h6m-6 1h6m-5 1h5m-6 1h6m-6 1h5m-5 1h5m-6 1h1m3 0h3m-7 1h1m3 0h3m-2 3h1m-1 1h1m0 1h1m-1 1h1"/>
</g>
<g stroke="#000" stroke-width="0.3" stroke-linejoin="round">
<text x="141.86" y="1399.07" font-size="31.33">10<tspan x="185.39" y="1375.5" font-size="23.37">-4</tspan></text>
<text x="331.66" y="1399.07" font-size="31.33">10<tspan x="375.19" y="1375.5" font-size="23.37">-3</tspan></text>
<text x="521.46" y="1399.07" font-size="31.33">10<tspan x="564.99" y="1375.5" font-size="23.37">-2</tspan></text>
<text x="711.26" y="1399.07" font-size="31.33">10<tspan x="754.79" y="1375.5" font-size="23.37">-1</tspan></text>
<text x="92.54" y="1350.34" font-size="31.33">10<tspan x="139.64" y="1321.89" font-size="23.37">-3</tspan></text>
<text x="92.54" y="1092.62" font-size="31.33">10<tspan x="139.64" y="1064.18" font-size="23.37">-2</tspan></text>
<text x="92.54" y="834.91" font-size="31.33">10<tspan x="139.64" y="806.47" font-size="23.37">-1</tspan></text>
<text x="740.65" y="1429" font-size="31.33" text-anchor="end">m<tspan font-size="21.38" dy="9.95">1</tspan><tspan dy="-9.95"> (eV)</tspan></text>
<text transform="translate(70.76 996.71) rotate(-90) scale(0.9945)" font-size="32"><tspan x="0" y="0" font-size="32">M</tspan><tspan x="27.4" y="10.4" font-size="24" class="s">ν</tspan><tspan x="38.6" y="2.8" font-size="32">=</tspan><tspan x="56.29" y="0.6" font-size="34.5">√</tspan><tspan x="74.46" y="0" font-size="32">2 </tspan><tspan x="101.6" y="0" font-size="31">v</tspan><tspan x="116.3" y="10.8" font-size="22.5" class="s">Δ </tspan><tspan x="138.6" y="0" font-size="33.5" class="s">Γ</tspan><tspan x="158.2" y="13" font-size="22">++ </tspan><tspan x="193.6" y="0" font-size="31.3">(eV)</tspan></text>
<text x="227.29" y="834.2" font-size="31.82">NH</text>
<text x="227.29" y="969.3" font-size="31.82" fill="#0000de" stroke="#0000de">M<tspan class="s" font-size="23.37" dy="9.95">ν</tspan><tspan font-size="22.38" dy="-15.51">23</tspan></text>
<text x="227.29" y="1091.4" font-size="31.82">M<tspan class="s" font-size="23.37" dy="9.95">ν</tspan><tspan font-size="22.38" dy="-15.51">12</tspan></text>
<text x="359.79" y="1091.4" font-size="31.82" fill="#e0000c" stroke="#e0000c">M<tspan class="s" font-size="23.37" dy="9.95">ν</tspan><tspan font-size="22.38" dy="-15.51">13</tspan></text>
<text x="6.85" y="759" font-size="33" font-weight="bold">C</text>
</g>
</g>
<g id="panel-D">
<rect x="959.9" y="739.2" width="574.7" height="599.1" fill="none" stroke="#000" stroke-width="3"/>
<path d="M1017.27 1338.3v-7.32M1017.27 739.2v7.32M1051 1338.3v-7.32M1051 739.2v7.32M1074.93 1338.3v-7.32M1074.93 739.2v7.32M1093.5 1338.3v-7.32M1093.5 739.2v7.32M1108.67 1338.3v-7.32M1108.67 739.2v7.32M1121.49 1338.3v-7.32M1121.49 739.2v7.32M1132.6 1338.3v-7.32M1132.6 739.2v7.32M1142.4 1338.3v-7.32M1142.4 739.2v7.32M1151.17 1338.3v-14.34M1151.17 739.2v14.34M1208.83 1338.3v-7.32M1208.83 739.2v7.32M1242.57 1338.3v-7.32M1242.57 739.2v7.32M1266.5 1338.3v-7.32M1266.5 739.2v7.32M1285.07 1338.3v-7.32M1285.07 739.2v7.32M1300.23 1338.3v-7.32M1300.23 739.2v7.32M1313.06 1338.3v-7.32M1313.06 739.2v7.32M1324.17 1338.3v-7.32M1324.17 739.2v7.32M1333.97 1338.3v-7.32M1333.97 739.2v7.32M1342.73 1338.3v-14.34M1342.73 739.2v14.34M1400.4 1338.3v-7.32M1400.4 739.2v7.32M1434.13 1338.3v-7.32M1434.13 739.2v7.32M1458.07 1338.3v-7.32M1458.07 739.2v7.32M1476.63 1338.3v-7.32M1476.63 739.2v7.32M1491.8 1338.3v-7.32M1491.8 739.2v7.32M1504.63 1338.3v-7.32M1504.63 739.2v7.32M1515.74 1338.3v-7.32M1515.74 739.2v7.32M1525.53 1338.3v-7.32M1525.53 739.2v7.32M959.9 1259.92h7.32M1534.6 1259.92h-7.32M959.9 1214.08h7.32M1534.6 1214.08h-7.32M959.9 1181.55h7.32M1534.6 1181.55h-7.32M959.9 1156.32h7.32M1534.6 1156.32h-7.32M959.9 1135.7h7.32M1534.6 1135.7h-7.32M959.9 1118.27h7.32M1534.6 1118.27h-7.32M959.9 1103.17h7.32M1534.6 1103.17h-7.32M959.9 1089.85h7.32M1534.6 1089.85h-7.32M959.9 1077.94h14.34M1534.6 1077.94h-14.34M959.9 999.56h7.32M1534.6 999.56h-7.32M959.9 953.71h7.32M1534.6 953.71h-7.32M959.9 921.18h7.32M1534.6 921.18h-7.32M959.9 895.95h7.32M1534.6 895.95h-7.32M959.9 875.34h7.32M1534.6 875.34h-7.32M959.9 857.91h7.32M1534.6 857.91h-7.32M959.9 842.81h7.32M1534.6 842.81h-7.32M959.9 829.49h7.32M1534.6 829.49h-7.32M959.9 817.58h14.34M1534.6 817.58h-14.34" fill="none" stroke="#000" stroke-width="2.2"/>
<g transform="translate(1 1)" fill="none" stroke-width="1.4" stroke-linecap="square">
<path stroke="#000" d="M1498 1012h1m-1 1h1m-2 3h1m-3 1h3m-3 1h1m-2 1h1m2 0h1m-4 1h4m-7 1h1m3 0h1m-5 1h1m3 0h2m-8 1h3m3 0h2m-8 1h1m4 0h4m-10 1h1m2 0h1m2 0h1m2 0h2m-11 1h4m3 0h1m2 0h1m-11 1h3m2 0h3m2 0h1m-11 1h1m3 0h7m-12 1h3m2 0h6m-13 1h14m-14 1h2m4 0h8m-18 1h1m4 0h3m2 0h6m-19 1h1m2 0h2m2 0h4m2 0h6m-19 1h13m3 0h3m-19 1h3m2 0h16m-20 1h3m2 0h15m-23 1h2m2 0h18m-22 1h2m2 0h1m2 0h15m-22 1h3m3 0h16m-28 1h1m2 0h6m3 0h6m2 0h8m-28 1h1m2 0h6m3 0h6m2 0h2m2 0h5m-27 1h1m2 0h3m2 0h7m2 0h10m-27 1h1m2 0h2m3 0h18m-27 1h1m4 0h1m3 0h5m2 0h7m-27 1h1m3 0h17m2 0h2m2 0h3m-30 1h1m2 0h22m2 0h3m-27 1h3m3 0h1m2 0h20m-29 1h3m3 0h5m4 0h14m-35 1h4m3 0h1m2 0h8m2 0h5m2 0h4m-31 1h5m2 0h1m2 0h23m-33 1h7m3 0h23m-39 1h1m5 0h3m2 0h29m-40 1h1m6 0h5m2 0h26m-40 1h3m2 0h21m2 0h5m3 0h3m-40 1h4m2 0h4m2 0h3m2 0h10m2 0h3m3 0h3m-38 1h2m3 0h16m2 0h9m2 0h7m-42 1h3m3 0h30m2 0h4m-42 1h1m2 0h1m4 0h8m3 0h23m-45 1h1m2 0h1m2 0h4m2 0h2m2 0h30m-49 1h1m2 0h5m2 0h3m2 0h2m2 0h11m3 0h16m-49 1h1m2 0h9m3 0h3m2 0h10m2 0h7m2 0h7m-52 1h1m2 0h1m3 0h1m5 0h9m2 0h17m5 0h1m2 0h3m-52 1h7m2 0h1m2 0h10m2 0h22m4 0h1m-56 1h1m4 0h35m2 0h2m3 0h6m-53 1h1m4 0h29m2 0h17m2 0h1m-55 1h3m2 0h11m2 0h15m2 0h15m4 0h1m-55 1h10m2 0h4m2 0h4m2 0h5m2 0h23m-51 1h4m2 0h7m2 0h36m-52 1h4m4 0h2m3 0h22m5 0h1m2 0h9m-55 1h6m2 0h5m3 0h9m2 0h6m2 0h3m5 0h9m2 0h3m-63 1h1m5 0h6m2 0h5m2 0h3m2 0h5m2 0h9m5 0h5m8 0h4m-69 1h1m4 0h1m5 0h45m2 0h1m6 0h1m2 0h1m-69 1h1m2 0h1m2 0h3m2 0h50m4 0h3m-68 1h1m2 0h7m3 0h48m4 0h3m-68 1h1m2 0h3m2 0h2m4 0h24m3 0h1m3 0h11m2 0h5m3 0h1m-68 1h1m2 0h5m2 0h1m2 0h13m2 0h5m2 0h4m3 0h2m3 0h1m2 0h9m3 0h7m-74 1h2m3 0h16m4 0h17m4 0h3m4 0h21m-75 1h3m4 0h3m2 0h22m2 0h1m2 0h4m2 0h4m5 0h3m2 0h5m2 0h6m-72 1h1m2 0h1m3 0h3m3 0h20m2 0h2m4 0h1m3 0h4m7 0h1m2 0h9m3 0h1m-77 1h1m7 0h2m3 0h41m2 0h2m6 0h9m5 0h1m-79 1h1m8 0h1m3 0h39m3 0h3m4 0h6m3 0h8m-80 1h1m8 0h1m2 0h34m2 0h4m4 0h13m2 0h7m2 0h1m-87 1h1m4 0h2m7 0h21m2 0h8m2 0h5m2 0h4m3 0h9m2 0h2m3 0h3m3 0h4m-87 1h1m2 0h4m7 0h12m2 0h7m2 0h21m2 0h7m5 0h8m3 0h4m-84 1h1m3 0h5m2 0h11m3 0h36m3 0h2m2 0h5m3 0h4m2 0h1m-79 1h5m5 0h29m2 0h13m2 0h1m3 0h5m2 0h3m3 0h3m2 0h3m-84 1h1m3 0h5m2 0h7m2 0h25m2 0h3m2 0h6m2 0h1m2 0h3m6 0h2m3 0h1m4 0h2m-84 1h1m6 0h2m2 0h4m2 0h10m2 0h21m3 0h8m2 0h5m2 0h1m2 0h1m3 0h1m2 0h4m-94 1h1m7 0h1m4 0h6m2 0h5m2 0h12m2 0h1m2 0h2m2 0h9m4 0h7m7 0h2m2 0h4m3 0h1m2 0h4m-102 1h1m7 0h1m2 0h1m2 0h5m2 0h40m3 0h1m2 0h1m2 0h8m5 0h10m5 0h2m-100 1h1m7 0h1m2 0h1m2 0h43m4 0h4m2 0h7m3 0h1m3 0h9m2 0h1m4 0h3m-87 1h34m2 0h7m2 0h16m3 0h1m3 0h1m2 0h1m4 0h1m2 0h3m2 0h4m-88 1h6m2 0h25m3 0h7m2 0h3m2 0h10m2 0h5m4 0h4m2 0h7m2 0h2m-90 1h1m2 0h4m3 0h2m4 0h1m2 0h15m2 0h9m2 0h3m2 0h13m3 0h1m2 0h1m2 0h6m2 0h1m2 0h1m3 0h1m-104 1h1m3 0h2m8 0h1m2 0h4m4 0h4m2 0h8m3 0h17m2 0h3m2 0h7m2 0h6m4 0h3m4 0h1m6 0h2m2 0h1m-106 1h3m3 0h4m6 0h1m5 0h1m2 0h1m2 0h6m2 0h25m2 0h2m3 0h7m5 0h6m3 0h1m7 0h9m-106 1h3m4 0h26m2 0h22m2 0h7m3 0h8m2 0h2m3 0h2m6 0h1m3 0h6m2 0h2m-113 1h1m3 0h1m3 0h2m2 0h4m2 0h22m2 0h16m2 0h17m2 0h2m2 0h7m3 0h1m3 0h15m-118 1h1m5 0h1m3 0h1m3 0h1m3 0h6m2 0h2m2 0h9m2 0h19m2 0h14m4 0h6m3 0h8m2 0h1m2 0h6m3 0h1m4 0h1m-117 1h1m4 0h1m8 0h1m3 0h1m3 0h11m3 0h7m2 0h8m2 0h5m2 0h13m4 0h6m2 0h3m2 0h7m3 0h1m2 0h2m10 0h1m-117 1h5m3 0h1m3 0h2m2 0h14m2 0h28m2 0h3m2 0h6m2 0h8m3 0h3m4 0h1m2 0h2m4 0h2m6 0h1m5 0h1m-118 1h6m2 0h32m2 0h20m2 0h4m2 0h15m3 0h3m5 0h2m2 0h7m4 0h1m3 0h1m-119 1h1m2 0h17m2 0h18m5 0h6m2 0h5m2 0h1m3 0h10m2 0h5m2 0h5m3 0h3m5 0h7m2 0h2m3 0h6m2 0h1m-129 1h1m6 0h10m2 0h8m4 0h19m2 0h11m4 0h14m2 0h12m3 0h1m5 0h11m5 0h5m2 0h2m-129 1h2m5 0h6m7 0h8m2 0h35m3 0h17m3 0h1m3 0h3m2 0h2m2 0h1m2 0h7m3 0h3m3 0h8m-141 1h1m10 0h1m2 0h3m4 0h6m2 0h1m2 0h55m2 0h1m4 0h3m3 0h1m5 0h11m2 0h11m3 0h8m-148 1h1m6 0h1m10 0h1m3 0h12m2 0h29m4 0h36m2 0h13m3 0h2m4 0h8m6 0h6m-149 1h1m10 0h2m9 0h6m2 0h14m2 0h59m3 0h5m3 0h4m4 0h7m5 0h2m9 0h2m-138 1h4m7 0h2m2 0h18m2 0h33m2 0h24m2 0h4m2 0h1m2 0h1m2 0h1m6 0h7m4 0h3m2 0h1m4 0h2m-140 1h1m4 0h3m3 0h24m2 0h20m2 0h8m5 0h17m4 0h8m3 0h3m3 0h1m5 0h8m5 0h2m2 0h2m3 0h2m-152 1h1m8 0h1m2 0h1m4 0h4m2 0h78m3 0h10m4 0h1m2 0h2m3 0h4m2 0h7m2 0h1m2 0h8m-152 1h1m2 0h2m2 0h3m4 0h1m2 0h1m2 0h1m2 0h14m2 0h33m2 0h2m2 0h8m2 0h8m3 0h2m2 0h20m3 0h4m2 0h20m-159 1h1m9 0h2m2 0h2m3 0h3m2 0h1m2 0h1m4 0h38m3 0h23m2 0h2m2 0h9m3 0h1m3 0h1m2 0h6m4 0h4m2 0h7m2 0h1m2 0h5m2 0h3m-167 1h1m7 0h1m12 0h74m4 0h5m2 0h13m4 0h1m2 0h1m2 0h1m9 0h2m3 0h8m2 0h1m2 0h5m2 0h3m-167 1h1m4 0h1m8 0h8m3 0h1m2 0h59m2 0h16m2 0h6m2 0h3m2 0h1m2 0h4m2 0h1m2 0h1m5 0h3m2 0h5m2 0h2m2 0h8m2 0h2m-165 1h1m3 0h1m6 0h10m6 0h17m2 0h2m2 0h36m2 0h11m2 0h3m2 0h1m3 0h10m3 0h11m3 0h2m3 0h1m2 0h5m3 0h2m3 0h3m3 0h1m-168 1h5m2 0h5m2 0h7m2 0h1m6 0h11m2 0h46m2 0h19m2 0h5m2 0h7m2 0h9m2 0h3m5 0h8m2 0h1m4 0h1m-163 1h12m2 0h1m2 0h5m2 0h2m4 0h3m2 0h1m2 0h14m2 0h35m2 0h2m2 0h3m3 0h16m4 0h5m7 0h9m4 0h12m2 0h5m3 0h1m-187 1h1m10 0h1m8 0h10m2 0h14m2 0h6m2 0h47m2 0h9m4 0h17m4 0h2m8 0h4m2 0h4m4 0h9m2 0h2m2 0h5m3 0h1m-211 1h1m22 0h2m10 0h1m8 0h8m2 0h16m2 0h66m3 0h11m2 0h5m2 0h1m2 0h1m4 0h5m2 0h1m3 0h2m3 0h11m2 0h9m-211 1h1m3 0h1m19 0h1m2 0h1m5 0h1m6 0h1m2 0h1m2 0h51m3 0h23m2 0h7m3 0h1m2 0h4m3 0h8m2 0h2m3 0h17m2 0h14m2 0h1m2 0h14m-212 1h1m7 0h1m5 0h1m4 0h8m2 0h1m3 0h1m6 0h1m2 0h1m2 0h3m2 0h12m3 0h30m2 0h4m2 0h5m3 0h1m3 0h14m3 0h2m2 0h6m2 0h5m2 0h2m2 0h1m4 0h13m5 0h4m2 0h4m11 0h4m2 0h6m-204 1h1m3 0h3m4 0h11m2 0h2m9 0h5m3 0h28m2 0h34m2 0h22m2 0h2m2 0h5m3 0h1m4 0h1m2 0h4m3 0h1m3 0h1m2 0h1m7 0h6m9 0h1m4 0h1m2 0h1m-237 1h1m7 0h1m24 0h1m5 0h1m2 0h2m3 0h6m3 0h4m2 0h7m2 0h14m2 0h11m2 0h16m2 0h27m2 0h6m2 0h7m2 0h2m2 0h1m2 0h2m2 0h1m7 0h1m2 0h3m3 0h2m3 0h6m2 0h2m4 0h3m2 0h3m2 0h2m2 0h1m2 0h4m5 0h2m4 0h2m-262 1h1m16 0h1m7 0h1m14 0h2m4 0h2m2 0h1m3 0h4m4 0h7m3 0h4m2 0h8m2 0h24m2 0h1m2 0h54m2 0h2m2 0h2m2 0h2m3 0h1m5 0h2m3 0h1m2 0h8m4 0h7m2 0h4m3 0h1m4 0h2m3 0h5m4 0h2m3 0h11m-263 1h1m2 0h1m9 0h1m7 0h1m7 0h1m10 0h2m2 0h5m3 0h8m2 0h1m2 0h11m2 0h5m2 0h19m3 0h8m2 0h40m2 0h21m2 0h8m2 0h8m2 0h6m4 0h7m2 0h4m3 0h1m3 0h4m3 0h6m2 0h1m2 0h4m3 0h6m-277 1h1m16 0h1m9 0h3m2 0h1m2 0h1m5 0h4m6 0h1m6 0h5m3 0h10m3 0h10m3 0h86m3 0h23m4 0h6m2 0h8m4 0h2m2 0h9m3 0h6m3 0h23m-523 1h1m170 0h1m27 0h1m46 0h2m8 0h1m14 0h1m4 0h1m2 0h4m3 0h3m2 0h1m4 0h3m4 0h28m2 0h36m2 0h6m3 0h41m2 0h2m2 0h4m2 0h13m2 0h1m5 0h5m2 0h4m2 0h4m3 0h3m2 0h10m2 0h3m2 0h1m3 0h4m2 0h6m2 0h7m-521 1h1m12 0h1m14 0h3m2 0h1m25 0h1m4 0h1m63 0h1m40 0h4m13 0h1m12 0h1m19 0h1m4 0h1m8 0h5m8 0h2m8 0h1m6 0h1m2 0h1m3 0h6m2 0h13m5 0h145m3 0h3m2 0h6m5 0h34m3 0h6m3 0h2m2 0h5m2 0h2m3 0h1m-536 1h1m8 0h2m15 0h1m14 0h7m3 0h1m3 0h1m2 0h2m3 0h1m4 0h1m3 0h1m4 0h2m5 0h1m41 0h1m3 0h1m2 0h1m6 0h2m10 0h1m5 0h1m2 0h1m7 0h1m12 0h1m2 0h1m5 0h1m2 0h1m4 0h1m10 0h1m7 0h2m12 0h1m2 0h3m8 0h5m2 0h2m11 0h2m4 0h5m2 0h1m3 0h22m4 0h39m2 0h101m6 0h3m2 0h4m3 0h20m2 0h10m2 0h5m2 0h18m2 0h2m3 0h1m-536 1h1m6 0h6m7 0h1m5 0h1m2 0h1m3 0h2m2 0h3m4 0h1m2 0h5m2 0h6m2 0h2m2 0h4m3 0h2m3 0h3m2 0h2m8 0h1m4 0h5m4 0h1m11 0h1m2 0h9m2 0h1m3 0h4m2 0h1m6 0h3m2 0h4m2 0h1m3 0h2m2 0h1m14 0h3m4 0h1m2 0h1m4 0h2m2 0h1m6 0h3m5 0h2m3 0h1m3 0h1m7 0h1m3 0h2m3 0h2m2 0h9m2 0h5m2 0h2m2 0h5m5 0h6m2 0h14m2 0h5m3 0h12m2 0h4m2 0h13m2 0h79m2 0h20m2 0h1m2 0h4m2 0h1m2 0h4m3 0h4m2 0h14m3 0h1m2 0h6m2 0h2m2 0h2m2 0h7m2 0h12m-532 1h1m2 0h2m2 0h8m3 0h4m2 0h6m3 0h7m4 0h1m4 0h26m5 0h1m2 0h3m7 0h1m2 0h7m3 0h2m2 0h1m3 0h1m4 0h11m3 0h15m2 0h7m5 0h1m2 0h2m4 0h3m4 0h1m5 0h3m3 0h1m3 0h7m2 0h1m7 0h7m3 0h8m4 0h1m5 0h2m2 0h14m2 0h17m2 0h7m2 0h10m2 0h3m2 0h5m2 0h19m5 0h102m2 0h18m4 0h2m2 0h8m2 0h7m2 0h5m3 0h4m2 0h3m2 0h10m5 0h1m2 0h1m2 0h3m2 0h4m-532 1h11m2 0h33m2 0h23m2 0h4m3 0h18m4 0h49m2 0h1m3 0h16m2 0h25m2 0h4m4 0h12m2 0h4m4 0h3m2 0h47m2 0h3m3 0h165m3 0h1m4 0h4m3 0h3m9 0h7m2 0h1m3 0h6m2 0h9m3 0h1m2 0h1m2 0h1m6 0h2m-533 1h72m2 0h8m3 0h81m2 0h55m2 0h4m2 0h1m2 0h10m2 0h23m2 0h19m2 0h27m2 0h88m2 0h22m3 0h6m2 0h15m3 0h1m3 0h4m3 0h5m6 0h8m4 0h10m2 0h11m5 0h6m4 0h1m-535 1h8m2 0h62m2 0h8m3 0h11m2 0h72m2 0h67m2 0h169m3 0h6m2 0h12m4 0h5m2 0h15m3 0h2m4 0h1m4 0h19m4 0h18m2 0h5m2 0h9m2 0h1m-537 1h167m2 0h124m2 0h127m2 0h2m4 0h4m4 0h4m3 0h9m4 0h4m3 0h1m2 0h3m2 0h13m3 0h6m5 0h3m4 0h7m4 0h2m2 0h1m2 0h5m3 0h2m2 0h1m-538 1h27m2 0h331m2 0h29m2 0h22m2 0h5m3 0h2m2 0h7m2 0h1m2 0h1m3 0h2m2 0h7m3 0h6m3 0h11m4 0h1m2 0h1m4 0h6m3 0h3m2 0h9m4 0h1m7 0h5m3 0h1m2 0h1m-539 1h420m6 0h7m2 0h2m2 0h3m4 0h11m2 0h21m3 0h5m3 0h1m3 0h9m2 0h9m2 0h5m3 0h9m4 0h1m-539 1h381m2 0h41m2 0h3m2 0h2m2 0h8m3 0h4m3 0h23m2 0h3m2 0h1m2 0h1m3 0h11m3 0h11m2 0h14m2 0h3m-535 1h86m2 0h264m2 0h26m2 0h51m3 0h1m2 0h4m2 0h19m2 0h7m2 0h5m2 0h8m2 0h9m2 0h6m3 0h1m5 0h2m2 0h7m4 0h4m-538 1h373m3 0h58m2 0h2m3 0h3m2 0h15m2 0h1m2 0h3m2 0h3m2 0h5m2 0h7m5 0h7m3 0h2m3 0h4m4 0h4m6 0h2m3 0h5m-538 1h414m3 0h34m4 0h2m2 0h2m2 0h4m4 0h1m3 0h6m3 0h1m2 0h2m3 0h1m4 0h2m6 0h1m4 0h3m5 0h4m6 0h2m3 0h5m-538 1h414m2 0h14m2 0h16m2 0h1m4 0h2m5 0h10m3 0h7m2 0h1m6 0h2m10 0h6m5 0h3m3 0h1m7 0h1m3 0h1m3 0h2m-538 1h393m2 0h18m2 0h33m2 0h1m4 0h1m2 0h14m3 0h1m2 0h6m3 0h1m2 0h2m3 0h3m2 0h4m2 0h3m5 0h7m3 0h5m3 0h2m2 0h3m-539 1h364m2 0h47m2 0h24m4 0h2m2 0h1m2 0h1m4 0h17m3 0h5m2 0h2m2 0h2m2 0h2m3 0h3m2 0h3m3 0h7m5 0h3m2 0h5m5 0h6m-539 1h425m2 0h21m3 0h1m3 0h7m5 0h5m3 0h4m3 0h6m2 0h1m4 0h4m2 0h3m3 0h6m3 0h2m4 0h17m-539 1h408m2 0h10m2 0h9m3 0h30m4 0h9m4 0h18m3 0h2m3 0h1m2 0h2m2 0h4m4 0h4m3 0h6m3 0h1m-539 1h442m2 0h6m2 0h12m4 0h14m3 0h1m2 0h1m3 0h6m2 0h4m3 0h1m2 0h17m4 0h7m-538 1h402m2 0h26m2 0h8m3 0h2m5 0h2m2 0h9m4 0h18m7 0h17m3 0h3m3 0h10m2 0h1m4 0h3m-538 1h412m2 0h12m2 0h2m3 0h2m2 0h10m2 0h25m2 0h2m3 0h5m3 0h14m2 0h10m3 0h6m2 0h2m2 0h3m4 0h1m-537 1h376m2 0h46m3 0h1m2 0h27m3 0h13m2 0h2m4 0h1m2 0h18m2 0h10m3 0h5m3 0h7m2 0h1m-536 1h402m2 0h21m4 0h9m2 0h14m7 0h12m2 0h1m4 0h1m3 0h6m2 0h4m2 0h1m3 0h1m2 0h1m4 0h1m5 0h6m4 0h10m-536 1h402m2 0h21m4 0h19m2 0h6m3 0h1m2 0h11m2 0h1m2 0h4m2 0h3m2 0h4m5 0h2m4 0h2m2 0h12m4 0h4m3 0h5m-536 1h406m2 0h10m3 0h1m2 0h16m3 0h5m2 0h1m2 0h4m2 0h1m2 0h11m2 0h7m3 0h8m2 0h22m2 0h6m2 0h8m2 0h1m-538 1h417m3 0h13m2 0h4m2 0h4m3 0h2m3 0h7m2 0h15m2 0h3m4 0h7m2 0h13m8 0h2m2 0h3m4 0h8m2 0h1m-538 1h417m2 0h14m2 0h43m2 0h13m2 0h5m4 0h3m2 0h5m3 0h10m3 0h4m-534 1h430m2 0h1m2 0h8m2 0h23m4 0h15m2 0h2m2 0h7m3 0h11m2 0h11m3 0h3m-533 1h433m2 0h5m2 0h4m2 0h16m3 0h5m2 0h12m3 0h2m2 0h17m2 0h2m2 0h1m3 0h5m5 0h3m2 0h1m-536 1h415m2 0h15m3 0h5m3 0h4m2 0h1m2 0h1m2 0h11m2 0h4m2 0h13m3 0h1m2 0h11m3 0h7m7 0h5m2 0h3m3 0h2m-536 1h433m2 0h15m2 0h9m2 0h3m2 0h4m4 0h4m2 0h1m2 0h3m2 0h14m2 0h12m4 0h8m2 0h3m2 0h3m-540 1h410m2 0h4m2 0h17m2 0h37m2 0h1m2 0h1m2 0h1m2 0h7m2 0h2m3 0h5m2 0h7m2 0h4m4 0h4m2 0h1m2 0h2m2 0h4m-540 1h436m2 0h20m2 0h23m6 0h1m5 0h1m3 0h11m3 0h8m2 0h4m6 0h6m-539 1h184m2 0h247m2 0h1m3 0h21m2 0h5m2 0h17m12 0h1m3 0h6m3 0h7m2 0h6m8 0h5m-539 1h59m2 0h372m2 0h1m2 0h4m2 0h1m2 0h13m2 0h5m2 0h4m3 0h2m2 0h6m9 0h4m3 0h5m4 0h2m2 0h10m6 0h1m2 0h5m-538 1h216m2 0h197m2 0h55m2 0h8m3 0h6m3 0h3m4 0h5m5 0h1m6 0h6m6 0h5m2 0h2m-539 1h36m2 0h89m2 0h17m2 0h68m2 0h245m4 0h1m2 0h1m3 0h8m3 0h7m2 0h1m6 0h2m2 0h1m4 0h1m11 0h2m2 0h1m4 0h4m2 0h2m-539 1h75m2 0h61m2 0h76m2 0h225m2 0h18m2 0h4m2 0h3m5 0h1m5 0h10m3 0h1m2 0h12m3 0h1m4 0h6m5 0h2m3 0h1m-538 1h31m2 0h13m3 0h79m2 0h92m3 0h47m2 0h4m2 0h132m2 0h33m3 0h19m2 0h9m6 0h9m2 0h2m2 0h12m2 0h4m2 0h1m2 0h3m3 0h2m2 0h1m-535 1h28m2 0h2m2 0h15m2 0h5m2 0h69m3 0h26m2 0h45m3 0h45m2 0h16m2 0h70m2 0h104m5 0h17m2 0h9m2 0h9m2 0h2m2 0h1m3 0h4m2 0h2m3 0h1m2 0h4m2 0h3m6 0h5m2 0h1m-538 1h21m2 0h9m3 0h21m2 0h17m2 0h17m2 0h21m2 0h13m3 0h21m2 0h9m2 0h1m3 0h16m2 0h13m2 0h12m2 0h30m2 0h6m2 0h8m5 0h4m2 0h129m2 0h12m2 0h1m2 0h4m2 0h8m2 0h1m3 0h2m2 0h1m2 0h9m3 0h3m2 0h4m4 0h1m2 0h4m3 0h5m4 0h2m2 0h3m5 0h10m3 0h1m2 0h1m2 0h6m2 0h1m-538 1h8m2 0h24m3 0h34m2 0h7m3 0h7m2 0h7m2 0h12m2 0h1m3 0h3m2 0h2m2 0h1m2 0h17m3 0h16m2 0h48m4 0h29m2 0h17m4 0h11m2 0h4m2 0h11m2 0h32m2 0h86m2 0h18m2 0h6m5 0h3m3 0h6m2 0h4m8 0h2m3 0h4m5 0h2m2 0h1m2 0h1m4 0h12m3 0h6m3 0h2m2 0h1m-539 1h1m4 0h1m4 0h5m2 0h12m2 0h4m3 0h1m3 0h7m3 0h16m6 0h6m3 0h2m6 0h6m4 0h7m3 0h5m3 0h7m3 0h10m3 0h6m3 0h3m2 0h5m2 0h2m2 0h1m2 0h14m5 0h27m5 0h1m2 0h5m3 0h6m3 0h10m2 0h13m2 0h1m3 0h16m4 0h28m2 0h15m3 0h14m2 0h47m2 0h40m2 0h13m2 0h8m4 0h3m7 0h2m3 0h6m3 0h1m2 0h2m2 0h1m2 0h6m2 0h12m2 0h1m3 0h2m2 0h1m-539 1h2m7 0h6m2 0h4m2 0h6m2 0h8m3 0h3m2 0h2m3 0h7m4 0h3m3 0h1m2 0h10m3 0h1m4 0h4m2 0h1m3 0h5m2 0h2m2 0h1m2 0h3m2 0h7m2 0h8m2 0h7m2 0h5m3 0h1m2 0h2m2 0h13m4 0h1m3 0h6m2 0h15m3 0h14m2 0h14m3 0h15m3 0h16m2 0h2m2 0h7m3 0h3m2 0h162m2 0h19m4 0h1m2 0h5m2 0h1m3 0h1m2 0h10m2 0h1m5 0h5m6 0h5m-535 1h7m2 0h1m6 0h1m3 0h1m2 0h1m4 0h1m2 0h1m3 0h3m3 0h1m2 0h1m2 0h2m13 0h3m2 0h3m2 0h3m3 0h4m3 0h2m2 0h5m2 0h1m3 0h5m3 0h4m3 0h11m2 0h5m3 0h5m2 0h2m4 0h1m2 0h1m2 0h1m2 0h2m2 0h12m2 0h1m2 0h3m2 0h5m4 0h3m4 0h5m3 0h4m2 0h6m2 0h1m5 0h11m3 0h15m3 0h15m7 0h1m2 0h9m6 0h5m2 0h1m3 0h38m3 0h16m2 0h82m3 0h2m4 0h6m2 0h12m2 0h12m5 0h1m2 0h11m2 0h1m4 0h1m7 0h4m-532 1h6m6 0h1m2 0h1m3 0h2m6 0h1m6 0h1m5 0h1m3 0h1m15 0h2m2 0h6m5 0h1m4 0h1m4 0h1m2 0h1m2 0h2m3 0h1m2 0h2m2 0h1m4 0h1m3 0h7m3 0h1m5 0h8m3 0h1m3 0h1m7 0h1m3 0h2m2 0h3m2 0h3m2 0h7m4 0h1m2 0h8m2 0h1m2 0h2m2 0h5m2 0h7m3 0h1m3 0h1m2 0h7m3 0h1m7 0h1m5 0h8m3 0h10m2 0h8m2 0h5m2 0h9m2 0h7m3 0h1m3 0h7m3 0h17m2 0h6m3 0h92m2 0h8m2 0h1m3 0h30m2 0h1m3 0h1m3 0h3m3 0h2m2 0h8m2 0h2m5 0h5m3 0h1m-535 1h6m4 0h3m6 0h2m12 0h2m9 0h2m12 0h3m3 0h1m2 0h3m5 0h1m4 0h1m7 0h1m2 0h6m2 0h1m3 0h1m4 0h1m3 0h1m3 0h2m2 0h3m6 0h5m2 0h1m6 0h1m3 0h1m7 0h2m2 0h3m3 0h2m5 0h4m4 0h5m2 0h4m5 0h2m3 0h5m2 0h10m6 0h11m3 0h1m3 0h3m3 0h4m2 0h2m6 0h4m6 0h14m2 0h10m2 0h6m3 0h12m2 0h11m2 0h4m2 0h26m2 0h54m2 0h47m3 0h20m2 0h1m2 0h3m2 0h1m7 0h9m2 0h4m2 0h1m2 0h1m-536 1h1m5 0h1m4 0h1m8 0h1m3 0h3m4 0h1m2 0h1m3 0h1m4 0h1m2 0h1m10 0h5m6 0h1m5 0h1m20 0h3m4 0h1m3 0h1m10 0h2m2 0h3m6 0h5m2 0h1m7 0h5m3 0h1m8 0h1m11 0h3m3 0h4m6 0h1m11 0h5m2 0h2m3 0h7m5 0h1m5 0h3m3 0h3m2 0h7m5 0h2m6 0h4m3 0h11m4 0h2m4 0h1m2 0h1m3 0h1m2 0h5m3 0h24m2 0h6m3 0h26m3 0h6m2 0h32m2 0h47m2 0h10m2 0h7m4 0h5m2 0h3m2 0h1m4 0h3m4 0h16m2 0h1m2 0h1m-533 1h1m20 0h1m2 0h3m2 0h3m6 0h1m4 0h1m13 0h2m5 0h1m9 0h1m2 0h1m13 0h1m10 0h1m3 0h1m4 0h1m5 0h1m27 0h5m3 0h1m4 0h1m15 0h3m3 0h7m3 0h1m5 0h1m6 0h2m12 0h1m2 0h1m8 0h1m2 0h1m3 0h9m2 0h4m4 0h3m5 0h14m3 0h3m2 0h1m6 0h1m5 0h1m3 0h12m3 0h2m4 0h1m2 0h5m4 0h22m2 0h12m2 0h5m2 0h5m2 0h56m2 0h17m2 0h9m3 0h8m3 0h6m3 0h4m4 0h4m3 0h6m2 0h7m3 0h2m4 0h1m-515 1h1m3 0h1m3 0h1m3 0h1m24 0h1m5 0h1m12 0h1m9 0h1m3 0h1m2 0h1m4 0h1m11 0h1m46 0h1m23 0h5m9 0h1m15 0h1m3 0h2m8 0h1m2 0h1m6 0h10m2 0h5m4 0h1m5 0h1m3 0h3m10 0h3m2 0h1m6 0h1m2 0h4m2 0h1m2 0h10m3 0h6m3 0h5m2 0h2m3 0h5m2 0h40m2 0h22m2 0h6m2 0h43m2 0h9m4 0h1m5 0h1m2 0h1m2 0h1m2 0h2m2 0h2m4 0h3m2 0h1m4 0h5m3 0h3m2 0h1m2 0h3m4 0h1m2 0h1m-514 1h1m7 0h1m53 0h1m6 0h1m4 0h1m23 0h1m50 0h2m7 0h1m12 0h1m14 0h2m3 0h1m9 0h1m2 0h1m6 0h1m3 0h6m2 0h1m3 0h1m4 0h1m7 0h1m11 0h1m2 0h1m4 0h1m2 0h1m6 0h4m2 0h1m3 0h4m2 0h2m4 0h9m2 0h3m2 0h3m3 0h23m2 0h66m2 0h33m4 0h7m3 0h2m5 0h2m2 0h7m2 0h1m2 0h11m2 0h7m6 0h3m4 0h4m-477 1h1m60 0h1m50 0h2m16 0h1m18 0h2m11 0h1m19 0h1m12 0h1m7 0h3m4 0h1m4 0h1m2 0h1m2 0h1m2 0h4m6 0h2m7 0h2m3 0h4m3 0h16m2 0h1m3 0h14m2 0h6m3 0h31m2 0h8m2 0h50m4 0h4m2 0h10m2 0h2m2 0h13m2 0h2m3 0h4m2 0h3m3 0h7m2 0h3m2 0h2m6 0h1m-476 1h1m129 0h3m22 0h1m6 0h1m22 0h1m9 0h1m9 0h1m4 0h1m9 0h2m2 0h1m2 0h3m5 0h2m6 0h1m4 0h5m3 0h1m2 0h6m3 0h3m2 0h6m2 0h9m2 0h3m2 0h16m2 0h3m2 0h1m2 0h9m2 0h10m2 0h35m2 0h20m2 0h3m2 0h1m3 0h9m2 0h3m2 0h4m2 0h14m2 0h2m8 0h4m2 0h1m6 0h1m-344 1h1m22 0h1m29 0h1m3 0h1m25 0h1m4 0h1m8 0h1m2 0h5m6 0h1m6 0h3m3 0h1m2 0h1m2 0h5m6 0h7m2 0h4m2 0h2m2 0h13m2 0h37m2 0h57m2 0h1m4 0h3m3 0h7m2 0h3m2 0h3m2 0h1m2 0h12m2 0h2m9 0h3m2 0h1m5 0h2m-287 1h1m25 0h1m4 0h1m11 0h2m5 0h1m3 0h1m3 0h6m3 0h4m2 0h1m3 0h1m6 0h3m2 0h2m2 0h1m3 0h11m6 0h7m2 0h11m2 0h4m2 0h13m3 0h24m2 0h24m2 0h2m2 0h5m2 0h3m3 0h2m4 0h1m5 0h5m2 0h1m2 0h2m2 0h2m4 0h2m2 0h3m10 0h1m3 0h1m4 0h2m-237 1h1m7 0h3m2 0h1m2 0h1m2 0h1m6 0h4m6 0h5m2 0h2m2 0h1m4 0h6m6 0h13m2 0h1m2 0h1m4 0h21m2 0h50m2 0h7m4 0h1m4 0h4m4 0h7m6 0h5m6 0h1m2 0h6m10 0h4m-217 1h1m9 0h4m7 0h1m3 0h5m11 0h4m4 0h2m3 0h8m4 0h1m4 0h5m2 0h2m2 0h11m2 0h49m2 0h12m5 0h3m4 0h6m4 0h8m3 0h1m2 0h1m2 0h10m4 0h11m-236 1h1m7 0h1m30 0h7m2 0h1m3 0h1m4 0h2m3 0h3m2 0h5m2 0h2m2 0h3m4 0h5m2 0h10m4 0h1m2 0h45m2 0h14m3 0h1m2 0h3m6 0h6m2 0h5m2 0h2m3 0h1m2 0h1m2 0h1m2 0h7m4 0h2m4 0h5m-236 1h1m7 0h1m7 0h1m12 0h1m3 0h1m4 0h1m3 0h1m2 0h1m2 0h1m2 0h2m4 0h11m2 0h2m2 0h8m4 0h12m2 0h7m2 0h29m2 0h28m2 0h1m2 0h6m4 0h14m2 0h5m4 0h4m2 0h3m13 0h1m2 0h1m-218 1h1m2 0h1m6 0h4m3 0h1m4 0h5m8 0h1m2 0h1m2 0h4m3 0h5m7 0h6m4 0h12m2 0h15m2 0h6m3 0h25m2 0h4m2 0h1m2 0h11m2 0h3m2 0h16m2 0h2m2 0h2m3 0h1m2 0h2m3 0h1m8 0h1m5 0h1m2 0h1m-215 1h1m6 0h2m12 0h1m7 0h1m5 0h1m4 0h1m4 0h5m5 0h1m2 0h9m3 0h12m5 0h4m2 0h3m2 0h6m2 0h10m2 0h18m2 0h1m4 0h11m4 0h1m2 0h6m2 0h1m2 0h9m6 0h7m11 0h5m4 0h3m-195 1h1m6 0h1m10 0h1m4 0h1m9 0h13m2 0h11m3 0h1m4 0h1m2 0h1m2 0h9m2 0h10m2 0h3m2 0h16m2 0h1m2 0h11m2 0h2m2 0h4m7 0h10m3 0h11m3 0h2m4 0h7m2 0h3m-195 1h1m3 0h1m5 0h1m22 0h4m2 0h2m3 0h4m2 0h6m6 0h3m2 0h4m2 0h5m3 0h1m2 0h3m3 0h40m2 0h1m2 0h2m2 0h4m8 0h3m3 0h9m2 0h6m3 0h10m2 0h1m-204 1h1m17 0h1m4 0h2m18 0h1m2 0h1m3 0h1m4 0h1m2 0h12m3 0h11m3 0h5m5 0h4m2 0h14m2 0h21m3 0h1m2 0h3m2 0h1m2 0h3m3 0h1m2 0h6m2 0h6m2 0h3m3 0h4m4 0h8m2 0h2m2 0h1m-208 1h1m22 0h1m10 0h3m6 0h4m3 0h2m3 0h1m3 0h1m2 0h1m3 0h4m3 0h8m2 0h1m3 0h5m2 0h1m2 0h4m2 0h1m2 0h3m2 0h19m2 0h12m4 0h5m7 0h9m4 0h2m2 0h5m4 0h3m6 0h2m2 0h6m2 0h1m-174 1h3m7 0h4m2 0h2m7 0h5m5 0h1m6 0h1m3 0h4m3 0h5m2 0h8m4 0h18m3 0h17m4 0h5m2 0h3m2 0h2m3 0h1m3 0h2m3 0h1m2 0h5m4 0h1m6 0h3m2 0h5m-158 1h3m13 0h3m3 0h3m3 0h1m7 0h3m3 0h6m3 0h10m2 0h16m2 0h23m3 0h11m6 0h2m6 0h2m2 0h1m2 0h1m7 0h7m9 0h1m-161 1h1m2 0h1m12 0h1m2 0h2m4 0h1m6 0h1m2 0h1m2 0h9m2 0h3m2 0h9m2 0h37m3 0h4m2 0h1m2 0h1m2 0h1m4 0h1m2 0h2m2 0h1m3 0h1m2 0h1m2 0h1m2 0h7m2 0h1m8 0h1m-169 1h1m7 0h4m7 0h1m4 0h5m4 0h1m2 0h5m2 0h5m2 0h7m5 0h17m2 0h11m4 0h14m3 0h1m2 0h3m6 0h3m2 0h5m5 0h1m2 0h1m3 0h1m2 0h5m4 0h1m2 0h1m2 0h2m-167 1h1m6 0h3m9 0h1m6 0h2m8 0h3m3 0h3m2 0h10m2 0h1m2 0h5m5 0h11m2 0h25m3 0h1m2 0h3m6 0h3m3 0h1m2 0h1m3 0h3m2 0h5m3 0h4m4 0h1m2 0h1m2 0h2m-160 1h1m29 0h3m2 0h5m2 0h8m2 0h12m3 0h6m2 0h1m4 0h4m2 0h18m2 0h6m6 0h3m5 0h6m2 0h1m3 0h3m3 0h1m3 0h1m3 0h1m-124 1h4m2 0h5m8 0h3m2 0h11m3 0h1m2 0h6m4 0h3m4 0h21m3 0h2m2 0h3m8 0h4m4 0h1m2 0h4m5 0h3m-120 1h1m9 0h3m6 0h3m2 0h11m5 0h9m2 0h8m3 0h16m4 0h9m4 0h1m2 0h1m6 0h1m2 0h4m3 0h5m3 0h1m-130 1h2m9 0h1m6 0h1m3 0h1m2 0h2m5 0h9m5 0h18m3 0h5m2 0h8m3 0h1m5 0h6m4 0h2m6 0h1m3 0h3m5 0h1m3 0h1m3 0h1m5 0h2m-138 1h3m9 0h1m10 0h2m2 0h3m5 0h1m3 0h3m5 0h6m2 0h10m3 0h5m5 0h10m2 0h1m2 0h4m6 0h1m6 0h1m3 0h3m4 0h1m4 0h1m9 0h2m-138 1h1m4 0h3m16 0h2m3 0h1m4 0h2m2 0h4m3 0h1m6 0h1m2 0h1m2 0h7m5 0h34m3 0h1m2 0h1m8 0h10m2 0h1m5 0h2m-139 1h2m3 0h3m17 0h1m8 0h2m2 0h4m3 0h2m2 0h3m5 0h3m2 0h6m2 0h12m2 0h8m3 0h1m2 0h5m4 0h4m3 0h1m4 0h6m3 0h1m2 0h1m6 0h1m-139 1h2m8 0h1m7 0h1m3 0h1m6 0h3m2 0h1m2 0h4m4 0h2m2 0h4m4 0h3m2 0h6m2 0h22m3 0h1m3 0h1m2 0h2m4 0h1m3 0h3m6 0h1m9 0h3m3 0h1m-128 1h1m7 0h1m3 0h1m2 0h1m3 0h3m3 0h12m3 0h4m2 0h39m2 0h13m2 0h3m2 0h1m3 0h1m2 0h1m6 0h3m3 0h1m-134 1h1m20 0h1m4 0h1m4 0h1m5 0h5m4 0h30m2 0h1m2 0h4m4 0h17m2 0h3m2 0h1m3 0h1m2 0h1m5 0h1m3 0h1m-131 1h1m3 0h1m29 0h1m3 0h3m3 0h7m2 0h23m6 0h3m3 0h1m3 0h11m7 0h3m4 0h1m2 0h1m2 0h1m2 0h1m3 0h5m-131 1h1m17 0h2m10 0h1m8 0h6m3 0h13m4 0h7m3 0h1m2 0h7m2 0h2m8 0h13m3 0h1m2 0h1m2 0h1m6 0h5m-113 1h2m8 0h1m10 0h1m2 0h1m2 0h10m2 0h6m2 0h1m2 0h3m2 0h3m3 0h9m7 0h1m2 0h8m2 0h2m4 0h3m9 0h3m2 0h1m-104 1h1m4 0h1m7 0h1m3 0h8m4 0h3m2 0h4m2 0h3m2 0h4m5 0h6m5 0h3m7 0h6m5 0h1m3 0h1m7 0h3m2 0h1m-117 1h1m10 0h4m3 0h5m2 0h2m6 0h4m7 0h1m2 0h4m2 0h11m4 0h3m2 0h1m3 0h3m8 0h4m4 0h1m4 0h3m2 0h1m-107 1h1m10 0h4m2 0h6m2 0h11m4 0h2m2 0h7m2 0h11m5 0h11m2 0h1m5 0h3m4 0h3m3 0h2m3 0h1m4 0h1m2 0h1m-110 1h1m6 0h1m4 0h1m9 0h5m8 0h2m4 0h2m3 0h1m8 0h1m2 0h2m7 0h6m4 0h1m2 0h6m4 0h3m3 0h2m6 0h3m2 0h1m-110 1h1m20 0h1m2 0h3m8 0h1m2 0h1m3 0h2m2 0h2m4 0h8m4 0h1m2 0h1m2 0h3m2 0h1m4 0h6m3 0h1m2 0h2m3 0h1m3 0h1m2 0h3m2 0h1m-89 1h1m2 0h3m5 0h8m3 0h14m2 0h2m3 0h4m2 0h1m2 0h4m5 0h1m6 0h1m3 0h1m2 0h2m3 0h1m2 0h3m2 0h1m-95 1h1m2 0h1m5 0h1m7 0h3m2 0h4m2 0h14m2 0h12m2 0h4m2 0h1m2 0h1m10 0h5m8 0h1m2 0h1m-95 1h1m2 0h1m2 0h3m12 0h5m2 0h4m2 0h1m2 0h8m2 0h12m2 0h4m7 0h3m5 0h1m5 0h1m5 0h3m-89 1h3m10 0h6m4 0h9m2 0h10m2 0h12m4 0h7m11 0h1m5 0h1m2 0h1m-103 1h1m12 0h1m9 0h1m2 0h1m4 0h1m4 0h9m3 0h6m2 0h5m4 0h3m7 0h3m3 0h3m7 0h1m10 0h1m-103 1h1m18 0h1m3 0h1m7 0h3m4 0h1m3 0h3m4 0h1m2 0h2m2 0h4m3 0h3m4 0h2m2 0h4m3 0h3m7 0h5m-77 1h1m2 0h1m9 0h2m8 0h3m3 0h2m2 0h1m3 0h10m2 0h7m2 0h1m5 0h1m8 0h4m-74 1h1m3 0h1m5 0h2m10 0h1m2 0h2m2 0h4m2 0h1m3 0h4m3 0h10m5 0h2m8 0h2m6 0h1m-92 1h1m15 0h1m3 0h1m2 0h1m13 0h2m2 0h4m2 0h4m3 0h2m2 0h5m2 0h1m2 0h2m3 0h2m7 0h1m4 0h1m3 0h1m-92 1h1m11 0h1m7 0h1m5 0h4m3 0h1m4 0h1m2 0h4m2 0h16m5 0h2m5 0h1m6 0h1m2 0h3m-76 1h1m13 0h4m3 0h2m5 0h3m4 0h1m4 0h2m3 0h1m3 0h3m4 0h1m2 0h2m2 0h2m8 0h2m5 0h1m-62 1h1m2 0h1m5 0h1m3 0h4m4 0h6m2 0h4m4 0h5m2 0h2m6 0h1m2 0h1m5 0h1m-74 1h1m11 0h1m8 0h1m2 0h3m3 0h7m2 0h4m5 0h6m5 0h1m2 0h3m2 0h7m-74 1h1m10 0h1m9 0h4m5 0h12m6 0h1m2 0h4m3 0h2m2 0h1m4 0h7m-75 1h2m10 0h1m6 0h1m2 0h4m2 0h7m2 0h19m3 0h2m3 0h1m6 0h4m-75 1h1m18 0h1m6 0h9m3 0h17m4 0h2m3 0h1m5 0h5m-77 1h1m7 0h1m2 0h1m7 0h1m8 0h2m2 0h5m4 0h3m2 0h2m3 0h1m7 0h1m12 0h1m2 0h1m-76 1h1m4 0h1m2 0h1m2 0h1m7 0h1m3 0h1m4 0h2m3 0h1m2 0h6m3 0h2m2 0h1m3 0h1m5 0h1m11 0h5m-71 1h1m17 0h1m3 0h2m7 0h4m4 0h15m2 0h1m2 0h1m2 0h1m3 0h3m-58 1h1m2 0h5m3 0h1m5 0h4m2 0h1m3 0h2m2 0h6m2 0h4m2 0h4m2 0h3m-54 1h1m2 0h4m6 0h1m3 0h3m4 0h1m2 0h2m2 0h3m6 0h1m4 0h9m-49 1h1m7 0h3m8 0h1m3 0h1m2 0h1m2 0h1m5 0h1m2 0h4m2 0h3m3 0h6m-58 1h1m11 0h1m2 0h1m2 0h1m2 0h2m2 0h4m2 0h3m2 0h5m2 0h3m2 0h1m3 0h6m-64 1h3m3 0h1m8 0h1m4 0h2m2 0h5m3 0h1m6 0h4m2 0h1m5 0h1m4 0h2m4 0h2m-64 1h3m8 0h1m3 0h1m3 0h2m4 0h4m2 0h1m5 0h7m2 0h1m2 0h1m6 0h2m2 0h2m-55 1h1m3 0h1m7 0h1m4 0h4m2 0h2m3 0h5m2 0h8m4 0h8m2 0h1m-58 1h2m4 0h1m10 0h2m4 0h1m4 0h4m2 0h4m2 0h4m2 0h9m2 0h1m-57 1h1m4 0h1m8 0h1m3 0h1m3 0h1m2 0h6m2 0h1m2 0h1m2 0h7m3 0h5m-40 1h1m3 0h1m2 0h5m2 0h1m11 0h8m5 0h1m-47 1h1m9 0h2m2 0h5m5 0h1m5 0h1m2 0h1m4 0h3m5 0h1m-48 1h2m9 0h9m2 0h6m3 0h4m2 0h3m3 0h3m2 0h1m-51 1h3m12 0h3m2 0h1m3 0h2m2 0h2m3 0h4m2 0h2m3 0h4m2 0h2m-52 1h3m8 0h1m8 0h1m4 0h1m2 0h1m4 0h4m3 0h1m2 0h4m3 0h2m-41 1h1m16 0h1m2 0h6m5 0h2m3 0h1m2 0h1m-29 1h1m5 0h1m2 0h4m2 0h2m3 0h2m3 0h1m2 0h1m-43 1h3m11 0h1m5 0h1m8 0h2m6 0h1m4 0h2m-44 1h5m6 0h1m5 0h1m8 0h5m3 0h1m2 0h1m2 0h1m2 0h1m-42 1h3m6 0h1m3 0h5m6 0h5m2 0h2m2 0h1m2 0h1m-49 1h1m2 0h1m6 0h1m4 0h1m3 0h1m3 0h2m2 0h2m4 0h1m2 0h2m3 0h6m2 0h1m-50 1h1m2 0h1m11 0h1m3 0h1m4 0h1m3 0h1m4 0h6m2 0h3m2 0h1m2 0h3m-33 1h1m8 0h3m2 0h6m2 0h1m6 0h4m-36 1h1m13 0h1m7 0h2m2 0h1m3 0h3m-33 1h2m14 0h1m3 0h4m2 0h1m3 0h1m-30 1h1m14 0h2m2 0h1m2 0h8m-15 1h2m5 0h7m5 0h1m-33 1h1m12 0h1m8 0h1m6 0h4m-33 1h3m20 0h1m2 0h1m2 0h5m-33 1h2m20 0h4m6 0h1m-32 1h1m22 0h1m2 0h1m-17 1h3m10 0h1m2 0h1m-33 1h1m11 0h1m3 0h5m8 0h1m-30 1h1m11 0h2m6 0h1m8 0h1m2 0h1m2 0h2m-24 1h1m2 0h1m12 0h8m-21 1h1m14 0h3m2 0h2m-1 1h1m-16 1h1m4 0h1m3 0h1m5 0h1m-16 1h1m4 0h1m3 0h1m-1 2h1m-11 1h1m9 0h1m-11 1h1m3 0h1m-4 1h1m2 0h2m-5 1h1m3 0h1m-8 1h1m11 0h1m-13 1h1m11 0h1m-2 1h1m-9 1h1m7 0h1m-9 1h1m9 0h1m-1 1h1m2 1h2m-2 1h2m-19 1h1m-1 1h1m10 1h1m-1 1h1"/>
<path stroke="#ff0000" d="M1498 1016h1m-1 1h1m-2 5h1m-3 1h3m-3 1h3m-5 1h1m-1 1h5m-7 1h1m2 0h4m-7 1h1m2 0h5m-11 1h1m2 0h1m2 0h5m-13 1h3m2 0h6m-11 1h4m3 0h5m-12 1h1m2 0h10m-15 1h1m2 0h6m2 0h4m-16 1h2m2 0h5m2 0h4m-15 1h2m2 0h5m2 0h1m2 0h1m-21 1h1m6 0h15m-22 1h1m2 0h2m4 0h13m-19 1h2m4 0h11m-20 1h6m2 0h14m-22 1h6m2 0h14m-24 1h3m2 0h1m5 0h13m-24 1h3m2 0h17m-20 1h1m2 0h18m-23 1h3m4 0h16m-23 1h1m5 0h2m2 0h11m-25 1h1m2 0h9m2 0h11m-28 1h1m2 0h1m2 0h6m2 0h2m2 0h5m2 0h6m-31 1h1m3 0h7m4 0h16m-28 1h2m3 0h22m-29 1h4m3 0h23m-30 1h3m2 0h25m-29 1h2m2 0h5m2 0h17m-33 1h1m4 0h2m3 0h3m3 0h16m-32 1h1m2 0h1m3 0h1m2 0h6m2 0h14m-38 1h1m4 0h1m3 0h2m2 0h9m3 0h9m2 0h2m-39 1h2m3 0h7m2 0h10m3 0h12m-39 1h2m2 0h29m2 0h2m2 0h1m-43 1h5m2 0h5m2 0h4m2 0h23m-43 1h12m3 0h4m2 0h7m2 0h13m-45 1h5m2 0h7m2 0h13m6 0h10m-45 1h5m2 0h25m2 0h11m-45 1h1m2 0h1m2 0h2m3 0h29m-43 1h1m2 0h8m2 0h29m3 0h3m-48 1h38m3 0h7m-47 1h40m2 0h6m-51 1h3m2 0h7m3 0h4m3 0h21m3 0h5m-51 1h3m3 0h11m2 0h22m3 0h6m-49 1h4m2 0h7m3 0h15m2 0h6m2 0h3m3 0h2m-50 1h5m2 0h25m2 0h17m-51 1h5m2 0h20m2 0h8m4 0h6m3 0h1m-61 1h1m4 0h1m2 0h4m2 0h2m2 0h19m2 0h10m2 0h3m2 0h1m-57 1h2m2 0h2m2 0h2m5 0h1m2 0h21m2 0h3m3 0h12m-58 1h1m2 0h2m2 0h5m2 0h1m2 0h21m2 0h1m3 0h1m2 0h11m-63 1h4m6 0h11m3 0h11m2 0h2m3 0h1m3 0h17m-63 1h4m3 0h1m2 0h6m2 0h3m2 0h10m4 0h16m3 0h2m2 0h3m-60 1h2m2 0h1m2 0h7m2 0h14m2 0h13m6 0h3m3 0h3m-64 1h1m3 0h8m4 0h3m2 0h27m4 0h6m3 0h1m2 0h1m-68 1h1m2 0h10m5 0h24m2 0h7m4 0h7m5 0h1m-68 1h1m2 0h46m2 0h1m3 0h7m-65 1h1m5 0h36m2 0h7m3 0h2m2 0h5m-63 1h2m4 0h3m2 0h2m2 0h33m2 0h1m2 0h11m-63 1h1m2 0h1m4 0h1m2 0h35m6 0h13m3 0h1m-72 1h2m4 0h1m4 0h5m2 0h21m2 0h3m2 0h6m2 0h10m3 0h1m2 0h2m-75 1h1m2 0h2m4 0h4m2 0h4m2 0h14m2 0h3m2 0h5m2 0h6m2 0h1m2 0h11m2 0h2m-75 1h1m4 0h2m3 0h29m2 0h4m4 0h1m3 0h1m4 0h17m-84 1h1m13 0h2m3 0h27m2 0h6m2 0h1m2 0h4m4 0h2m5 0h3m2 0h5m-85 1h2m3 0h1m5 0h7m5 0h2m2 0h19m3 0h6m2 0h1m2 0h3m2 0h1m3 0h7m2 0h1m4 0h2m-85 1h1m4 0h3m3 0h19m2 0h16m2 0h5m2 0h5m3 0h3m2 0h4m4 0h6m-82 1h1m2 0h8m3 0h14m2 0h6m2 0h15m2 0h12m3 0h5m3 0h3m-81 1h1m2 0h19m2 0h4m2 0h25m2 0h10m2 0h7m4 0h3m-93 1h1m2 0h2m5 0h77m2 0h1m2 0h2m-94 1h1m2 0h2m4 0h5m2 0h8m2 0h23m2 0h7m3 0h1m2 0h5m4 0h2m3 0h1m3 0h2m2 0h1m2 0h1m3 0h1m-98 1h1m3 0h4m5 0h14m2 0h5m2 0h14m2 0h14m2 0h8m6 0h1m5 0h3m6 0h1m-98 1h1m3 0h4m3 0h1m2 0h8m2 0h35m2 0h5m2 0h1m4 0h3m2 0h3m4 0h1m2 0h3m6 0h1m-97 1h1m2 0h3m2 0h3m2 0h16m2 0h21m2 0h11m2 0h1m2 0h3m3 0h14m2 0h1m-93 1h29m2 0h34m2 0h1m2 0h2m4 0h1m3 0h4m2 0h7m4 0h1m-99 1h27m2 0h15m2 0h9m3 0h8m2 0h5m2 0h1m6 0h2m2 0h1m2 0h10m-115 1h1m15 0h1m2 0h2m4 0h18m2 0h27m2 0h18m10 0h1m2 0h2m2 0h4m-113 1h1m12 0h2m2 0h5m3 0h31m2 0h5m2 0h2m2 0h3m2 0h4m2 0h4m3 0h3m8 0h1m6 0h1m8 0h1m-108 1h4m2 0h29m2 0h20m2 0h4m4 0h11m3 0h1m5 0h9m3 0h3m5 0h1m-111 1h13m2 0h13m3 0h29m2 0h14m3 0h3m2 0h1m2 0h7m2 0h3m3 0h3m-108 1h1m2 0h9m2 0h17m2 0h31m2 0h1m2 0h5m2 0h1m5 0h3m2 0h14m6 0h1m4 0h1m-119 1h1m4 0h2m9 0h1m2 0h2m2 0h18m2 0h22m3 0h16m4 0h3m2 0h2m4 0h9m2 0h1m2 0h3m2 0h1m-119 1h1m4 0h1m2 0h1m2 0h1m4 0h4m3 0h18m2 0h1m2 0h15m2 0h2m3 0h9m2 0h6m3 0h3m2 0h1m2 0h1m2 0h9m2 0h3m2 0h1m2 0h1m-113 1h3m2 0h1m2 0h22m3 0h1m3 0h4m2 0h36m2 0h1m2 0h4m2 0h1m2 0h1m3 0h10m4 0h2m-136 1h1m22 0h3m2 0h8m2 0h15m2 0h46m3 0h6m3 0h4m6 0h1m2 0h9m-135 1h1m12 0h1m5 0h17m2 0h36m2 0h13m5 0h7m5 0h4m4 0h3m4 0h12m-120 1h1m5 0h17m2 0h7m2 0h32m4 0h6m6 0h4m5 0h1m3 0h2m3 0h4m4 0h6m3 0h5m-133 1h1m3 0h1m12 0h14m2 0h10m2 0h46m2 0h4m3 0h4m7 0h2m2 0h9m2 0h7m-139 1h1m3 0h8m4 0h8m2 0h11m2 0h51m3 0h6m2 0h2m2 0h2m2 0h4m2 0h13m4 0h1m2 0h5m-140 1h2m2 0h9m3 0h7m3 0h35m2 0h10m2 0h4m2 0h6m2 0h17m2 0h12m2 0h3m2 0h1m6 0h6m-144 1h1m4 0h1m2 0h2m2 0h1m2 0h3m2 0h31m2 0h1m2 0h21m2 0h22m3 0h4m4 0h1m2 0h7m4 0h2m9 0h4m2 0h1m-145 1h2m7 0h2m2 0h1m2 0h4m2 0h1m2 0h53m2 0h7m2 0h10m2 0h2m8 0h4m2 0h1m2 0h2m2 0h1m3 0h1m4 0h3m2 0h4m2 0h1m-151 1h1m2 0h1m2 0h2m6 0h4m2 0h19m3 0h6m3 0h18m2 0h9m2 0h15m2 0h1m2 0h3m2 0h2m4 0h9m5 0h4m3 0h1m2 0h5m3 0h6m-154 1h1m2 0h1m2 0h1m2 0h2m6 0h25m7 0h26m2 0h23m4 0h5m7 0h16m2 0h4m2 0h1m7 0h2m2 0h1m-154 1h3m4 0h1m2 0h1m4 0h18m2 0h2m2 0h1m2 0h1m2 0h1m2 0h12m2 0h39m4 0h7m3 0h1m5 0h4m2 0h3m5 0h5m2 0h1m6 0h2m2 0h1m-156 1h6m3 0h4m2 0h5m2 0h20m2 0h41m2 0h10m3 0h18m3 0h1m2 0h5m8 0h9m2 0h9m-159 1h3m4 0h1m4 0h12m3 0h15m2 0h9m3 0h24m2 0h1m2 0h2m2 0h6m3 0h2m2 0h13m2 0h2m2 0h3m2 0h2m2 0h2m2 0h1m2 0h6m2 0h3m2 0h3m2 0h4m-170 1h1m9 0h2m4 0h1m3 0h3m3 0h9m4 0h51m2 0h3m5 0h3m3 0h1m3 0h14m4 0h2m2 0h3m2 0h1m4 0h7m3 0h2m4 0h1m2 0h5m2 0h2m-185 1h1m9 0h1m4 0h1m9 0h1m5 0h10m4 0h53m2 0h11m4 0h4m2 0h10m2 0h6m6 0h6m4 0h1m2 0h2m2 0h2m2 0h3m4 0h1m2 0h2m2 0h1m2 0h2m-185 1h1m9 0h1m5 0h1m6 0h1m4 0h13m2 0h44m4 0h11m2 0h3m2 0h3m3 0h16m2 0h1m2 0h3m5 0h7m2 0h3m3 0h8m6 0h3m5 0h4m-202 1h1m23 0h1m8 0h1m3 0h5m3 0h3m2 0h1m4 0h32m2 0h15m2 0h45m2 0h3m5 0h1m4 0h19m5 0h12m-202 1h1m7 0h1m9 0h3m3 0h1m3 0h1m4 0h2m2 0h5m3 0h11m2 0h44m3 0h7m2 0h24m2 0h17m4 0h1m2 0h1m3 0h12m3 0h2m3 0h9m4 0h1m-194 1h4m5 0h4m4 0h4m2 0h1m2 0h22m2 0h11m2 0h28m2 0h11m2 0h9m2 0h6m2 0h5m3 0h7m3 0h6m2 0h6m3 0h3m3 0h5m4 0h1m4 0h6m-199 1h1m12 0h4m5 0h5m2 0h30m3 0h12m2 0h36m2 0h3m2 0h16m3 0h3m3 0h1m4 0h1m2 0h6m2 0h10m3 0h4m3 0h9m5 0h4m2 0h1m-207 1h1m2 0h1m2 0h1m6 0h1m4 0h1m2 0h1m3 0h11m3 0h21m2 0h3m3 0h33m3 0h22m2 0h2m2 0h10m3 0h3m2 0h2m5 0h4m2 0h1m2 0h6m2 0h9m5 0h10m6 0h4m4 0h1m-250 1h1m21 0h1m7 0h1m6 0h1m2 0h1m4 0h3m2 0h1m3 0h2m2 0h1m2 0h5m2 0h34m2 0h2m2 0h12m2 0h35m2 0h7m3 0h10m3 0h16m2 0h1m2 0h6m2 0h1m2 0h1m2 0h1m5 0h5m2 0h5m2 0h1m2 0h5m3 0h2m-250 1h1m21 0h1m7 0h1m3 0h3m3 0h1m2 0h6m5 0h1m3 0h8m3 0h1m2 0h18m2 0h2m3 0h23m2 0h26m2 0h2m2 0h11m4 0h5m2 0h1m4 0h2m3 0h12m6 0h1m2 0h2m4 0h6m2 0h4m2 0h1m2 0h4m3 0h9m2 0h2m-248 1h1m8 0h1m11 0h1m2 0h1m2 0h3m2 0h3m5 0h2m2 0h3m2 0h4m4 0h3m2 0h2m3 0h13m2 0h41m2 0h23m4 0h10m5 0h1m2 0h2m3 0h1m3 0h3m3 0h3m2 0h1m2 0h1m5 0h1m5 0h2m4 0h6m2 0h3m2 0h1m4 0h5m2 0h5m2 0h1m-265 1h2m19 0h1m8 0h3m4 0h1m4 0h1m2 0h1m2 0h5m3 0h1m4 0h18m4 0h1m2 0h10m2 0h47m2 0h33m2 0h10m3 0h8m2 0h4m2 0h2m2 0h2m2 0h6m2 0h1m7 0h1m4 0h3m2 0h2m2 0h12m2 0h1m-516 1h1m46 0h1m147 0h1m51 0h1m4 0h2m3 0h1m9 0h2m2 0h1m8 0h5m3 0h3m5 0h2m5 0h2m3 0h1m4 0h18m2 0h10m2 0h17m2 0h90m3 0h8m2 0h5m2 0h3m2 0h1m4 0h4m4 0h18m2 0h9m-521 1h1m15 0h2m12 0h3m10 0h5m15 0h1m5 0h1m58 0h1m6 0h3m35 0h1m19 0h4m6 0h1m43 0h2m4 0h1m2 0h4m6 0h3m2 0h1m5 0h1m2 0h5m2 0h19m2 0h1m2 0h6m2 0h18m2 0h23m2 0h49m2 0h1m2 0h7m2 0h12m3 0h1m2 0h11m2 0h1m2 0h2m4 0h3m5 0h3m5 0h5m4 0h5m3 0h10m3 0h8m-537 1h1m3 0h1m27 0h2m12 0h3m10 0h3m17 0h1m3 0h9m13 0h3m15 0h4m9 0h1m2 0h1m4 0h1m6 0h3m8 0h1m26 0h1m19 0h1m2 0h1m6 0h2m10 0h1m4 0h1m9 0h1m3 0h1m3 0h3m6 0h3m3 0h1m2 0h4m6 0h3m5 0h1m2 0h1m2 0h3m2 0h22m2 0h8m2 0h64m2 0h31m2 0h7m2 0h4m3 0h6m2 0h6m3 0h1m3 0h1m2 0h6m2 0h2m7 0h3m4 0h8m2 0h2m4 0h11m2 0h1m2 0h4m-534 1h1m2 0h3m2 0h3m9 0h4m3 0h1m8 0h1m9 0h1m5 0h3m5 0h1m17 0h6m3 0h6m4 0h1m3 0h1m3 0h3m3 0h1m5 0h1m4 0h5m9 0h1m2 0h3m8 0h1m7 0h1m3 0h2m2 0h1m5 0h4m13 0h1m6 0h5m6 0h1m2 0h2m4 0h1m3 0h4m6 0h3m3 0h16m2 0h3m6 0h5m3 0h4m3 0h2m3 0h4m3 0h1m5 0h2m2 0h15m3 0h15m3 0h11m2 0h84m2 0h2m2 0h2m2 0h6m3 0h4m2 0h3m2 0h1m3 0h4m4 0h1m2 0h2m2 0h5m2 0h2m2 0h1m4 0h1m2 0h5m2 0h10m5 0h1m3 0h8m-535 1h1m2 0h3m2 0h6m6 0h4m3 0h3m2 0h1m2 0h5m2 0h14m2 0h3m3 0h6m4 0h10m3 0h1m2 0h5m2 0h1m3 0h4m2 0h1m2 0h2m5 0h2m3 0h9m2 0h1m5 0h3m6 0h7m3 0h6m2 0h11m4 0h1m6 0h2m2 0h1m3 0h5m5 0h8m2 0h2m3 0h4m4 0h23m2 0h2m3 0h5m3 0h17m2 0h1m3 0h35m3 0h6m2 0h44m2 0h1m3 0h24m2 0h25m2 0h3m2 0h5m4 0h1m3 0h7m3 0h9m3 0h8m2 0h7m2 0h2m5 0h1m2 0h5m2 0h3m7 0h1m2 0h9m-538 1h4m2 0h11m2 0h12m2 0h1m2 0h25m4 0h15m2 0h7m2 0h8m2 0h15m3 0h2m2 0h24m2 0h7m5 0h5m3 0h9m4 0h5m2 0h1m2 0h3m2 0h2m2 0h10m3 0h35m2 0h3m2 0h7m6 0h75m2 0h31m2 0h4m4 0h50m4 0h9m2 0h1m5 0h7m3 0h3m2 0h9m2 0h9m2 0h2m2 0h3m4 0h7m2 0h3m2 0h1m4 0h3m2 0h5m2 0h1m-538 1h13m2 0h17m4 0h2m2 0h2m2 0h24m4 0h32m2 0h16m2 0h4m2 0h10m3 0h4m2 0h9m2 0h10m2 0h15m2 0h10m2 0h48m2 0h40m4 0h8m2 0h87m2 0h26m2 0h3m2 0h6m3 0h1m4 0h8m2 0h2m5 0h16m2 0h5m2 0h12m5 0h2m3 0h11m4 0h8m-529 1h35m2 0h19m2 0h22m2 0h20m3 0h57m3 0h24m2 0h11m2 0h29m2 0h15m4 0h24m3 0h78m2 0h60m2 0h12m2 0h20m2 0h12m2 0h14m2 0h9m3 0h10m2 0h3m6 0h3m2 0h1m2 0h4m2 0h1m-537 1h12m2 0h32m2 0h3m2 0h40m2 0h66m2 0h16m3 0h75m2 0h19m3 0h76m2 0h62m2 0h37m2 0h23m3 0h2m2 0h6m5 0h2m2 0h4m4 0h5m2 0h5m3 0h7m-536 1h394m2 0h23m3 0h4m2 0h21m2 0h1m2 0h6m3 0h1m2 0h2m2 0h3m2 0h6m4 0h3m2 0h9m3 0h1m2 0h5m4 0h5m3 0h4m4 0h1m2 0h2m-535 1h405m2 0h13m2 0h17m2 0h21m4 0h1m2 0h7m2 0h1m6 0h2m3 0h1m6 0h2m2 0h6m2 0h1m6 0h10m4 0h6m-536 1h427m2 0h1m2 0h13m2 0h6m3 0h3m2 0h1m4 0h10m2 0h2m2 0h1m2 0h2m7 0h3m3 0h2m2 0h7m6 0h1m2 0h1m3 0h3m2 0h7m-537 1h386m2 0h38m2 0h2m3 0h2m3 0h11m2 0h3m3 0h7m4 0h5m2 0h12m3 0h8m3 0h1m3 0h7m2 0h1m2 0h2m5 0h1m2 0h8m-535 1h331m2 0h98m2 0h7m2 0h7m2 0h13m4 0h2m3 0h1m2 0h4m2 0h1m2 0h11m2 0h4m5 0h12m4 0h2m2 0h3m2 0h5m2 0h1m-540 1h431m2 0h12m2 0h3m2 0h10m4 0h4m2 0h8m2 0h1m2 0h9m2 0h6m3 0h8m2 0h2m4 0h6m2 0h1m4 0h6m-540 1h372m2 0h52m2 0h9m4 0h1m2 0h2m2 0h2m2 0h10m4 0h4m2 0h3m2 0h1m4 0h1m4 0h6m2 0h18m3 0h11m2 0h3m5 0h1m-537 1h403m2 0h20m2 0h9m2 0h3m3 0h5m2 0h4m2 0h5m5 0h2m2 0h7m2 0h1m7 0h3m3 0h10m3 0h6m2 0h17m2 0h3m-537 1h323m2 0h32m2 0h2m2 0h47m2 0h29m2 0h11m2 0h7m3 0h1m2 0h9m2 0h4m3 0h7m3 0h1m2 0h1m3 0h3m2 0h12m2 0h4m4 0h1m2 0h3m-538 1h410m3 0h34m3 0h10m3 0h1m2 0h10m2 0h3m2 0h2m3 0h1m2 0h5m2 0h1m2 0h1m2 0h4m3 0h1m3 0h7m5 0h1m5 0h2m2 0h1m-538 1h399m2 0h21m3 0h10m3 0h5m3 0h1m3 0h14m2 0h18m4 0h8m2 0h1m5 0h10m4 0h4m5 0h1m2 0h10m-540 1h399m2 0h2m3 0h24m2 0h3m2 0h5m3 0h4m2 0h12m2 0h14m2 0h3m3 0h4m7 0h5m2 0h9m2 0h6m5 0h1m2 0h10m-540 1h404m2 0h12m2 0h5m2 0h6m4 0h5m3 0h18m2 0h2m2 0h4m2 0h4m3 0h2m2 0h7m5 0h12m2 0h1m3 0h3m6 0h9m3 0h2m-539 1h413m3 0h17m7 0h1m5 0h1m2 0h2m2 0h6m2 0h4m2 0h6m2 0h5m2 0h2m2 0h7m6 0h1m3 0h7m2 0h1m3 0h3m5 0h5m4 0h1m3 0h1m-538 1h414m2 0h4m2 0h12m2 0h38m2 0h1m2 0h1m3 0h1m4 0h5m4 0h3m2 0h5m2 0h1m2 0h1m2 0h5m4 0h3m2 0h1m3 0h3m-536 1h355m2 0h23m2 0h43m2 0h28m3 0h9m2 0h5m3 0h4m8 0h1m2 0h1m2 0h5m2 0h3m4 0h1m2 0h11m3 0h1m2 0h2m2 0h3m2 0h1m-538 1h390m2 0h43m2 0h17m2 0h7m2 0h4m3 0h1m3 0h5m6 0h3m4 0h7m2 0h5m3 0h2m3 0h1m2 0h5m4 0h2m2 0h1m2 0h3m-539 1h410m3 0h34m2 0h6m2 0h13m2 0h3m4 0h3m2 0h7m4 0h2m2 0h3m2 0h6m2 0h1m3 0h1m7 0h3m2 0h3m4 0h3m-539 1h398m2 0h10m3 0h11m2 0h3m2 0h1m2 0h17m2 0h13m2 0h9m3 0h12m4 0h1m2 0h1m4 0h3m2 0h1m2 0h5m5 0h1m3 0h1m3 0h2m3 0h4m-539 1h416m2 0h6m2 0h11m2 0h12m2 0h9m2 0h7m3 0h18m2 0h3m6 0h3m2 0h1m3 0h5m2 0h9m2 0h1m4 0h1m2 0h1m-539 1h416m2 0h6m3 0h7m2 0h15m2 0h3m2 0h4m2 0h6m4 0h11m5 0h2m2 0h2m2 0h1m4 0h7m3 0h4m2 0h2m2 0h5m2 0h1m2 0h2m-535 1h415m2 0h23m2 0h28m4 0h1m3 0h7m2 0h6m2 0h22m3 0h1m3 0h2m5 0h7m-538 1h439m2 0h5m2 0h12m2 0h10m2 0h1m3 0h7m2 0h18m3 0h5m9 0h4m2 0h4m2 0h4m-538 1h402m2 0h29m2 0h4m2 0h11m3 0h3m4 0h24m2 0h8m2 0h6m4 0h4m2 0h3m4 0h9m5 0h4m-539 1h351m2 0h100m2 0h22m2 0h3m3 0h12m9 0h2m2 0h8m2 0h2m2 0h6m5 0h1m2 0h1m-539 1h54m2 0h252m2 0h138m2 0h24m2 0h1m2 0h6m2 0h1m2 0h1m4 0h4m2 0h1m3 0h8m3 0h5m6 0h4m3 0h2m2 0h1m-539 1h407m2 0h18m2 0h4m3 0h12m2 0h27m2 0h6m6 0h2m2 0h1m2 0h1m2 0h1m2 0h6m2 0h1m2 0h8m4 0h5m2 0h1m-534 1h447m2 0h7m2 0h18m4 0h8m2 0h2m2 0h1m2 0h1m2 0h9m2 0h16m2 0h2m-532 1h6m3 0h180m2 0h32m2 0h206m2 0h40m3 0h1m4 0h14m2 0h1m3 0h9m4 0h2m2 0h3m2 0h5m2 0h3m5 0h1m-539 1h81m2 0h265m2 0h23m2 0h51m2 0h45m3 0h5m3 0h4m2 0h8m3 0h9m4 0h9m4 0h1m2 0h3m2 0h1m2 0h1m-538 1h80m2 0h90m3 0h64m3 0h91m2 0h78m3 0h46m2 0h9m3 0h11m3 0h3m2 0h3m4 0h11m2 0h8m2 0h10m-536 1h8m2 0h269m2 0h126m2 0h25m2 0h5m2 0h1m3 0h19m2 0h6m4 0h11m8 0h4m2 0h5m2 0h9m2 0h8m2 0h3m4 0h1m-539 1h104m2 0h159m2 0h22m2 0h151m2 0h21m3 0h4m6 0h6m2 0h3m6 0h10m5 0h2m2 0h16m2 0h1m3 0h3m-537 1h16m2 0h30m2 0h26m2 0h27m2 0h27m2 0h132m2 0h39m2 0h1m2 0h95m2 0h29m2 0h4m2 0h15m3 0h1m2 0h1m4 0h3m2 0h2m3 0h1m7 0h12m4 0h2m2 0h11m3 0h5m3 0h1m-536 1h35m2 0h47m2 0h35m2 0h12m2 0h66m2 0h20m2 0h17m2 0h58m2 0h6m2 0h96m2 0h29m2 0h6m3 0h12m3 0h2m2 0h10m2 0h3m7 0h12m4 0h2m2 0h1m2 0h5m2 0h1m4 0h8m2 0h1m-539 1h10m2 0h13m2 0h24m3 0h25m2 0h1m2 0h1m2 0h12m2 0h17m5 0h1m2 0h8m2 0h45m4 0h34m4 0h10m2 0h54m2 0h18m2 0h32m2 0h18m2 0h46m2 0h19m2 0h15m2 0h14m2 0h9m2 0h1m2 0h6m6 0h12m2 0h5m3 0h7m2 0h12m2 0h1m-539 1h12m2 0h12m2 0h47m3 0h31m3 0h6m6 0h1m2 0h30m2 0h17m2 0h29m2 0h9m3 0h25m2 0h101m2 0h49m2 0h45m3 0h12m2 0h1m2 0h11m3 0h6m2 0h1m2 0h5m2 0h1m2 0h3m2 0h5m3 0h3m3 0h8m5 0h1m-536 1h7m2 0h4m2 0h13m2 0h1m3 0h2m3 0h3m3 0h17m2 0h6m2 0h36m6 0h6m2 0h4m2 0h10m3 0h35m3 0h9m2 0h33m3 0h6m2 0h13m2 0h9m2 0h35m2 0h53m3 0h93m2 0h4m2 0h12m3 0h2m2 0h1m2 0h11m3 0h1m2 0h6m2 0h1m3 0h1m3 0h4m4 0h1m3 0h1m2 0h2m3 0h3m3 0h3m-538 1h13m2 0h2m3 0h5m2 0h2m3 0h1m5 0h3m2 0h7m2 0h7m2 0h4m3 0h2m2 0h20m5 0h11m6 0h12m2 0h31m2 0h11m7 0h9m3 0h3m3 0h44m2 0h6m3 0h14m2 0h4m5 0h46m2 0h51m3 0h49m2 0h23m2 0h5m2 0h5m3 0h6m2 0h6m6 0h1m3 0h2m2 0h8m3 0h7m4 0h8m2 0h4m3 0h1m-537 1h2m2 0h6m9 0h2m5 0h6m5 0h3m2 0h1m4 0h1m3 0h7m2 0h3m2 0h2m5 0h10m2 0h7m2 0h2m2 0h4m3 0h6m2 0h9m6 0h6m2 0h4m3 0h1m2 0h1m4 0h1m6 0h9m3 0h14m2 0h1m4 0h17m2 0h16m4 0h11m2 0h23m2 0h1m2 0h1m5 0h2m3 0h8m2 0h9m2 0h24m2 0h127m2 0h2m2 0h5m2 0h10m4 0h1m5 0h2m3 0h2m3 0h7m3 0h7m3 0h9m2 0h4m-533 1h3m4 0h5m3 0h1m3 0h4m3 0h4m9 0h5m9 0h1m2 0h1m3 0h1m4 0h2m5 0h1m2 0h7m3 0h3m2 0h1m2 0h2m2 0h2m3 0h1m2 0h5m2 0h10m4 0h7m7 0h1m2 0h1m10 0h1m2 0h6m2 0h13m2 0h3m2 0h1m4 0h6m2 0h6m5 0h7m2 0h1m2 0h5m2 0h3m5 0h1m2 0h1m3 0h8m2 0h12m2 0h1m2 0h3m6 0h3m3 0h4m4 0h7m2 0h3m2 0h5m3 0h5m2 0h4m2 0h11m2 0h14m2 0h107m2 0h4m3 0h3m12 0h1m3 0h1m5 0h1m2 0h2m3 0h3m3 0h4m2 0h1m3 0h1m3 0h1m2 0h4m-533 1h5m2 0h5m2 0h2m2 0h5m5 0h5m8 0h3m9 0h1m6 0h1m10 0h2m4 0h1m2 0h3m7 0h5m3 0h1m3 0h1m9 0h1m4 0h1m3 0h1m3 0h5m7 0h1m2 0h4m2 0h3m5 0h1m6 0h2m4 0h3m6 0h2m2 0h3m7 0h2m3 0h1m2 0h3m2 0h1m5 0h1m11 0h5m2 0h4m3 0h1m6 0h4m4 0h6m2 0h1m2 0h8m3 0h4m2 0h18m4 0h6m2 0h32m2 0h4m3 0h12m2 0h25m2 0h32m2 0h40m2 0h5m2 0h3m3 0h1m4 0h3m2 0h4m5 0h1m3 0h2m2 0h5m4 0h4m2 0h11m3 0h1m-534 1h3m6 0h1m2 0h8m2 0h1m3 0h5m10 0h1m6 0h1m7 0h1m12 0h1m5 0h6m9 0h1m2 0h4m6 0h1m6 0h1m2 0h3m7 0h5m7 0h1m2 0h3m2 0h6m5 0h1m4 0h1m6 0h1m5 0h4m2 0h8m5 0h3m2 0h3m3 0h1m5 0h1m7 0h8m5 0h1m3 0h1m2 0h1m3 0h10m4 0h4m4 0h5m2 0h5m2 0h8m2 0h5m5 0h3m2 0h22m2 0h3m3 0h2m2 0h10m5 0h6m2 0h1m2 0h25m2 0h52m2 0h20m2 0h5m2 0h4m2 0h14m4 0h1m2 0h4m2 0h5m5 0h3m2 0h1m2 0h9m2 0h1m-532 1h1m4 0h3m4 0h1m7 0h1m3 0h1m14 0h1m5 0h2m7 0h4m4 0h1m5 0h1m6 0h2m14 0h2m8 0h1m6 0h1m2 0h2m4 0h1m5 0h1m8 0h1m4 0h1m3 0h1m4 0h1m5 0h1m7 0h3m7 0h4m4 0h6m5 0h2m9 0h1m2 0h1m2 0h3m5 0h3m2 0h1m8 0h2m4 0h1m4 0h8m5 0h1m2 0h4m2 0h7m2 0h2m2 0h1m6 0h3m3 0h1m4 0h3m4 0h10m2 0h1m2 0h11m5 0h1m4 0h8m5 0h125m3 0h6m2 0h7m2 0h1m2 0h4m2 0h7m3 0h1m4 0h14m-532 1h1m5 0h2m16 0h1m6 0h1m14 0h1m10 0h2m4 0h1m5 0h1m7 0h1m18 0h1m5 0h1m2 0h1m7 0h1m4 0h1m5 0h1m8 0h1m3 0h1m23 0h3m8 0h3m3 0h1m12 0h2m11 0h1m4 0h1m6 0h1m9 0h1m2 0h2m10 0h1m2 0h2m5 0h1m5 0h3m2 0h2m2 0h3m6 0h1m2 0h1m2 0h4m3 0h6m8 0h8m2 0h12m2 0h1m2 0h3m4 0h40m2 0h56m2 0h15m2 0h1m5 0h15m2 0h4m2 0h13m3 0h1m6 0h2m2 0h7m3 0h6m3 0h4m-534 1h3m23 0h1m6 0h1m49 0h1m14 0h3m5 0h3m17 0h3m10 0h1m21 0h1m18 0h1m12 0h2m6 0h1m6 0h4m16 0h1m2 0h1m11 0h1m3 0h1m5 0h1m3 0h1m10 0h4m2 0h1m4 0h8m4 0h4m6 0h24m3 0h1m2 0h6m2 0h2m2 0h8m2 0h5m2 0h11m3 0h63m2 0h1m2 0h11m2 0h1m4 0h14m2 0h22m3 0h9m2 0h6m4 0h9m4 0h1m-536 1h1m9 0h1m27 0h1m44 0h1m16 0h1m5 0h3m19 0h1m32 0h1m24 0h1m14 0h1m6 0h2m8 0h1m12 0h1m8 0h1m12 0h1m3 0h1m11 0h3m2 0h1m4 0h3m3 0h1m3 0h3m5 0h2m2 0h5m2 0h1m2 0h8m2 0h5m8 0h3m2 0h9m5 0h6m7 0h71m2 0h19m2 0h5m2 0h13m2 0h9m2 0h1m3 0h10m2 0h1m2 0h1m7 0h3m5 0h1m3 0h1m2 0h1m-526 1h1m27 0h1m147 0h2m6 0h1m23 0h1m11 0h1m9 0h1m28 0h1m2 0h1m16 0h4m3 0h3m4 0h1m6 0h1m3 0h3m4 0h8m7 0h1m3 0h8m3 0h8m3 0h1m4 0h8m2 0h8m2 0h4m5 0h62m2 0h12m3 0h2m2 0h1m3 0h3m2 0h3m6 0h10m5 0h1m3 0h1m3 0h3m9 0h4m-349 1h1m6 0h1m23 0h1m11 0h2m27 0h4m9 0h1m19 0h5m7 0h1m2 0h1m2 0h1m4 0h1m8 0h8m7 0h2m4 0h1m3 0h7m2 0h2m2 0h2m2 0h9m2 0h17m2 0h12m2 0h19m2 0h10m2 0h28m2 0h6m2 0h3m3 0h4m4 0h3m2 0h2m3 0h1m4 0h1m5 0h1m2 0h2m4 0h1m7 0h1m-303 1h1m27 0h4m31 0h1m3 0h2m4 0h1m2 0h1m16 0h16m3 0h9m3 0h1m2 0h2m2 0h2m2 0h9m4 0h7m3 0h8m4 0h13m2 0h13m2 0h29m2 0h14m2 0h1m2 0h8m6 0h3m3 0h3m6 0h1m4 0h1m3 0h2m4 0h1m5 0h3m-241 1h1m3 0h3m24 0h1m4 0h1m3 0h6m3 0h12m2 0h3m2 0h2m4 0h1m3 0h4m6 0h2m2 0h1m2 0h10m2 0h7m2 0h43m2 0h4m2 0h9m2 0h2m2 0h1m4 0h7m2 0h1m2 0h1m9 0h2m11 0h1m4 0h3m4 0h1m3 0h1m5 0h1m-245 1h1m3 0h1m2 0h1m19 0h2m2 0h1m5 0h4m2 0h3m3 0h1m2 0h1m3 0h2m2 0h1m2 0h10m4 0h2m3 0h3m4 0h3m3 0h16m5 0h43m2 0h7m2 0h5m2 0h3m2 0h1m2 0h5m2 0h1m3 0h5m8 0h5m7 0h1m2 0h3m2 0h1m3 0h4m7 0h1m-238 1h1m8 0h1m7 0h1m2 0h7m3 0h4m2 0h3m4 0h1m6 0h1m6 0h4m2 0h3m2 0h3m4 0h3m6 0h4m2 0h3m3 0h1m2 0h1m3 0h4m2 0h1m2 0h2m2 0h8m2 0h35m2 0h4m2 0h2m4 0h1m2 0h2m2 0h1m2 0h2m2 0h5m2 0h1m3 0h1m3 0h6m4 0h7m4 0h2m2 0h1m4 0h3m-228 1h1m7 0h1m5 0h1m2 0h1m3 0h3m10 0h1m2 0h1m3 0h1m9 0h1m6 0h2m2 0h2m4 0h1m2 0h12m4 0h4m3 0h5m2 0h3m3 0h8m2 0h37m2 0h6m4 0h6m3 0h3m2 0h5m2 0h1m3 0h2m3 0h5m2 0h6m2 0h1m4 0h1m8 0h3m-226 1h1m5 0h1m12 0h3m13 0h2m19 0h2m2 0h4m2 0h6m5 0h4m4 0h6m3 0h3m2 0h8m2 0h4m4 0h1m2 0h14m2 0h11m2 0h9m3 0h10m2 0h2m4 0h1m2 0h3m4 0h2m10 0h3m5 0h1m5 0h1m3 0h1m3 0h1m2 0h1m-227 1h1m5 0h1m12 0h1m11 0h1m4 0h1m8 0h1m9 0h3m5 0h1m2 0h3m11 0h1m2 0h1m6 0h2m2 0h13m2 0h5m3 0h17m2 0h2m2 0h2m2 0h13m2 0h9m2 0h1m2 0h4m3 0h5m3 0h3m3 0h1m4 0h1m2 0h1m9 0h8m6 0h1m-196 1h1m13 0h1m9 0h3m7 0h1m2 0h1m7 0h1m3 0h4m5 0h3m2 0h21m2 0h13m3 0h8m2 0h14m2 0h9m5 0h11m3 0h8m2 0h3m2 0h1m4 0h1m4 0h6m-186 1h1m8 0h1m15 0h3m5 0h1m2 0h2m3 0h1m2 0h1m4 0h4m3 0h7m2 0h3m3 0h6m3 0h4m2 0h29m3 0h5m4 0h11m4 0h11m2 0h8m2 0h11m5 0h1m2 0h3m-187 1h1m8 0h1m2 0h1m2 0h1m2 0h1m5 0h6m6 0h2m3 0h1m8 0h3m3 0h12m5 0h42m3 0h1m3 0h1m3 0h3m2 0h9m2 0h3m2 0h17m2 0h9m6 0h1m2 0h3m4 0h1m-180 1h1m2 0h1m2 0h1m5 0h3m2 0h1m6 0h1m3 0h3m3 0h2m8 0h3m4 0h2m6 0h3m2 0h5m3 0h2m2 0h1m2 0h9m2 0h13m3 0h3m2 0h1m2 0h4m2 0h4m2 0h13m2 0h11m2 0h3m5 0h4m2 0h2m2 0h1m6 0h2m-177 1h1m9 0h1m4 0h1m3 0h1m4 0h3m3 0h2m2 0h1m5 0h2m2 0h6m4 0h4m3 0h4m3 0h2m5 0h3m2 0h11m3 0h6m4 0h1m2 0h1m2 0h11m2 0h4m3 0h6m3 0h6m6 0h2m2 0h1m2 0h4m2 0h1m11 0h1m-177 1h1m14 0h1m3 0h1m14 0h1m6 0h6m2 0h3m2 0h1m6 0h10m2 0h3m3 0h11m2 0h8m3 0h13m3 0h9m4 0h1m2 0h2m3 0h5m4 0h4m2 0h1m2 0h2m2 0h2m8 0h2m-142 1h1m6 0h1m3 0h1m5 0h3m3 0h1m3 0h12m2 0h2m4 0h35m2 0h1m4 0h1m2 0h4m2 0h3m3 0h1m4 0h1m6 0h4m10 0h3m6 0h3m-159 1h1m16 0h1m4 0h3m4 0h3m2 0h1m5 0h1m3 0h4m3 0h1m6 0h12m3 0h5m3 0h11m2 0h5m2 0h1m4 0h7m2 0h2m2 0h1m3 0h1m5 0h2m2 0h4m3 0h3m3 0h4m6 0h1m2 0h3m-165 1h1m2 0h1m13 0h1m5 0h4m4 0h4m2 0h3m3 0h1m3 0h8m3 0h2m4 0h6m2 0h2m2 0h5m3 0h15m2 0h1m2 0h3m4 0h1m2 0h3m2 0h1m2 0h5m5 0h2m4 0h3m2 0h3m3 0h1m6 0h2m4 0h3m-165 1h1m16 0h1m5 0h1m7 0h1m7 0h1m3 0h1m3 0h1m4 0h3m3 0h2m3 0h17m5 0h22m2 0h2m2 0h6m4 0h8m2 0h2m4 0h2m3 0h2m2 0h4m4 0h2m3 0h1m2 0h3m-151 1h1m6 0h1m8 0h1m4 0h3m4 0h1m7 0h1m5 0h1m2 0h15m6 0h14m2 0h13m2 0h6m3 0h1m2 0h6m2 0h4m7 0h1m3 0h6m2 0h1m4 0h1m2 0h3m-151 1h1m6 0h1m3 0h1m4 0h6m6 0h1m7 0h1m8 0h13m3 0h1m4 0h7m2 0h19m2 0h6m2 0h3m5 0h2m6 0h1m4 0h1m6 0h1m2 0h7m-145 1h1m13 0h1m2 0h1m2 0h4m11 0h1m6 0h1m5 0h13m2 0h2m2 0h1m2 0h5m2 0h2m2 0h5m3 0h16m2 0h4m4 0h3m9 0h3m10 0h5m7 0h1m-153 1h1m16 0h1m4 0h1m12 0h1m4 0h3m3 0h4m3 0h15m2 0h4m2 0h2m2 0h6m4 0h15m2 0h14m6 0h4m13 0h1m6 0h2m-133 1h3m12 0h3m2 0h2m4 0h1m11 0h19m3 0h15m5 0h1m2 0h18m6 0h4m2 0h1m5 0h1m3 0h1m7 0h1m-144 1h1m11 0h1m10 0h1m2 0h4m3 0h1m2 0h1m11 0h1m2 0h6m3 0h9m4 0h26m2 0h5m2 0h8m2 0h5m2 0h4m2 0h1m3 0h1m-136 1h1m17 0h2m3 0h1m2 0h1m2 0h1m3 0h1m2 0h1m6 0h1m3 0h2m5 0h2m4 0h1m3 0h19m2 0h13m6 0h1m3 0h15m4 0h4m3 0h5m4 0h1m-127 1h3m9 0h1m9 0h1m3 0h6m2 0h1m2 0h1m3 0h1m5 0h8m3 0h1m2 0h19m2 0h1m4 0h2m2 0h5m2 0h7m8 0h1m3 0h7m2 0h3m-129 1h1m4 0h1m13 0h1m2 0h1m2 0h5m2 0h6m3 0h1m3 0h1m3 0h5m4 0h1m3 0h5m2 0h2m3 0h2m2 0h1m3 0h2m3 0h2m2 0h5m3 0h1m2 0h3m5 0h1m6 0h2m3 0h2m4 0h1m-124 1h1m11 0h3m5 0h4m2 0h2m2 0h3m4 0h1m2 0h1m3 0h1m2 0h15m2 0h3m2 0h10m3 0h5m2 0h4m4 0h3m2 0h1m2 0h2m4 0h2m4 0h2m3 0h1m-112 1h4m6 0h1m3 0h8m4 0h2m2 0h1m2 0h3m2 0h18m4 0h1m2 0h19m4 0h2m3 0h1m3 0h1m4 0h1m3 0h1m2 0h1m3 0h1m-113 1h2m2 0h1m2 0h1m2 0h2m3 0h8m5 0h1m2 0h15m3 0h1m2 0h20m3 0h8m4 0h2m5 0h1m10 0h1m2 0h3m-125 1h1m13 0h1m6 0h1m2 0h1m2 0h12m3 0h2m3 0h10m2 0h1m3 0h18m2 0h3m2 0h7m7 0h1m5 0h1m13 0h3m-125 1h1m20 0h1m3 0h3m4 0h1m2 0h4m4 0h1m3 0h1m2 0h6m3 0h1m5 0h11m3 0h2m4 0h1m2 0h8m6 0h3m10 0h1m6 0h4m-119 1h1m9 0h1m7 0h1m5 0h2m5 0h1m4 0h1m3 0h1m2 0h11m3 0h5m2 0h3m4 0h4m2 0h1m7 0h4m6 0h3m9 0h2m3 0h1m5 0h1m-119 1h1m9 0h5m9 0h2m3 0h1m6 0h6m3 0h1m2 0h7m2 0h5m4 0h3m2 0h7m4 0h1m2 0h3m4 0h1m2 0h1m5 0h1m3 0h3m4 0h1m4 0h4m-109 1h3m7 0h4m3 0h1m7 0h2m2 0h1m4 0h1m2 0h9m8 0h5m4 0h2m4 0h5m5 0h5m2 0h4m3 0h1m8 0h1m2 0h4m-99 1h1m2 0h1m7 0h6m7 0h1m2 0h1m2 0h6m3 0h1m6 0h3m5 0h12m2 0h5m2 0h4m3 0h2m8 0h1m4 0h1m-93 1h1m3 0h8m12 0h11m7 0h14m2 0h3m2 0h4m2 0h4m4 0h2m4 0h1m3 0h3m-94 1h1m3 0h1m3 0h3m2 0h1m9 0h1m4 0h3m2 0h5m4 0h1m4 0h7m2 0h6m2 0h3m2 0h5m2 0h5m2 0h11m-102 1h1m5 0h3m4 0h1m2 0h9m6 0h1m6 0h1m2 0h1m3 0h3m2 0h4m2 0h1m2 0h1m5 0h1m2 0h7m2 0h3m4 0h5m2 0h3m3 0h3m-105 1h1m4 0h1m5 0h1m6 0h1m4 0h7m9 0h3m9 0h3m2 0h6m2 0h19m2 0h1m2 0h1m5 0h1m3 0h1m5 0h1m-105 1h1m17 0h1m6 0h3m4 0h1m4 0h7m7 0h3m4 0h3m3 0h8m2 0h12m2 0h1m5 0h1m3 0h1m3 0h1m2 0h4m-96 1h1m4 0h1m6 0h1m6 0h1m4 0h1m5 0h1m9 0h1m5 0h11m4 0h1m2 0h7m10 0h1m7 0h1m2 0h4m-96 1h1m11 0h1m2 0h1m14 0h3m7 0h1m4 0h1m3 0h1m2 0h5m4 0h4m3 0h1m9 0h1m2 0h4m3 0h3m2 0h1m-89 1h1m5 0h1m3 0h2m7 0h4m4 0h1m6 0h1m5 0h1m2 0h2m5 0h4m2 0h8m2 0h1m4 0h3m2 0h4m3 0h3m2 0h5m-93 1h1m5 0h1m4 0h1m4 0h7m2 0h2m2 0h1m4 0h1m8 0h11m2 0h1m2 0h8m4 0h4m8 0h1m5 0h4m-77 1h2m2 0h7m2 0h2m7 0h1m6 0h8m2 0h1m2 0h3m3 0h1m2 0h8m4 0h1m3 0h3m3 0h1m-93 1h1m21 0h1m2 0h4m4 0h4m4 0h1m7 0h1m3 0h6m2 0h2m4 0h13m2 0h1m2 0h1m2 0h7m-95 1h1m21 0h1m3 0h3m5 0h3m3 0h1m8 0h1m3 0h6m2 0h1m6 0h2m6 0h1m2 0h7m4 0h1m2 0h2m-83 1h1m13 0h1m2 0h1m10 0h3m7 0h1m3 0h2m2 0h7m3 0h1m2 0h1m6 0h8m2 0h3m2 0h2m-83 1h1m4 0h1m11 0h1m2 0h1m2 0h1m6 0h1m7 0h1m3 0h2m2 0h7m6 0h3m2 0h5m5 0h5m2 0h2m-78 1h1m14 0h4m18 0h10m3 0h2m4 0h1m2 0h1m2 0h1m5 0h5m-67 1h1m4 0h1m5 0h1m9 0h4m8 0h4m2 0h10m2 0h3m2 0h1m2 0h1m2 0h1m2 0h3m3 0h1m-72 1h1m4 0h1m11 0h1m3 0h6m5 0h6m2 0h3m4 0h2m2 0h3m5 0h1m6 0h2m3 0h1m-75 1h1m3 0h1m15 0h1m8 0h1m5 0h3m2 0h1m2 0h1m13 0h1m3 0h1m7 0h5m-74 1h1m3 0h1m6 0h1m4 0h1m14 0h1m5 0h1m4 0h1m4 0h1m2 0h4m3 0h1m3 0h1m2 0h1m2 0h7m-63 1h1m4 0h1m4 0h1m9 0h2m2 0h5m2 0h1m4 0h1m2 0h5m5 0h1m3 0h6m4 0h1m-61 1h1m6 0h1m6 0h1m2 0h2m2 0h1m2 0h2m2 0h1m4 0h1m5 0h3m2 0h3m3 0h7m2 0h2m-64 1h6m4 0h1m3 0h1m2 0h1m2 0h1m6 0h2m5 0h1m2 0h13m3 0h1m2 0h1m2 0h1m2 0h1m-63 1h3m2 0h1m4 0h1m3 0h1m2 0h1m6 0h1m2 0h1m6 0h9m2 0h3m6 0h1m4 0h3m-70 1h1m10 0h1m20 0h1m3 0h1m6 0h3m2 0h7m7 0h1m4 0h3m-70 1h1m10 0h1m24 0h1m2 0h1m5 0h7m2 0h1m2 0h1m5 0h1m2 0h1m-45 1h1m2 0h1m13 0h3m4 0h4m3 0h5m5 0h5m3 0h2m-51 1h1m2 0h3m8 0h3m2 0h2m4 0h2m4 0h5m7 0h3m3 0h2m-54 1h2m6 0h1m8 0h3m3 0h1m2 0h6m3 0h4m10 0h4m-56 1h1m2 0h2m4 0h1m5 0h1m10 0h1m2 0h6m5 0h3m2 0h1m2 0h2m2 0h4m-56 1h1m8 0h1m5 0h1m10 0h1m2 0h5m4 0h8m2 0h2m3 0h2m-38 1h2m5 0h3m2 0h5m4 0h3m2 0h1m2 0h4m3 0h3m-42 1h1m2 0h2m4 0h2m2 0h1m3 0h2m3 0h1m2 0h1m6 0h2m3 0h5m-47 1h1m4 0h1m6 0h10m5 0h4m2 0h1m3 0h9m-53 1h1m6 0h1m2 0h1m7 0h2m3 0h6m2 0h1m3 0h2m3 0h5m2 0h3m2 0h1m-53 1h1m9 0h2m3 0h1m2 0h1m5 0h1m6 0h5m4 0h3m5 0h2m-45 1h1m5 0h1m3 0h1m6 0h1m4 0h1m3 0h5m3 0h2m2 0h1m-41 1h3m10 0h3m3 0h1m3 0h2m11 0h1m3 0h1m5 0h1m-47 1h1m12 0h3m7 0h2m2 0h1m18 0h1m-34 1h1m11 0h3m12 0h2m6 0h1m-36 1h1m11 0h1m14 0h2m6 0h1m-37 1h1m13 0h1m11 0h1m2 0h3m-32 1h1m2 0h1m10 0h1m8 0h1m2 0h1m2 0h3m-29 1h1m6 0h1m8 0h1m2 0h2m5 0h3m4 0h3m-37 1h1m6 0h2m4 0h1m3 0h1m2 0h1m6 0h3m4 0h3m-37 1h1m3 0h1m2 0h1m5 0h1m7 0h2m8 0h1m-28 1h1m3 0h1m12 0h2m3 0h1m4 0h1m-24 1h1m13 0h5m3 0h1m5 0h1m-35 1h1m19 0h3m2 0h1m2 0h1m5 0h1m-35 1h1m24 0h1m2 0h2m4 0h1m-13 1h1m5 0h4m2 0h2m-14 1h1m8 0h1m3 0h1m-26 1h1m10 0h1m13 0h1m-26 1h1m10 0h2m7 0h1m4 0h1m-14 1h1m7 0h1m-14 1h1m10 0h1m4 0h1m-17 1h1m10 0h1m2 0h3m-26 1h1m18 0h2m2 0h1m-24 1h1m5 0h3m10 0h1m-14 1h3m5 0h1m3 0h1m-5 1h1m3 0h1m3 0h2m2 0h1m-13 1h2m6 0h2m2 0h1m-13 1h2m-6 1h1m8 0h1m-10 1h1m8 0h1m6 0h1m-13 1h1m11 0h1m-13 1h1m10 0h2m-2 1h1m-11 1h1m9 0h1m-11 1h1m9 0h1m-4 3h1m-1 1h1m2 1h1m-8 1h1m6 0h1m-8 1h1"/>
<path stroke="#0000ff" d="M976 968h1m-18 1h1m2 0h24m2 0h5m3 0h8m2 0h2m2 0h1m2 0h8m3 0h3m4 0h2m2 0h9m5 0h5m2 0h4m2 0h3m2 0h1m5 0h2m2 0h4m5 0h5m4 0h2m3 0h2m8 0h1m-152 1h68m2 0h53m2 0h27m3 0h15m4 0h2m6 0h1m9 0h1m-193 1h184m2 0h26m3 0h1m-216 1h224m4 0h2m3 0h4m2 0h6m-245 1h225m2 0h21m6 0h3m2 0h1m3 0h1m-264 1h276m-276 1h286m4 0h1m5 0h1m-297 1h287m2 0h10m2 0h2m-303 1h309m8 0h1m-318 1h321m-321 1h326m-326 1h326m2 0h7m-334 1h341m-341 1h8m2 0h12m2 0h16m3 0h42m2 0h7m2 0h250m-345 1h1m2 0h1m2 0h1m3 0h1m3 0h1m14 0h2m2 0h1m2 0h3m4 0h1m2 0h3m5 0h3m8 0h3m3 0h2m4 0h7m2 0h1m3 0h3m4 0h24m2 0h1m2 0h1m3 0h2m3 0h1m2 0h2m3 0h1m2 0h27m2 0h170m4 0h2m-351 1h1m64 0h1m13 0h1m3 0h1m15 0h3m6 0h1m6 0h1m4 0h1m10 0h1m6 0h1m7 0h6m2 0h3m2 0h3m2 0h4m4 0h1m2 0h1m3 0h175m3 0h1m-220 1h1m8 0h1m13 0h1m3 0h1m19 0h3m4 0h3m2 0h1m3 0h5m4 0h152m-175 1h1m13 0h4m6 0h1m2 0h1m2 0h6m5 0h9m2 0h130m-152 1h1m13 0h1m2 0h1m6 0h3m2 0h1m3 0h3m3 0h10m2 0h104m-122 1h3m3 0h3m2 0h2m4 0h5m3 0h101m-109 1h3m2 0h1m3 0h3m2 0h95m3 0h2m-109 1h1m14 0h1m4 0h92m-92 1h1m2 0h3m2 0h1m3 0h84m2 0h1m-82 1h82m-77 1h4m2 0h2m2 0h73m-82 1h2m3 0h2m2 0h75m-69 1h1m2 0h69m-67 1h1m2 0h1m2 0h64m-67 1h1m4 0h64m-57 1h61m-60 1h1m6 0h55m-55 1h3m3 0h50m2 0h1m-59 1h1m8 0h51m-51 1h5m2 0h47m-52 1h1m5 0h49m-47 1h47m2 0h1m-50 1h3m2 0h45m-42 1h47m-45 1h46m2 0h1m-48 1h48m-45 1h1m4 0h43m-40 1h42m-39 1h42m-42 1h1m2 0h40m-38 1h39m-37 1h40m-39 1h1m3 0h39m-39 1h41m-38 1h38m-38 1h2m2 0h33m3 0h1m-37 1h38m-36 1h36m-30 1h33m-35 1h36m-36 1h1m3 0h33m2 0h1m-36 1h36m-35 1h1m4 0h31m-31 1h34m-32 1h34m-33 1h34m-34 1h37m-34 1h34m-33 1h36m-33 1h1m2 0h32m-35 1h1m2 0h34m-34 1h1m2 0h31m-34 1h1m2 0h32m-31 1h1m3 0h27m-31 1h1m2 0h31m-31 1h33m-30 1h30m-30 1h32m-30 1h31m3 0h1m-33 1h30m2 0h1m-31 1h31m-31 1h1m2 0h29m-29 1h31m-30 1h2m2 0h28m-31 1h31m-29 1h28m-28 1h32m-30 1h31m-26 1h28m-31 1h35m-35 1h2m3 0h30m-31 1h29m-29 1h31m3 0h1m-33 1h29m3 0h2m-34 1h1m3 0h30m-29 1h31m-33 1h33m-33 1h1m4 0h29m-30 1h30m-30 1h31m-26 1h30m-29 1h29m-28 1h30m-30 1h31m-31 1h33m-33 1h34m-31 1h31m-31 1h34m-34 1h34m-33 1h1m2 0h30m-30 1h33m-32 1h33m-31 1h31m-31 1h30m-29 1h30m-30 1h30m-29 1h29m-27 1h26m-25 1h26m-26 1h26m-22 1h22m-21 1h21m-21 1h21m-20 1h19m-16 1h16m-17 1h18m-18 1h18m-16 1h15m-15 1h15m-12 1h13m-14 1h14m-14 1h1m2 0h11m-11 1h11m-10 1h10m-10 1h10m-8 1h8m-8 1h8m-7 1h7m-6 1h1m2 0h3m-3 1h3m-3 1h3m-3 1h2m-2 1h2m0 1h1m-1 1h1"/>
</g>
<g stroke="#000" stroke-width="0.3" stroke-linejoin="round">
<text x="930.11" y="1399.28" font-size="31.59">10<tspan x="974.01" y="1375.51" font-size="23.57">-4</tspan></text>
<text x="1121.65" y="1399.28" font-size="31.59">10<tspan x="1165.54" y="1375.51" font-size="23.57">-3</tspan></text>
<text x="1313.18" y="1399.28" font-size="31.59">10<tspan x="1357.07" y="1375.51" font-size="23.57">-2</tspan></text>
<text x="1504.71" y="1399.28" font-size="31.59">10<tspan x="1548.61" y="1375.51" font-size="23.57">-1</tspan></text>
<text x="880.36" y="1350.14" font-size="31.59">10<tspan x="927.87" y="1321.45" font-size="23.57">-3</tspan></text>
<text x="880.36" y="1089.82" font-size="31.59">10<tspan x="927.87" y="1061.13" font-size="23.57">-2</tspan></text>
<text x="880.36" y="829.5" font-size="31.59">10<tspan x="927.87" y="800.81" font-size="23.57">-1</tspan></text>
<text x="1534.35" y="1429.47" font-size="31.59" text-anchor="end">m<tspan font-size="21.56" dy="10.03">3</tspan><tspan dy="-10.03"> (eV)</tspan></text>
<text transform="translate(858.4 992.55) rotate(-90) scale(1.003)" font-size="32"><tspan x="0" y="0" font-size="32">M</tspan><tspan x="27.4" y="10.4" font-size="24" class="s">ν</tspan><tspan x="38.6" y="2.8" font-size="32">=</tspan><tspan x="56.29" y="0.6" font-size="34.5">√</tspan><tspan x="74.46" y="0" font-size="32">2 </tspan><tspan x="101.6" y="0" font-size="31">v</tspan><tspan x="116.3" y="10.8" font-size="22.5" class="s">Δ </tspan><tspan x="138.6" y="0" font-size="33.5" class="s">Γ</tspan><tspan x="158.2" y="13" font-size="22">++ </tspan><tspan x="193.6" y="0" font-size="31.3">(eV)</tspan></text>
<text x="1016.35" y="828.6" font-size="32.09">IH</text>
<text x="1016.67" y="932" font-size="32.09" fill="#0000de" stroke="#0000de">M<tspan class="s" font-size="23.57" dy="10.03">ν</tspan><tspan font-size="22.57" dy="-15.65">23</tspan></text>
<text x="1016.67" y="1113.5" font-size="32.09">M<tspan class="s" font-size="23.57" dy="10.03">ν</tspan><tspan font-size="22.57" dy="-15.65">12</tspan></text>
<text x="1149.97" y="1113.5" font-size="32.09" fill="#e0000c" stroke="#e0000c">M<tspan class="s" font-size="23.57" dy="10.03">ν</tspan><tspan font-size="22.57" dy="-15.65">13</tspan></text>
<text x="790.89" y="758.6" font-size="33" font-weight="bold">D</text>
</g>
</g>
</svg></body></html>
